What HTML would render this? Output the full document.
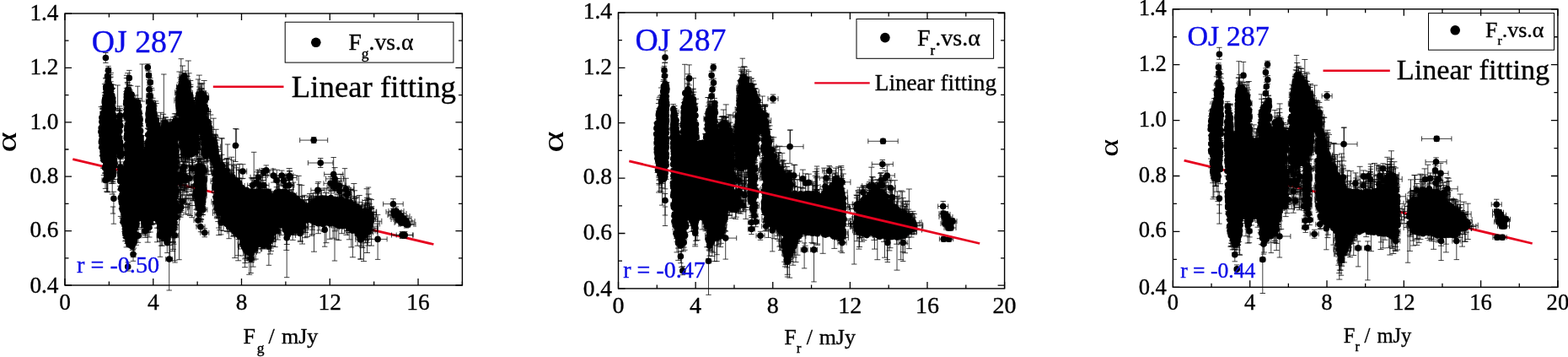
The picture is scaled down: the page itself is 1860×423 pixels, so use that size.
<!DOCTYPE html><html><head><meta charset="utf-8"><title>OJ 287 flux vs spectral index</title><style>html,body{margin:0;padding:0;background:#fff}svg{display:block}text{font-family:"Liberation Serif", "DejaVu Serif", serif;stroke:#000;stroke-width:.35px;paint-order:stroke}</style></head><body>
<svg width="1860" height="423" viewBox="0 0 1860 423">
<rect width="1860" height="423" fill="#fff"/>
<g>
<path d="M86.3 188.6L514.4 289.5" stroke="#e6001e" stroke-width="2.8" fill="none"/>
<path d="M127.5 182.6v44.4m-3.5 0h7m0 -44.4h-7M260.2 187.8v15.1m-3.5 0h7m0 -15.1h-7M345.6 224.6v19.2m-3.5 0h7m0 -19.2h-7M128.8 80.7v35m-3.5 0h7m0 -35h-7M435.4 234.3v39.9m-3.5 0h7m0 -39.9h-7M207.1 235v12m-3.5 0h7m0 -12h-7M154.3 275.8v12.9m-3.5 0h7m0 -12.9h-7M241 155.1v15.7m-3.5 0h7m0 -15.7h-7M437 249.3v16m-3.5 0h7m0 -16h-7M208.5 247.6v18.5m-3.5 0h7m0 -18.5h-7M132.2 117.5v43m-3.5 0h7m0 -43h-7M216.8 152.9v15m-3.5 0h7m0 -15h-7M142.6 201.9v10.3m-3.5 0h7m0 -10.3h-7M436.3 258.4v14.6m-3.5 0h7m0 -14.6h-7M139.4 159.6v12m-3.5 0h7m0 -12h-7M207.9 222.3v11.5m-3.5 0h7m0 -11.5h-7M224.1 86.8v60.2m-3.5 0h7m0 -60.2h-7M234.2 195.1v13.9m-3.5 0h7m0 -13.9h-7M240.8 126.5v13.8m-3.5 0h7m0 -13.8h-7M133.9 185.1v27.6m-3.5 0h7m0 -27.6h-7M237.8 187.4v23.7m-3.5 0h7m0 -23.7h-7M206.1 212v16.5m-3.5 0h7m0 -16.5h-7M221.2 165.4v33.4m-3.5 0h7m0 -33.4h-7M124.2 109.9v19.4m-3.5 0h7m0 -19.4h-7M130.7 91.9v19.1m-3.5 0h7m0 -19.1h-7M340.3 254.2v35.3m-3.5 0h7m0 -35.3h-7M132.2 197.4v11.8m-3.5 0h7m0 -11.8h-7M127.2 192.5v16.3m-3.5 0h7m0 -16.3h-7M161.1 242.5v33.2m-3.5 0h7m0 -33.2h-7M215.3 156v17.6m-3.5 0h7m0 -17.6h-7M153.7 131v26m-3.5 0h7m0 -26h-7M153.4 151.5v40.1m-3.5 0h7m0 -40.1h-7M402.5 224.4v28m-3.5 0h7m0 -28h-7M225.5 110.3v12.7m-3.5 0h7m0 -12.7h-7M164.2 127.5v28.3m-3.5 0h7m0 -28.3h-7M152.5 151.9v9.7m-3.5 0h7m0 -9.7h-7M207.4 189.8v20.7m-3.5 0h7m0 -20.7h-7M206.5 195.7v13.7m-3.5 0h7m0 -13.7h-7M132.8 105.5v14.4m-3.5 0h7m0 -14.4h-7M377.5 253.1v23.6m-3.5 0h7m0 -23.6h-7M439.8 245.5v17.3m-3.5 0h7m0 -17.3h-7M303.2 264.7v42.3m-3.5 0h7m0 -42.3h-7M420.5 225.8v37.3m-3.5 0h7m0 -37.3h-7M263.7 189.4v14m-3.5 0h7m0 -14h-7M165.2 137.4v11.9m-3.5 0h7m0 -11.9h-7M242.1 132.5v38.2m-3.5 0h7m0 -38.2h-7M147.8 259v15.5m-3.5 0h7m0 -15.5h-7M205.5 208.5v37.2m-3.5 0h7m0 -37.2h-7M133 169.9v18.4m-3.5 0h7m0 -18.4h-7M133.2 168.5v61.6m-3.5 0h7m0 -61.6h-7M440.8 244.6v25.1m-3.5 0h7m0 -25.1h-7M262.9 183.3v25.1m-3.5 0h7m0 -25.1h-7M131.4 86.3v36.2m-3.5 0h7m0 -36.2h-7M256.5 184.6v12.6m-3.5 0h7m0 -12.6h-7M134.1 166.4v43.2m-3.5 0h7m0 -43.2h-7M122.1 128v12.3m-3.5 0h7m0 -12.3h-7M124.5 112.8v30.1m-3.5 0h7m0 -30.1h-7M290.6 255.6v61.1m-3.5 0h7m0 -61.1h-7M145 212v17.6m-3.5 0h7m0 -17.6h-7M414.3 256.5v27.3m-3.5 0h7m0 -27.3h-7M282.7 244.4v64.4m-3.5 0h7m0 -64.4h-7M206.5 200.1v43.9m-3.5 0h7m0 -43.9h-7M162.9 148.5v37.9m-3.5 0h7m0 -37.9h-7M162.3 127v13.2m-3.5 0h7m0 -13.2h-7M147.3 220.4v14.3m-3.5 0h7m0 -14.3h-7M237.4 203.6v11.2m-3.5 0h7m0 -11.2h-7M134.9 161v42.5m-3.5 0h7m0 -42.5h-7M260.2 221v32.4m-3.5 0h7m0 -32.4h-7M122 128.8v21m-3.5 0h7m0 -21h-7M225.5 102.5v51.4m-3.5 0h7m0 -51.4h-7M241.6 214.5v31.8m-3.5 0h7m0 -31.8h-7M152.6 105.5v11.1m-3.5 0h7m0 -11.1h-7M162.4 145.1v29m-3.5 0h7m0 -29h-7M165.3 156.9v17.3m-3.5 0h7m0 -17.3h-7M165.2 160v17m-3.5 0h7m0 -17h-7M343.1 199.5v56.6m-3.5 0h7m0 -56.6h-7M150.3 92.5v35.5m-3.5 0h7m0 -35.5h-7M133.1 199.1v16.6m-3.5 0h7m0 -16.6h-7M404.5 229.8v18.2m-3.5 0h7m0 -18.2h-7M146.4 214.3v36.9m-3.5 0h7m0 -36.9h-7M438.8 259.1v16.2m-3.5 0h7m0 -16.2h-7M131.8 119.9v29.5m-3.5 0h7m0 -29.5h-7M142 130.1v15.5m-3.5 0h7m0 -15.5h-7M266.8 197.2v15.7m-3.5 0h7m0 -15.7h-7M124.4 99.6v35.7m-3.5 0h7m0 -35.7h-7M251.5 166.3v13.1m-3.5 0h7m0 -13.1h-7M139.7 154v16.1m-3.5 0h7m0 -16.1h-7M240.7 213.7v17.9m-3.5 0h7m0 -17.9h-7M126.7 188.9v19.5m-3.5 0h7m0 -19.5h-7M171.4 167.3v28.2m-3.5 0h7m0 -28.2h-7M243 118.4v16.4m-3.5 0h7m0 -16.4h-7M209 235.7v16.9m-3.5 0h7m0 -16.9h-7M153.2 165.2v17.9m-3.5 0h7m0 -17.9h-7M207.5 138.3v11.9m-3.5 0h7m0 -11.9h-7M151.3 97.5v20m-3.5 0h7m0 -20h-7M256.9 216.4v12.8m-3.5 0h7m0 -12.8h-7M148.4 254.3v11.3m-3.5 0h7m0 -11.3h-7M259.2 228.5v26.2m-3.5 0h7m0 -26.2h-7M215 94.5v11.4m-3.5 0h7m0 -11.4h-7M145.3 227.5v36m-3.5 0h7m0 -36h-7M295.8 265.3v60m-3.5 0h7m0 -60h-7M157.1 265.6v26.2m-3.5 0h7m0 -26.2h-7M215.7 125.6v16.7m-3.5 0h7m0 -16.7h-7M122.5 125.4v16.9m-3.5 0h7m0 -16.9h-7M125.3 118.4v20.8m-3.5 0h7m0 -20.8h-7M168.1 239.1v37.7m-3.5 0h7m0 -37.7h-7M436 250.3v37m-3.5 0h7m0 -37h-7M178.3 126.4v18.4m-3.5 0h7m0 -18.4h-7M204.8 188.9v53.7m-3.5 0h7m0 -53.7h-7M185.2 122.5v64.9m-3.5 0h7m0 -64.9h-7M123.8 137v17.9m-3.5 0h7m0 -17.9h-7M239.5 112v15.4m-3.5 0h7m0 -15.4h-7M258.9 215.9v31.1m-3.5 0h7m0 -31.1h-7M242.8 150.5v24.8m-3.5 0h7m0 -24.8h-7M124.6 165.3v12.9m-3.5 0h7m0 -12.9h-7M151.7 177.2v19.2m-3.5 0h7m0 -19.2h-7M145.6 241.2v16m-3.5 0h7m0 -16h-7M337.8 258.6v15.2m-3.5 0h7m0 -15.2h-7M207.6 251v11.8m-3.5 0h7m0 -11.8h-7M251.2 153.3v21.8m-3.5 0h7m0 -21.8h-7M215.7 97.2v24.9m-3.5 0h7m0 -24.9h-7M121.8 145.3v15m-3.5 0h7m0 -15h-7M243 138.8v33m-3.5 0h7m0 -33h-7M164.5 152.4v39.1m-3.5 0h7m0 -39.1h-7M173.1 170.9v16.4m-3.5 0h7m0 -16.4h-7M357.8 241.6v36.1m-3.5 0h7m0 -36.1h-7M404.3 232.3v14.2m-3.5 0h7m0 -14.2h-7M174 172.8v13.6m-3.5 0h7m0 -13.6h-7M134 136.8v12.9m-3.5 0h7m0 -12.9h-7M152.8 157.3v30.3m-3.5 0h7m0 -30.3h-7M242.3 168.2v23.8m-3.5 0h7m0 -23.8h-7M306.9 218.2v18.7m-3.5 0h7m0 -18.7h-7M255.1 211.9v21.2m-3.5 0h7m0 -21.2h-7M212.1 107.9v20.7m-3.5 0h7m0 -20.7h-7M128.4 92.9v12m-3.5 0h7m0 -12h-7M120.7 162v12m-3.5 0h7m0 -12h-7M158.6 261.1v13.5m-3.5 0h7m0 -13.5h-7M311.8 279.2v15.3m-3.5 0h7m0 -15.3h-7M362.2 236.7v45m-3.5 0h7m0 -45h-7M253.1 167.5v23m-3.5 0h7m0 -23h-7M438.4 241.8v25.2m-3.5 0h7m0 -25.2h-7M149 177.1v44.7m-3.5 0h7m0 -44.7h-7M301.1 283.5v24.5m-3.5 0h7m0 -24.5h-7M233 213.4v35m-3.5 0h7m0 -35h-7M209.1 161.8v34.3m-3.5 0h7m0 -34.3h-7M321.6 264.1v22.9m-3.5 0h7m0 -22.9h-7M422.1 234.6v26.2m-3.5 0h7m0 -26.2h-7M185.1 144.6v12.3m-3.5 0h7m0 -12.3h-7M243.6 169.4v11.9m-3.5 0h7m0 -11.9h-7M391.1 247.9v35.4m-3.5 0h7m0 -35.4h-7M122.6 143.6v22m-3.5 0h7m0 -22h-7M377.8 229.3v18.6m-3.5 0h7m0 -18.6h-7M152.7 144.7v11.4m-3.5 0h7m0 -11.4h-7M362.1 249.3v20.1m-3.5 0h7m0 -20.1h-7M429.2 243.3v16.5m-3.5 0h7m0 -16.5h-7M429.9 265.2v28.3m-3.5 0h7m0 -28.3h-7M258.7 209.6v16.5m-3.5 0h7m0 -16.5h-7M250.5 151v55.7m-3.5 0h7m0 -55.7h-7M239.2 142.2v28.6m-3.5 0h7m0 -28.6h-7M129.5 105.3v30.5m-3.5 0h7m0 -30.5h-7M413.7 222.6v36.8m-3.5 0h7m0 -36.8h-7M153.5 141.6v22.3m-3.5 0h7m0 -22.3h-7M387 223v31.1m-3.5 0h7m0 -31.1h-7M150.6 128v51.3m-3.5 0h7m0 -51.3h-7M206.1 250.7v38.5m-3.5 0h7m0 -38.5h-7M242.1 95.5v40.1m-3.5 0h7m0 -40.1h-7M240.8 130v15.3m-3.5 0h7m0 -15.3h-7M216.6 78v30.5m-3.5 0h7m0 -30.5h-7M205.4 265v13.9m-3.5 0h7m0 -13.9h-7M132.6 157.9v54.6m-3.5 0h7m0 -54.6h-7M337 217.8v28.9m-3.5 0h7m0 -28.9h-7M239.4 191.7v14.4m-3.5 0h7m0 -14.4h-7M164.4 133.2v18.7m-3.5 0h7m0 -18.7h-7M151.1 160.7v31.2m-3.5 0h7m0 -31.2h-7M151.1 166v35.3m-3.5 0h7m0 -35.3h-7M207.5 195.9v28.3m-3.5 0h7m0 -28.3h-7M421 235.1v23.5m-3.5 0h7m0 -23.5h-7M239.9 98.8v28.5m-3.5 0h7m0 -28.5h-7M212 105.6v27.5m-3.5 0h7m0 -27.5h-7M177.4 114.2v31m-3.5 0h7m0 -31h-7M321.3 259.8v34.2m-3.5 0h7m0 -34.2h-7M243.7 142.9v44m-3.5 0h7m0 -44h-7M150.2 175.1v15.9m-3.5 0h7m0 -15.9h-7M347.2 261.1v23.3m-3.5 0h7m0 -23.3h-7M153.3 274.2v14.1m-3.5 0h7m0 -14.1h-7M186.5 251.7v9.6m-3.5 0h7m0 -9.6h-7M260.8 223.6v49.1m-3.5 0h7m0 -49.1h-7M207.7 231.4v19.2m-3.5 0h7m0 -19.2h-7M149.5 262.1v20.6m-3.5 0h7m0 -20.6h-7M201.1 260v30.6m-3.5 0h7m0 -30.6h-7M258.1 226.6v25.9m-3.5 0h7m0 -25.9h-7M241 204.8v13.7m-3.5 0h7m0 -13.7h-7M141.5 166.5v14.2m-3.5 0h7m0 -14.2h-7M376.5 226.9v24.6m-3.5 0h7m0 -24.6h-7M222.9 104v13.6m-3.5 0h7m0 -13.6h-7M401.8 242.8v41.9m-3.5 0h7m0 -41.9h-7M162.7 251.2v13.7m-3.5 0h7m0 -13.7h-7M131.2 104.3v20m-3.5 0h7m0 -20h-7M126.5 177.2v49.9m-3.5 0h7m0 -49.9h-7M257.3 230.4v28.4m-3.5 0h7m0 -28.4h-7M433.6 240.7v20.3m-3.5 0h7m0 -20.3h-7M150.7 150.6v21.9m-3.5 0h7m0 -21.9h-7M256.8 185.9v17.7m-3.5 0h7m0 -17.7h-7M311 207.2v42.3m-3.5 0h7m0 -42.3h-7M232.5 150.6v16.3m-3.5 0h7m0 -16.3h-7M182.6 129.3v22.2m-3.5 0h7m0 -22.2h-7M236.8 203.9v33.3m-3.5 0h7m0 -33.3h-7M131.7 121.4v19.1m-3.5 0h7m0 -19.1h-7M164.4 118.2v16m-3.5 0h7m0 -16h-7M145 238v20.6m-3.5 0h7m0 -20.6h-7M125.2 163.2v27.5m-3.5 0h7m0 -27.5h-7M193.8 144v19.7m-3.5 0h7m0 -19.7h-7M215.3 93.2v13.6m-3.5 0h7m0 -13.6h-7M282.5 253.8v49m-3.5 0h7m0 -49h-7M231 124.8v14.1m-3.5 0h7m0 -14.1h-7M208.3 232.5v17.6m-3.5 0h7m0 -17.6h-7M234.6 190.9v35.4m-3.5 0h7m0 -35.4h-7M178.2 152.3v28.5m-3.5 0h7m0 -28.5h-7M186.8 137.3v27.9m-3.5 0h7m0 -27.9h-7M350.4 265.9v12.6m-3.5 0h7m0 -12.6h-7M265.1 233.9v39.6m-3.5 0h7m0 -39.6h-7M233 164.4v20.6m-3.5 0h7m0 -20.6h-7M192.6 140.3v32.2m-3.5 0h7m0 -32.2h-7M194.5 143.8v11.6m-3.5 0h7m0 -11.6h-7M150.2 163.8v16.2m-3.5 0h7m0 -16.2h-7M180.1 106.8v40.2m-3.5 0h7m0 -40.2h-7M121.4 153.7v14.3m-3.5 0h7m0 -14.3h-7M201.3 141.7v14.7m-3.5 0h7m0 -14.7h-7M124.5 174.6v25.9m-3.5 0h7m0 -25.9h-7M144.5 205.7v10.4m-3.5 0h7m0 -10.4h-7M125.4 109.6v13.4m-3.5 0h7m0 -13.4h-7M181 116.3v26.4m-3.5 0h7m0 -26.4h-7M140.5 152.9v12m-3.5 0h7m0 -12h-7M142.5 200.6v9.4m-3.5 0h7m0 -9.4h-7M213.2 98v28.7m-3.5 0h7m0 -28.7h-7M133.8 168.2v46.6m-3.5 0h7m0 -46.6h-7M369 231.3v20.6m-3.5 0h7m0 -20.6h-7M233.2 153.9v21.6m-3.5 0h7m0 -21.6h-7M146.4 206.8v10.7m-3.5 0h7m0 -10.7h-7M290.8 268.3v38.6m-3.5 0h7m0 -38.6h-7M161.4 234.5v55.8m-3.5 0h7m0 -55.8h-7M152.8 165.7v27.6m-3.5 0h7m0 -27.6h-7M146.7 209v13.4m-3.5 0h7m0 -13.4h-7M184.6 119.9v46.1m-3.5 0h7m0 -46.1h-7M233 138.5v24m-3.5 0h7m0 -24h-7M178.6 137v27.1m-3.5 0h7m0 -27.1h-7M124.5 170.5v18.4m-3.5 0h7m0 -18.4h-7M164.5 153.9v31.7m-3.5 0h7m0 -31.7h-7M145.3 203.2v11.1m-3.5 0h7m0 -11.1h-7M232.2 124.8v16.5m-3.5 0h7m0 -16.5h-7M158.8 264.7v19.1m-3.5 0h7m0 -19.1h-7M170.5 160.6v40.3m-3.5 0h7m0 -40.3h-7M208.3 156.1v17.8m-3.5 0h7m0 -17.8h-7M154.4 147.8v63.3m-3.5 0h7m0 -63.3h-7M438.9 248.2v24.9m-3.5 0h7m0 -24.9h-7M139.1 153.2v32.1m-3.5 0h7m0 -32.1h-7M257.4 231v26.4m-3.5 0h7m0 -26.4h-7M150.1 266.9v26m-3.5 0h7m0 -26h-7M172.8 252.2v26.9m-3.5 0h7m0 -26.9h-7M303.4 277.8v19.8m-3.5 0h7m0 -19.8h-7M440.5 247.5v24.8m-3.5 0h7m0 -24.8h-7M166 134.7v13.9m-3.5 0h7m0 -13.9h-7M213.3 135.2v16.8m-3.5 0h7m0 -16.8h-7M149.5 126.9v16.1m-3.5 0h7m0 -16.1h-7M165.8 149.7v34.9m-3.5 0h7m0 -34.9h-7M213.8 117.1v15.4m-3.5 0h7m0 -15.4h-7M151.4 127.5v53.7m-3.5 0h7m0 -53.7h-7M241.2 114v22.6m-3.5 0h7m0 -22.6h-7M227.3 118.7v22.1m-3.5 0h7m0 -22.1h-7M214 143.3v31m-3.5 0h7m0 -31h-7M147.9 253.3v18m-3.5 0h7m0 -18h-7M209 208.5v32.7m-3.5 0h7m0 -32.7h-7M120.6 143.9v28.7m-3.5 0h7m0 -28.7h-7M239.8 206.4v10.4m-3.5 0h7m0 -10.4h-7M437.2 230v43.5m-3.5 0h7m0 -43.5h-7M130.2 109.8v15.3m-3.5 0h7m0 -15.3h-7M311.3 206.3v45.5m-3.5 0h7m0 -45.5h-7M328.2 221.7v18.2m-3.5 0h7m0 -18.2h-7M205.8 191v30.1m-3.5 0h7m0 -30.1h-7M184.7 142.8v11.5m-3.5 0h7m0 -11.5h-7M209.1 198.8v16.5m-3.5 0h7m0 -16.5h-7M218.2 146.1v33.9m-3.5 0h7m0 -33.9h-7M418.4 242.8v62m-3.5 0h7m0 -62h-7M134.9 173.8v16.4m-3.5 0h7m0 -16.4h-7M242.4 134.7v12.7m-3.5 0h7m0 -12.7h-7M211.6 109.4v14.5m-3.5 0h7m0 -14.5h-7M239 104.9v10.6m-3.5 0h7m0 -10.6h-7M241 191.3v16.8m-3.5 0h7m0 -16.8h-7M216.1 90.4v12.9m-3.5 0h7m0 -12.9h-7M154.4 158.7v24.4m-3.5 0h7m0 -24.4h-7M121.9 129.1v55.4m-3.5 0h7m0 -55.4h-7M202.3 258.9v22.9m-3.5 0h7m0 -22.9h-7M217.1 86.4v12.5m-3.5 0h7m0 -12.5h-7M162 119.6v22.5m-3.5 0h7m0 -22.5h-7M132.4 165.7v35.7m-3.5 0h7m0 -35.7h-7M243.4 162.7v11.7m-3.5 0h7m0 -11.7h-7M152.6 266.4v24.8m-3.5 0h7m0 -24.8h-7M154.2 126v37.2m-3.5 0h7m0 -37.2h-7M120.4 161.2v12.8m-3.5 0h7m0 -12.8h-7M229.9 121.9v18.4m-3.5 0h7m0 -18.4h-7M137.2 155.5v42.9m-3.5 0h7m0 -42.9h-7M366.8 236.4v16.3m-3.5 0h7m0 -16.3h-7M236.9 216.2v10.8m-3.5 0h7m0 -10.8h-7M151.2 131v14.3m-3.5 0h7m0 -14.3h-7M134.7 129.5v18.6m-3.5 0h7m0 -18.6h-7M440.5 236.6v54.5m-3.5 0h7m0 -54.5h-7M258.8 236.7v25.8m-3.5 0h7m0 -25.8h-7M339.8 249.8v46.6m-3.5 0h7m0 -46.6h-7M298.9 219.8v15.4m-3.5 0h7m0 -15.4h-7M399.2 246.1v37.7m-3.5 0h7m0 -37.7h-7M151.1 156v16.5m-3.5 0h7m0 -16.5h-7M177 255.1v25.9m-3.5 0h7m0 -25.9h-7M205.5 186.2v13.2m-3.5 0h7m0 -13.2h-7M152.4 273v15.5m-3.5 0h7m0 -15.5h-7M245.9 172.5v18.1m-3.5 0h7m0 -18.1h-7M207.3 134.8v26.9m-3.5 0h7m0 -26.9h-7M244.1 167.3v20.4m-3.5 0h7m0 -20.4h-7M255.6 202.6v36.3m-3.5 0h7m0 -36.3h-7M136.7 170v12.4m-3.5 0h7m0 -12.4h-7M202.2 264.5v13.1m-3.5 0h7m0 -13.1h-7M183.2 126v17.6m-3.5 0h7m0 -17.6h-7M152.1 110.3v9.4m-3.5 0h7m0 -9.4h-7M238.4 175.8v51.9m-3.5 0h7m0 -51.9h-7M122.4 143.7v10.6m-3.5 0h7m0 -10.6h-7M257.7 212.5v24.3m-3.5 0h7m0 -24.3h-7M158.3 267.3v37.4m-3.5 0h7m0 -37.4h-7M206.3 179v21.2m-3.5 0h7m0 -21.2h-7M165.1 160.6v15.2m-3.5 0h7m0 -15.2h-7M208.8 249.5v17m-3.5 0h7m0 -17h-7M141.3 152.2v28.7m-3.5 0h7m0 -28.7h-7M407.4 219.6v42.9m-3.5 0h7m0 -42.9h-7M249.8 136v66.8m-3.5 0h7m0 -66.8h-7M207.3 226.9v54.8m-3.5 0h7m0 -54.8h-7M178.5 136.1v14.3m-3.5 0h7m0 -14.3h-7M437.5 247.7v21.4m-3.5 0h7m0 -21.4h-7M236 203.9v16.1m-3.5 0h7m0 -16.1h-7M151.2 152.6v15.7m-3.5 0h7m0 -15.7h-7M177.4 161v15.8m-3.5 0h7m0 -15.8h-7M238.6 207.5v18.6m-3.5 0h7m0 -18.6h-7M419.9 217.5v46.1m-3.5 0h7m0 -46.1h-7M152.8 135.2v25.9m-3.5 0h7m0 -25.9h-7M191.2 254.9v36.2m-3.5 0h7m0 -36.2h-7M205.5 197.4v13.8m-3.5 0h7m0 -13.8h-7M244.8 157.1v34.8m-3.5 0h7m0 -34.8h-7M242 128.3v19.9m-3.5 0h7m0 -19.9h-7M238 98.7v29.6m-3.5 0h7m0 -29.6h-7M268.7 192.8v25.9m-3.5 0h7m0 -25.9h-7M154.6 159.7v10.4m-3.5 0h7m0 -10.4h-7M142.7 200.8v23.5m-3.5 0h7m0 -23.5h-7M151.7 121.1v20.1m-3.5 0h7m0 -20.1h-7M253.6 173.6v28.2m-3.5 0h7m0 -28.2h-7M371.4 229.2v22m-3.5 0h7m0 -22h-7M254.4 167.8v23.8m-3.5 0h7m0 -23.8h-7M158.7 270.9v23.2m-3.5 0h7m0 -23.2h-7M180.8 118.9v17.9m-3.5 0h7m0 -17.9h-7M242.8 152.6v36.2m-3.5 0h7m0 -36.2h-7M433.5 237.5v26.5m-3.5 0h7m0 -26.5h-7M250.6 169v21.3m-3.5 0h7m0 -21.3h-7M212.5 126.1v37.3m-3.5 0h7m0 -37.3h-7M239 105.4v18.8m-3.5 0h7m0 -18.8h-7M323.7 260.9v24.6m-3.5 0h7m0 -24.6h-7M386.4 228.6v11.9m-3.5 0h7m0 -11.9h-7M260.1 231.8v14.5m-3.5 0h7m0 -14.5h-7M153.2 100.7v30m-3.5 0h7m0 -30h-7M320.4 258.4v42.6m-3.5 0h7m0 -42.6h-7M221.3 97.5v19.3m-3.5 0h7m0 -19.3h-7M207.2 225v16.7m-3.5 0h7m0 -16.7h-7M207.5 155.3v27.2m-3.5 0h7m0 -27.2h-7M236.6 188.5v22m-3.5 0h7m0 -22h-7M193.6 135.3v34.8m-3.5 0h7m0 -34.8h-7M150.8 149.7v16.9m-3.5 0h7m0 -16.9h-7M152.1 150.7v13.2m-3.5 0h7m0 -13.2h-7M153.8 114.7v12m-3.5 0h7m0 -12h-7M210.7 155.3v11.9m-3.5 0h7m0 -11.9h-7M369.7 239.3v39.9m-3.5 0h7m0 -39.9h-7M256.5 185.9v50.5m-3.5 0h7m0 -50.5h-7M133.9 115.4v11m-3.5 0h7m0 -11h-7M240.7 230.3v15.9m-3.5 0h7m0 -15.9h-7M387 232.8v54.9m-3.5 0h7m0 -54.9h-7M257.7 213.2v20.7m-3.5 0h7m0 -20.7h-7M180 247.6v18.3m-3.5 0h7m0 -18.3h-7M120.4 160.8v14.6m-3.5 0h7m0 -14.6h-7M287 270v24.9m-3.5 0h7m0 -24.9h-7M306.3 220.6v12.9m-3.5 0h7m0 -12.9h-7M147.3 232.6v16.3m-3.5 0h7m0 -16.3h-7M182 123.3v11.9m-3.5 0h7m0 -11.9h-7M177.2 134.9v17.5m-3.5 0h7m0 -17.5h-7M262.5 241.5v22.1m-3.5 0h7m0 -22.1h-7M132.2 184.9v17.1m-3.5 0h7m0 -17.1h-7M341.1 217.6v24.1m-3.5 0h7m0 -24.1h-7M166.1 157.5v18.5m-3.5 0h7m0 -18.5h-7M301.2 211v42.6m-3.5 0h7m0 -42.6h-7M192.6 256.8v34.3m-3.5 0h7m0 -34.3h-7M242.3 129.3v45.4m-3.5 0h7m0 -45.4h-7M152.9 147.5v37.8m-3.5 0h7m0 -37.8h-7M245 159.2v28m-3.5 0h7m0 -28h-7M151 122.4v19.7m-3.5 0h7m0 -19.7h-7M136.8 128.5v39.6m-3.5 0h7m0 -39.6h-7M237.4 204.1v17.4m-3.5 0h7m0 -17.4h-7M257.3 166.1v48.1m-3.5 0h7m0 -48.1h-7M257.1 190.8v34.2m-3.5 0h7m0 -34.2h-7M122 167.1v23.2m-3.5 0h7m0 -23.2h-7M162.9 126.5v46.5m-3.5 0h7m0 -46.5h-7M126.6 186.6v22.4m-3.5 0h7m0 -22.4h-7M283.3 265.1v18.4m-3.5 0h7m0 -18.4h-7M208.7 134.8v19.9m-3.5 0h7m0 -19.9h-7M235.2 121.4v9.4m-3.5 0h7m0 -9.4h-7M259.2 179.5v58.6m-3.5 0h7m0 -58.6h-7M151.2 174.2v13.4m-3.5 0h7m0 -13.4h-7M178.5 157.5v23.4m-3.5 0h7m0 -23.4h-7M314.5 282.4v12.6m-3.5 0h7m0 -12.6h-7M222.9 174.8v13.9m-3.5 0h7m0 -13.9h-7M199.1 270.2v17.4m-3.5 0h7m0 -17.4h-7M288.7 264.7v38.3m-3.5 0h7m0 -38.3h-7M150.3 155v15.1m-3.5 0h7m0 -15.1h-7M147.7 246.9v16.8m-3.5 0h7m0 -16.8h-7M150.4 89.3v51.5m-3.5 0h7m0 -51.5h-7M291.3 275.7v30.1m-3.5 0h7m0 -30.1h-7M290.7 278.4v13.6m-3.5 0h7m0 -13.6h-7M439 235.8v35.5m-3.5 0h7m0 -35.5h-7M153.2 157.8v22.5m-3.5 0h7m0 -22.5h-7M164 164.8v17.6m-3.5 0h7m0 -17.6h-7M165.1 126.8v15.5m-3.5 0h7m0 -15.5h-7M150.9 260v28.4m-3.5 0h7m0 -28.4h-7M415.8 224.7v33.2m-3.5 0h7m0 -33.2h-7M145.2 224.2v11.6m-3.5 0h7m0 -11.6h-7M146.6 240.7v18.8m-3.5 0h7m0 -18.8h-7M206.5 231.9v39.8m-3.5 0h7m0 -39.8h-7M241.4 210.8v13.1m-3.5 0h7m0 -13.1h-7M392.5 214.9v40.5m-3.5 0h7m0 -40.5h-7M123 179.6v19.6m-3.5 0h7m0 -19.6h-7M161.9 255.2v23.2m-3.5 0h7m0 -23.2h-7M309.5 208.2v36.6m-3.5 0h7m0 -36.6h-7M177.9 124.6v12.3m-3.5 0h7m0 -12.3h-7M246.9 132v35.2m-3.5 0h7m0 -35.2h-7M255.9 194.5v38.3m-3.5 0h7m0 -38.3h-7M211.8 136.1v15.8m-3.5 0h7m0 -15.8h-7M212.1 107.4v16m-3.5 0h7m0 -16h-7M319.5 272.5v13m-3.5 0h7m0 -13h-7M258 186.7v47m-3.5 0h7m0 -47h-7M160.9 112.9v17.4m-3.5 0h7m0 -17.4h-7M212 104.6v13.6m-3.5 0h7m0 -13.6h-7M363.3 237v16.9m-3.5 0h7m0 -16.9h-7M283.4 201.3v31.1m-3.5 0h7m0 -31.1h-7M244.2 149.6v30.5m-3.5 0h7m0 -30.5h-7M238.7 222.3v37.6m-3.5 0h7m0 -37.6h-7M126 153.9v61.8m-3.5 0h7m0 -61.8h-7M340.5 261.7v21.2m-3.5 0h7m0 -21.2h-7M274.1 202.5v15.5m-3.5 0h7m0 -15.5h-7M166.3 157.6v16.1m-3.5 0h7m0 -16.1h-7M405.5 252.5v24.2m-3.5 0h7m0 -24.2h-7M141.3 131.5v31.4m-3.5 0h7m0 -31.4h-7M151 131v12.2m-3.5 0h7m0 -12.2h-7M123.6 158.8v11.4m-3.5 0h7m0 -11.4h-7M436.5 252.1v28.2m-3.5 0h7m0 -28.2h-7M220.2 84v23.9m-3.5 0h7m0 -23.9h-7M132.3 108.6v18.7m-3.5 0h7m0 -18.7h-7M166 169.4v14.9m-3.5 0h7m0 -14.9h-7M236.6 233.4v13.3m-3.5 0h7m0 -13.3h-7M179.5 160.4v19.5m-3.5 0h7m0 -19.5h-7M179.3 157.9v16.4m-3.5 0h7m0 -16.4h-7M275.9 195v27.4m-3.5 0h7m0 -27.4h-7M436.1 240.3v19.7m-3.5 0h7m0 -19.7h-7M247.3 132.3v28.4m-3.5 0h7m0 -28.4h-7M171 257.1v12.2m-3.5 0h7m0 -12.2h-7M436.4 255.4v15.3m-3.5 0h7m0 -15.3h-7M144.1 231.1v16m-3.5 0h7m0 -16h-7M335.9 219.9v17.8m-3.5 0h7m0 -17.8h-7M132 188.1v19.7m-3.5 0h7m0 -19.7h-7M141.9 131.2v11.6m-3.5 0h7m0 -11.6h-7M130.5 127.6v18.2m-3.5 0h7m0 -18.2h-7M271.2 188.5v44.3m-3.5 0h7m0 -44.3h-7M205.6 171.8v13.6m-3.5 0h7m0 -13.6h-7M238.6 100v22.8m-3.5 0h7m0 -22.8h-7M141.7 168.4v17.7m-3.5 0h7m0 -17.7h-7M157.3 267.1v29.3m-3.5 0h7m0 -29.3h-7M440.4 246.8v25.4m-3.5 0h7m0 -25.4h-7M253.8 171.2v24m-3.5 0h7m0 -24h-7M237.4 118.8v16.2m-3.5 0h7m0 -16.2h-7M217.4 88.5v13m-3.5 0h7m0 -13h-7M236.3 103v16.3m-3.5 0h7m0 -16.3h-7M276.6 262.3v17.8m-3.5 0h7m0 -17.8h-7M134.3 122.6v12.3m-3.5 0h7m0 -12.3h-7M436.3 261.2v29.8m-3.5 0h7m0 -29.8h-7M132.6 117.9v12.1m-3.5 0h7m0 -12.1h-7M166.9 160.8v17.4m-3.5 0h7m0 -17.4h-7M237 136.9v22.7m-3.5 0h7m0 -22.7h-7M238.1 230.4v12.1m-3.5 0h7m0 -12.1h-7M142.5 128.4v15.1m-3.5 0h7m0 -15.1h-7M377.3 233.1v12.1m-3.5 0h7m0 -12.1h-7M231.6 126v12.3m-3.5 0h7m0 -12.3h-7M213.8 92v24.2m-3.5 0h7m0 -24.2h-7M313.4 222.5v13.9m-3.5 0h7m0 -13.9h-7M204.8 210.2v11.1m-3.5 0h7m0 -11.1h-7M223.3 72v56.1m-3.5 0h7m0 -56.1h-7M205.3 253.3v33.2m-3.5 0h7m0 -33.2h-7M256.6 162.9v61.4m-3.5 0h7m0 -61.4h-7M151.2 115.8v44m-3.5 0h7m0 -44h-7M240.2 195.5v15.3m-3.5 0h7m0 -15.3h-7M154.3 107v13m-3.5 0h7m0 -13h-7M253.3 178v25.2m-3.5 0h7m0 -25.2h-7M184.8 242v23.5m-3.5 0h7m0 -23.5h-7M152.2 169.8v31.8m-3.5 0h7m0 -31.8h-7M247.6 143.5v14.3m-3.5 0h7m0 -14.3h-7M208.1 222.7v15.8m-3.5 0h7m0 -15.8h-7M164 144.4v31.8m-3.5 0h7m0 -31.8h-7M397.2 253.8v20m-3.5 0h7m0 -20h-7M126.1 108.4v27.5m-3.5 0h7m0 -27.5h-7M212.6 137.5v17.7m-3.5 0h7m0 -17.7h-7M207 255.2v17.2m-3.5 0h7m0 -17.2h-7M141.8 125.9v37.7m-3.5 0h7m0 -37.7h-7M166.9 150v57.6m-3.5 0h7m0 -57.6h-7M123.1 141.9v19.9m-3.5 0h7m0 -19.9h-7M426.2 231.5v31.2m-3.5 0h7m0 -31.2h-7M246.5 134.4v18.5m-3.5 0h7m0 -18.5h-7M140.6 134.8v28.4m-3.5 0h7m0 -28.4h-7M160.7 272.4v10.8m-3.5 0h7m0 -10.8h-7M281.3 262.9v16.1m-3.5 0h7m0 -16.1h-7M122.8 143.8v21.5m-3.5 0h7m0 -21.5h-7M437 235.2v36m-3.5 0h7m0 -36h-7M222.8 101.5v14.2m-3.5 0h7m0 -14.2h-7M405 231.5v11.3m-3.5 0h7m0 -11.3h-7M151.1 152.4v11.1m-3.5 0h7m0 -11.1h-7M134.1 172.1v17.9m-3.5 0h7m0 -17.9h-7M131.5 100.7v30.3m-3.5 0h7m0 -30.3h-7M232.1 143.5v22.1m-3.5 0h7m0 -22.1h-7M234.6 191.4v57.7m-3.5 0h7m0 -57.7h-7M269.2 187.6v31.7m-3.5 0h7m0 -31.7h-7M177.4 141.3v11.9m-3.5 0h7m0 -11.9h-7M181.7 121.3v44.1m-3.5 0h7m0 -44.1h-7M234.5 161.7v24.2m-3.5 0h7m0 -24.2h-7M165.6 137.5v17.1m-3.5 0h7m0 -17.1h-7M280.3 198.8v37.4m-3.5 0h7m0 -37.4h-7M227.6 170.8v25.3m-3.5 0h7m0 -25.3h-7M284.2 194.3v45.3m-3.5 0h7m0 -45.3h-7M235.7 117.9v28.9m-3.5 0h7m0 -28.9h-7M280.5 194.9v40.2m-3.5 0h7m0 -40.2h-7M258.3 177.8v39.6m-3.5 0h7m0 -39.6h-7M196.7 139.1v18.2m-3.5 0h7m0 -18.2h-7M273.9 200.9v24m-3.5 0h7m0 -24h-7M424.1 264.5v26.7m-3.5 0h7m0 -26.7h-7M326.2 251.6v41m-3.5 0h7m0 -41h-7M162.8 246.5v18.7m-3.5 0h7m0 -18.7h-7M208.4 179.7v12.8m-3.5 0h7m0 -12.8h-7M372.5 232.9v65.3m-3.5 0h7m0 -65.3h-7M354.2 208.4v60.7m-3.5 0h7m0 -60.7h-7M380.6 223.1v24.4m-3.5 0h7m0 -24.4h-7M194.3 146.1v14.5m-3.5 0h7m0 -14.5h-7M179 127.9v16.7m-3.5 0h7m0 -16.7h-7M234.6 235.5v11.5m-3.5 0h7m0 -11.5h-7M172 252.3v25.5m-3.5 0h7m0 -25.5h-7M212.7 116.5v15m-3.5 0h7m0 -15h-7M121.8 140.8v23.3m-3.5 0h7m0 -23.3h-7M130.3 100.5v33m-3.5 0h7m0 -33h-7M412.5 234.2v13.8m-3.5 0h7m0 -13.8h-7M166.4 146.4v30.3m-3.5 0h7m0 -30.3h-7M164.3 147.6v15.4m-3.5 0h7m0 -15.4h-7M214.4 154.4v18.9m-3.5 0h7m0 -18.9h-7M179 121.9v17.8m-3.5 0h7m0 -17.8h-7M242.6 155.7v13.7m-3.5 0h7m0 -13.7h-7M222.2 90.4v27.3m-3.5 0h7m0 -27.3h-7M131.9 105.3v29.5m-3.5 0h7m0 -29.5h-7M147.7 247.3v19.7m-3.5 0h7m0 -19.7h-7M237.1 220.4v24.3m-3.5 0h7m0 -24.3h-7M179.3 135.9v15m-3.5 0h7m0 -15h-7M188.1 254.6v15.5m-3.5 0h7m0 -15.5h-7M238.5 227.1v17.6m-3.5 0h7m0 -17.6h-7M375 232.3v13.2m-3.5 0h7m0 -13.2h-7M235.8 131.2v30.5m-3.5 0h7m0 -30.5h-7M370.6 244.8v33m-3.5 0h7m0 -33h-7M180.1 134.1v16.4m-3.5 0h7m0 -16.4h-7M134.5 190.3v13.4m-3.5 0h7m0 -13.4h-7M122.3 143.3v32.2m-3.5 0h7m0 -32.2h-7M208 154.6v13.5m-3.5 0h7m0 -13.5h-7M204.5 245.5v20m-3.5 0h7m0 -20h-7M212.7 102v28m-3.5 0h7m0 -28h-7M257.6 199.8v18.1m-3.5 0h7m0 -18.1h-7M157.2 278v14.3m-3.5 0h7m0 -14.3h-7M141.9 136.1v39m-3.5 0h7m0 -39h-7M149.9 130.4v17.8m-3.5 0h7m0 -17.8h-7M330.6 217.1v20.5m-3.5 0h7m0 -20.5h-7M178.2 115.5v16.2m-3.5 0h7m0 -16.2h-7M416.2 224.1v35.6m-3.5 0h7m0 -35.6h-7M205 212.2v52.7m-3.5 0h7m0 -52.7h-7M143.4 195.6v14.1m-3.5 0h7m0 -14.1h-7M236.3 89.1v53m-3.5 0h7m0 -53h-7M153.5 118.8v20.9m-3.5 0h7m0 -20.9h-7M229.8 144.6v16.1m-3.5 0h7m0 -16.1h-7M181.2 133.9v18.4m-3.5 0h7m0 -18.4h-7M176.9 120v16.1m-3.5 0h7m0 -16.1h-7M257.9 236.7v19.6m-3.5 0h7m0 -19.6h-7M255.2 165.4v31.4m-3.5 0h7m0 -31.4h-7M328.1 215.1v26.2m-3.5 0h7m0 -26.2h-7M134.2 124.5v22.7m-3.5 0h7m0 -22.7h-7M433.3 258.5v29.4m-3.5 0h7m0 -29.4h-7M146.1 196.7v15.4m-3.5 0h7m0 -15.4h-7M213.2 153.2v19.6m-3.5 0h7m0 -19.6h-7M147.4 235.2v17.7m-3.5 0h7m0 -17.7h-7M134 100.3v54m-3.5 0h7m0 -54h-7M219.2 157v28.2m-3.5 0h7m0 -28.2h-7M154.2 151.6v15.4m-3.5 0h7m0 -15.4h-7M140.2 156.8v11.1m-3.5 0h7m0 -11.1h-7M150.7 174.5v12.1m-3.5 0h7m0 -12.1h-7M162.8 155.9v15.1m-3.5 0h7m0 -15.1h-7M242.6 151.3v33.7m-3.5 0h7m0 -33.7h-7M213.3 128.8v11.6m-3.5 0h7m0 -11.6h-7M177.3 255.9v14.6m-3.5 0h7m0 -14.6h-7M433.3 260.9v23.4m-3.5 0h7m0 -23.4h-7M205.3 161.5v24.2m-3.5 0h7m0 -24.2h-7M379.1 253.7v19.1m-3.5 0h7m0 -19.1h-7M205.5 219v20.4m-3.5 0h7m0 -20.4h-7M237 208.8v17.9m-3.5 0h7m0 -17.9h-7M148.7 266.7v19m-3.5 0h7m0 -19h-7M255.6 178.7v68.1m-3.5 0h7m0 -68.1h-7M150.9 107.2v11.6m-3.5 0h7m0 -11.6h-7M186.2 139.1v16.1m-3.5 0h7m0 -16.1h-7M241.1 138.2v27.6m-3.5 0h7m0 -27.6h-7M232.8 201.8v34.3m-3.5 0h7m0 -34.3h-7M239.2 113.8v17.3m-3.5 0h7m0 -17.3h-7M438.7 253.8v29.4m-3.5 0h7m0 -29.4h-7M410.9 252.1v26.2m-3.5 0h7m0 -26.2h-7M236.3 168.3v56.4m-3.5 0h7m0 -56.4h-7M209.1 201.7v11.8m-3.5 0h7m0 -11.8h-7M236 217.7v14.3m-3.5 0h7m0 -14.3h-7M157.8 253v22.8m-3.5 0h7m0 -22.8h-7M367.6 229.5v32.8m-3.5 0h7m0 -32.8h-7M204.8 208.4v51.3m-3.5 0h7m0 -51.3h-7M241.1 109.2v27m-3.5 0h7m0 -27h-7M227.9 116.5v14.2m-3.5 0h7m0 -14.2h-7M358.8 232.4v18.4m-3.5 0h7m0 -18.4h-7M432.2 242.4v15.1m-3.5 0h7m0 -15.1h-7M216.8 134v12.2m-3.5 0h7m0 -12.2h-7M288.1 273.1v15.3m-3.5 0h7m0 -15.3h-7M254.9 159.2v69.5m-3.5 0h7m0 -69.5h-7M149.1 267.8v13.9m-3.5 0h7m0 -13.9h-7M261.2 240.9v12.2m-3.5 0h7m0 -12.2h-7M160.4 260.5v10.8m-3.5 0h7m0 -10.8h-7M218.5 161.6v23.4m-3.5 0h7m0 -23.4h-7M253.2 177.7v20.5m-3.5 0h7m0 -20.5h-7M298.2 291.2v19.2m-3.5 0h7m0 -19.2h-7M408.8 230.6v21.5m-3.5 0h7m0 -21.5h-7M121.4 132.3v17.4m-3.5 0h7m0 -17.4h-7M305.5 281.5v18.1m-3.5 0h7m0 -18.1h-7M435.1 223.7v60.5m-3.5 0h7m0 -60.5h-7M177.8 163.5v20.6m-3.5 0h7m0 -20.6h-7M323.6 262.3v29.2m-3.5 0h7m0 -29.2h-7M121.7 147.4v19.8m-3.5 0h7m0 -19.8h-7M331.3 218.7v23.1m-3.5 0h7m0 -23.1h-7M371 234v20.1m-3.5 0h7m0 -20.1h-7M179.6 146.2v27.6m-3.5 0h7m0 -27.6h-7M238.7 189.4v17.3m-3.5 0h7m0 -17.3h-7M126.7 113.4v15.3m-3.5 0h7m0 -15.3h-7M162.5 143.7v12.9m-3.5 0h7m0 -12.9h-7M212.9 113.9v29.2m-3.5 0h7m0 -29.2h-7M275.1 204.4v20.1m-3.5 0h7m0 -20.1h-7M205.9 255.8v15.4m-3.5 0h7m0 -15.4h-7M368.7 235.6v16.8m-3.5 0h7m0 -16.8h-7M151.4 99v22.9m-3.5 0h7m0 -22.9h-7M274.6 186.2v54.5m-3.5 0h7m0 -54.5h-7M243.3 164.1v21.1m-3.5 0h7m0 -21.1h-7M248.5 144.2v30.5m-3.5 0h7m0 -30.5h-7M234 219.3v28m-3.5 0h7m0 -28h-7M207.5 196.7v23.7m-3.5 0h7m0 -23.7h-7M269.4 254.6v19.8m-3.5 0h7m0 -19.8h-7M149.8 253.3v18.2m-3.5 0h7m0 -18.2h-7M122.5 169v30.1m-3.5 0h7m0 -30.1h-7M186.5 231.5v55.3m-3.5 0h7m0 -55.3h-7M212.6 101.1v51.2m-3.5 0h7m0 -51.2h-7M297.8 283.3v27.6m-3.5 0h7m0 -27.6h-7M226 102.7v27.9m-3.5 0h7m0 -27.9h-7M132.9 123.6v11.5m-3.5 0h7m0 -11.5h-7M191.6 257.5v9.5m-3.5 0h7m0 -9.5h-7M241.9 193.6v19.2m-3.5 0h7m0 -19.2h-7M229.2 115.8v23.4m-3.5 0h7m0 -23.4h-7M237.7 107v17.8m-3.5 0h7m0 -17.8h-7M321.5 265.1v32.3m-3.5 0h7m0 -32.3h-7M236.6 106.1v29m-3.5 0h7m0 -29h-7M377.7 215.6v41m-3.5 0h7m0 -41h-7M243.4 157.4v16.3m-3.5 0h7m0 -16.3h-7M128.8 98.8v11.1m-3.5 0h7m0 -11.1h-7M225.9 100.2v27m-3.5 0h7m0 -27h-7M152.3 167.6v16m-3.5 0h7m0 -16h-7M135.5 160.2v52.2m-3.5 0h7m0 -52.2h-7M154.4 138.3v22.1m-3.5 0h7m0 -22.1h-7M381.6 225.1v21.2m-3.5 0h7m0 -21.2h-7M229.8 122.9v13.9m-3.5 0h7m0 -13.9h-7M254.3 163v23.4m-3.5 0h7m0 -23.4h-7M292.8 272.4v36.4m-3.5 0h7m0 -36.4h-7M374.8 228.6v25m-3.5 0h7m0 -25h-7M264 192.9v19.4m-3.5 0h7m0 -19.4h-7M207.9 175.5v26.8m-3.5 0h7m0 -26.8h-7M124.7 191.4v14.3m-3.5 0h7m0 -14.3h-7M305.2 219.8v18.8m-3.5 0h7m0 -18.8h-7M183 124.9v18m-3.5 0h7m0 -18h-7M286.9 211.7v32m-3.5 0h7m0 -32h-7M256 193.4v26m-3.5 0h7m0 -26h-7M125.5 117.2v11.2m-3.5 0h7m0 -11.2h-7M357.8 219.6v37.8m-3.5 0h7m0 -37.8h-7M404.6 206.4v55m-3.5 0h7m0 -55h-7M154.5 148.1v19.4m-3.5 0h7m0 -19.4h-7M356.3 255.5v30.9m-3.5 0h7m0 -30.9h-7M206 184.8v29.2m-3.5 0h7m0 -29.2h-7M249.6 155.3v20.6m-3.5 0h7m0 -20.6h-7M255.9 161.8v50.2m-3.5 0h7m0 -50.2h-7M191.5 257v20.4m-3.5 0h7m0 -20.4h-7M258.9 201.3v34.1m-3.5 0h7m0 -34.1h-7M153.5 136.1v10.9m-3.5 0h7m0 -10.9h-7M143.3 209.4v47m-3.5 0h7m0 -47h-7M204.8 248.6v49m-3.5 0h7m0 -49h-7M172 257.4v18.8m-3.5 0h7m0 -18.8h-7M207.8 205.2v12.2m-3.5 0h7m0 -12.2h-7M256.4 176.6v36.8m-3.5 0h7m0 -36.8h-7M237.8 209.4v36.4m-3.5 0h7m0 -36.4h-7M298.8 217.7v28.6m-3.5 0h7m0 -28.6h-7M347.8 216.1v29.9m-3.5 0h7m0 -29.9h-7M157.8 270.6v19.1m-3.5 0h7m0 -19.1h-7M207.9 184.3v11.9m-3.5 0h7m0 -11.9h-7M142.4 176.2v18.1m-3.5 0h7m0 -18.1h-7M134.2 198.8v18.4m-3.5 0h7m0 -18.4h-7M355.6 259.3v16.8m-3.5 0h7m0 -16.8h-7M256.1 153.3v61.8m-3.5 0h7m0 -61.8h-7M205 210.6v10m-3.5 0h7m0 -10h-7M358.5 233.4v55.6m-3.5 0h7m0 -55.6h-7M240.4 205.8v12.5m-3.5 0h7m0 -12.5h-7M253.8 159.3v55.4m-3.5 0h7m0 -55.4h-7M178 140.9v31.7m-3.5 0h7m0 -31.7h-7M417.3 234.7v17.2m-3.5 0h7m0 -17.2h-7M235 188v18.6m-3.5 0h7m0 -18.6h-7M324.4 262.1v24.3m-3.5 0h7m0 -24.3h-7M123.9 141.2v16.3m-3.5 0h7m0 -16.3h-7M229.7 146.5v14.1m-3.5 0h7m0 -14.1h-7M175.7 257.4v18m-3.5 0h7m0 -18h-7M237.9 202.1v22.4m-3.5 0h7m0 -22.4h-7M179.8 104.5v45.6m-3.5 0h7m0 -45.6h-7M205.9 224.1v31.8m-3.5 0h7m0 -31.8h-7M225.6 109.8v32.2m-3.5 0h7m0 -32.2h-7M239.7 225.9v28.4m-3.5 0h7m0 -28.4h-7M216 148.9v26.3m-3.5 0h7m0 -26.3h-7M422.6 233.2v24.4m-3.5 0h7m0 -24.4h-7M134.7 138.2v23.2m-3.5 0h7m0 -23.2h-7M205.8 203.2v13.6m-3.5 0h7m0 -13.6h-7M347.5 207.3v53.3m-3.5 0h7m0 -53.3h-7M206.1 222.8v13.2m-3.5 0h7m0 -13.2h-7M244.3 166.6v12.9m-3.5 0h7m0 -12.9h-7M158.5 249.8v34m-3.5 0h7m0 -34h-7M235.7 189.5v35.4m-3.5 0h7m0 -35.4h-7M206.2 222.4v15.1m-3.5 0h7m0 -15.1h-7M242 203.4v22.8m-3.5 0h7m0 -22.8h-7M234.9 202.3v10.2m-3.5 0h7m0 -10.2h-7M309.3 219.9v13.3m-3.5 0h7m0 -13.3h-7M414.2 257.9v17.8m-3.5 0h7m0 -17.8h-7M153.4 143.9v28m-3.5 0h7m0 -28h-7M237 116.2v20.6m-3.5 0h7m0 -20.6h-7M149.8 187.7v24.1m-3.5 0h7m0 -24.1h-7M148.6 245.8v27.4m-3.5 0h7m0 -27.4h-7M194.8 143.1v11.4m-3.5 0h7m0 -11.4h-7M255.5 160.1v30.4m-3.5 0h7m0 -30.4h-7M175.7 152.4v13.9m-3.5 0h7m0 -13.9h-7M237 113.6v9.8m-3.5 0h7m0 -9.8h-7M240.9 114.5v14.9m-3.5 0h7m0 -14.9h-7M238.5 105.1v17.6m-3.5 0h7m0 -17.6h-7M216.6 165.6v17m-3.5 0h7m0 -17h-7M191.2 264.1v19.2m-3.5 0h7m0 -19.2h-7M214.7 96.4v10m-3.5 0h7m0 -10h-7M185.4 136.9v10.9m-3.5 0h7m0 -10.9h-7M241.8 124.3v13.5m-3.5 0h7m0 -13.5h-7M243.6 124.9v38.4m-3.5 0h7m0 -38.4h-7M225.1 103.8v31.9m-3.5 0h7m0 -31.9h-7M209.2 191.7v13.7m-3.5 0h7m0 -13.7h-7M205.6 259.6v18.1m-3.5 0h7m0 -18.1h-7M236 224.9v19.8m-3.5 0h7m0 -19.8h-7M206.9 236.9v16.1m-3.5 0h7m0 -16.1h-7M219.9 90.8v18.5m-3.5 0h7m0 -18.5h-7M181.1 247.1v17.5m-3.5 0h7m0 -17.5h-7M127.9 104.1v25.6m-3.5 0h7m0 -25.6h-7M151.2 160.6v21.8m-3.5 0h7m0 -21.8h-7M177.4 110.7v46.9m-3.5 0h7m0 -46.9h-7M298.3 210.8v33m-3.5 0h7m0 -33h-7M123.7 143.7v12.3m-3.5 0h7m0 -12.3h-7M355.2 218.7v41.3m-3.5 0h7m0 -41.3h-7M320 271v17.5m-3.5 0h7m0 -17.5h-7M258 185.7v50m-3.5 0h7m0 -50h-7M142.6 187v33.5m-3.5 0h7m0 -33.5h-7M205.4 254.6v32.7m-3.5 0h7m0 -32.7h-7M185.7 140.8v17.9m-3.5 0h7m0 -17.9h-7M161.9 251.6v28.4m-3.5 0h7m0 -28.4h-7M220.7 90v12.9m-3.5 0h7m0 -12.9h-7M230 147.2v12.9m-3.5 0h7m0 -12.9h-7M356.4 255.6v29.6m-3.5 0h7m0 -29.6h-7M176.9 136.8v20.6m-3.5 0h7m0 -20.6h-7M234.8 141.4v13.4m-3.5 0h7m0 -13.4h-7M135.4 191.8v10.2m-3.5 0h7m0 -10.2h-7M215.1 110.8v14.1m-3.5 0h7m0 -14.1h-7M127.9 194v33.8m-3.5 0h7m0 -33.8h-7M315.5 207.2v39.3m-3.5 0h7m0 -39.3h-7M134.5 198.2v9.5m-3.5 0h7m0 -9.5h-7M164.5 116.5v17.7m-3.5 0h7m0 -17.7h-7M257.6 184.1v28.3m-3.5 0h7m0 -28.3h-7M245.8 154.8v51.8m-3.5 0h7m0 -51.8h-7M146.7 230.1v24.2m-3.5 0h7m0 -24.2h-7M420.2 232.6v24m-3.5 0h7m0 -24h-7M176.7 105.7v30.5m-3.5 0h7m0 -30.5h-7M217.5 154.4v28.9m-3.5 0h7m0 -28.9h-7M142.3 161.4v37m-3.5 0h7m0 -37h-7M205.8 179.2v18.2m-3.5 0h7m0 -18.2h-7M153.8 137.8v13.5m-3.5 0h7m0 -13.5h-7M370.7 249.3v22.9m-3.5 0h7m0 -22.9h-7M204.8 233.3v18.3m-3.5 0h7m0 -18.3h-7M146.3 221.5v18.2m-3.5 0h7m0 -18.2h-7M149.3 260.7v15.4m-3.5 0h7m0 -15.4h-7M150.6 162.8v21m-3.5 0h7m0 -21h-7M223.7 109.7v11.5m-3.5 0h7m0 -11.5h-7M242.4 141.1v20.7m-3.5 0h7m0 -20.7h-7M124.9 191.7v13m-3.5 0h7m0 -13h-7M121.1 165.7v19m-3.5 0h7m0 -19h-7M232.8 129.2v51.9m-3.5 0h7m0 -51.9h-7M130.9 88.4v55.1m-3.5 0h7m0 -55.1h-7M241.4 107.9v13m-3.5 0h7m0 -13h-7M181.7 119.9v33.1m-3.5 0h7m0 -33.1h-7M217.7 162.3v18.9m-3.5 0h7m0 -18.9h-7M283.3 201.4v34.1m-3.5 0h7m0 -34.1h-7M207.3 186.2v13.5m-3.5 0h7m0 -13.5h-7M208.6 203v18.3m-3.5 0h7m0 -18.3h-7M400.1 230.6v13.8m-3.5 0h7m0 -13.8h-7M290.9 274v37.5m-3.5 0h7m0 -37.5h-7M210.3 139.8v12.7m-3.5 0h7m0 -12.7h-7M259.5 218.7v39.5m-3.5 0h7m0 -39.5h-7M241.2 151.6v16.9m-3.5 0h7m0 -16.9h-7M178.2 251.9v23.1m-3.5 0h7m0 -23.1h-7M142.7 170v55.1m-3.5 0h7m0 -55.1h-7M123.3 171.5v36.2m-3.5 0h7m0 -36.2h-7M145.1 216.8v30.1m-3.5 0h7m0 -30.1h-7M243.1 142.4v34.1m-3.5 0h7m0 -34.1h-7M148.1 249.7v15m-3.5 0h7m0 -15h-7M238.9 200.9v15.9m-3.5 0h7m0 -15.9h-7M212.9 115v17.5m-3.5 0h7m0 -17.5h-7M151.1 146.2v16.1m-3.5 0h7m0 -16.1h-7M205.3 228.2v23.6m-3.5 0h7m0 -23.6h-7M367.1 233.1v28.4m-3.5 0h7m0 -28.4h-7M364.3 242.3v38.3m-3.5 0h7m0 -38.3h-7M262.6 163.8v66m-3.5 0h7m0 -66h-7M163 140.9v19.5m-3.5 0h7m0 -19.5h-7M205.4 244.1v51.3m-3.5 0h7m0 -51.3h-7M416.8 245.4v47.5m-3.5 0h7m0 -47.5h-7M260.6 190.1v17.6m-3.5 0h7m0 -17.6h-7M254.4 166.8v34.3m-3.5 0h7m0 -34.3h-7M149.5 271.1v14m-3.5 0h7m0 -14h-7M177.7 131.8v21.4m-3.5 0h7m0 -21.4h-7M276.5 189.9v48.6m-3.5 0h7m0 -48.6h-7M206.3 188.8v12m-3.5 0h7m0 -12h-7M242.1 168.8v17.4m-3.5 0h7m0 -17.4h-7M150.3 104.4v56.3m-3.5 0h7m0 -56.3h-7M222.8 172.4v15.4m-3.5 0h7m0 -15.4h-7M153.4 179v18m-3.5 0h7m0 -18h-7M141.5 167.2v13.3m-3.5 0h7m0 -13.3h-7M409.1 235.7v14.5m-3.5 0h7m0 -14.5h-7M329.5 244.3v39.7m-3.5 0h7m0 -39.7h-7M121.8 129v20.6m-3.5 0h7m0 -20.6h-7M149 250.8v30.7m-3.5 0h7m0 -30.7h-7M233.5 155.1v32.8m-3.5 0h7m0 -32.8h-7M395.1 245.4v36.8m-3.5 0h7m0 -36.8h-7M208.1 209.5v43m-3.5 0h7m0 -43h-7M227.8 123.2v18.2m-3.5 0h7m0 -18.2h-7M216.2 113.7v39.1m-3.5 0h7m0 -39.1h-7M175.7 168.9v11.3m-3.5 0h7m0 -11.3h-7M300.1 272.2v43.9m-3.5 0h7m0 -43.9h-7M180.1 142.1v27.2m-3.5 0h7m0 -27.2h-7M259.7 208.1v70.5m-3.5 0h7m0 -70.5h-7M143.4 172.9v15.8m-3.5 0h7m0 -15.8h-7M156.8 116.3v9.6m-3.5 0h7m0 -9.6h-7M318.2 278.7v14.1m-3.5 0h7m0 -14.1h-7M258.2 200.5v19.4m-3.5 0h7m0 -19.4h-7M189.6 248.6v36.9m-3.5 0h7m0 -36.9h-7M255.5 160.3v37.9m-3.5 0h7m0 -37.9h-7M201.7 246.6v59.9m-3.5 0h7m0 -59.9h-7M178.7 134.1v16.2m-3.5 0h7m0 -16.2h-7M233.5 127.9v43.1m-3.5 0h7m0 -43.1h-7M136.1 183.7v21.2m-3.5 0h7m0 -21.2h-7M216.5 120.5v25.3m-3.5 0h7m0 -25.3h-7M283.8 211v12.8m-3.5 0h7m0 -12.8h-7M175.2 247.7v39.4m-3.5 0h7m0 -39.4h-7M131.1 91.1v32.8m-3.5 0h7m0 -32.8h-7M244.8 141.7v14.4m-3.5 0h7m0 -14.4h-7M255.4 195.6v21.4m-3.5 0h7m0 -21.4h-7M439.7 246.1v30.5m-3.5 0h7m0 -30.5h-7M151.1 127.6v19.2m-3.5 0h7m0 -19.2h-7M123.9 166.4v12.9m-3.5 0h7m0 -12.9h-7M148.6 263.4v16.1m-3.5 0h7m0 -16.1h-7M361.3 231.4v26.9m-3.5 0h7m0 -26.9h-7M180.5 251.8v14.1m-3.5 0h7m0 -14.1h-7M268.4 188.4v28.7m-3.5 0h7m0 -28.7h-7M241.9 159v24.7m-3.5 0h7m0 -24.7h-7M174.6 169.7v13.4m-3.5 0h7m0 -13.4h-7M362.6 240.5v35m-3.5 0h7m0 -35h-7M208.8 153.2v44m-3.5 0h7m0 -44h-7M238.5 218.9v41.2m-3.5 0h7m0 -41.2h-7M235.4 219.1v13.2m-3.5 0h7m0 -13.2h-7M207.1 247.6v16.8m-3.5 0h7m0 -16.8h-7M167.9 174.5v12.4m-3.5 0h7m0 -12.4h-7M392.6 221.3v27.7m-3.5 0h7m0 -27.7h-7M255.1 180.4v68.1m-3.5 0h7m0 -68.1h-7M216.3 158.1v27.9m-3.5 0h7m0 -27.9h-7M259.7 231.5v26.6m-3.5 0h7m0 -26.6h-7M258.6 214v30.1m-3.5 0h7m0 -30.1h-7M133.3 134.3v23m-3.5 0h7m0 -23h-7M235.1 118.7v14.2m-3.5 0h7m0 -14.2h-7M133 193.2v18.8m-3.5 0h7m0 -18.8h-7M294.2 288.4v17.2m-3.5 0h7m0 -17.2h-7M165.5 131.1v30.3m-3.5 0h7m0 -30.3h-7M232.9 202.2v35.3m-3.5 0h7m0 -35.3h-7M428.8 272v19.9m-3.5 0h7m0 -19.9h-7M190.7 133.3v43.6m-3.5 0h7m0 -43.6h-7M215.6 128.8v11m-3.5 0h7m0 -11h-7M278.7 237.2v68.4m-3.5 0h7m0 -68.4h-7M435.6 243.6v16.5m-3.5 0h7m0 -16.5h-7M153.6 152.2v30.4m-3.5 0h7m0 -30.4h-7M172.3 174.5v16.2m-3.5 0h7m0 -16.2h-7M153.4 120v29.4m-3.5 0h7m0 -29.4h-7M277.6 196.7v40m-3.5 0h7m0 -40h-7M256.9 202.7v29.7m-3.5 0h7m0 -29.7h-7M277.3 263.4v16.1m-3.5 0h7m0 -16.1h-7M238.9 216.6v15.5m-3.5 0h7m0 -15.5h-7M435.5 236.4v63.1m-3.5 0h7m0 -63.1h-7M179.2 142.6v18.9m-3.5 0h7m0 -18.9h-7M236 223.7v14.2m-3.5 0h7m0 -14.2h-7M206 156.2v13.5m-3.5 0h7m0 -13.5h-7M258.9 213.9v29.6m-3.5 0h7m0 -29.6h-7M189.8 258v18.1m-3.5 0h7m0 -18.1h-7M126.2 98v24.3m-3.5 0h7m0 -24.3h-7M252 172.6v25.9m-3.5 0h7m0 -25.9h-7M206.6 237.6v30.6m-3.5 0h7m0 -30.6h-7M208.1 225.4v13.6m-3.5 0h7m0 -13.6h-7M366.7 233.3v25.2m-3.5 0h7m0 -25.2h-7M329 216v25.5m-3.5 0h7m0 -25.5h-7M122.5 126.6v22.4m-3.5 0h7m0 -22.4h-7M127.6 92.7v28.3m-3.5 0h7m0 -28.3h-7M166.6 148.9v11.5m-3.5 0h7m0 -11.5h-7M330.2 253.1v23.5m-3.5 0h7m0 -23.5h-7M125.6 109.4v13.1m-3.5 0h7m0 -13.1h-7M235.8 207.1v13.1m-3.5 0h7m0 -13.1h-7M135.3 168.8v20m-3.5 0h7m0 -20h-7M262.1 235.1v28.6m-3.5 0h7m0 -28.6h-7M216.7 132.9v13.3m-3.5 0h7m0 -13.3h-7M274.3 205.7v14.1m-3.5 0h7m0 -14.1h-7M120.2 126.6v48.8m-3.5 0h7m0 -48.8h-7M256.5 210.5v27.8m-3.5 0h7m0 -27.8h-7M151.8 168.1v30.9m-3.5 0h7m0 -30.9h-7M178.5 136.2v19.6m-3.5 0h7m0 -19.6h-7M134.1 179v15.4m-3.5 0h7m0 -15.4h-7M233.7 216.8v16.8m-3.5 0h7m0 -16.8h-7M133.7 138.1v16.6m-3.5 0h7m0 -16.6h-7M236 141.4v10.8m-3.5 0h7m0 -10.8h-7M175.3 152.1v32.7m-3.5 0h7m0 -32.7h-7M358.9 259v17m-3.5 0h7m0 -17h-7M370.5 253.6v15.1m-3.5 0h7m0 -15.1h-7M133.3 125.7v19m-3.5 0h7m0 -19h-7M151.7 86.7v40.8m-3.5 0h7m0 -40.8h-7M149.8 108.5v21m-3.5 0h7m0 -21h-7M255.6 203.9v37.8m-3.5 0h7m0 -37.8h-7M159 268.8v31.9m-3.5 0h7m0 -31.9h-7M241.3 142.5v28.5m-3.5 0h7m0 -28.5h-7M154.9 101.6v19.7m-3.5 0h7m0 -19.7h-7M165.8 142.7v26.4m-3.5 0h7m0 -26.4h-7M424 266.4v13.2m-3.5 0h7m0 -13.2h-7M253.2 140.2v54.1m-3.5 0h7m0 -54.1h-7M204.8 207.1v31.8m-3.5 0h7m0 -31.8h-7M411 234.2v15.5m-3.5 0h7m0 -15.5h-7M437.5 249.5v27.8m-3.5 0h7m0 -27.8h-7M120.9 138.6v12.1m-3.5 0h7m0 -12.1h-7M207.9 177.6v37m-3.5 0h7m0 -37h-7M170.7 253.3v16.1m-3.5 0h7m0 -16.1h-7M208.2 176.8v18.5m-3.5 0h7m0 -18.5h-7M127.3 91.8v31.4m-3.5 0h7m0 -31.4h-7M141.6 136.5v49.1m-3.5 0h7m0 -49.1h-7M205.6 138.9v15.4m-3.5 0h7m0 -15.4h-7M124.7 112.8v22.9m-3.5 0h7m0 -22.9h-7M125.8 93.1v21.9m-3.5 0h7m0 -21.9h-7M207.9 184.7v52.8m-3.5 0h7m0 -52.8h-7M176.4 128v14.4m-3.5 0h7m0 -14.4h-7M212.9 85v46.5m-3.5 0h7m0 -46.5h-7M132.3 197.4v20.1m-3.5 0h7m0 -20.1h-7M208.2 192.6v10.7m-3.5 0h7m0 -10.7h-7M167.7 240.7v28.9m-3.5 0h7m0 -28.9h-7M248.2 146v29.4m-3.5 0h7m0 -29.4h-7M257.1 211.5v20.6m-3.5 0h7m0 -20.6h-7M149.6 114.9v15.1m-3.5 0h7m0 -15.1h-7M178.5 248.9v14.6m-3.5 0h7m0 -14.6h-7M131.8 99.8v27.6m-3.5 0h7m0 -27.6h-7M225.8 111.9v12.8m-3.5 0h7m0 -12.8h-7M207.6 203.9v22.1m-3.5 0h7m0 -22.1h-7M177.9 149.4v17.3m-3.5 0h7m0 -17.3h-7M230.8 149.2v20.7m-3.5 0h7m0 -20.7h-7M125.7 92.3v20.2m-3.5 0h7m0 -20.2h-7M241 187.7v32m-3.5 0h7m0 -32h-7M143.1 191.9v15.7m-3.5 0h7m0 -15.7h-7M151.5 104.9v13.2m-3.5 0h7m0 -13.2h-7M205.6 178.1v17.5m-3.5 0h7m0 -17.5h-7M229.4 143.5v24.9m-3.5 0h7m0 -24.9h-7M244.5 118v24.1m-3.5 0h7m0 -24.1h-7M216.7 92.6v14.4m-3.5 0h7m0 -14.4h-7M256.5 222v25.3m-3.5 0h7m0 -25.3h-7M131.2 96.8v21.6m-3.5 0h7m0 -21.6h-7M292.1 282.9v12.3m-3.5 0h7m0 -12.3h-7M153.3 169.8v18.4m-3.5 0h7m0 -18.4h-7M148.3 223.6v49.6m-3.5 0h7m0 -49.6h-7M216 132.1v22.3m-3.5 0h7m0 -22.3h-7M191.9 145.8v15.1m-3.5 0h7m0 -15.1h-7M383.8 254.8v19.4m-3.5 0h7m0 -19.4h-7M225.8 95.5v52.5m-3.5 0h7m0 -52.5h-7M239.8 217.7v10.3m-3.5 0h7m0 -10.3h-7M186.5 246.8v23.3m-3.5 0h7m0 -23.3h-7M440.8 246.5v25.3m-3.5 0h7m0 -25.3h-7M177.7 135.4v14.9m-3.5 0h7m0 -14.9h-7M242.6 153.5v13.4m-3.5 0h7m0 -13.4h-7M436.4 258.1v13.7m-3.5 0h7m0 -13.7h-7M241.5 125.1v46m-3.5 0h7m0 -46h-7M133.7 104.5v24.4m-3.5 0h7m0 -24.4h-7M338.3 211v35.9m-3.5 0h7m0 -35.9h-7M242.7 125.4v14.2m-3.5 0h7m0 -14.2h-7M240.8 225.9v18.9m-3.5 0h7m0 -18.9h-7M176.5 119.9v33.2m-3.5 0h7m0 -33.2h-7M205.4 141.9v12.1m-3.5 0h7m0 -12.1h-7M126 174v38.4m-3.5 0h7m0 -38.4h-7M259.6 215.1v54.9m-3.5 0h7m0 -54.9h-7M431.5 245.8v63.8m-3.5 0h7m0 -63.8h-7M218 191.1v14m-3.5 0h7m0 -14h-7M219 199.5v19.3m-3.5 0h7m0 -19.3h-7M215.7 203.9v16.6m-3.5 0h7m0 -16.6h-7M224.7 201.8v18.8m-3.5 0h7m0 -18.8h-7M213.2 211.4v9.4m-3.5 0h7m0 -9.4h-7M220.3 195.9v27.9m-3.5 0h7m0 -27.9h-7M219.6 199.4v27.5m-3.5 0h7m0 -27.5h-7M227.9 188.3v22.8m-3.5 0h7m0 -22.8h-7M214.7 236.2v18.7m-3.5 0h7m0 -18.7h-7M213.5 198.5v17.1m-3.5 0h7m0 -17.1h-7M212.1 242.7v14m-3.5 0h7m0 -14h-7M216.4 226v25.8m-3.5 0h7m0 -25.8h-7M217.4 191.6v16.2m-3.5 0h7m0 -16.2h-7M224 170.4v26.7m-3.5 0h7m0 -26.7h-7M214.4 202v19.2m-3.5 0h7m0 -19.2h-7M308.2 209.8v19.6m-3.5 0h7m0 -19.6h-7M328.4 201.3v24.2m-3.5 0h7m0 -24.2h-7M306.3 201.5v17.5m-3.5 0h7m0 -17.5h-7M304.9 203.8v25.4m-3.5 0h7m0 -25.4h-7M304 207.4v18.5m-3.5 0h7m0 -18.5h-7M339 206.8v26.4m-3.5 0h7m0 -26.4h-7M343.5 203.1v10.3m-3.5 0h7m0 -10.3h-7M288 194.7v16.7m-3.5 0h7m0 -16.7h-7M312.7 199.5v8.8m-3.5 0h7m0 -8.8h-7M343.7 202.4v16.2m-3.5 0h7m0 -16.2h-7M410.3 211.3v26.1m-3.5 0h7m0 -26.1h-7M396.8 215.5v13.4m-3.5 0h7m0 -13.4h-7M397.1 198.6v26.6m-3.5 0h7m0 -26.6h-7M395.4 211.6v12m-3.5 0h7m0 -12h-7M402.6 214.5v11.3m-3.5 0h7m0 -11.3h-7M415.7 225.7v28m-3.5 0h7m0 -28h-7M411.5 220.3v20.7m-3.5 0h7m0 -20.7h-7M412.1 221.4v15.1m-3.5 0h7m0 -15.1h-7M399.9 211.5v15.1m-3.5 0h7m0 -15.1h-7M403 214.3v24.4m-3.5 0h7m0 -24.4h-7M221.1 205.5v22.7m-3.5 0h7m0 -22.7h-7M220.3 173v18.9m-3.5 0h7m0 -18.9h-7M215.5 168.6v23.3m-3.5 0h7m0 -23.3h-7M213.1 199.4v16.3m-3.5 0h7m0 -16.3h-7M223.4 241.2v12.9m-3.5 0h7m0 -12.9h-7M219 185.8v17.9m-3.5 0h7m0 -17.9h-7M215.1 194.7v10.8m-3.5 0h7m0 -10.8h-7M216.8 187v11.8m-3.5 0h7m0 -11.8h-7M226 201.3v12.9m-3.5 0h7m0 -12.9h-7M218.4 197.5v25m-3.5 0h7m0 -25h-7M214.4 215.9v24.3m-3.5 0h7m0 -24.3h-7M224.7 196v25.8m-3.5 0h7m0 -25.8h-7M229.2 219.2v18.1m-3.5 0h7m0 -18.1h-7M225.5 231.3v24.2m-3.5 0h7m0 -24.2h-7M212.5 187.4v10.5m-3.5 0h7m0 -10.5h-7M220.1 178.9v16.7m-3.5 0h7m0 -16.7h-7M228.5 192.5v11.6m-3.5 0h7m0 -11.6h-7M220.6 241v12.7m-3.5 0h7m0 -12.7h-7M213.2 210.5v17.6m-3.5 0h7m0 -17.6h-7M216.8 203.5v21.7m-3.5 0h7m0 -21.7h-7M214.7 198.7v25.7m-3.5 0h7m0 -25.7h-7M221.8 222.7v19.8m-3.5 0h7m0 -19.8h-7M220.3 174.8v13.2m-3.5 0h7m0 -13.2h-7M224.4 184.9v25.5m-3.5 0h7m0 -25.5h-7M217.9 183.7v18.8m-3.5 0h7m0 -18.8h-7M214.4 175.6v14.3m-3.5 0h7m0 -14.3h-7M231 196.4v16.3m-3.5 0h7m0 -16.3h-7M215.6 212.4v13m-3.5 0h7m0 -13h-7M214 232.9v24.3m-3.5 0h7m0 -24.3h-7M213.6 191.4v19.6m-3.5 0h7m0 -19.6h-7M213.3 216.2v25.2m-3.5 0h7m0 -25.2h-7M215.1 239.5v10m-3.5 0h7m0 -10h-7M215.7 198.1v13.5m-3.5 0h7m0 -13.5h-7M227.7 229.8v27.9m-3.5 0h7m0 -27.9h-7M217.4 172.1v16.9m-3.5 0h7m0 -16.9h-7M229 190.2v10.4m-3.5 0h7m0 -10.4h-7M229.5 218.8v18.9m-3.5 0h7m0 -18.9h-7M217 201.3v21.2m-3.5 0h7m0 -21.2h-7M220.2 197.7v18.1m-3.5 0h7m0 -18.1h-7M467 247v8m-3.2 0h6.4m0 -8h-6.4M470 251v6m-3.2 0h6.4m0 -6h-6.4M473 253v8m-3.2 0h6.4m0 -8h-6.4M476 257v6m-3.2 0h6.4m0 -6h-6.4M479 259v8m-3.2 0h6.4m0 -8h-6.4M482 262v8m-3.2 0h6.4m0 -8h-6.4M470 245v10m-3.2 0h6.4m0 -10h-6.4M473 250v6m-3.2 0h6.4m0 -6h-6.4M476 253v6m-3.2 0h6.4m0 -6h-6.4M479 256v6m-3.2 0h6.4m0 -6h-6.4M482 259v6m-3.2 0h6.4m0 -6h-6.4M484 263v6m-3.2 0h6.4m0 -6h-6.4M468 252v6m-3.2 0h6.4m0 -6h-6.4M472 257v6m-3.2 0h6.4m0 -6h-6.4M476 261v6m-3.2 0h6.4m0 -6h-6.4M125.4 62.5v12m-3.2 0h6.4m0 -12h-6.4M128.5 78.4v10m-3.2 0h6.4m0 -10h-6.4M127.5 84v12m-3.2 0h6.4m0 -12h-6.4M134.9 227.2v38m-3.2 0h6.4m0 -38h-6.4M125 205.4v18m-3.2 0h6.4m0 -18h-6.4M153.3 83.4v18m-3.2 0h6.4m0 -18h-6.4M163.3 102.2v27m-3.2 0h6.4m0 -27h-6.4M175.3 75.8v8m-3.2 0h6.4m0 -8h-6.4M176.5 84.3v10m-3.2 0h6.4m0 -10h-6.4M178.2 92.6v10m-3.2 0h6.4m0 -10h-6.4M177.7 107.7v12m-3.2 0h6.4m0 -12h-6.4M177 101v10m-3.2 0h6.4m0 -10h-6.4M209 137.5v10m-3.2 0h6.4m0 -10h-6.4M196 139v12m-3.2 0h6.4m0 -12h-6.4M243.7 110v12m-3.2 0h6.4m0 -12h-6.4M158 295.3v14m-3.2 0h6.4m0 -14h-6.4M151.7 311v10m-3.2 0h6.4m0 -10h-6.4M164 271.3v16m-3.2 0h6.4m0 -16h-6.4M172.3 267.4v14m-3.2 0h6.4m0 -14h-6.4M190 271.3v33m-3.2 0h6.4m0 -33h-6.4M198.3 279.6v20m-3.2 0h6.4m0 -20h-6.4M207.3 270.8v38m-3.2 0h6.4m0 -38h-6.4M200.7 287v57m-3.2 0h6.4m0 -57h-6.4M240.9 242.5v12m-3.2 0h6.4m0 -12h-6.4M236.1 248v12m-3.2 0h6.4m0 -12h-6.4M235 255v12m-3.2 0h6.4m0 -12h-6.4M238 262.7v12m-3.2 0h6.4m0 -12h-6.4M242.8 270.8v10m-3.2 0h6.4m0 -10h-6.4M279.4 152.5v39m-3.2 0h6.4m0 -39h-6.4M372.2 162.6v7m-3.2 0h6.4m0 -7h-6.4M380.2 187.5v11m-3.2 0h6.4m0 -11h-6.4M395.7 186.5v30m-3.2 0h6.4m0 -30h-6.4M392 209.3v16m-3.2 0h6.4m0 -16h-6.4M376.9 217.4v16m-3.2 0h6.4m0 -16h-6.4M315.8 195.9v12m-3.2 0h6.4m0 -12h-6.4M324.3 200.1v16m-3.2 0h6.4m0 -16h-6.4M334.3 202.1v12m-3.2 0h6.4m0 -12h-6.4M336.5 208.3v12m-3.2 0h6.4m0 -12h-6.4M299.7 211.5v16m-3.2 0h6.4m0 -16h-6.4M313 213.5v12m-3.2 0h6.4m0 -12h-6.4M343 213.5v12m-3.2 0h6.4m0 -12h-6.4M466.4 235.7v12m-3.2 0h6.4m0 -12h-6.4M448.1 254.4v53m-3.2 0h6.4m0 -53h-6.4M477 274.5v8m-3.2 0h6.4m0 -8h-6.4M480.2 274.5v8m-3.2 0h6.4m0 -8h-6.4M340.2 271.7v57m-3.2 0h6.4m0 -57h-6.4M318.9 284.3v30m-3.2 0h6.4m0 -30h-6.4M297.6 298.5v25m-3.2 0h6.4m0 -25h-6.4M385.2 264.2v28m-3.2 0h6.4m0 -28h-6.4M427.8 276v31m-3.2 0h6.4m0 -31h-6.4M262.2 257.9v20m-3.2 0h6.4m0 -20h-6.4M271.6 262.7v20m-3.2 0h6.4m0 -20h-6.4M139.6 101v29m-3.2 0h6.4m0 -29h-6.4M168.7 76v44m-3.2 0h6.4m0 -44h-6.4M194.3 88v62m-3.2 0h6.4m0 -62h-6.4M214.8 69.7v25.3m-3.2 0h6.4m0 -25.3h-6.4M235 94v16m-3.2 0h6.4m0 -16h-6.4M301.2 180.3v37.7m-3.2 0h6.4m0 -37.7h-6.4M280.6 153v19m-3.2 0h6.4m0 -19h-6.4M212.5 245v62.7m-3.2 0h6.4m0 -62.7h-6.4M207.5 260v51m-3.2 0h6.4m0 -51h-6.4M397 265v44m-3.2 0h6.4m0 -44h-6.4M134 245v8m-3.2 0h6.4m0 -8h-6.4M409 199.6v25.4m-3.2 0h6.4m0 -25.4h-6.4M263.6 164v33m-3.2 0h6.4m0 -33h-6.4M270 171v24m-3.2 0h6.4m0 -24h-6.4M437 222v20m-3.2 0h6.4m0 -20h-6.4M427.4 270v37m-3.2 0h6.4m0 -37h-6.4M126.5 205.1h2m0 -3.5v7m-2 0v-7M257.6 195.4h5.4m0 -3.5v7m-5.4 0v-7M127.4 98.5h2.9m0 -3.5v7m-2.9 0v-7M371.5 264h8.6m0 -3.5v7m-8.6 0v-7M153.2 281.9h2.2m0 -3.5v7m-2.2 0v-7M235.6 163.5h10.7m0 -3.5v7m-10.7 0v-7M130.2 104.9h3.4m0 -3.5v7m-3.4 0v-7M203.4 257.7h10.2m0 -3.5v7m-10.2 0v-7M130.3 140.5h3.8m0 -3.5v7m-3.8 0v-7M150.8 284.2h3.2m0 -3.5v7m-3.2 0v-7M213.9 160.8h5.8m0 -3.5v7m-5.8 0v-7M269.9 273.9h16.3m0 -3.5v7m-16.3 0v-7M422.3 265.1h28m0 -3.5v7m-28 0v-7M203.2 227.6h9.3m0 -3.5v7m-9.3 0v-7M172.8 142.9h6.6m0 -3.5v7m-6.6 0v-7M273.9 272.4h6.8m0 -3.5v7m-6.8 0v-7M132.3 198.5h3.2m0 -3.5v7m-3.2 0v-7M215.2 181.7h11.9m0 -3.5v7m-11.9 0v-7M150.4 129.2h2.2m0 -3.5v7m-2.2 0v-7M297 286h18.1m0 -3.5v7m-18.1 0v-7M129.9 102.3h1.6m0 -3.5v7m-1.6 0v-7M347.4 243.6h22.4m0 -3.5v7m-22.4 0v-7M158.7 259.3h5m0 -3.5v7m-5 0v-7M209.8 164.7h11m0 -3.5v7m-11 0v-7M202.6 205h5.6m0 -3.5v7m-5.6 0v-7M167.3 255.6h6.1m0 -3.5v7m-6.1 0v-7M299.6 287.7h7.3m0 -3.5v7m-7.3 0v-7M208.8 122.5h6.8m0 -3.5v7m-6.8 0v-7M408.2 244.4h24.6m0 -3.5v7m-24.6 0v-7M256.8 196.6h13.8m0 -3.5v7m-13.8 0v-7M163.4 143.8h3.7m0 -3.5v7m-3.7 0v-7M236.6 150.4h11.2m0 -3.5v7m-11.2 0v-7M399.5 240.8h22.7m0 -3.5v7m-22.7 0v-7M255.7 196.3h14.5m0 -3.5v7m-14.5 0v-7M237.1 182.9h11.6m0 -3.5v7m-11.6 0v-7M123.3 161.6h1.6m0 -3.5v7m-1.6 0v-7M350.8 271.8h8.1m0 -3.5v7m-8.1 0v-7M121.2 134.5h1.8m0 -3.5v7m-1.8 0v-7M143.2 220.3h3.5m0 -3.5v7m-3.5 0v-7M279.2 275.6h7.1m0 -3.5v7m-7.1 0v-7M203.2 220.7h6.5m0 -3.5v7m-6.5 0v-7M124.3 127.8h2.2m0 -3.5v7m-2.2 0v-7M240.8 184.2h6.5m0 -3.5v7m-6.5 0v-7M151.5 111.3h2.2m0 -3.5v7m-2.2 0v-7M365.7 263.4h20.4m0 -3.5v7m-20.4 0v-7M227.2 165.2h12.6m0 -3.5v7m-12.6 0v-7M180.3 147.3h7.7m0 -3.5v7m-7.7 0v-7M145.2 233.3h2.2m0 -3.5v7m-2.2 0v-7M123.4 118.6h2.1m0 -3.5v7m-2.1 0v-7M236.5 222.1h8.4m0 -3.5v7m-8.4 0v-7M144.8 223.1h3.4m0 -3.5v7m-3.4 0v-7M125.9 198.9h1.6m0 -3.5v7m-1.6 0v-7M167.5 181.4h7.9m0 -3.5v7m-7.9 0v-7M240.5 126.2h5.1m0 -3.5v7m-5.1 0v-7M229 180.7h5.6m0 -3.5v7m-5.6 0v-7M404.3 241.5h16.9m0 -3.5v7m-16.9 0v-7M150.6 173.9h5.2m0 -3.5v7m-5.2 0v-7M202.3 143.9h10.6m0 -3.5v7m-10.6 0v-7M278 278.8h10.8m0 -3.5v7m-10.8 0v-7M253.3 222.8h7.1m0 -3.5v7m-7.1 0v-7M225.3 149.8h10.8m0 -3.5v7m-10.8 0v-7M252.5 241.7h13.3m0 -3.5v7m-13.3 0v-7M354.1 261.4h10.5m0 -3.5v7m-10.5 0v-7M145.1 259.7h5.8m0 -3.5v7m-5.8 0v-7M142.7 244.8h5.3m0 -3.5v7m-5.3 0v-7M289.5 296.1h12.6m0 -3.5v7m-12.6 0v-7M211.8 134.3h7.8m0 -3.5v7m-7.8 0v-7M215.6 179h4m0 -3.5v7m-4 0v-7M423.9 270.3h24m0 -3.5v7m-24 0v-7M120 138.5h3.7m0 -3.5v7m-3.7 0v-7M174.6 135.9h7.4m0 -3.5v7m-7.4 0v-7M369.4 240.4h10m0 -3.5v7m-10 0v-7M201.4 215.4h6.9m0 -3.5v7m-6.9 0v-7M345.6 270.5h13m0 -3.5v7m-13 0v-7M125.3 205.8h3.9m0 -3.5v7m-3.9 0v-7M235 119.6h9.1m0 -3.5v7m-9.1 0v-7M237.5 161.8h10.6m0 -3.5v7m-10.6 0v-7M148.7 186.1h5.9m0 -3.5v7m-5.9 0v-7M232.1 216.1h7.3m0 -3.5v7m-7.3 0v-7M245.5 165.1h11.3m0 -3.5v7m-11.3 0v-7M152.6 289.9h2.6m0 -3.5v7m-2.6 0v-7M210.8 169.9h10.3m0 -3.5v7m-10.3 0v-7M308.7 227.1h17.9m0 -3.5v7m-17.9 0v-7M253.6 212.9h6.4m0 -3.5v7m-6.4 0v-7M131.8 143.4h4.4m0 -3.5v7m-4.4 0v-7M151.1 171.3h3.3m0 -3.5v7m-3.3 0v-7M206.9 119h10.6m0 -3.5v7m-10.6 0v-7M127.4 99.5h2m0 -3.5v7m-2 0v-7M142.6 223.8h2m0 -3.5v7m-2 0v-7M323.9 272.8h8.1m0 -3.5v7m-8.1 0v-7M119.2 168.6h3m0 -3.5v7m-3 0v-7M355.4 261h13.4m0 -3.5v7m-13.4 0v-7M250.2 170.5h5.5m0 -3.5v7m-5.5 0v-7M163.2 173.4h7m0 -3.5v7m-7 0v-7M341.1 271.9h17.4m0 -3.5v7m-17.4 0v-7M233.9 156.3h11.6m0 -3.5v7m-11.6 0v-7M237.5 174.9h12.2m0 -3.5v7m-12.2 0v-7M366.3 238.6h22.9m0 -3.5v7m-22.9 0v-7M353.4 259.8h17.4m0 -3.5v7m-17.4 0v-7M415.1 251.1h28.1m0 -3.5v7m-28.1 0v-7M228.2 162.5h5.6m0 -3.5v7m-5.6 0v-7M235 198.9h8.9m0 -3.5v7m-8.9 0v-7M149.7 177.2h2.8m0 -3.5v7m-2.8 0v-7M236.8 112.2h6.2m0 -3.5v7m-6.2 0v-7M421.9 280h9.8m0 -3.5v7m-9.8 0v-7M408.5 273.5h28.9m0 -3.5v7m-28.9 0v-7M311.2 276.7h20.1m0 -3.5v7m-20.1 0v-7M339.3 273.7h16m0 -3.5v7m-16 0v-7M251.8 198h10.9m0 -3.5v7m-10.9 0v-7M289.3 298.2h7.9m0 -3.5v7m-7.9 0v-7M198.2 276.5h5.8m0 -3.5v7m-5.8 0v-7M188.8 276.5h3.5m0 -3.5v7m-3.5 0v-7M236.3 211.2h9.5m0 -3.5v7m-9.5 0v-7M139.8 173.5h3.3m0 -3.5v7m-3.3 0v-7M365.9 238.2h21.2m0 -3.5v7m-21.2 0v-7M404.2 244.4h21.2m0 -3.5v7m-21.2 0v-7M273.1 220.4h17m0 -3.5v7m-17 0v-7M189.7 275.9h3.9m0 -3.5v7m-3.9 0v-7M217.4 110.2h10.9m0 -3.5v7m-10.9 0v-7M160.1 258.6h5.3m0 -3.5v7m-5.3 0v-7M130.4 114.2h1.6m0 -3.5v7m-1.6 0v-7M304.5 227.7h13m0 -3.5v7m-13 0v-7M159.7 165.9h7.2m0 -3.5v7m-7.2 0v-7M231.1 220h11.4m0 -3.5v7m-11.4 0v-7M123.8 198.5h3.4m0 -3.5v7m-3.4 0v-7M123.8 177.9h2.9m0 -3.5v7m-2.9 0v-7M190.4 153.4h6.8m0 -3.5v7m-6.8 0v-7M212.8 100.3h5m0 -3.5v7m-5 0v-7M150.5 106.6h4.4m0 -3.5v7m-4.4 0v-7M299.6 286.1h12.7m0 -3.5v7m-12.7 0v-7M278.7 277.7h7.5m0 -3.5v7m-7.5 0v-7M175.9 166.1h4.7m0 -3.5v7m-4.7 0v-7M213.1 91.5h8.7m0 -3.5v7m-8.7 0v-7M344.2 272.2h12.4m0 -3.5v7m-12.4 0v-7M307.1 227.9h12m0 -3.5v7m-12 0v-7M245.8 154.4h5.2m0 -3.5v7m-5.2 0v-7M261.9 254.7h6.4m0 -3.5v7m-6.4 0v-7M229.9 174.1h6.2m0 -3.5v7m-6.2 0v-7M203.2 198.3h4.4m0 -3.5v7m-4.4 0v-7M161.6 132.3h4.7m0 -3.5v7m-4.7 0v-7M198.5 148.6h5.6m0 -3.5v7m-5.6 0v-7M141.8 211.3h5.5m0 -3.5v7m-5.5 0v-7M237.1 231.6h8.1m0 -3.5v7m-8.1 0v-7M200.9 170.7h9m0 -3.5v7m-9 0v-7M140.4 205.6h4.2m0 -3.5v7m-4.2 0v-7M363.5 242.3h11m0 -3.5v7m-11 0v-7M347.7 271.8h13.4m0 -3.5v7m-13.4 0v-7M228.7 165.2h9m0 -3.5v7m-9 0v-7M144.4 215.4h4.6m0 -3.5v7m-4.6 0v-7M181.6 145.2h5.9m0 -3.5v7m-5.9 0v-7M230.6 149.8h4.8m0 -3.5v7m-4.8 0v-7M144.2 208.8h2.1m0 -3.5v7m-2.1 0v-7M155.4 275.2h6.7m0 -3.5v7m-6.7 0v-7M168.1 181.3h4.9m0 -3.5v7m-4.9 0v-7M430 259.8h17.9m0 -3.5v7m-17.9 0v-7M301.3 229.3h14.6m0 -3.5v7m-14.6 0v-7M296.5 288.3h13.7m0 -3.5v7m-13.7 0v-7M163 141.5h6m0 -3.5v7m-6 0v-7M147.3 135.5h4.4m0 -3.5v7m-4.4 0v-7M162.2 165.6h7.1m0 -3.5v7m-7.1 0v-7M209.6 103.1h8.7m0 -3.5v7m-8.7 0v-7M340.3 271.5h20.8m0 -3.5v7m-20.8 0v-7M263.1 263.6h6.2m0 -3.5v7m-6.2 0v-7M119.4 157.5h2.3m0 -3.5v7m-2.3 0v-7M158.1 135.7h6.5m0 -3.5v7m-6.5 0v-7M304.8 230.6h13.1m0 -3.5v7m-13.1 0v-7M322.2 230.5h12m0 -3.5v7m-12 0v-7M201.6 207.3h8.5m0 -3.5v7m-8.5 0v-7M180.6 148.8h8.2m0 -3.5v7m-8.2 0v-7M213.6 164.4h9.3m0 -3.5v7m-9.3 0v-7M410.4 273.1h16m0 -3.5v7m-16 0v-7M237.8 141h9.4m0 -3.5v7m-9.4 0v-7M217.1 179.9h9.3m0 -3.5v7m-9.3 0v-7M234 110.7h10.1m0 -3.5v7m-10.1 0v-7M235.4 199.3h11.3m0 -3.5v7m-11.3 0v-7M251 181.3h5.7m0 -3.5v7m-5.7 0v-7M402 265.7h9.7m0 -3.5v7m-9.7 0v-7M187.2 273.7h8.3m0 -3.5v7m-8.3 0v-7M160.1 129.9h3.9m0 -3.5v7m-3.9 0v-7M282.2 290.2h12.5m0 -3.5v7m-12.5 0v-7M135.9 176.9h2.6m0 -3.5v7m-2.6 0v-7M232 222.2h9.9m0 -3.5v7m-9.9 0v-7M291 295.1h18.5m0 -3.5v7m-18.5 0v-7M202.9 237.5h6.1m0 -3.5v7m-6.1 0v-7M400.1 269.6h27.5m0 -3.5v7m-27.5 0v-7M148.8 121.9h5.6m0 -3.5v7m-5.6 0v-7M254.3 249h9m0 -3.5v7m-9 0v-7M289.9 227.1h18m0 -3.5v7m-18 0v-7M201 192.6h8.9m0 -3.5v7m-8.9 0v-7M204.8 148.3h5m0 -3.5v7m-5 0v-7M181.2 135.3h4m0 -3.5v7m-4 0v-7M121.3 149.3h2m0 -3.5v7m-2 0v-7M254.3 225.1h6.8m0 -3.5v7m-6.8 0v-7M252.6 214.7h12.5m0 -3.5v7m-12.5 0v-7M202.4 189h7.7m0 -3.5v7m-7.7 0v-7M314.2 275.2h17.1m0 -3.5v7m-17.1 0v-7M397.8 240.7h19.3m0 -3.5v7m-19.3 0v-7M200.3 269.7h8.5m0 -3.5v7m-8.5 0v-7M232.6 216.5h12m0 -3.5v7m-12 0v-7M154 112.4h4.4m0 -3.5v7m-4.4 0v-7M410.3 243h19.1m0 -3.5v7m-19.1 0v-7M150.9 147.8h3.7m0 -3.5v7m-3.7 0v-7M189.9 267.5h4.5m0 -3.5v7m-4.5 0v-7M233.4 114.5h9.2m0 -3.5v7m-9.2 0v-7M240.7 116.1h5m0 -3.5v7m-5 0v-7M229 209.7h8.4m0 -3.5v7m-8.4 0v-7M148.7 130.4h6m0 -3.5v7m-6 0v-7M246.5 188.8h14.2m0 -3.5v7m-14.2 0v-7M175.4 137.6h4.6m0 -3.5v7m-4.6 0v-7M172.2 271.8h2.8m0 -3.5v7m-2.8 0v-7M237.2 169.9h11.2m0 -3.5v7m-11.2 0v-7M144.3 261.6h4.1m0 -3.5v7m-4.1 0v-7M315.1 272.1h17.3m0 -3.5v7m-17.3 0v-7M375.2 235.2h22.5m0 -3.5v7m-22.5 0v-7M218 107.3h6.6m0 -3.5v7m-6.6 0v-7M234.6 138.1h11m0 -3.5v7m-11 0v-7M192.7 282.4h3.4m0 -3.5v7m-3.4 0v-7M189.6 152.1h8m0 -3.5v7m-8 0v-7M132.2 120.5h3.4m0 -3.5v7m-3.4 0v-7M378.3 263.1h17.4m0 -3.5v7m-17.4 0v-7M177.8 257.4h4.3m0 -3.5v7m-4.3 0v-7M119.6 168.8h1.6m0 -3.5v7m-1.6 0v-7M260.2 260.8h9m0 -3.5v7m-9 0v-7M145.2 240.2h4.1m0 -3.5v7m-4.1 0v-7M393.7 267h27.8m0 -3.5v7m-27.8 0v-7M251.8 190.4h9.5m0 -3.5v7m-9.5 0v-7M254.7 251.7h15.6m0 -3.5v7m-15.6 0v-7M336.5 228.7h9.3m0 -3.5v7m-9.3 0v-7M235.9 154.2h12.9m0 -3.5v7m-12.9 0v-7M148.9 132.2h4.1m0 -3.5v7m-4.1 0v-7M135.5 146.5h2.6m0 -3.5v7m-2.6 0v-7M231.8 243h7.1m0 -3.5v7m-7.1 0v-7M125.1 197.4h3.1m0 -3.5v7m-3.1 0v-7M230.6 126.5h9.2m0 -3.5v7m-9.2 0v-7M182.5 145.3h3.5m0 -3.5v7m-3.5 0v-7M174.2 169.3h8.5m0 -3.5v7m-8.5 0v-7M229.1 205.6h12m0 -3.5v7m-12 0v-7M196.8 279.2h4.6m0 -3.5v7m-4.6 0v-7M284.9 283.8h7.6m0 -3.5v7m-7.6 0v-7M149 115.9h2.7m0 -3.5v7m-2.7 0v-7M287.2 285.7h7m0 -3.5v7m-7 0v-7M191.7 278.2h3.6m0 -3.5v7m-3.6 0v-7M431.5 254.4h15m0 -3.5v7m-15 0v-7M143.9 250.2h5.5m0 -3.5v7m-5.5 0v-7M238.1 217.6h6.7m0 -3.5v7m-6.7 0v-7M382 234.5h20.9m0 -3.5v7m-20.9 0v-7M121.9 189.6h2.2m0 -3.5v7m-2.2 0v-7M396.1 264.6h20.9m0 -3.5v7m-20.9 0v-7M250 214.8h11.7m0 -3.5v7m-11.7 0v-7M209.5 144.8h4.7m0 -3.5v7m-4.7 0v-7M209.3 115.4h5.7m0 -3.5v7m-5.7 0v-7M234.3 239.5h8.9m0 -3.5v7m-8.9 0v-7M125.1 183.7h1.8m0 -3.5v7m-1.8 0v-7M241.5 180.5h9.5m0 -3.5v7m-9.5 0v-7M331.2 273h18.5m0 -3.5v7m-18.5 0v-7M314.4 283h12.3m0 -3.5v7m-12.3 0v-7M122.6 164.7h1.9m0 -3.5v7m-1.9 0v-7M251 239.1h15m0 -3.5v7m-15 0v-7M431.1 258.9h14.4m0 -3.5v7m-14.4 0v-7M163.5 177.4h5m0 -3.5v7m-5 0v-7M176.6 166h5.3m0 -3.5v7m-5.3 0v-7M425.5 251.2h21.2m0 -3.5v7m-21.2 0v-7M120.9 184.1h2.4m0 -3.5v7m-2.4 0v-7M329.6 229.3h12.5m0 -3.5v7m-12.5 0v-7M203.1 178h4.9m0 -3.5v7m-4.9 0v-7M283.4 292.2h12.2m0 -3.5v7m-12.2 0v-7M233.4 111.3h10.5m0 -3.5v7m-10.5 0v-7M152.2 138.3h3.7m0 -3.5v7m-3.7 0v-7M155.4 282.8h3.7m0 -3.5v7m-3.7 0v-7M329.4 266.7h7.2m0 -3.5v7m-7.2 0v-7M249.3 183.6h9m0 -3.5v7m-9 0v-7M430.2 275.1h12.2m0 -3.5v7m-12.2 0v-7M230.5 147.2h13.1m0 -3.5v7m-13.1 0v-7M233 236.8h10.2m0 -3.5v7m-10.2 0v-7M229.5 131.9h4.4m0 -3.5v7m-4.4 0v-7M426.7 274.1h20.7m0 -3.5v7m-20.7 0v-7M249.2 191.7h14.8m0 -3.5v7m-14.8 0v-7M215.2 171.1h5.4m0 -3.5v7m-5.4 0v-7M148.1 137.4h6.2m0 -3.5v7m-6.2 0v-7M364.9 262h23.8m0 -3.5v7m-23.8 0v-7M234.9 203.5h10.7m0 -3.5v7m-10.7 0v-7M152 112.9h4.5m0 -3.5v7m-4.5 0v-7M227.6 180.3h9m0 -3.5v7m-9 0v-7M205 231h6.3m0 -3.5v7m-6.3 0v-7M160.8 158.9h6.3m0 -3.5v7m-6.3 0v-7M390.6 264.8h13.2m0 -3.5v7m-13.2 0v-7M205 263.8h4m0 -3.5v7m-4 0v-7M140.7 143.2h2.2m0 -3.5v7m-2.2 0v-7M274.9 276.6h16m0 -3.5v7m-16 0v-7M213.2 108.7h4.3m0 -3.5v7m-4.3 0v-7M157.6 278.1h6.1m0 -3.5v7m-6.1 0v-7M218.6 109.1h8.4m0 -3.5v7m-8.4 0v-7M252.8 188h8.4m0 -3.5v7m-8.4 0v-7M201.2 150.4h9.8m0 -3.5v7m-9.8 0v-7M178.1 145.2h7.2m0 -3.5v7m-7.2 0v-7M225.4 179.8h5.8m0 -3.5v7m-5.8 0v-7M164.1 146.9h3m0 -3.5v7m-3 0v-7M274.1 217h12.4m0 -3.5v7m-12.4 0v-7M219.6 116.1h6.8m0 -3.5v7m-6.8 0v-7M277.1 214h6.9m0 -3.5v7m-6.9 0v-7M270 212.3h7.8m0 -3.5v7m-7.8 0v-7M322.2 270.4h8.1m0 -3.5v7m-8.1 0v-7M200.9 248.1h10.4m0 -3.5v7m-10.4 0v-7M190.7 153.2h7.1m0 -3.5v7m-7.1 0v-7M176.2 136.8h5.7m0 -3.5v7m-5.7 0v-7M252.6 205.6h5m0 -3.5v7m-5 0v-7M235.1 214.5h9.4m0 -3.5v7m-9.4 0v-7M209.7 163.1h9.5m0 -3.5v7m-9.5 0v-7M374.7 236.7h19.6m0 -3.5v7m-19.6 0v-7M177.2 130.6h3.6m0 -3.5v7m-3.6 0v-7M120.6 164.4h1.9m0 -3.5v7m-1.9 0v-7M130.3 119.4h3.1m0 -3.5v7m-3.1 0v-7M331.9 278.4h18.7m0 -3.5v7m-18.7 0v-7M232.7 147.1h6.1m0 -3.5v7m-6.1 0v-7M132.6 197.2h3.8m0 -3.5v7m-3.8 0v-7M120.8 159.9h2.9m0 -3.5v7m-2.9 0v-7M205.4 161.5h5.1m0 -3.5v7m-5.1 0v-7M201.3 255.2h6.4m0 -3.5v7m-6.4 0v-7M320.7 227h19.7m0 -3.5v7m-19.7 0v-7M201.7 238h6.8m0 -3.5v7m-6.8 0v-7M232.3 117.9h7.9m0 -3.5v7m-7.9 0v-7M223.4 152h12.8m0 -3.5v7m-12.8 0v-7M231.9 229.9h8.7m0 -3.5v7m-8.7 0v-7M251.2 180.7h8m0 -3.5v7m-8 0v-7M132.8 136.9h2.8m0 -3.5v7m-2.8 0v-7M272.1 270h12.2m0 -3.5v7m-12.2 0v-7M145.9 244.6h3m0 -3.5v7m-3 0v-7M138.9 162.5h2.7m0 -3.5v7m-2.7 0v-7M236.6 156.1h11.1m0 -3.5v7m-11.1 0v-7M237.7 167.1h9.9m0 -3.5v7m-9.9 0v-7M175.1 263.7h4.4m0 -3.5v7m-4.4 0v-7M421.6 273.1h23.4m0 -3.5v7m-23.4 0v-7M176.2 165.8h6m0 -3.5v7m-6 0v-7M202.9 173.8h4.8m0 -3.5v7m-4.8 0v-7M316.5 282h11.1m0 -3.5v7m-11.1 0v-7M200.3 228.3h10.6m0 -3.5v7m-10.6 0v-7M324.5 230.4h20m0 -3.5v7m-20 0v-7M148.6 113h4.6m0 -3.5v7m-4.6 0v-7M368.1 261.8h16.1m0 -3.5v7m-16.1 0v-7M140.7 214.5h3.9m0 -3.5v7m-3.9 0v-7M205.2 207.6h7.8m0 -3.5v7m-7.8 0v-7M121.3 156.2h1.6m0 -3.5v7m-1.6 0v-7M154.5 265.4h6.6m0 -3.5v7m-6.6 0v-7M363.2 244.5h8.8m0 -3.5v7m-8.8 0v-7M224.5 124.4h6.7m0 -3.5v7m-6.7 0v-7M147.3 274.9h3.6m0 -3.5v7m-3.6 0v-7M428.8 250.2h10.1m0 -3.5v7m-10.1 0v-7M216.5 101.2h5.8m0 -3.5v7m-5.8 0v-7M390.7 266.5h19.1m0 -3.5v7m-19.1 0v-7M302 289.9h7m0 -3.5v7m-7 0v-7M426.4 254.4h17.4m0 -3.5v7m-17.4 0v-7M273.9 268.1h8.8m0 -3.5v7m-8.8 0v-7M392.9 266.7h20.8m0 -3.5v7m-20.8 0v-7M235.3 197.6h6.9m0 -3.5v7m-6.9 0v-7M124.8 121.6h3.8m0 -3.5v7m-3.8 0v-7M356.6 243.8h24.2m0 -3.5v7m-24.2 0v-7M148.4 110.6h6m0 -3.5v7m-6 0v-7M244.4 159.6h8.2m0 -3.5v7m-8.2 0v-7M148.6 159.5h4.3m0 -3.5v7m-4.3 0v-7M228.9 234.2h10m0 -3.5v7m-10 0v-7M148.2 262.3h3m0 -3.5v7m-3 0v-7M182.3 258.2h8.5m0 -3.5v7m-8.5 0v-7M208.9 128.8h7.3m0 -3.5v7m-7.3 0v-7M291.2 298.3h13.3m0 -3.5v7m-13.3 0v-7M220.2 116.4h11.7m0 -3.5v7m-11.7 0v-7M176.8 123.7h7.7m0 -3.5v7m-7.7 0v-7M130.9 129.7h4.1m0 -3.5v7m-4.1 0v-7M188.9 262.6h5.4m0 -3.5v7m-5.4 0v-7M348.3 271.2h13.7m0 -3.5v7m-13.7 0v-7M173 135h6.5m0 -3.5v7m-6.5 0v-7M233.9 119.4h5.4m0 -3.5v7m-5.4 0v-7M239.1 166.1h8.7m0 -3.5v7m-8.7 0v-7M143.7 221.4h4.5m0 -3.5v7m-4.5 0v-7M214.3 167.2h10.3m0 -3.5v7m-10.3 0v-7M369.4 235.4h24.5m0 -3.5v7m-24.5 0v-7M129.5 103.1h2m0 -3.5v7m-2 0v-7M150.8 188.1h3.2m0 -3.5v7m-3.2 0v-7M124 123.2h2.9m0 -3.5v7m-2.9 0v-7M357.1 257.3h13.3m0 -3.5v7m-13.3 0v-7M130.7 189.6h2.4m0 -3.5v7m-2.4 0v-7M202.4 199.6h7.2m0 -3.5v7m-7.2 0v-7M246.5 165h6.3m0 -3.5v7m-6.3 0v-7M248.7 184.7h14.5m0 -3.5v7m-14.5 0v-7M252.7 217.1h12.3m0 -3.5v7m-12.3 0v-7M151 141.9h5m0 -3.5v7m-5 0v-7M132.5 191.2h3.8m0 -3.5v7m-3.8 0v-7M168.3 266.4h7.3m0 -3.5v7m-7.3 0v-7M288.2 295.3h8.4m0 -3.5v7m-8.4 0v-7M412.5 275.6h23.8m0 -3.5v7m-23.8 0v-7M171.7 177.9h5.8m0 -3.5v7m-5.8 0v-7M233.1 218.1h10.8m0 -3.5v7m-10.8 0v-7M350.3 267.7h10.7m0 -3.5v7m-10.7 0v-7M251.7 187.1h8.8m0 -3.5v7m-8.8 0v-7M126.6 211.1h2.4m0 -3.5v7m-2.4 0v-7M235.4 211.6h10m0 -3.5v7m-10 0v-7M151.4 155.6h4.9m0 -3.5v7m-4.9 0v-7M230.8 197.1h8.4m0 -3.5v7m-8.4 0v-7M318.3 274.1h12.2m0 -3.5v7m-12.2 0v-7M226.1 153.4h7.2m0 -3.5v7m-7.2 0v-7M231.2 213.3h13.4m0 -3.5v7m-13.4 0v-7M213.7 162.1h4.4m0 -3.5v7m-4.4 0v-7M354.1 265.9h8.3m0 -3.5v7m-8.3 0v-7M304.7 230.9h14m0 -3.5v7m-14 0v-7M202.3 228.9h7.5m0 -3.5v7m-7.5 0v-7M156.3 266.4h4.3m0 -3.5v7m-4.3 0v-7M204.2 230.2h4m0 -3.5v7m-4 0v-7M204.1 182.2h4.9m0 -3.5v7m-4.9 0v-7M210.1 105.2h11.4m0 -3.5v7m-11.4 0v-7M251.5 225.5h13.2m0 -3.5v7m-13.2 0v-7M311.7 278.1h15.4m0 -3.5v7m-15.4 0v-7M331.1 231.3h20.6m0 -3.5v7m-20.6 0v-7M249.3 174.1h12.4m0 -3.5v7m-12.4 0v-7M231.5 118.7h11.1m0 -3.5v7m-11.1 0v-7M232.5 113.3h12.1m0 -3.5v7m-12.1 0v-7M213.2 174.8h6.8m0 -3.5v7m-6.8 0v-7M247.9 168.1h5.7m0 -3.5v7m-5.7 0v-7M188.4 273.1h5.6m0 -3.5v7m-5.6 0v-7M122.1 176.6h2.1m0 -3.5v7m-2.1 0v-7M200.3 269.3h10.6m0 -3.5v7m-10.6 0v-7M215.8 99.4h8.2m0 -3.5v7m-8.2 0v-7M292.5 227.1h11.7m0 -3.5v7m-11.7 0v-7M122.9 149.5h1.6m0 -3.5v7m-1.6 0v-7M351.3 240.8h8.6m0 -3.5v7m-8.6 0v-7M119 165.5h3.7m0 -3.5v7m-3.7 0v-7M215.7 96.7h10m0 -3.5v7m-10 0v-7M224.7 153.8h10.5m0 -3.5v7m-10.5 0v-7M174 148.1h5.8m0 -3.5v7m-5.8 0v-7M134.1 196.8h2.7m0 -3.5v7m-2.7 0v-7M396 266.8h13.4m0 -3.5v7m-13.4 0v-7M213.1 118.6h4.1m0 -3.5v7m-4.1 0v-7M239.1 114h5.7m0 -3.5v7m-5.7 0v-7M309.4 227h12.2m0 -3.5v7m-12.2 0v-7M431.8 260.7h11m0 -3.5v7m-11 0v-7M162.4 125.3h4.1m0 -3.5v7m-4.1 0v-7M240.4 179.9h10.9m0 -3.5v7m-10.9 0v-7M144.7 242.6h4.1m0 -3.5v7m-4.1 0v-7M173.3 120.5h6.7m0 -3.5v7m-6.7 0v-7M252.5 252.3h14.9m0 -3.5v7m-14.9 0v-7M152.9 112.3h2.8m0 -3.5v7m-2.8 0v-7M219.2 115.5h9m0 -3.5v7m-9 0v-7M235.6 151.3h13.6m0 -3.5v7m-13.6 0v-7M123.4 197.6h3m0 -3.5v7m-3 0v-7M233.5 129.7h5.9m0 -3.5v7m-5.9 0v-7M120.1 175h2.1m0 -3.5v7m-2.1 0v-7M235.5 114.1h11.8m0 -3.5v7m-11.8 0v-7M212.9 171.9h9.7m0 -3.5v7m-9.7 0v-7M204.6 192.4h5.2m0 -3.5v7m-5.2 0v-7M419 251.8h27.1m0 -3.5v7m-27.1 0v-7M424 281.2h10.9m0 -3.5v7m-10.9 0v-7M255.6 240.7h7.7m0 -3.5v7m-7.7 0v-7M387.6 236.9h25.3m0 -3.5v7m-25.3 0v-7M174.6 263.8h7.2m0 -3.5v7m-7.2 0v-7M122 133.7h2.8m0 -3.5v7m-2.8 0v-7M209.9 124.6h6.1m0 -3.5v7m-6.1 0v-7M402 267.2h11.9m0 -3.5v7m-11.9 0v-7M194.9 285.1h6.8m0 -3.5v7m-6.8 0v-7M354.7 260.8h19.1m0 -3.5v7m-19.1 0v-7M345.2 270.2h17.8m0 -3.5v7m-17.8 0v-7M160.3 149.8h5.3m0 -3.5v7m-5.3 0v-7M201.8 271.9h7.1m0 -3.5v7m-7.1 0v-7M403 268.8h27.5m0 -3.5v7m-27.5 0v-7M207.6 109.9h8.9m0 -3.5v7m-8.9 0v-7M149 195.9h2.4m0 -3.5v7m-2.4 0v-7M236.8 177.5h10.7m0 -3.5v7m-10.7 0v-7M219.3 180.8h7m0 -3.5v7m-7 0v-7M322.2 264.9h14.5m0 -3.5v7m-14.5 0v-7M273.8 271.6h10.1m0 -3.5v7m-10.1 0v-7M147 266.2h3.9m0 -3.5v7m-3.9 0v-7M227.6 170.2h11.8m0 -3.5v7m-11.8 0v-7M345.6 270h20.1m0 -3.5v7m-20.1 0v-7M225.5 131.7h4.7m0 -3.5v7m-4.7 0v-7M251.5 220.6h13.3m0 -3.5v7m-13.3 0v-7M198.4 276.4h8.7m0 -3.5v7m-8.7 0v-7M172.6 174.1h6.3m0 -3.5v7m-6.3 0v-7M225.7 133h10.7m0 -3.5v7m-10.7 0v-7M140.4 207.3h5.5m0 -3.5v7m-5.5 0v-7M314 285.4h8.4m0 -3.5v7m-8.4 0v-7M219.9 180.1h5m0 -3.5v7m-5 0v-7M182.9 144.4h3.8m0 -3.5v7m-3.8 0v-7M150.2 146.8h3.6m0 -3.5v7m-3.6 0v-7M415 271.5h11.5m0 -3.5v7m-11.5 0v-7M171.3 266.4h7.7m0 -3.5v7m-7.7 0v-7M127.7 117.1h3.9m0 -3.5v7m-3.9 0v-7M251.4 205.6h8.1m0 -3.5v7m-8.1 0v-7M426.7 262.2h26.1m0 -3.5v7m-26.1 0v-7M149.5 136.8h3.2m0 -3.5v7m-3.2 0v-7M146.3 270.8h4.6m0 -3.5v7m-4.6 0v-7M353.8 245.6h14.9m0 -3.5v7m-14.9 0v-7M206.6 173.3h4.3m0 -3.5v7m-4.3 0v-7M234.4 240.6h8.2m0 -3.5v7m-8.2 0v-7M192.6 277.3h3.5m0 -3.5v7m-3.5 0v-7M317.1 275.1h16.1m0 -3.5v7m-16.1 0v-7M232.1 226.1h6.7m0 -3.5v7m-6.7 0v-7M379.7 234.7h25.8m0 -3.5v7m-25.8 0v-7M253.2 230.5h10.7m0 -3.5v7m-10.7 0v-7M132.1 145.4h2.3m0 -3.5v7m-2.3 0v-7M227 218.8h12m0 -3.5v7m-12 0v-7M186.5 156.5h8.4m0 -3.5v7m-8.4 0v-7M190.1 276.1h7m0 -3.5v7m-7 0v-7M168.4 182.2h7.9m0 -3.5v7m-7.9 0v-7M232.8 224.4h12.2m0 -3.5v7m-12.2 0v-7M176.1 151.8h6.2m0 -3.5v7m-6.2 0v-7M228.2 168.6h5.2m0 -3.5v7m-5.2 0v-7M249.2 186.5h5.6m0 -3.5v7m-5.6 0v-7M204.4 251.8h4.5m0 -3.5v7m-4.5 0v-7M120.6 139h3.8m0 -3.5v7m-3.8 0v-7M143.3 235.4h3.8m0 -3.5v7m-3.8 0v-7M164.5 155h4.3m0 -3.5v7m-4.3 0v-7M272.2 271h7.3m0 -3.5v7m-7.3 0v-7M121.4 186.8h2.2m0 -3.5v7m-2.2 0v-7M124.3 115.4h2.6m0 -3.5v7m-2.6 0v-7M240.9 178.2h9.8m0 -3.5v7m-9.8 0v-7M231.5 213.8h8.6m0 -3.5v7m-8.6 0v-7M133 178h4.6m0 -3.5v7m-4.6 0v-7M235 223.9h6.7m0 -3.5v7m-6.7 0v-7M150.6 182.8h2.5m0 -3.5v7m-2.5 0v-7M132.6 186.1h3m0 -3.5v7m-3 0v-7M347.8 240.7h10.4m0 -3.5v7m-10.4 0v-7M209.6 117.2h10.1m0 -3.5v7m-10.1 0v-7M172.8 169.6h5m0 -3.5v7m-5 0v-7M352 268.4h13.8m0 -3.5v7m-13.8 0v-7M361.3 261.1h18.4m0 -3.5v7m-18.4 0v-7M385.5 263.6h10.9m0 -3.5v7m-10.9 0v-7M150.3 106.2h2.7m0 -3.5v7m-2.7 0v-7M424.8 268.1h23.1m0 -3.5v7m-23.1 0v-7M155.6 285.4h6.8m0 -3.5v7m-6.8 0v-7M125.3 123.8h2m0 -3.5v7m-2 0v-7M200.4 222.9h8.7m0 -3.5v7m-8.7 0v-7M119.2 144.3h3.3m0 -3.5v7m-3.3 0v-7M179.2 142.7h4.4m0 -3.5v7m-4.4 0v-7M294.5 294.7h16.2m0 -3.5v7m-16.2 0v-7M343.4 274h8.1m0 -3.5v7m-8.1 0v-7M174.6 134.8h3.6m0 -3.5v7m-3.6 0v-7M205.3 174.1h5.7m0 -3.5v7m-5.7 0v-7M322.7 264.2h14.7m0 -3.5v7m-14.7 0v-7M253.6 222.2h7m0 -3.5v7m-7 0v-7M208.8 124.4h6.5m0 -3.5v7m-6.5 0v-7M235 244.9h8.1m0 -3.5v7m-8.1 0v-7M219.8 118.5h12.1m0 -3.5v7m-12.1 0v-7M235.6 209h8.7m0 -3.5v7m-8.7 0v-7M226.2 162.2h9.3m0 -3.5v7m-9.3 0v-7M151.3 111.5h3.1m0 -3.5v7m-3.1 0v-7M225.9 160.1h9.8m0 -3.5v7m-9.8 0v-7M234.8 203.9h12.3m0 -3.5v7m-12.3 0v-7M148.8 111.9h5.4m0 -3.5v7m-5.4 0v-7M330.6 227.5h9.5m0 -3.5v7m-9.5 0v-7M203.6 186.9h4m0 -3.5v7m-4 0v-7M214.6 178.2h11.2m0 -3.5v7m-11.2 0v-7M170.3 180.1h3.8m0 -3.5v7m-3.8 0v-7M302.2 289.2h9.9m0 -3.5v7m-9.9 0v-7M136.4 175.3h1.8m0 -3.5v7m-1.8 0v-7M184.4 259.5h4.2m0 -3.5v7m-4.2 0v-7M175.1 143.6h5.2m0 -3.5v7m-5.2 0v-7M430.2 265.5h12.4m0 -3.5v7m-12.4 0v-7M239 150.2h5m0 -3.5v7m-5 0v-7M131.7 116.7h4m0 -3.5v7m-4 0v-7M329.5 227.6h17.7m0 -3.5v7m-17.7 0v-7M235.8 132.4h13.8m0 -3.5v7m-13.8 0v-7M238 235.3h5.6m0 -3.5v7m-5.6 0v-7M244.3 185.2h13.7m0 -3.5v7m-13.7 0v-7M201.2 147.5h8.5m0 -3.5v7m-8.5 0v-7M125 192.4h2m0 -3.5v7m-2 0v-7M256.2 241h6.9m0 -3.5v7m-6.9 0v-7M215.2 198.1h5.6m0 -3.5v7m-5.6 0v-7M213.2 209.1h11.8m0 -3.5v7m-11.8 0v-7M212.9 212.3h5.6m0 -3.5v7m-5.6 0v-7M219.1 211.2h11.3m0 -3.5v7m-11.3 0v-7M210.7 216.1h4.9m0 -3.5v7m-4.9 0v-7M218.2 209.8h4.1m0 -3.5v7m-4.1 0v-7M217.3 213.2h4.6m0 -3.5v7m-4.6 0v-7M209.5 207h8m0 -3.5v7m-8 0v-7M210.1 249.7h4.1m0 -3.5v7m-4.1 0v-7M212.3 238.9h8.2m0 -3.5v7m-8.2 0v-7M214.2 199.7h6.4m0 -3.5v7m-6.4 0v-7M301.2 219.6h14.2m0 -3.5v7m-14.2 0v-7M297.1 210.3h18.5m0 -3.5v7m-18.5 0v-7M300 216.5h9.7m0 -3.5v7m-9.7 0v-7M329.9 220h18.1m0 -3.5v7m-18.1 0v-7M339.1 208.3h8.8m0 -3.5v7m-8.8 0v-7M283.2 203h9.5m0 -3.5v7m-9.5 0v-7M305.4 203.9h14.6m0 -3.5v7m-14.6 0v-7M335.4 210.5h16.7m0 -3.5v7m-16.7 0v-7M400.9 224.4h18.9m0 -3.5v7m-18.9 0v-7M388 222.2h17.7m0 -3.5v7m-17.7 0v-7M386.6 211.9h20.9m0 -3.5v7m-20.9 0v-7M394.9 220.1h15.3m0 -3.5v7m-15.3 0v-7M401.5 239.7h28.4m0 -3.5v7m-28.4 0v-7M405.7 230.6h11.5m0 -3.5v7m-11.5 0v-7M393.7 219h12.4m0 -3.5v7m-12.4 0v-7M390.3 226.5h25.4m0 -3.5v7m-25.4 0v-7M217.9 226.6h14.9m0 -3.5v7m-14.9 0v-7M210.8 208.5h9.5m0 -3.5v7m-9.5 0v-7M207.1 212.1h14m0 -3.5v7m-14 0v-7M206.3 186.7h13.5m0 -3.5v7m-13.5 0v-7M207.2 204h11m0 -3.5v7m-11 0v-7M214.6 216.3h6.2m0 -3.5v7m-6.2 0v-7M222.6 189.8h12.7m0 -3.5v7m-12.7 0v-7M208.3 216.1h15m0 -3.5v7m-15 0v-7M224.3 205.1h10.1m0 -3.5v7m-10.1 0v-7M217.8 197.1h7.9m0 -3.5v7m-7.9 0v-7M220.7 209.7h12.8m0 -3.5v7m-12.8 0v-7M206.8 235.4h13.6m0 -3.5v7m-13.6 0v-7M219.3 192.1h9m0 -3.5v7m-9 0v-7M214.2 235.2h15.8m0 -3.5v7m-15.8 0v-7M211.9 235.3h11.8m0 -3.5v7m-11.8 0v-7M212.5 186.8h9.7m0 -3.5v7m-9.7 0v-7M225 243.5h11.7m0 -3.5v7m-11.7 0v-7M214.6 230.6h13.8m0 -3.5v7m-13.8 0v-7M212.8 224.7h14m0 -3.5v7m-14 0v-7M213.6 245.9h8.8m0 -3.5v7m-8.8 0v-7M219.2 220.7h9.8m0 -3.5v7m-9.8 0v-7M211.4 245.2h12.6m0 -3.5v7m-12.6 0v-7M218.6 222.5h9.4m0 -3.5v7m-9.4 0v-7M214.2 231.4h15.9m0 -3.5v7m-15.9 0v-7M219.3 235.6h14.2m0 -3.5v7m-14.2 0v-7M226.4 209.8h6.6m0 -3.5v7m-6.6 0v-7M217.3 216.1h6.7m0 -3.5v7m-6.7 0v-7M225.6 200h8.9m0 -3.5v7m-8.9 0v-7M207.5 238.5h9.5m0 -3.5v7m-9.5 0v-7M212.2 183.4h15.2m0 -3.5v7m-15.2 0v-7M458 251h18m0 -3v6m-18 0v-6M461 254h18m0 -3v6m-18 0v-6M463 257h20m0 -3v6m-20 0v-6M467 260h18m0 -3v6m-18 0v-6M469 263h20m0 -3v6m-20 0v-6M473 266h18m0 -3v6m-18 0v-6M461 250h18m0 -3v6m-18 0v-6M464 253h18m0 -3v6m-18 0v-6M466 256h20m0 -3v6m-20 0v-6M470 259h18m0 -3v6m-18 0v-6M472 262h20m0 -3v6m-20 0v-6M475 266h18m0 -3v6m-18 0v-6M460 255h16m0 -3v6m-16 0v-6M464 260h16m0 -3v6m-16 0v-6M468 264h16m0 -3v6m-16 0v-6M121 213.4h8m0 -3v6m-8 0v-6M160.3 121.2h6m0 -3v6m-6 0v-6M173.5 89.3h6m0 -3v6m-6 0v-6M175.2 97.6h6m0 -3v6m-6 0v-6M173.7 113.7h8m0 -3v6m-8 0v-6M206 142.5h6m0 -3v6m-6 0v-6M192 145h8m0 -3v6m-8 0v-6M239.7 116h8m0 -3v6m-8 0v-6M160 279.3h8m0 -3v6m-8 0v-6M168.3 273.4h8m0 -3v6m-8 0v-6M186 279.3h8m0 -3v6m-8 0v-6M203.3 278.8h8m0 -3v6m-8 0v-6M196.7 307h8m0 -3v6m-8 0v-6M235.9 248.5h10m0 -3v6m-10 0v-6M231.1 254h10m0 -3v6m-10 0v-6M230 261h10m0 -3v6m-10 0v-6M233 268.7h10m0 -3v6m-10 0v-6M237.8 275.8h10m0 -3v6m-10 0v-6M355.7 166.1h33m0 -3v6m-33 0v-6M365.4 193h29.6m0 -3v6m-29.6 0v-6M384.7 206.5h22m0 -3v6m-22 0v-6M384 217.3h16m0 -3v6m-16 0v-6M368.9 225.4h16m0 -3v6m-16 0v-6M307.8 201.9h16m0 -3v6m-16 0v-6M317.3 208.1h14m0 -3v6m-14 0v-6M327.3 208.1h14m0 -3v6m-14 0v-6M330.5 214.3h12m0 -3v6m-12 0v-6M293.7 219.5h12m0 -3v6m-12 0v-6M307 219.5h12m0 -3v6m-12 0v-6M337 219.5h12m0 -3v6m-12 0v-6M454.6 241.7h23.6m0 -3v6m-23.6 0v-6M437.1 283.4h22m0 -3v6m-22 0v-6M464.5 278.5h25m0 -3v6m-25 0v-6M470.2 278.5h20m0 -3v6m-20 0v-6M293.6 306.5h8m0 -3v6m-8 0v-6M421.8 284h12m0 -3v6m-12 0v-6" stroke="#000" stroke-width=".75" fill="none"/>
<path d="M125.8 114.2L121.8 131.6L120.8 153.9L122.3 175.6L125.7 201L128.9 210.9L131.5 210.2L133 208.2L134.7 199.6L134.8 179.6L136 178L138.3 177L140.3 177.2L142.2 178.6L141.3 145.3L139.3 146.6L137.3 146.7L135.4 145.9L133.9 143.9L132.2 115.4L130.8 104.3L127.2 97.5L126.6 100.5ZM143.7 197.5L144.7 246.7L146.2 249.2L147.3 261.4L151.1 281.7L155.1 290.3L157 290.8L159.7 281.3L160.7 261.4L161.6 259.4L163.7 257.9L167.8 257.8L170.3 259.3L174.7 272.2L175.3 271.9L177.8 261L178.7 259.2L180 258.2L181.6 257.7L185.4 257.7L187.1 258.2L188.4 259.4L189.2 260.9L192 279.4L195.6 281.6L198.3 284.2L202.1 278.2L207.2 261.3L207.7 248.9L207.9 164.7L209 162.9L210.8 161.9L212.9 161.8L214.8 162.7L216.2 164.9L218.7 180.2L229 181.5L233.5 178.7L231.7 153.9L232.8 151.2L235.4 149.7L238.2 150.3L239.5 151.5L240.2 153L244 183.1L245.5 181.5L247.1 180.8L249.1 180.8L250.9 181.8L252 183.5L256.2 194.9L256.3 225.7L259.2 248.8L265.3 261.9L274 266.9L285.3 280.2L291.7 294.6L297.3 300.8L303.3 290.8L304.9 289.3L307 288.7L315.7 289.5L322.5 278.5L330.5 267.5L332.9 265.8L335.5 266L337.5 267.5L342 277.2L351.3 272.8L353.7 273.1L356.6 275.3L360.1 262.1L362.2 260.1L364.7 259.8L373.3 263.9L385.5 265.7L413.1 267.8L422.6 274.6L428.7 279.9L434.6 276.9L437.9 268.7L439.6 261.7L438.9 254.3L432.7 249.7L423.2 244.9L403.8 237.1L394.7 235.3L380.9 236.2L374.2 238.8L368.4 243.6L365.5 244.3L357.6 241.5L351.3 235.3L343.3 230L334.6 228.3L299.5 228.3L291 226.2L289.4 225.4L282.8 217.9L261.8 195.9L256.3 189L253.8 170.8L248.9 153.4L242.8 138.9L243.7 121.5L242.1 116.1L238.4 111.6L237.5 111.2L235.9 127.9L234.8 129.2L232.9 130.2L230.8 130.1L229 129.1L227.8 126.9L222.4 101.2L218.8 91.6L216.1 91L214.7 93.4L212.8 114.1L214.1 141.1L213.6 143.5L212.5 144.7L211 145.5L208 145.3L204.1 148.2L194.3 149L194 151.6L192.4 153.6L190 154.3L187.6 153.6L185.9 151.3L180.4 127.2L178.1 121.3L176.5 174.8L175.2 177.4L170.9 179.8L169.2 179.9L167.6 179.3L166.4 178.1L165.6 176.2L165.2 150.2L163.8 126.5L156.1 115.8L154 107.9L153 106.5L152.2 107.6L150.9 120.2L150.8 130.9L151.8 154.1L151.1 195.1L150.2 197.4L148.1 198.7L145.7 198.7ZM240.7 246.4L240.7 199.2L235.1 197.6L233.8 229.7L236.9 247.3L239 248.5Z" fill="#000" fill-rule="evenodd"/>
<path d="M127.5 205.1h0M260.2 195.4h0M281.9 215.3h0M345.6 233.6h0M128.8 98.5h0M435.4 254.2h0M206 206.6h0M375.9 264h0M207.1 241.6h0M154.3 281.9h0M430.8 276.7h0M241 163.5h0M437 256.8h0M131.9 104.9h0M208.5 257.7h0M132.2 140.5h0M152.4 284.2h0M216.8 160.8h0M142.6 207.2h0M278.1 273.9h0M436.3 265.1h0M139.4 165.2h0M207.9 227.6h0M342.2 271h0M176 142.9h0M164.1 255.3h0M224.1 116.3h0M207.2 214.6h0M277.3 272.4h0M234.2 202.4h0M240.8 132.9h0M133.9 198.5h0M237.8 198.7h0M206.1 219.8h0M221.2 181.7h0M151.5 129.2h0M306.1 286h0M124.2 120.3h0M130.7 102.3h0M340.3 270.3h0M138.9 164.9h0M358.5 243.6h0M132.2 203h0M127.2 201.5h0M161.1 259.3h0M215.3 164.7h0M371.6 239.7h0M153.7 145.3h0M256.2 233.9h0M417.1 270.4h0M209 191.9h0M153.4 171.9h0M205.4 205h0M161.2 131h0M402.5 237.8h0M225.5 116.6h0M164.2 142.9h0M152.5 157.1h0M207.4 199.5h0M206.5 202.7h0M132.8 113h0M377.5 264.7h0M170.4 255.6h0M439.8 254.5h0M303.2 287.7h0M212.2 122.5h0M420.5 244.4h0M263.7 196.6h0M235.2 121.7h0M165.2 143.8h0M242.1 150.4h0M147.8 266.4h0M410.9 240.8h0M205.5 225.9h0M133.7 135.1h0M133 179.7h0M133.2 196.5h0M440.8 258.6h0M262.9 196.3h0M131.4 102.8h0M256.5 190.7h0M143.1 179.2h0M134.1 187.2h0M242.9 182.9h0M124.1 161.6h0M354.8 271.8h0M122.1 134.5h0M124.5 128.8h0M290.6 286.4h0M124.8 116.5h0M145 220.3h0M414.3 270.1h0M282.7 275.6h0M206.5 220.7h0M162.9 168.2h0M162.3 133.8h0M147.3 227.1h0M237.4 208.9h0M125.4 127.8h0M134.9 181.6h0M232.5 174.2h0M260.2 236.5h0M122 139.3h0M225.5 127.9h0M241.6 229.4h0M244 184.2h0M152.6 111.3h0M267 204.4h0M235.7 216.7h0M162.4 160.7h0M165.3 166.4h0M375.9 263.4h0M165.2 168.8h0M343.1 230.7h0M150.3 111.9h0M133.1 208.1h0M233.5 165.2h0M119.9 156.1h0M376.2 236.9h0M404.5 239.4h0M176.5 166h0M184.2 147.3h0M277.6 269.4h0M146.4 233.3h0M321.3 276.9h0M438.8 267.2h0M131.8 135.5h0M142 138.7h0M266.8 204.9h0M124.4 118.6h0M251.5 172.6h0M175.7 264.5h0M139.7 161.6h0M240.7 222.1h0M284.1 279.4h0M146.5 223.1h0M265.1 262.3h0M126.7 198.9h0M206.8 161.4h0M171.4 181.4h0M243 126.2h0M231.8 180.7h0M412.8 241.5h0M130.3 105.3h0M209 243.4h0M153.2 173.9h0M356.1 272.9h0M231.4 175.8h0M207.5 143.9h0M133.4 178.1h0M151.3 107.9h0M283.4 278.8h0M164.6 137h0M256.9 222.8h0M148.4 260.4h0M230.7 149.8h0M259.2 241.7h0M359.4 261.4h0M147.9 259.7h0M215 100.8h0M150.5 123.9h0M235.7 244.4h0M145.3 244.8h0M150.2 163.5h0M205.7 262.7h0M295.8 296.1h0M258.8 208.4h0M157.1 278.6h0M215.7 134.3h0M374 242.3h0M122.5 134.5h0M125.3 128.2h0M217.6 179h0M168.1 256.5h0M436 270.3h0M121.9 138.5h0M178.3 135.9h0M374.4 240.4h0M395.7 236.4h0M204.8 215.4h0M352.1 270.5h0M127.3 205.8h0M185.2 152.4h0M123.8 146.7h0M239.5 119.6h0M258.9 232.4h0M242.8 161.8h0M385.2 264h0M124.6 171.4h0M151.7 186.1h0M235.7 216.1h0M145.6 249.1h0M337.8 266.7h0M162.6 141.4h0M207.6 256.8h0M257.9 235.2h0M251.2 165.1h0M153.9 289.9h0M216 169.9h0M215.7 110.7h0M121.8 152.1h0M359.9 242.7h0M258.3 247h0M317.7 227.1h0M243 154.1h0M337.7 267.3h0M164.5 170.3h0M277.5 267.8h0M173.1 179.5h0M287.8 284.1h0M236.4 199.6h0M357.8 260.4h0M404.3 239.2h0M256.8 212.9h0M174 179.1h0M134 143.4h0M406.3 265.6h0M152.8 171.3h0M242.3 179.9h0M306.9 227h0M255.1 221.8h0M212.1 119h0M128.4 99.5h0M143.6 223.8h0M327.9 272.8h0M120.7 168.6h0M158.6 267.3h0M311.8 287.5h0M362.2 261h0M253.1 179.2h0M315.9 230.4h0M438.4 254.3h0M149 199.6h0M301.1 295.3h0M233 230.9h0M209.1 178.5h0M157.6 280.3h0M241.9 117.6h0M321.6 275.8h0M143.7 215h0M165.7 156.9h0M253 170.5h0M166.7 173.4h0M439.5 261.9h0M422.1 247h0M349.8 271.9h0M185.1 150.3h0M239.7 156.3h0M243.6 174.9h0M241.6 113.2h0M391.1 264.8h0M182.6 149.2h0M122.6 155.1h0M377.8 238.6h0M315.5 227h0M152.7 150.2h0M362.1 259.8h0M429.2 251.1h0M346.7 274.8h0M429.9 278.7h0M198.4 283h0M258.7 218h0M250.5 180.9h0M239.2 155.8h0M129.5 119.4h0M413.7 241.2h0M153.5 153.5h0M387 238.4h0M150.6 153.4h0M206.1 268.6h0M242.1 117.4h0M240.8 137.2h0M216.6 93.5h0M205.4 271.7h0M142.9 175.7h0M231 162.5h0M253.6 171.8h0M132.6 184.9h0M337 231.1h0M239.4 198.9h0M228.5 179.7h0M164.4 142.5h0M151.1 177.2h0M258.2 204.6h0M151.1 183.4h0M207.5 210.4h0M421 246h0M239.9 112.2h0M212 120.4h0M426.9 280h0M234.2 239.1h0M423 273.5h0M177.4 129.4h0M321.3 276.7h0M243.7 165h0M150.2 182.6h0M347.2 273.7h0M153.3 280.8h0M257.2 198h0M186.5 257h0M260.8 246.5h0M207.7 241.3h0M131.4 119.8h0M149.5 272h0M293.2 298.2h0M201.1 276.5h0M281.6 273.5h0M190.6 276.5h0M138.9 174.5h0M121.7 149h0M238.1 233.2h0M258.1 240h0M241 211.2h0M149.8 193.6h0M141.5 173.5h0M376.5 238.2h0M414.9 244.4h0M348.1 273h0M281.6 220.4h0M191.7 275.9h0M222.9 110.2h0M317.2 287.1h0M350.4 273.7h0M312.7 227.5h0M126.7 191.7h0M401.8 266h0M162.7 258.6h0M131.2 114.2h0M126.5 202.9h0M257.3 243.8h0M433.6 250.1h0M150.7 160.7h0M256.8 194.6h0M311 227.7h0M232.5 158.5h0M385.3 235.2h0M163.3 165.9h0M182.6 139.6h0M236.8 220h0M125.5 198.5h0M182.7 136h0M240.7 156.4h0M131.7 131.2h0M164.4 126.1h0M145 247.5h0M125.2 177.9h0M193.8 153.4h0M215.3 100.3h0M152.7 106.6h0M164.1 139.9h0M305.9 286.1h0M282.5 277.7h0M231 131.8h0M208.3 241h0M234.6 208.4h0M178.2 166.1h0M186.8 151.9h0M217.4 91.5h0M350.4 272.2h0M123.3 174.1h0M313.1 227.9h0M248.4 154.4h0M260 252.3h0M265.1 254.7h0M233 174.1h0M192.6 156.2h0M194.5 149.9h0M205.4 198.3h0M164 132.3h0M150.2 172.5h0M180.1 126.3h0M121.4 160.4h0M201.3 148.6h0M124.5 189h0M125.7 127.8h0M144.5 211.3h0M125.4 115.7h0M181 128.8h0M241.2 231.6h0M140.5 158.5h0M205.4 170.7h0M142.5 205.6h0M151.3 182.7h0M213.2 112.2h0M133.8 191.6h0M369 242.3h0M354.4 271.8h0M233.2 165.2h0M146.4 212.4h0M290.8 287.3h0M153.5 184.9h0M319.5 285.2h0M161.4 261.8h0M152.8 179.2h0M146.7 215.4h0M184.6 145.2h0M230 131.3h0M233 149.8h0M178.6 150h0M124.5 180.4h0M164.5 170.2h0M145.3 208.8h0M232.2 133h0M158.8 275.2h0M170.5 181.3h0M269.3 265.4h0M208.3 164.4h0M154.4 177.5h0M438.9 259.8h0M308.6 229.3h0M139.1 167.9h0M137.4 178.4h0M152.9 277.8h0M257.4 245.4h0M180.4 133.8h0M150.1 280.6h0M172.8 264.5h0M303.4 288.3h0M164.8 172.7h0M440.5 259.2h0M166 141.5h0M213.3 143.2h0M149.5 135.5h0M165.8 165.6h0M227.8 130.2h0M365.3 259.2h0M131.8 181.6h0M121.4 165.8h0M213.8 124.4h0M151.4 157.3h0M241.2 125.2h0M218.7 90.1h0M269.8 264.5h0M214 103.1h0M122.3 146.2h0M350.7 271.5h0M227.3 129.5h0M142.5 168h0M214 159.2h0M147.9 263.1h0M209 225.9h0M266.2 263.6h0M208.4 223.7h0M120.6 157.5h0M239.8 211.8h0M161.4 135.7h0M437.2 254.1h0M130.2 117.2h0M274.2 265.8h0M311.3 230.6h0M328.2 230.5h0M205.8 207.3h0M184.7 148.8h0M209.1 207.3h0M218.2 164.4h0M418.4 273.1h0M134.9 182.1h0M242.4 141h0M211.6 116h0M221.7 179.9h0M239 110.7h0M237.2 248.7h0M241 199.3h0M191.7 260.5h0M237.7 151.2h0M253.9 181.3h0M151 150.4h0M216.1 97.5h0M154.4 171.6h0M406.8 265.7h0M121.9 157.4h0M202.3 271.2h0M130.5 130.8h0M157.1 118.4h0M144.4 223h0M243.3 181.4h0M191.3 273.7h0M238.5 244.9h0M217.1 93.2h0M162 129.9h0M132.4 182.9h0M243.4 168.1h0M152.6 278.5h0M154.2 144.3h0M288.5 290.2h0M120.4 167.8h0M287.4 280.3h0M229.9 131.6h0M137.2 176.9h0M366.8 244.8h0M236.9 222.2h0M151.2 138.1h0M153.3 289.7h0M300.3 295.1h0M134.7 138h0M348.6 271.6h0M426.3 274.9h0M205.9 237.5h0M440.5 261.4h0M413.8 269.6h0M260.4 240.7h0M151.6 121.9h0M258.8 249h0M339.8 271.8h0M298.9 227.1h0M399.2 265.8h0M204.7 198h0M254.1 183.7h0M151.1 163.8h0M152.2 156.9h0M177 269.2h0M205.5 192.6h0M152.4 281.2h0M245.9 182.2h0M420 245.8h0M207.3 148.3h0M244.1 177.3h0M255.6 220.4h0M136.7 176.4h0M202.2 270.8h0M200.2 277.9h0M183.2 135.3h0M152.1 115.4h0M238.4 203.5h0M122.4 149.3h0M257.7 225.1h0M180 126.6h0M258.9 214.7h0M158.3 285h0M206.3 189h0M322.8 275.2h0M213.9 114.2h0M252.8 169h0M165.1 168.6h0M208.8 257.3h0M141.3 168h0M335.8 266.9h0M407.4 240.7h0M249.8 166.9h0M204.6 269.7h0M207.3 253.7h0M178.5 143.6h0M437.5 259h0M236 211.4h0M151.2 160.8h0M177.4 168.7h0M238.6 216.5h0M156.2 112.4h0M419.9 243h0M152.8 147.8h0M191.2 274.4h0M166.8 175.8h0M383.2 265.4h0M205.5 204.1h0M244.8 173.5h0M383.1 263.9h0M242 137.8h0M192.2 267.5h0M238 114.5h0M243.2 116.1h0M268.7 204.6h0M287 222.6h0M154.6 165.4h0M256.8 238.8h0M142.7 213h0M233.2 209.7h0M151.7 130.4h0M253.6 188.8h0M177.6 137.6h0M173.6 271.8h0M371.4 240.2h0M254.4 180h0M158.7 282.8h0M180.8 128h0M242.8 169.9h0M154.3 148.8h0M433.5 250.7h0M146.3 261.6h0M250.6 179.3h0M212.5 145.6h0M346.6 273.4h0M239 115.1h0M323.7 272.1h0M386.4 235.2h0M260.1 238.8h0M153.2 116.4h0M320.4 281.6h0M338 270.2h0M221.3 107.3h0M240.1 138.1h0M194.4 282.4h0M207.2 234.2h0M207.5 170.4h0M197.4 150.1h0M151.8 190.2h0M159.5 260.8h0M236.6 200h0M193.6 152.1h0M150.8 158.6h0M152.1 157.9h0M180.2 147.2h0M153.8 121.1h0M210.7 161.6h0M369.7 259.1h0M256.5 212.9h0M354.5 274.1h0M133.9 120.5h0M240.7 238.9h0M189.6 268.7h0M387 263.1h0M257.7 222.7h0M180 257.4h0M120.4 168.8h0M264.7 260.8h0M287 281.5h0M306.3 227.1h0M147.3 240.2h0M182 129h0M407.6 267h0M177.2 143.3h0M256.6 190.4h0M216.2 161.8h0M262.5 251.7h0M132.2 194.1h0M341.1 228.7h0M152 152.2h0M284.4 280.2h0M166.1 167h0M301.2 230.4h0M192.6 273.9h0M242.3 154.2h0M152.9 164.8h0M245 173.5h0M227.4 120.5h0M151 132.2h0M150.3 181.4h0M136.8 146.5h0M272.5 267.6h0M174.4 267.5h0M235.3 243h0M237.4 212.4h0M257.3 189.9h0M234.5 150.9h0M257.1 206.9h0M122 179.8h0M126.3 106.1h0M162.9 150.9h0M246.7 182.5h0M191.4 278.8h0M126.6 197.4h0M283.3 274.5h0M215.4 162.8h0M208.7 144.2h0M235.2 126.5h0M259.2 206.4h0M151.2 180.8h0M184.3 145.3h0M178.5 169.3h0M314.5 288.7h0M235.1 205.6h0M222.9 181.6h0M199.1 279.2h0M288.7 283.8h0M150.3 161.9h0M147.7 254.8h0M150.4 115.9h0M291.3 290.9h0M159.9 263.4h0M290.7 285.7h0M193.5 278.2h0M439 254.4h0M153.2 168.3h0M164 173.3h0M165.1 134h0M150.9 274.6h0M415.8 240.9h0M145.2 230.3h0M135.8 179.5h0M146.6 250.2h0M206.5 251.3h0M241.4 217.6h0M392.5 234.5h0M123 189.6h0M406.5 264.6h0M176.7 130.7h0M161.9 267.1h0M309.5 228.5h0M177.9 131.1h0M241.5 223.9h0M246.9 150.8h0M255.9 214.8h0M211.8 144.8h0M212.1 115.4h0M319.5 279.1h0M258 212h0M160.9 120.9h0M208.2 217.2h0M354 237.9h0M233.3 213.5h0M212 111.3h0M363.3 244.9h0M331.8 228.5h0M219.4 181.7h0M283.4 216.9h0M244.2 166.4h0M238.7 239.5h0M126 183.7h0M287.7 288.7h0M246.3 180.5h0M340.5 273h0M320.6 283h0M274.1 210.2h0M247.8 179.8h0M124.1 159.7h0M166.3 165.5h0M405.5 265.6h0M206.5 199.3h0M141.3 146.5h0M151 136.7h0M123.6 164.7h0M436.5 267.1h0M220.2 95.9h0M258.5 239.1h0M438.3 258.9h0M132.3 117.8h0M166 177.4h0M236.6 240h0M179.5 170.1h0M179.3 166h0M275.9 210.2h0M436.1 251.2h0M357.9 262.6h0M122.1 184.1h0M247.3 147.3h0M171 263.2h0M436.4 263.8h0M134.8 184.9h0M144.1 238.4h0M335.9 229.3h0M132 197.9h0M141.9 137.6h0M325.7 273.5h0M130.5 136.7h0M206.9 218.2h0M271.2 209.4h0M205.6 178h0M289.5 292.2h0M238.6 111.3h0M154.1 138.3h0M231.2 178.6h0M141.7 177.1h0M157.3 282.8h0M375.5 261.8h0M356.8 269.7h0M333 266.7h0M440.4 260.2h0M120.9 139.2h0M253.8 183.6h0M375.8 261.6h0M237.4 127.2h0M163.6 150.6h0M217.4 94.5h0M236.3 111.7h0M276.6 271.7h0M134.3 128.7h0M436.3 275.1h0M132.6 123.5h0M166.9 168.7h0M237 147.2h0M238.1 236.8h0M142.5 136.8h0M174.2 267.2h0M377.3 239.4h0M231.6 131.9h0M213.8 104.9h0M125.5 198.5h0M437 274.1h0M313.4 229.3h0M206.7 207.9h0M204.8 215.9h0M223.3 100.9h0M205.3 269.4h0M256.6 191.7h0M217.9 171.1h0M250.5 178.3h0M151.2 137.4h0M376.8 262h0M240.2 203.5h0M154.3 112.9h0M253.3 190.3h0M184.8 254.9h0M152.2 184.6h0M232.1 180.3h0M247.6 151h0M208.1 231h0M164 158.9h0M173.5 179.4h0M397.2 264.8h0M414.5 268.9h0M320.3 278.6h0M144.6 238.2h0M126.1 120.8h0M212.6 146.3h0M207 263.8h0M141.8 143.2h0M166.9 179.1h0M238.4 233.9h0M213.9 143.6h0M123.1 151.3h0M282.9 276.6h0M426.2 247.1h0M215.4 108.7h0M246.5 144.3h0M140.6 147.7h0M160.7 278.1h0M173.8 271.8h0M281.3 271.2h0M122.8 153.6h0M437 252.2h0M222.9 98.8h0M222.8 109.1h0M405 237.6h0M257 188h0M206 150.4h0M151.1 158.4h0M134.1 181.2h0M249.5 181h0M131.5 114.7h0M232.1 155.2h0M186.6 147.9h0M376.4 239.1h0M126.3 190.8h0M234.6 220.2h0M269.2 202.1h0M198.8 283.4h0M177.4 147.7h0M181.7 145.2h0M228.4 179.8h0M234.5 175h0M165.6 146.9h0M280.3 217h0M227.6 182.4h0M284.2 219.5h0M223 116.1h0M155.8 290h0M235.7 131.9h0M280.5 214h0M258.3 195.9h0M196.7 148.5h0M273.9 212.3h0M208 243h0M424.1 276.8h0M326.2 270.4h0M162.8 255.2h0M208.4 186.6h0M372.5 262.6h0M354.2 239.8h0M380.6 235.5h0M197.6 151.2h0M206.1 248.1h0M194.3 153.2h0M277.6 272h0M179 136.8h0M281.9 219.4h0M234.6 241.2h0M172 265.7h0M212.7 123.4h0M255.1 205.6h0M232.9 162.2h0M121.8 153.1h0M130.3 117h0M412.5 241h0M239.8 214.5h0M166.4 161.7h0M164.3 155.8h0M157 276.6h0M154 184.5h0M205.9 217.3h0M437.5 273.6h0M424 273.9h0M280.7 276.3h0M214.4 163.1h0M189.6 261.8h0M384.5 236.7h0M179 130.6h0M121.5 164.4h0M242.6 162.2h0M242.3 180.9h0M222.2 103.3h0M131.9 119.4h0M159.5 284.8h0M147.7 257.3h0M341.3 278.4h0M237.1 232h0M179.3 143.1h0M188.1 262.1h0M238.5 235.3h0M375 238.7h0M235.8 147.1h0M370.6 259.9h0M180.1 142h0M134.5 197.2h0M307.9 227.7h0M122.3 159.9h0M130.7 107.5h0M208 161.5h0M204.5 255.2h0M212.7 117.1h0M257.6 209.7h0M157.2 284.6h0M141.9 155.5h0M149.9 138.8h0M330.6 227h0M178.2 123.2h0M416.2 241h0M205 238h0M143.4 202.8h0M236.3 117.9h0M153.5 130.3h0M243.5 175.9h0M229.8 152h0M364.1 244.9h0M178.6 129.9h0M181.2 142.7h0M236.2 229.9h0M247.5 157h0M176.9 127.9h0M257.9 245.8h0M255.2 180.7h0M328.1 228.5h0M134.2 136.9h0M290.9 294.7h0M126.6 208.4h0M128.6 205h0M160.4 269.3h0M278.2 270h0M433.3 272.4h0M146.1 205.1h0M213.2 162.6h0M147.4 244.6h0M134 129h0M122.8 171.5h0M219.2 170.8h0M211.6 116.9h0M154.2 159.9h0M140.2 162.5h0M150.7 181.1h0M162.8 163.1h0M242.1 156.1h0M222.1 181.6h0M242.6 167.1h0M213.3 134.6h0M177.3 263.7h0M198.8 283.3h0M433.3 273.1h0M179.1 165.8h0M205.3 173.8h0M379.1 263.3h0M295.7 299.4h0M322.1 282h0M124.2 121.6h0M205.5 228.3h0M237 217.1h0M282.9 218.2h0M148.7 276.4h0M255.6 211.8h0M232.8 227.1h0M248.3 150.8h0M334.5 230.4h0M150.9 113h0M186.2 147.7h0M241.1 152.9h0M232.8 218.9h0M239.2 122.6h0M376.2 261.8h0M438.7 267.8h0M142.7 214.5h0M410.9 265h0M236.3 196.9h0M209.1 207.6h0M236 225.3h0M122.1 156.2h0M157.8 265.4h0M367.6 244.5h0M368.6 258.4h0M152 286.8h0M204.8 232h0M235.9 207.3h0M414.3 243.6h0M241.1 121.5h0M166.4 255.8h0M227.9 124.4h0M358.8 241.2h0M432.2 250.3h0M216.8 139.6h0M288.1 280.8h0M254.9 193.2h0M149.1 274.9h0M302.3 227.4h0M208.5 182.8h0M261.2 247.1h0M433.9 250.2h0M160.4 266h0M122.4 182.2h0M218.5 174.4h0M340.4 276.1h0M253.2 189h0M219.4 101.2h0M298.2 300h0M400.2 266.5h0M408.8 241.2h0M121.4 141.3h0M134.1 182.7h0M305.5 289.9h0M435.1 254.4h0M177.8 174.9h0M323.6 276.3h0M121.7 157.8h0M331.3 229.5h0M238 235.1h0M278.3 268.1h0M371 243.1h0M239.3 200.5h0M298 300.5h0M158.3 288.5h0M403.3 266.7h0M179.6 160.6h0M238.7 197.6h0M126.7 121.6h0M162.5 150.2h0M212.9 128.7h0M275.1 213.8h0M205.9 264.2h0M368.7 243.8h0M151.4 110.6h0M274.6 212.5h0M243.3 174h0M248.5 159.6h0M150.8 159.5h0M234 234.2h0M256.6 240.2h0M124.1 170.9h0M207.5 208.7h0M269.4 265.3h0M149.8 262.3h0M122.5 183.2h0M186.5 258.2h0M212.6 128.8h0M297.8 298.3h0M226 116.4h0M180.6 123.7h0M132.9 129.7h0M191.6 262.6h0M355.1 271.2h0M352.1 235.2h0M241.9 202.5h0M229.2 128h0M237.7 115.3h0M321.5 279.9h0M232.9 168.9h0M176.2 135h0M236.6 119.4h0M377.7 237.8h0M269.3 205.8h0M243.4 166.1h0M145.9 221.4h0M128.8 103.9h0M338.7 272.6h0M225.9 114h0M152.3 176.4h0M135.5 188.9h0M154.4 150.1h0M219.4 167.2h0M381.6 235.4h0M229.8 130.3h0M416.1 266.8h0M254.3 173.9h0M292.8 290.4h0M374.8 240.5h0M130.5 103.1h0M135.4 145.3h0M264 201.8h0M242.3 133.8h0M275.9 209.7h0M207.9 188.6h0M366.5 245.2h0M124.7 199h0M258.4 201.2h0M305.2 228.6h0M152.4 188.1h0M183 134.2h0M286.9 226.8h0M256 206.1h0M125.5 123.2h0M357.8 240.1h0M404.6 236.4h0M363.7 257.3h0M132 189.6h0M154.5 157.2h0M356.3 270.3h0M206 199.6h0M133.9 141.7h0M249.6 165h0M255.9 184.7h0M191.5 267.9h0M258.9 217.1h0M153.5 141.9h0M143.3 234.4h0M204.8 272.7h0M134.4 191.2h0M172 266.4h0M207.8 211.7h0M292.4 295.3h0M227.8 124h0M256.4 194h0M424.4 275.6h0M237.8 227h0M298.8 230.9h0M174.6 177.9h0M347.8 231.8h0M157.8 280h0M207.9 190.9h0M142.4 184.8h0M238.5 218.1h0M134.2 207.4h0M355.6 267.7h0M124 132.5h0M433.9 278h0M256.1 187.1h0M127.8 211.1h0M205 215.7h0M358.5 260.6h0M345.9 272.9h0M240.4 211.6h0M125.8 189.9h0M253.8 188.9h0M178 156.2h0M417.3 242.7h0M153.8 155.6h0M240.6 151h0M235 197.1h0M324.4 274.1h0M246.4 146.2h0M123.9 150.1h0M229.7 153.4h0M175.1 260.7h0M175.7 266.3h0M237.9 213.3h0M179.8 129.2h0M206.6 263.2h0M205.9 240.7h0M254.9 170h0M225.6 125.2h0M279.9 213.7h0M239.7 241h0M235.5 240.2h0M216 162.1h0M358.3 265.9h0M422.6 244.3h0M268.8 260.5h0M134.7 149h0M311.7 230.9h0M205.8 210.5h0M347.5 236.2h0M206.1 228.9h0M244.3 172.6h0M158.5 266.4h0M235.7 206.9h0M206.2 230.2h0M242 214.4h0M129.2 211.3h0M158.7 271.6h0M206.6 182.2h0M234.9 207.6h0M309.3 226.9h0M215.8 105.2h0M414.2 267.8h0M153.4 158.5h0M237 126.3h0M149.8 200.4h0M258.1 225.5h0M302.5 228.9h0M402.4 267.4h0M319.3 278.1h0M148.6 259.3h0M194.8 148.9h0M341.4 231.3h0M381.7 263.1h0M376.9 237.3h0M212.6 111.7h0M255.5 174.1h0M175.7 159.8h0M237 118.7h0M240.9 122.2h0M238.5 113.3h0M237.9 207.2h0M216.6 174.8h0M128.1 96.4h0M250.8 168.1h0M191.2 273.1h0M123.1 176.6h0M146.1 262.9h0M214.7 101.8h0M185.4 142.4h0M241.8 131.1h0M243.6 142.4h0M225.1 119.6h0M209.2 198.3h0M364.9 259.5h0M205.6 269.3h0M236 234h0M206.9 244.6h0M219.9 99.4h0M181.1 255.4h0M127.9 118h0M151.2 170.6h0M129.3 99.4h0M177.4 135.3h0M236.3 240.1h0M298.3 227.1h0M123.7 149.5h0M355.2 239.6h0M123.1 164.8h0M320 280.5h0M212.3 121.4h0M235.9 246.7h0M258 209.1h0M142.6 204.8h0M205.4 270.7h0M185.7 149.2h0M355.6 240.8h0M120.9 165.5h0M161.9 264.5h0M153.7 131.8h0M163.4 259.5h0M220.7 96.7h0M230 153.8h0M356.4 269.8h0M176.9 148.1h0M234.8 148.1h0M135.4 196.8h0M402.7 266.8h0M215.1 118.6h0M242 114h0M127.9 210.6h0M315.5 227h0M437.3 260.7h0M134.5 203.4h0M164.5 125.3h0M257.6 198.1h0M245.8 179.9h0M146.7 242.6h0M420.2 245.3h0M176.7 120.5h0M377.3 263.5h0M225.5 180.1h0M217.5 168.9h0M142.3 181.8h0M205.8 188.2h0M260 252.3h0M153.8 144.4h0M175.3 264h0M370.7 260.8h0M134.6 145.8h0M204.8 242.7h0M154.1 156.9h0M146.3 230.4h0M149.3 268.1h0M154.3 112.3h0M150.6 174h0M223.7 115.5h0M153.5 161.2h0M168.2 258.6h0M242.4 151.3h0M124.9 197.6h0M236.5 129.7h0M121.1 175h0M232.8 155.4h0M130.9 116.2h0M241.4 114.1h0M181.7 135.4h0M217.7 171.9h0M283.3 217.1h0M207.3 192.4h0M432.6 251.8h0M208.6 211.6h0M243.3 118.7h0M400.1 238h0M429.4 281.2h0M290.9 291.2h0M210.3 146.8h0M259.5 240.7h0M400.2 236.9h0M241.2 160.3h0M178.2 263.8h0M287.7 282.2h0M123.4 133.7h0M142.7 198.4h0M179.5 151.6h0M123.3 188.9h0M145.1 232.3h0M381.5 264h0M243.1 159.7h0M148.1 257.3h0M159 286.4h0M238.9 208.3h0M212.9 124.6h0M151.1 153.7h0M410.5 238.9h0M408 267.2h0M205.3 240h0M198.3 285.1h0M367.1 246.7h0M364.3 260.8h0M356.8 274.5h0M170 182.4h0M262.6 195.1h0M354.1 270.2h0M163 149.8h0M292.3 225.2h0M205.4 271.9h0M143.5 184.4h0M416.8 268.8h0M151.3 278.4h0M260.6 198.5h0M254.4 182.7h0M149.5 278h0M212.1 109.9h0M177.7 142.5h0M276.5 212.6h0M206.3 194.7h0M150.2 195.9h0M242.1 177.5h0M150.3 130.1h0M318.5 279.8h0M222.8 180.8h0M165.1 255.7h0M153.4 188.3h0M141.5 173.9h0M171.2 263.7h0M409.1 242.5h0M152.2 147.2h0M329.5 264.9h0M211.9 118h0M121.8 138.8h0M278.9 271.6h0M149 266.2h0M356 276.5h0M233.5 170.2h0M395.1 263.8h0M355.6 270h0M208.1 229.5h0M227.8 131.7h0M258.1 220.6h0M216.2 134.7h0M202.8 276.4h0M175.7 174.1h0M300.1 292.5h0M180.1 155h0M259.7 240.6h0M143.4 180.7h0M231.1 133h0M432.2 278.2h0M143.2 207.3h0M133.7 192.4h0M146.9 226.4h0M156.8 121.6h0M236.8 247.7h0M318.2 285.4h0M258.2 210.1h0M222.4 180.1h0M189.6 265.5h0M184.8 144.4h0M192.3 262.4h0M255.5 177.8h0M212.5 134.7h0M201.7 274.5h0M178.7 142.7h0M144.4 240.4h0M133.1 205.3h0M219.4 100h0M233.5 147.7h0M136.1 193.4h0M152 146.8h0M420.7 271.5h0M431.2 280.1h0M216.5 132.3h0M283.8 217.3h0M175.2 266.4h0M134.8 182.2h0M129.6 117.1h0M131.1 106.8h0M244.8 149.3h0M258 217.1h0M255.4 205.6h0M439.7 262.2h0M151.1 136.8h0M123.9 172.5h0M148.6 270.8h0M185.9 149.9h0M235.2 241.4h0M361.3 245.6h0M180.5 258.7h0M268.4 203.2h0M241.9 171.6h0M174.6 176.6h0M362.6 258.2h0M208.8 173.3h0M238.5 240.6h0M257.8 195h0M194.4 277.3h0M325.2 275.1h0M235.4 226.1h0M207.1 256h0M167.9 180.3h0M128.1 112.3h0M392.6 234.7h0M255.1 212.7h0M216.3 173h0M259.7 244.9h0M258.6 230.5h0M302 228.3h0M133.3 145.4h0M235.1 125.4h0M133 202.6h0M294.2 297.8h0M165.5 146.3h0M232.9 218.8h0M428.8 281.4h0M156.5 291.4h0M242.8 117.6h0M190.7 156.5h0M215.6 134.6h0M134.7 141.4h0M403.3 267h0M278.7 268.3h0M435.6 251.5h0M295.3 226.8h0M153.6 168h0M238.4 119.7h0M193.6 276.1h0M172.3 182.2h0M153.4 133.5h0M277.6 216.9h0M238.8 149.4h0M256.9 216.3h0M277.3 271.2h0M238.9 224.4h0M435.5 266.8h0M179.2 151.8h0M236 230.8h0M206 163.6h0M258.9 227.8h0M189.8 268h0M240.8 218.9h0M230.8 168.6h0M126.2 109.8h0M252 186.5h0M206.6 251.8h0M208.1 231.7h0M366.7 245.9h0M406.5 267.8h0M218.5 181.5h0M329 228.7h0M122.5 139h0M194.8 154.7h0M131.2 128.1h0M127.6 105.6h0M145.2 235.4h0M166.6 155h0M182.8 151.3h0M330.2 264.8h0M231.8 161.6h0M412 267.2h0M275.8 271h0M312.7 290.6h0M152.3 277.5h0M204.6 149.1h0M122.5 186.8h0M125.6 115.4h0M245.8 178.2h0M133.3 193.1h0M437.9 267.9h0M343 273.2h0M235.8 213.8h0M382.9 235h0M135.3 178h0M262.1 251h0M357.5 239.9h0M238.3 223.9h0M216.7 139.2h0M373.9 261h0M274.3 213.1h0M120.2 151.5h0M134.4 137.9h0M256.5 223.3h0M151.8 182.8h0M178.5 146.9h0M134.1 186.1h0M233.7 225.9h0M132.4 179h0M133.7 147.1h0M236 146.7h0M352.9 240.7h0M146.4 260.8h0M214.6 117.2h0M175.3 169.6h0M134.3 207.1h0M267.3 259.6h0M152.8 130.4h0M358.9 268.4h0M370.5 261.1h0M131.4 127.4h0M391 263.6h0M133.3 134.4h0M195.9 281.8h0M152.4 131.9h0M144.4 234.9h0M151.7 106.2h0M436.3 268.1h0M121.2 169.6h0M259 235.6h0M149.8 120.1h0M255.6 222.7h0M159 285.4h0M241.3 156h0M154.9 111.2h0M165.8 154.8h0M424 273.4h0M126.4 123.8h0M253.2 170h0M204.8 222.9h0M411 241.7h0M204.8 255.4h0M437.5 263.6h0M156.5 291.8h0M120.9 144.3h0M181.4 142.7h0M207.9 195.4h0M302.6 294.7h0M170.7 261.5h0M208.2 185.9h0M127.3 107.3h0M347.5 274h0M141.6 163.4h0M205.6 146.7h0M124.7 124.8h0M125.8 104.9h0M212 159.7h0M132.1 190.5h0M207.9 211.3h0M176.4 134.8h0M212.9 109.5h0M208.1 174.1h0M132.3 208h0M208.2 197.9h0M167.7 255h0M330.1 264.2h0M248.2 160.1h0M257.1 222.2h0M149.6 123h0M212.1 124.4h0M178.5 255.7h0M239.1 244.9h0M131.8 112.4h0M163.9 130h0M164.8 138.3h0M225.8 118.5h0M240 209h0M230.8 162.2h0M207.6 214.9h0M161.7 267h0M177.9 157.4h0M152.8 111.5h0M230.8 160.1h0M125.7 102.7h0M241 203.9h0M143.1 200.2h0M153 158.5h0M151.5 111.9h0M250 181.2h0M335.4 227.5h0M205.6 186.9h0M229.4 155.6h0M244.5 129.8h0M216.7 100.3h0M147.4 237.9h0M433 250.3h0M220.2 178.2h0M256.5 234.3h0M131.2 106.9h0M292.1 289.1h0M153.3 178.4h0M193.4 275h0M143.2 172.3h0M172.2 180.1h0M148.3 249.9h0M307.1 289.2h0M137.2 175.3h0M216 143.6h0M191.9 153.6h0M383.8 264.8h0M209.1 191.9h0M225.8 121.4h0M239.8 223h0M186.5 259.5h0M176.8 172.6h0M440.8 259.1h0M177.7 143.6h0M177.7 173.3h0M242.6 160.9h0M436.4 265.5h0M241.5 150.2h0M206.7 200.6h0M133.7 116.7h0M338.3 227.6h0M312.3 290.5h0M242.7 132.4h0M240.8 235.3h0M251.1 185.2h0M176.5 137.8h0M205.4 147.5h0M126 192.4h0M259.6 241h0M375.6 261.3h0M142.8 148.9h0M258.4 239.2h0M431.5 277.5h0M218 198.1h0M219 209.1h0M215.7 212.3h0M224.7 211.2h0M213.2 216.1h0M220.3 209.8h0M219.6 213.2h0M227.9 199.7h0M214.7 245.5h0M213.5 207h0M212.1 249.7h0M216.4 238.9h0M217.4 199.7h0M224 183.8h0M214.4 211.6h0M308.2 219.6h0M328.4 213.4h0M306.3 210.3h0M304.9 216.5h0M304 216.6h0M339 220h0M343.5 208.3h0M288 203h0M312.7 203.9h0M343.7 210.5h0M410.3 224.4h0M396.8 222.2h0M397.1 211.9h0M395.4 217.5h0M402.6 220.1h0M415.7 239.7h0M411.5 230.6h0M412.1 229h0M399.9 219h0M403 226.5h0M467 251h0M470 254h0M473 257h0M476 260h0M479 263h0M482 266h0M470 250h0M473 253h0M476 256h0M479 259h0M482 262h0M484 266h0M468 255h0M472 260h0M476 264h0M125.4 68.5h0M128.5 83.4h0M127.5 90h0M134.9 235.2h0M125 213.4h0M153.3 92.4h0M163.3 121.2h0M175.3 79.8h0M176.5 89.3h0M178.2 97.6h0M177.7 113.7h0M177 106h0M209 142.5h0M196 145h0M243.7 116h0M158 301.3h0M151.7 316h0M164 279.3h0M172.3 273.4h0M190 279.3h0M198.3 287.6h0M207.3 278.8h0M200.7 307h0M240.9 248.5h0M236.1 254h0M235 261h0M238 268.7h0M242.8 275.8h0M279.4 172.5h0M372.2 166.1h0M380.2 193h0M395.7 206.5h0M392 217.3h0M376.9 225.4h0M315.8 201.9h0M324.3 208.1h0M334.3 208.1h0M336.5 214.3h0M299.7 219.5h0M313 219.5h0M343 219.5h0M466.4 241.7h0M448.1 283.4h0M477 278.5h0M480.2 278.5h0M340.2 281.7h0M318.9 292.3h0M297.6 306.5h0M385.2 272.2h0M427.8 284h0M262.2 263.9h0M271.6 268.7h0" stroke="#000" stroke-width="7.6" stroke-linecap="round" fill="none"/>
<rect x="77.00" y="16.00" width="471.40" height="322.00" fill="none" stroke="#000" stroke-width="1.4"/>
<path d="M77.00 338.00v-8M77.00 16.00v8M181.76 338.00v-8M181.76 16.00v8M286.51 338.00v-8M286.51 16.00v8M391.27 338.00v-8M391.27 16.00v8M496.02 338.00v-8M496.02 16.00v8M129.38 338.00v-4.5M129.38 16.00v4.5M234.13 338.00v-4.5M234.13 16.00v4.5M338.89 338.00v-4.5M338.89 16.00v4.5M443.64 338.00v-4.5M443.64 16.00v4.5M548.40 338.00v-4.5M548.40 16.00v4.5M77.00 338.00h8M548.40 338.00h-8M77.00 305.80h4.5M548.40 305.80h-4.5M77.00 273.60h8M548.40 273.60h-8M77.00 241.40h4.5M548.40 241.40h-4.5M77.00 209.20h8M548.40 209.20h-8M77.00 177.00h4.5M548.40 177.00h-4.5M77.00 144.80h8M548.40 144.80h-8M77.00 112.60h4.5M548.40 112.60h-4.5M77.00 80.40h8M548.40 80.40h-8M77.00 48.20h4.5M548.40 48.20h-4.5M77.00 16.00h8M548.40 16.00h-8" stroke="#000" stroke-width="1.3" fill="none"/>
<text x="77.00" y="367.00" font-size="27.3" text-anchor="middle">0</text>
<text x="181.76" y="367.00" font-size="27.3" text-anchor="middle">4</text>
<text x="286.51" y="367.00" font-size="27.3" text-anchor="middle">8</text>
<text x="391.27" y="367.00" font-size="27.3" text-anchor="middle">12</text>
<text x="496.02" y="367.00" font-size="27.3" text-anchor="middle">16</text>
<text x="69.50" y="347.35" font-size="27.3" text-anchor="end">0.4</text>
<text x="69.50" y="281.45" font-size="27.3" text-anchor="end">0.6</text>
<text x="69.50" y="217.05" font-size="27.3" text-anchor="end">0.8</text>
<text x="69.50" y="152.65" font-size="27.3" text-anchor="end">1.0</text>
<text x="69.50" y="88.25" font-size="27.3" text-anchor="end">1.2</text>
<text x="69.50" y="23.85" font-size="27.3" text-anchor="end">1.4</text>
<path d="M878 110.7v18.7m-3.5 0h7m0 -18.7h-7M1060.6 232.8v30.7m-3.5 0h7m0 -30.7h-7M937.1 216.4v31.1m-3.5 0h7m0 -31.1h-7M856.7 261v11.6m-3.5 0h7m0 -11.6h-7M789.2 170.9v15.9m-3.5 0h7m0 -15.9h-7M890.6 178v55.6m-3.5 0h7m0 -55.6h-7M783.1 181.3v15.1m-3.5 0h7m0 -15.1h-7M801.8 246.4v15.6m-3.5 0h7m0 -15.6h-7M1016.7 231.6v33.6m-3.5 0h7m0 -33.6h-7M804.7 258.9v49.5m-3.5 0h7m0 -49.5h-7M802 182.8v15.6m-3.5 0h7m0 -15.6h-7M867.7 212.7v24.2m-3.5 0h7m0 -24.2h-7M841 139.2v11.9m-3.5 0h7m0 -11.9h-7M802 147.2v19.5m-3.5 0h7m0 -19.5h-7M818.7 110.3v11.4m-3.5 0h7m0 -11.4h-7M909.5 157.7v38.8m-3.5 0h7m0 -38.8h-7M790 125.3v15.3m-3.5 0h7m0 -15.3h-7M967.2 203.6v56.2m-3.5 0h7m0 -56.2h-7M874.3 151.5v17m-3.5 0h7m0 -17h-7M824.7 126.7v60.6m-3.5 0h7m0 -60.6h-7M967.2 208.5v41m-3.5 0h7m0 -41h-7M811.1 250.9v20.7m-3.5 0h7m0 -20.7h-7M780.2 172.3v11.7m-3.5 0h7m0 -11.7h-7M909.2 177.7v25.7m-3.5 0h7m0 -25.7h-7M1081.3 253.4v24.3m-3.5 0h7m0 -24.3h-7M787.6 187.4v20.7m-3.5 0h7m0 -20.7h-7M851.3 263.5v27.6m-3.5 0h7m0 -27.6h-7M804 253.5v12.6m-3.5 0h7m0 -12.6h-7M790.3 152.9v23m-3.5 0h7m0 -23h-7M881 103.5v14.8m-3.5 0h7m0 -14.8h-7M846.7 139.6v20.3m-3.5 0h7m0 -20.3h-7M811 134.4v14.6m-3.5 0h7m0 -14.6h-7M810.3 151.1v10.5m-3.5 0h7m0 -10.5h-7M860.6 142.6v13.1m-3.5 0h7m0 -13.1h-7M926.6 252.3v44.3m-3.5 0h7m0 -44.3h-7M838.1 151.4v19.4m-3.5 0h7m0 -19.4h-7M876.7 174.6v12.8m-3.5 0h7m0 -12.8h-7M788.4 144.7v12.8m-3.5 0h7m0 -12.8h-7M942.7 220.5v20.6m-3.5 0h7m0 -20.6h-7M836.6 158.7v26.1m-3.5 0h7m0 -26.1h-7M788.3 107.6v16m-3.5 0h7m0 -16h-7M893.8 208.7v18.5m-3.5 0h7m0 -18.5h-7M856.3 248.8v13.7m-3.5 0h7m0 -13.7h-7M947.6 267.1v15.1m-3.5 0h7m0 -15.1h-7M940.3 212v38.8m-3.5 0h7m0 -38.8h-7M999.5 218.7v34.7m-3.5 0h7m0 -34.7h-7M806.6 274.9v17.7m-3.5 0h7m0 -17.7h-7M928.7 195v30.3m-3.5 0h7m0 -30.3h-7M897 152.3v47.5m-3.5 0h7m0 -47.5h-7M861.3 138.3v18.8m-3.5 0h7m0 -18.8h-7M907.5 171.2v18.5m-3.5 0h7m0 -18.5h-7M855 146v17.5m-3.5 0h7m0 -17.5h-7M848.6 149v15.6m-3.5 0h7m0 -15.6h-7M907.7 193.5v24.4m-3.5 0h7m0 -24.4h-7M1024 221.9v29.3m-3.5 0h7m0 -29.3h-7M782.9 189.2v37.1m-3.5 0h7m0 -37.1h-7M906.9 163.5v30.3m-3.5 0h7m0 -30.3h-7M823.9 251.9v10.7m-3.5 0h7m0 -10.7h-7M800.5 193.7v16.3m-3.5 0h7m0 -16.3h-7M855.8 138.2v20m-3.5 0h7m0 -20h-7M788.1 113.6v13.1m-3.5 0h7m0 -13.1h-7M1074.6 238.2v38.2m-3.5 0h7m0 -38.2h-7M894.8 182.5v35.1m-3.5 0h7m0 -35.1h-7M942.2 262.7v42.2m-3.5 0h7m0 -42.2h-7M1070.6 227v49.7m-3.5 0h7m0 -49.7h-7M940.1 222v24.2m-3.5 0h7m0 -24.2h-7M837.8 250.5v14.4m-3.5 0h7m0 -14.4h-7M1018.2 258.7v19.2m-3.5 0h7m0 -19.2h-7M860 244.2v29.4m-3.5 0h7m0 -29.4h-7M1033.5 213.3v40.6m-3.5 0h7m0 -40.6h-7M823.4 160.7v20m-3.5 0h7m0 -20h-7M839.2 148.1v10.3m-3.5 0h7m0 -10.3h-7M998.1 222.6v13.2m-3.5 0h7m0 -13.2h-7M893 189.5v38m-3.5 0h7m0 -38h-7M782.5 140v19.9m-3.5 0h7m0 -19.9h-7M865.7 153.8v30.7m-3.5 0h7m0 -30.7h-7M1073.9 262.2v26.5m-3.5 0h7m0 -26.5h-7M1017.9 225.9v36.5m-3.5 0h7m0 -36.5h-7M851.2 269.5v16.3m-3.5 0h7m0 -16.3h-7M1015.8 259.2v18.1m-3.5 0h7m0 -18.1h-7M782.9 144.5v19.4m-3.5 0h7m0 -19.4h-7M936.6 283v24.3m-3.5 0h7m0 -24.3h-7M998.9 201v29.7m-3.5 0h7m0 -29.7h-7M810.8 259.5v29.7m-3.5 0h7m0 -29.7h-7M907.4 169.4v20.2m-3.5 0h7m0 -20.2h-7M887.3 187.2v11.5m-3.5 0h7m0 -11.5h-7M842.2 123.7v40.8m-3.5 0h7m0 -40.8h-7M931.4 202.5v29.6m-3.5 0h7m0 -29.6h-7M933.5 283.5v33.4m-3.5 0h7m0 -33.4h-7M815.9 99.1v15.3m-3.5 0h7m0 -15.3h-7M889.9 98.8v10.7m-3.5 0h7m0 -10.7h-7M783.8 180.1v10.9m-3.5 0h7m0 -10.9h-7M1069.5 267.4v21.4m-3.5 0h7m0 -21.4h-7M786.2 121.9v14.1m-3.5 0h7m0 -14.1h-7M941.3 274.4v24.7m-3.5 0h7m0 -24.7h-7M958 216.8v30.3m-3.5 0h7m0 -30.3h-7M1024.1 220.1v39.6m-3.5 0h7m0 -39.6h-7M782.2 177.4v41.6m-3.5 0h7m0 -41.6h-7M877.9 181.3v14.8m-3.5 0h7m0 -14.8h-7M1068.7 249v58.7m-3.5 0h7m0 -58.7h-7M782.3 115.3v49.5m-3.5 0h7m0 -49.5h-7M879.3 96.9v16.1m-3.5 0h7m0 -16.1h-7M852.7 269.8v20.1m-3.5 0h7m0 -20.1h-7M785.5 179.2v63.9m-3.5 0h7m0 -63.9h-7M827.1 231.8v52.7m-3.5 0h7m0 -52.7h-7M799.1 165.3v12.4m-3.5 0h7m0 -12.4h-7M888.7 91.4v25.6m-3.5 0h7m0 -25.6h-7M781.8 144.9v24.7m-3.5 0h7m0 -24.7h-7M932.7 262.8v31.4m-3.5 0h7m0 -31.4h-7M1019.6 222.1v60.8m-3.5 0h7m0 -60.8h-7M916 179.5v26.6m-3.5 0h7m0 -26.6h-7M901.4 121.4v28.3m-3.5 0h7m0 -28.3h-7M974.9 224.2v17.5m-3.5 0h7m0 -17.5h-7M805 271.1v14.1m-3.5 0h7m0 -14.1h-7M881 92.4v29.9m-3.5 0h7m0 -29.9h-7M840.4 160.6v15.6m-3.5 0h7m0 -15.6h-7M879.2 88.4v19.3m-3.5 0h7m0 -19.3h-7M814.1 132.7v11.4m-3.5 0h7m0 -11.4h-7M857.6 240.8v15.2m-3.5 0h7m0 -15.2h-7M821.4 112.1v12.6m-3.5 0h7m0 -12.6h-7M967.2 220.7v20.7m-3.5 0h7m0 -20.7h-7M857.9 137.8v15.2m-3.5 0h7m0 -15.2h-7M848.5 147.5v21.7m-3.5 0h7m0 -21.7h-7M867.1 170.4v16.4m-3.5 0h7m0 -16.4h-7M801.6 134.6v23.6m-3.5 0h7m0 -23.6h-7M1039.1 219.6v19.3m-3.5 0h7m0 -19.3h-7M912.3 153.3v29.6m-3.5 0h7m0 -29.6h-7M799.1 211.9v18m-3.5 0h7m0 -18h-7M841.7 276.6v20.5m-3.5 0h7m0 -20.5h-7M823.1 252.2v13.9m-3.5 0h7m0 -13.9h-7M878.8 117.4v20.5m-3.5 0h7m0 -20.5h-7M809.8 260.3v30.7m-3.5 0h7m0 -30.7h-7M922.4 197.1v12.6m-3.5 0h7m0 -12.6h-7M890.3 216.2v10m-3.5 0h7m0 -10h-7M1024.8 269.8v14.9m-3.5 0h7m0 -14.9h-7M811.3 121.7v28.7m-3.5 0h7m0 -28.7h-7M787.5 149.4v11m-3.5 0h7m0 -11h-7M840 115.6v55.1m-3.5 0h7m0 -55.1h-7M859.5 239.4v9.6m-3.5 0h7m0 -9.6h-7M877.5 144.2v13.1m-3.5 0h7m0 -13.1h-7M999.5 216.4v65.9m-3.5 0h7m0 -65.9h-7M999.3 223.7v24.2m-3.5 0h7m0 -24.2h-7M1082.8 250.4v22.4m-3.5 0h7m0 -22.4h-7M890.4 199.4v39.3m-3.5 0h7m0 -39.3h-7M865.2 208.5v30.3m-3.5 0h7m0 -30.3h-7M801.1 144.1v30.9m-3.5 0h7m0 -30.9h-7M840.5 142v12.8m-3.5 0h7m0 -12.8h-7M782 128.4v19.1m-3.5 0h7m0 -19.1h-7M802.8 155v14.5m-3.5 0h7m0 -14.5h-7M978.9 220.9v23.6m-3.5 0h7m0 -23.6h-7M987.5 206.1v27.7m-3.5 0h7m0 -27.7h-7M841.8 274.7v18.3m-3.5 0h7m0 -18.3h-7M865.5 184.4v14.7m-3.5 0h7m0 -14.7h-7M788.2 108v16.6m-3.5 0h7m0 -16.6h-7M919.9 173.2v39.5m-3.5 0h7m0 -39.5h-7M1078.9 250.7v24.3m-3.5 0h7m0 -24.3h-7M900.8 126.5v14.5m-3.5 0h7m0 -14.5h-7M996.2 268.6v16.9m-3.5 0h7m0 -16.9h-7M879.8 82.8v25.5m-3.5 0h7m0 -25.5h-7M1016.9 231.9v21.8m-3.5 0h7m0 -21.8h-7M817.2 91.2v36.9m-3.5 0h7m0 -36.9h-7M916.7 185.8v15.3m-3.5 0h7m0 -15.3h-7M802.6 226.6v56.1m-3.5 0h7m0 -56.1h-7M840.6 129.3v12.9m-3.5 0h7m0 -12.9h-7M898.8 133.6v42.4m-3.5 0h7m0 -42.4h-7M922.5 187.2v25.2m-3.5 0h7m0 -25.2h-7M894.5 216.6v31.4m-3.5 0h7m0 -31.4h-7M929.3 197.2v32.4m-3.5 0h7m0 -32.4h-7M908 231.8v20.8m-3.5 0h7m0 -20.8h-7M895.5 220.8v10.5m-3.5 0h7m0 -10.5h-7M879.7 84.6v50.3m-3.5 0h7m0 -50.3h-7M786.1 164v30.7m-3.5 0h7m0 -30.7h-7M894.5 166.6v14.1m-3.5 0h7m0 -14.1h-7M896.6 121v16m-3.5 0h7m0 -16h-7M881.5 88.5v9.2m-3.5 0h7m0 -9.2h-7M877.7 95.7v56.6m-3.5 0h7m0 -56.6h-7M838.6 153.3v16.4m-3.5 0h7m0 -16.4h-7M876 181.2v17.7m-3.5 0h7m0 -17.7h-7M1019.6 228.3v29.3m-3.5 0h7m0 -29.3h-7M948.6 272v13.9m-3.5 0h7m0 -13.9h-7M1019.9 224.8v40.3m-3.5 0h7m0 -40.3h-7M841.1 129v26.6m-3.5 0h7m0 -26.6h-7M997.8 198.4v54.5m-3.5 0h7m0 -54.5h-7M910.7 164.7v14m-3.5 0h7m0 -14h-7M892.3 230.5v33.1m-3.5 0h7m0 -33.1h-7M811 250.3v30.8m-3.5 0h7m0 -30.8h-7M909.7 224.8v13.9m-3.5 0h7m0 -13.9h-7M906.5 171.6v13.1m-3.5 0h7m0 -13.1h-7M935.8 217.8v14.1m-3.5 0h7m0 -14.1h-7M812.1 263.4v32.8m-3.5 0h7m0 -32.8h-7M876.5 167.7v10.4m-3.5 0h7m0 -10.4h-7M846.4 144.5v12.2m-3.5 0h7m0 -12.2h-7M906.4 229v21.2m-3.5 0h7m0 -21.2h-7M1019.8 257.6v23.8m-3.5 0h7m0 -23.8h-7M781.6 145.6v22.7m-3.5 0h7m0 -22.7h-7M781 159.1v10.4m-3.5 0h7m0 -10.4h-7M1083.9 257.9v14.2m-3.5 0h7m0 -14.2h-7M923 259.7v16.2m-3.5 0h7m0 -16.2h-7M1081 263.3v17.7m-3.5 0h7m0 -17.7h-7M1078.7 260.9v15.9m-3.5 0h7m0 -15.9h-7M937.2 289.6v12m-3.5 0h7m0 -12h-7M789.1 135.6v17.5m-3.5 0h7m0 -17.5h-7M891.2 195.9v24.3m-3.5 0h7m0 -24.3h-7M936.5 290.5v19.2m-3.5 0h7m0 -19.2h-7M865.4 172.8v11.7m-3.5 0h7m0 -11.7h-7M945.9 212.9v39.1m-3.5 0h7m0 -39.1h-7M881.8 96.6v14.8m-3.5 0h7m0 -14.8h-7M1029.3 227.8v13.7m-3.5 0h7m0 -13.7h-7M878.1 130.9v39.4m-3.5 0h7m0 -39.4h-7M936.7 211.2v43.3m-3.5 0h7m0 -43.3h-7M945.2 272.9v15.6m-3.5 0h7m0 -15.6h-7M840.3 149.8v25.8m-3.5 0h7m0 -25.8h-7M877.3 176.3v32.4m-3.5 0h7m0 -32.4h-7M866.9 136.7v51.6m-3.5 0h7m0 -51.6h-7M879.2 119.3v31.1m-3.5 0h7m0 -31.1h-7M934.2 264.8v60.5m-3.5 0h7m0 -60.5h-7M868.1 207.5v18.5m-3.5 0h7m0 -18.5h-7M801 149.3v39.9m-3.5 0h7m0 -39.9h-7M911.1 145.6v41.1m-3.5 0h7m0 -41.1h-7M800 179.8v20.4m-3.5 0h7m0 -20.4h-7M933.4 245.2v61.2m-3.5 0h7m0 -61.2h-7M997.3 250.1v47.8m-3.5 0h7m0 -47.8h-7M782.2 155.6v21.6m-3.5 0h7m0 -21.6h-7M781.2 162.6v18.3m-3.5 0h7m0 -18.3h-7M788.2 145.6v11.7m-3.5 0h7m0 -11.7h-7M899.6 137.7v28.5m-3.5 0h7m0 -28.5h-7M799.3 234.7v21.3m-3.5 0h7m0 -21.3h-7M802.2 228.4v20.2m-3.5 0h7m0 -20.2h-7M881.4 93v16.4m-3.5 0h7m0 -16.4h-7M800.4 150.1v14.4m-3.5 0h7m0 -14.4h-7M867.8 183.3v24.5m-3.5 0h7m0 -24.5h-7M802.1 134.7v35.3m-3.5 0h7m0 -35.3h-7M890.6 93.5v17m-3.5 0h7m0 -17h-7M925.9 252.7v38.4m-3.5 0h7m0 -38.4h-7M804.5 157.1v14.7m-3.5 0h7m0 -14.7h-7M845.8 268.1v31.1m-3.5 0h7m0 -31.1h-7M822.5 92.7v48.7m-3.5 0h7m0 -48.7h-7M784.8 199.7v10.6m-3.5 0h7m0 -10.6h-7M788.8 108.7v34.8m-3.5 0h7m0 -34.8h-7M891.6 212.1v28.1m-3.5 0h7m0 -28.1h-7M824.1 125.1v23.5m-3.5 0h7m0 -23.5h-7M798.1 140v23m-3.5 0h7m0 -23h-7M910.3 190v25.3m-3.5 0h7m0 -25.3h-7M907.7 125.6v55.7m-3.5 0h7m0 -55.7h-7M866.8 181.9v16.3m-3.5 0h7m0 -16.3h-7M877.8 128.5v12.4m-3.5 0h7m0 -12.4h-7M1017.2 257.8v12.2m-3.5 0h7m0 -12.2h-7M865.5 180v33.2m-3.5 0h7m0 -33.2h-7M896.2 213.1v33.7m-3.5 0h7m0 -33.7h-7M924.5 257.1v20.7m-3.5 0h7m0 -20.7h-7M790.2 143.9v29.5m-3.5 0h7m0 -29.5h-7M790.2 167.3v14.5m-3.5 0h7m0 -14.5h-7M998.7 256.8v21.4m-3.5 0h7m0 -21.4h-7M788 189.4v13.4m-3.5 0h7m0 -13.4h-7M908.7 208.6v20m-3.5 0h7m0 -20h-7M858.5 232.8v42.2m-3.5 0h7m0 -42.2h-7M878.9 174.7v17.3m-3.5 0h7m0 -17.3h-7M937.8 288.2v16.7m-3.5 0h7m0 -16.7h-7M996.8 219.3v51.3m-3.5 0h7m0 -51.3h-7M853.7 149.8v20.5m-3.5 0h7m0 -20.5h-7M962.9 263.9v23.5m-3.5 0h7m0 -23.5h-7M821.8 139.8v18.7m-3.5 0h7m0 -18.7h-7M1022.6 256.1v30.2m-3.5 0h7m0 -30.2h-7M1069 226v49.3m-3.5 0h7m0 -49.3h-7M787.5 198.4v10.2m-3.5 0h7m0 -10.2h-7M955.1 261.4v29.8m-3.5 0h7m0 -29.8h-7M865.9 184.6v9.5m-3.5 0h7m0 -9.5h-7M866.2 195.4v14m-3.5 0h7m0 -14h-7M914.9 165.3v32.1m-3.5 0h7m0 -32.1h-7M997.7 241.2v41.4m-3.5 0h7m0 -41.4h-7M786.6 145.7v11.2m-3.5 0h7m0 -11.2h-7M1050.9 220.7v31.1m-3.5 0h7m0 -31.1h-7M865.5 192.2v19.3m-3.5 0h7m0 -19.3h-7M908.5 183v18.7m-3.5 0h7m0 -18.7h-7M810.2 139.2v19.9m-3.5 0h7m0 -19.9h-7M787.1 112.4v33.2m-3.5 0h7m0 -33.2h-7M1049.1 224.2v15.3m-3.5 0h7m0 -15.3h-7M908.4 195.8v29.6m-3.5 0h7m0 -29.6h-7M861 138.2v17.9m-3.5 0h7m0 -17.9h-7M859.7 245.1v11.6m-3.5 0h7m0 -11.6h-7M996.9 220.8v16.1m-3.5 0h7m0 -16.1h-7M813.9 122v17.1m-3.5 0h7m0 -17.1h-7M868.4 198.7v12.6m-3.5 0h7m0 -12.6h-7M865.1 151.5v16.8m-3.5 0h7m0 -16.8h-7M894.3 99.7v17.5m-3.5 0h7m0 -17.5h-7M839.9 136.3v11.4m-3.5 0h7m0 -11.4h-7M927.4 198.5v17.9m-3.5 0h7m0 -17.9h-7M1077.6 248.1v21.2m-3.5 0h7m0 -21.2h-7M878 108.4v21.5m-3.5 0h7m0 -21.5h-7M811.1 251.9v13.7m-3.5 0h7m0 -13.7h-7M1033.6 216v27.3m-3.5 0h7m0 -27.3h-7M878.6 95.1v26.4m-3.5 0h7m0 -26.4h-7M936.7 290.9v16.8m-3.5 0h7m0 -16.8h-7M857.5 138.2v33.4m-3.5 0h7m0 -33.4h-7M788.2 199.6v10.3m-3.5 0h7m0 -10.3h-7M915.4 181.9v13.7m-3.5 0h7m0 -13.7h-7M798.6 146.3v26.4m-3.5 0h7m0 -26.4h-7M997.9 245.7v37.8m-3.5 0h7m0 -37.8h-7M999.4 234.6v20m-3.5 0h7m0 -20h-7M790.3 121.2v15.1m-3.5 0h7m0 -15.1h-7M909.5 218.7v16.5m-3.5 0h7m0 -16.5h-7M786.4 149.1v22m-3.5 0h7m0 -22h-7M887.2 180.9v28.7m-3.5 0h7m0 -28.7h-7M848.3 144.8v9.5m-3.5 0h7m0 -9.5h-7M884 87.7v18.9m-3.5 0h7m0 -18.9h-7M894.4 202.6v21.1m-3.5 0h7m0 -21.1h-7M871 155.2v24.2m-3.5 0h7m0 -24.2h-7M800 163v33.1m-3.5 0h7m0 -33.1h-7M997.1 260.8v27.2m-3.5 0h7m0 -27.2h-7M837.4 159.4v19.1m-3.5 0h7m0 -19.1h-7M847.8 122.5v18.4m-3.5 0h7m0 -18.4h-7M1000.4 233.6v16.8m-3.5 0h7m0 -16.8h-7M780.5 152.2v11.9m-3.5 0h7m0 -11.9h-7M865.3 204.4v15.2m-3.5 0h7m0 -15.2h-7M801.9 182.1v11.2m-3.5 0h7m0 -11.2h-7M788.3 150.7v19.2m-3.5 0h7m0 -19.2h-7M936.2 215.3v17.6m-3.5 0h7m0 -17.6h-7M840.5 136.6v30.6m-3.5 0h7m0 -30.6h-7M895.3 188.9v20.2m-3.5 0h7m0 -20.2h-7M860.9 139.5v18.9m-3.5 0h7m0 -18.9h-7M802.8 199.8v12.9m-3.5 0h7m0 -12.9h-7M788.5 173.9v26.4m-3.5 0h7m0 -26.4h-7M813.2 152.9v12.7m-3.5 0h7m0 -12.7h-7M1000.3 206v56.6m-3.5 0h7m0 -56.6h-7M1071.2 234.6v34.7m-3.5 0h7m0 -34.7h-7M781.2 170.6v13.9m-3.5 0h7m0 -13.9h-7M883.3 79.4v36.1m-3.5 0h7m0 -36.1h-7M934.9 292.2v16.9m-3.5 0h7m0 -16.9h-7M892.2 176v18.3m-3.5 0h7m0 -18.3h-7M875.4 142.9v15.7m-3.5 0h7m0 -15.7h-7M838.7 233.6v59.2m-3.5 0h7m0 -59.2h-7M878.1 113.3v12.4m-3.5 0h7m0 -12.4h-7M802.6 210.3v25.1m-3.5 0h7m0 -25.1h-7M968 210.7v38.2m-3.5 0h7m0 -38.2h-7M802.4 208.4v15.1m-3.5 0h7m0 -15.1h-7M883.2 90.1v25m-3.5 0h7m0 -25h-7M927.5 189.6v38.2m-3.5 0h7m0 -38.2h-7M813.6 112.4v23.1m-3.5 0h7m0 -23.1h-7M929 200.9v16m-3.5 0h7m0 -16h-7M801.1 260v13.6m-3.5 0h7m0 -13.6h-7M820.9 114.1v52.4m-3.5 0h7m0 -52.4h-7M984.6 198v54.5m-3.5 0h7m0 -54.5h-7M824.9 122.4v30m-3.5 0h7m0 -30h-7M933.3 283.1v30.1m-3.5 0h7m0 -30.1h-7M781.6 165.7v62.3m-3.5 0h7m0 -62.3h-7M1034.4 209.4v37.1m-3.5 0h7m0 -37.1h-7M797.9 154.3v16.7m-3.5 0h7m0 -16.7h-7M786.9 143v17.8m-3.5 0h7m0 -17.8h-7M877.1 113v14.6m-3.5 0h7m0 -14.6h-7M868 183.6v37m-3.5 0h7m0 -37h-7M810.6 258.9v38.9m-3.5 0h7m0 -38.9h-7M799 131.1v22m-3.5 0h7m0 -22h-7M780.8 146.6v13.6m-3.5 0h7m0 -13.6h-7M930.7 202.4v12.7m-3.5 0h7m0 -12.7h-7M907.1 165.6v18.3m-3.5 0h7m0 -18.3h-7M824.7 244.1v29.1m-3.5 0h7m0 -29.1h-7M894.9 196v9.8m-3.5 0h7m0 -9.8h-7M858.2 130v45.7m-3.5 0h7m0 -45.7h-7M1017.9 258.2v19.1m-3.5 0h7m0 -19.1h-7M822.6 124.9v13.1m-3.5 0h7m0 -13.1h-7M997.5 244.3v14.6m-3.5 0h7m0 -14.6h-7M907.1 226.4v27.8m-3.5 0h7m0 -27.8h-7M786.5 172.5v33m-3.5 0h7m0 -33h-7M907.7 168.1v23.2m-3.5 0h7m0 -23.2h-7M932.5 266.3v30.8m-3.5 0h7m0 -30.8h-7M861.1 239.6v12m-3.5 0h7m0 -12h-7M787 183.6v16.1m-3.5 0h7m0 -16.1h-7M800.8 166.8v21.7m-3.5 0h7m0 -21.7h-7M877 166.9v19.3m-3.5 0h7m0 -19.3h-7M892.4 171.9v31.1m-3.5 0h7m0 -31.1h-7M844.2 271.8v26.1m-3.5 0h7m0 -26.1h-7M788.9 89.3v59.2m-3.5 0h7m0 -59.2h-7M878.6 96.6v14.1m-3.5 0h7m0 -14.1h-7M788.6 74.6v52m-3.5 0h7m0 -52h-7M1037.5 256.3v38.8m-3.5 0h7m0 -38.8h-7M999.5 250.8v16.8m-3.5 0h7m0 -16.8h-7M798.5 212v16.3m-3.5 0h7m0 -16.3h-7M882.2 176.9v38.1m-3.5 0h7m0 -38.1h-7M938.4 284.6v21.5m-3.5 0h7m0 -21.5h-7M822.4 119.3v12.4m-3.5 0h7m0 -12.4h-7M888.5 188.8v11.9m-3.5 0h7m0 -11.9h-7M1083 253v23.4m-3.5 0h7m0 -23.4h-7M1067.2 270.9v13m-3.5 0h7m0 -13h-7M1071.1 257.2v41.4m-3.5 0h7m0 -41.4h-7M799.2 155.6v43.9m-3.5 0h7m0 -43.9h-7M847.1 127.9v37.7m-3.5 0h7m0 -37.7h-7M789.7 139.9v52.3m-3.5 0h7m0 -52.3h-7M1019.5 247.2v45.3m-3.5 0h7m0 -45.3h-7M1083.5 261.1v12.5m-3.5 0h7m0 -12.5h-7M864.4 151v13.4m-3.5 0h7m0 -13.4h-7M927.8 181.4v61.1m-3.5 0h7m0 -61.1h-7M997.8 196.6v40.4m-3.5 0h7m0 -40.4h-7M906.3 239v15.6m-3.5 0h7m0 -15.6h-7M882.6 90.8v19.8m-3.5 0h7m0 -19.8h-7M864.9 197.9v9.3m-3.5 0h7m0 -9.3h-7M822.9 109.1v31m-3.5 0h7m0 -31h-7M798.6 223.7v16.5m-3.5 0h7m0 -16.5h-7M799.7 172.2v16m-3.5 0h7m0 -16h-7M1033.8 198.2v63.2m-3.5 0h7m0 -63.2h-7M998.9 237.6v41.1m-3.5 0h7m0 -41.1h-7M802.1 187.4v20.7m-3.5 0h7m0 -20.7h-7M909.6 180.5v19m-3.5 0h7m0 -19h-7M800.4 224.1v14.5m-3.5 0h7m0 -14.5h-7M780.7 172.2v20.6m-3.5 0h7m0 -20.6h-7M803 132.8v58.3m-3.5 0h7m0 -58.3h-7M922.9 184.3v24m-3.5 0h7m0 -24h-7M813 129.1v19.6m-3.5 0h7m0 -19.6h-7M866.4 188.1v15.8m-3.5 0h7m0 -15.8h-7M997.7 248.7v23.3m-3.5 0h7m0 -23.3h-7M1078.5 252.8v19.4m-3.5 0h7m0 -19.4h-7M802.3 196.9v11.9m-3.5 0h7m0 -11.9h-7M908 181.7v58.3m-3.5 0h7m0 -58.3h-7M783.5 113.8v32.1m-3.5 0h7m0 -32.1h-7M930 267.1v20m-3.5 0h7m0 -20h-7M780.9 161.6v10m-3.5 0h7m0 -10h-7M919.7 174.9v37.1m-3.5 0h7m0 -37.1h-7M1042.6 216.7v24.7m-3.5 0h7m0 -24.7h-7M813.8 259.8v15.5m-3.5 0h7m0 -15.5h-7M907.5 220v27m-3.5 0h7m0 -27h-7M823.3 255.7v11.1m-3.5 0h7m0 -11.1h-7M822.5 241.8v31.6m-3.5 0h7m0 -31.6h-7M911 149v52.3m-3.5 0h7m0 -52.3h-7M781.9 161.1v12.5m-3.5 0h7m0 -12.5h-7M854.1 141.7v31.4m-3.5 0h7m0 -31.4h-7M809.4 146.3v31.9m-3.5 0h7m0 -31.9h-7M847.2 121.1v30.6m-3.5 0h7m0 -30.6h-7M907.8 124.1v36.9m-3.5 0h7m0 -36.9h-7M790.4 152.2v24.7m-3.5 0h7m0 -24.7h-7M878.6 109v13.6m-3.5 0h7m0 -13.6h-7M781.9 139.8v31.4m-3.5 0h7m0 -31.4h-7M911.5 240.9v40.5m-3.5 0h7m0 -40.5h-7M891.9 101.2v13.3m-3.5 0h7m0 -13.3h-7M894.6 196.9v26.5m-3.5 0h7m0 -26.5h-7M907.7 168v62.8m-3.5 0h7m0 -62.8h-7M821.3 140.5v18.1m-3.5 0h7m0 -18.1h-7M969.5 257.1v33.2m-3.5 0h7m0 -33.2h-7M824.4 123.6v12m-3.5 0h7m0 -12h-7M801.1 192.8v40.1m-3.5 0h7m0 -40.1h-7M802.6 236.5v20.8m-3.5 0h7m0 -20.8h-7M866.7 188v18.1m-3.5 0h7m0 -18.1h-7M844.8 133.2v17.2m-3.5 0h7m0 -17.2h-7M786.8 129.5v19.8m-3.5 0h7m0 -19.8h-7M855.2 269.2v19.1m-3.5 0h7m0 -19.1h-7M864.9 135.8v39.7m-3.5 0h7m0 -39.7h-7M865.6 233.7v10.5m-3.5 0h7m0 -10.5h-7M997.4 228.6v26.6m-3.5 0h7m0 -26.6h-7M887.1 186.6v11m-3.5 0h7m0 -11h-7M1017.7 255v19m-3.5 0h7m0 -19h-7M840.2 115.5v35m-3.5 0h7m0 -35h-7M896.4 158.5v16.3m-3.5 0h7m0 -16.3h-7M864.4 222.6v25.4m-3.5 0h7m0 -25.4h-7M873.1 133.1v61.2m-3.5 0h7m0 -61.2h-7M841.1 261.5v34.6m-3.5 0h7m0 -34.6h-7M799.4 128.7v17.9m-3.5 0h7m0 -17.9h-7M1084.4 253.6v24.2m-3.5 0h7m0 -24.2h-7M893.7 228.2v16m-3.5 0h7m0 -16h-7M878.9 79.8v47.2m-3.5 0h7m0 -47.2h-7M907.2 236.6v26.8m-3.5 0h7m0 -26.8h-7M1016.5 241.6v29m-3.5 0h7m0 -29h-7M857.8 238.5v16.3m-3.5 0h7m0 -16.3h-7M996.6 230.6v20.1m-3.5 0h7m0 -20.1h-7M825.1 136.8v45.7m-3.5 0h7m0 -45.7h-7M790 145.8v13.7m-3.5 0h7m0 -13.7h-7M838.8 134.7v12.6m-3.5 0h7m0 -12.6h-7M1017.4 256v13.4m-3.5 0h7m0 -13.4h-7M866.4 196.7v13.1m-3.5 0h7m0 -13.1h-7M838.4 250.5v15.2m-3.5 0h7m0 -15.2h-7M1072.2 241.3v21.3m-3.5 0h7m0 -21.3h-7M802.4 231.1v36.3m-3.5 0h7m0 -36.3h-7M857.1 149.6v18.5m-3.5 0h7m0 -18.5h-7M1057.6 224.8v37.6m-3.5 0h7m0 -37.6h-7M1015.9 252.1v19.7m-3.5 0h7m0 -19.7h-7M987.1 213.6v11.6m-3.5 0h7m0 -11.6h-7M1073.5 244.6v55.2m-3.5 0h7m0 -55.2h-7M788.5 138.4v33.5m-3.5 0h7m0 -33.5h-7M787.4 162.5v25.2m-3.5 0h7m0 -25.2h-7M790.6 112.1v18.8m-3.5 0h7m0 -18.8h-7M865.7 217.8v20m-3.5 0h7m0 -20h-7M1041.6 216.7v30.3m-3.5 0h7m0 -30.3h-7M1056 262.3v31.4m-3.5 0h7m0 -31.4h-7M859.9 146.7v12.1m-3.5 0h7m0 -12.1h-7M781.6 187.6v16m-3.5 0h7m0 -16h-7M893.2 171.8v51.7m-3.5 0h7m0 -51.7h-7M812.1 117.9v31m-3.5 0h7m0 -31h-7M936.1 202.6v33.5m-3.5 0h7m0 -33.5h-7M822.1 112v20.1m-3.5 0h7m0 -20.1h-7M868.1 173.7v35.9m-3.5 0h7m0 -35.9h-7M1025.6 224.7v23.1m-3.5 0h7m0 -23.1h-7M965.1 219.2v20.8m-3.5 0h7m0 -20.8h-7M781 153.1v33.7m-3.5 0h7m0 -33.7h-7M918.4 183.4v16.4m-3.5 0h7m0 -16.4h-7M814.4 151.3v19.2m-3.5 0h7m0 -19.2h-7M934.2 202.2v29.2m-3.5 0h7m0 -29.2h-7M780.2 169.9v13.4m-3.5 0h7m0 -13.4h-7M802.7 199.6v60.8m-3.5 0h7m0 -60.8h-7M787.8 91.1v27.7m-3.5 0h7m0 -27.7h-7M904.4 114v73.8m-3.5 0h7m0 -73.8h-7M861.7 237.1v12m-3.5 0h7m0 -12h-7M878.1 173.7v10m-3.5 0h7m0 -10h-7M1068.3 243.9v21.3m-3.5 0h7m0 -21.3h-7M890.8 186.7v27.5m-3.5 0h7m0 -27.5h-7M920.9 177.6v39.2m-3.5 0h7m0 -39.2h-7M789 88.3v20.9m-3.5 0h7m0 -20.9h-7M848.7 144v12.6m-3.5 0h7m0 -12.6h-7M893.6 217.8v19.9m-3.5 0h7m0 -19.9h-7M784.4 104v37.1m-3.5 0h7m0 -37.1h-7M918.1 247.5v35.2m-3.5 0h7m0 -35.2h-7M907.6 201.4v39m-3.5 0h7m0 -39h-7M800.8 215.4v30.3m-3.5 0h7m0 -30.3h-7M914.8 167.3v40.7m-3.5 0h7m0 -40.7h-7M876.9 155.9v13.2m-3.5 0h7m0 -13.2h-7M893.1 95.8v28.3m-3.5 0h7m0 -28.3h-7M902.3 125.3v15.2m-3.5 0h7m0 -15.2h-7M880.4 110.3v12.6m-3.5 0h7m0 -12.6h-7M1020.9 265.9v15.6m-3.5 0h7m0 -15.6h-7M894.9 105.3v17.5m-3.5 0h7m0 -17.5h-7M935.5 221.2v12.6m-3.5 0h7m0 -12.6h-7M811.6 132.7v52.9m-3.5 0h7m0 -52.9h-7M890.8 226.9v21.8m-3.5 0h7m0 -21.8h-7M844.8 251.3v52.3m-3.5 0h7m0 -52.3h-7M846.6 131.8v15.3m-3.5 0h7m0 -15.3h-7M907.7 213v21m-3.5 0h7m0 -21h-7M866.1 145.2v44.7m-3.5 0h7m0 -44.7h-7M866 184.3v15.8m-3.5 0h7m0 -15.8h-7M800 246.6v19.1m-3.5 0h7m0 -19.1h-7M846.2 123.1v13.5m-3.5 0h7m0 -13.5h-7M809.5 149v31.7m-3.5 0h7m0 -31.7h-7M977.1 209.8v40.8m-3.5 0h7m0 -40.8h-7M908.8 152.8v34.3m-3.5 0h7m0 -34.3h-7M877 116.2v15.3m-3.5 0h7m0 -15.3h-7M1048.9 208.1v44.9m-3.5 0h7m0 -44.9h-7M847 131.9v12.3m-3.5 0h7m0 -12.3h-7M823.8 254v20.1m-3.5 0h7m0 -20.1h-7M909.9 149.7v39.9m-3.5 0h7m0 -39.9h-7M790 131.1v30.7m-3.5 0h7m0 -30.7h-7M862 149.5v17.4m-3.5 0h7m0 -17.4h-7M799.7 143.4v31.7m-3.5 0h7m0 -31.7h-7M931.3 282.8v20.9m-3.5 0h7m0 -20.9h-7M997.9 208.2v14.9m-3.5 0h7m0 -14.9h-7M800 181v17.8m-3.5 0h7m0 -17.8h-7M816.2 87.8v36.3m-3.5 0h7m0 -36.3h-7M782.3 141v21.7m-3.5 0h7m0 -21.7h-7M788 178.2v31.3m-3.5 0h7m0 -31.3h-7M909.9 190v33.2m-3.5 0h7m0 -33.2h-7M917.8 162.8v60.3m-3.5 0h7m0 -60.3h-7M821.4 118v26.2m-3.5 0h7m0 -26.2h-7M893 200.6v16.7m-3.5 0h7m0 -16.7h-7M977.7 199.1v56.9m-3.5 0h7m0 -56.9h-7M1064 247v73.1m-3.5 0h7m0 -73.1h-7M924.5 252.4v33.1m-3.5 0h7m0 -33.1h-7M1048.6 271.4v15m-3.5 0h7m0 -15h-7M787 96.5v38m-3.5 0h7m0 -38h-7M801.2 144.4v30.8m-3.5 0h7m0 -30.8h-7M909.9 209.4v43.6m-3.5 0h7m0 -43.6h-7M800.3 128.7v16.9m-3.5 0h7m0 -16.9h-7M907.3 136.3v19.9m-3.5 0h7m0 -19.9h-7M878 182.9v19.4m-3.5 0h7m0 -19.4h-7M842.4 133.1v14.2m-3.5 0h7m0 -14.2h-7M847.8 133.4v22.3m-3.5 0h7m0 -22.3h-7M944 259.8v50.7m-3.5 0h7m0 -50.7h-7M877.8 137.1v12.2m-3.5 0h7m0 -12.2h-7M867.7 169.9v11.5m-3.5 0h7m0 -11.5h-7M1049.5 254.3v50.9m-3.5 0h7m0 -50.9h-7M906.7 187.4v20.8m-3.5 0h7m0 -20.8h-7M825.5 235.7v49.6m-3.5 0h7m0 -49.6h-7M880.2 95.1v15.2m-3.5 0h7m0 -15.2h-7M890.3 173.1v32.7m-3.5 0h7m0 -32.7h-7M804.7 146.4v35.1m-3.5 0h7m0 -35.1h-7M1068.9 248.4v13.5m-3.5 0h7m0 -13.5h-7M788.1 166.5v14.2m-3.5 0h7m0 -14.2h-7M790.5 126.8v30.9m-3.5 0h7m0 -30.9h-7M780.1 170.5v34m-3.5 0h7m0 -34h-7M913 148.9v61.5m-3.5 0h7m0 -61.5h-7M781.7 117.9v31.1m-3.5 0h7m0 -31.1h-7M927.6 191.9v32.8m-3.5 0h7m0 -32.8h-7M867.3 175.3v25m-3.5 0h7m0 -25h-7M990.4 204.8v27.7m-3.5 0h7m0 -27.7h-7M878.3 142.7v21.7m-3.5 0h7m0 -21.7h-7M1077 261.9v19.4m-3.5 0h7m0 -19.4h-7M895.8 220v19.9m-3.5 0h7m0 -19.9h-7M1016.3 234.4v16.4m-3.5 0h7m0 -16.4h-7M935.4 211.9v18m-3.5 0h7m0 -18h-7M823 150.3v17.2m-3.5 0h7m0 -17.2h-7M865 179.2v17.3m-3.5 0h7m0 -17.3h-7M782.2 189.8v22.9m-3.5 0h7m0 -22.9h-7M891.9 221.2v19.7m-3.5 0h7m0 -19.7h-7M841.3 142.5v11.5m-3.5 0h7m0 -11.5h-7M847.6 150.1v15.7m-3.5 0h7m0 -15.7h-7M894.1 177v11.2m-3.5 0h7m0 -11.2h-7M811.2 263.1v9.5m-3.5 0h7m0 -9.5h-7M788.3 200.1v12.7m-3.5 0h7m0 -12.7h-7M845.3 120.7v18m-3.5 0h7m0 -18h-7M895.2 152.1v22.7m-3.5 0h7m0 -22.7h-7M861.2 123.9v60.9m-3.5 0h7m0 -60.9h-7M839.5 261.5v10.5m-3.5 0h7m0 -10.5h-7M805.2 276.4v12.6m-3.5 0h7m0 -12.6h-7M856.3 253.9v14m-3.5 0h7m0 -14h-7M789.3 165.2v12.3m-3.5 0h7m0 -12.3h-7M877.2 144.6v17.9m-3.5 0h7m0 -17.9h-7M864.7 149.4v39m-3.5 0h7m0 -39h-7M788.2 183.5v17.8m-3.5 0h7m0 -17.8h-7M842.6 116.1v27.1m-3.5 0h7m0 -27.1h-7M804.6 261.9v20.4m-3.5 0h7m0 -20.4h-7M877.3 125.5v45.6m-3.5 0h7m0 -45.6h-7M802.3 148.6v14.7m-3.5 0h7m0 -14.7h-7M800.7 224v25.2m-3.5 0h7m0 -25.2h-7M878.5 182.7v16.4m-3.5 0h7m0 -16.4h-7M998.7 213.9v45.3m-3.5 0h7m0 -45.3h-7M810.8 128.4v37.4m-3.5 0h7m0 -37.4h-7M784.7 197.2v30.7m-3.5 0h7m0 -30.7h-7M1064.3 226.9v45m-3.5 0h7m0 -45h-7M1043 224.5v11m-3.5 0h7m0 -11h-7M907.2 197.2v24.9m-3.5 0h7m0 -24.9h-7M847.6 248.9v60.7m-3.5 0h7m0 -60.7h-7M787.2 173.7v15.1m-3.5 0h7m0 -15.1h-7M825.4 248.1v31.3m-3.5 0h7m0 -31.3h-7M877.2 143.5v13.9m-3.5 0h7m0 -13.9h-7M789.2 145.9v21.8m-3.5 0h7m0 -21.8h-7M891.3 92.9v34.9m-3.5 0h7m0 -34.9h-7M790.6 100.2v17.1m-3.5 0h7m0 -17.1h-7M901 142.6v18m-3.5 0h7m0 -18h-7M937.9 280.1v29.7m-3.5 0h7m0 -29.7h-7M875.9 185.5v20.9m-3.5 0h7m0 -20.9h-7M1000.1 240.9v35.8m-3.5 0h7m0 -35.8h-7M950.1 222.1v19.7m-3.5 0h7m0 -19.7h-7M892.6 99.6v22.6m-3.5 0h7m0 -22.6h-7M833 240.6v31.3m-3.5 0h7m0 -31.3h-7M846 148.4v16.2m-3.5 0h7m0 -16.2h-7M841.9 120.2v30.6m-3.5 0h7m0 -30.6h-7M786.5 162v17.5m-3.5 0h7m0 -17.5h-7M856.3 138.3v22m-3.5 0h7m0 -22h-7M909 177v49.3m-3.5 0h7m0 -49.3h-7M1000.1 244v19.9m-3.5 0h7m0 -19.9h-7M1076.3 238.4v36.8m-3.5 0h7m0 -36.8h-7M893.9 100.2v19.1m-3.5 0h7m0 -19.1h-7M850.2 252.5v57.1m-3.5 0h7m0 -57.1h-7M912.2 153.4v26.9m-3.5 0h7m0 -26.9h-7M787.5 160.3v52.2m-3.5 0h7m0 -52.2h-7M906.7 166.6v14.7m-3.5 0h7m0 -14.7h-7M782.9 128.1v15.9m-3.5 0h7m0 -15.9h-7M906.3 131.6v48.1m-3.5 0h7m0 -48.1h-7M932.4 293.5v14.5m-3.5 0h7m0 -14.5h-7M800.7 231.8v15.4m-3.5 0h7m0 -15.4h-7M868.1 159.1v47.2m-3.5 0h7m0 -47.2h-7M844.6 130.4v13.7m-3.5 0h7m0 -13.7h-7M909.2 210.6v25.9m-3.5 0h7m0 -25.9h-7M841.2 121.9v24.8m-3.5 0h7m0 -24.8h-7M839.2 263.1v10.3m-3.5 0h7m0 -10.3h-7M789.4 136.8v16.9m-3.5 0h7m0 -16.9h-7M864.4 208.2v16.3m-3.5 0h7m0 -16.3h-7M864.4 189.3v46.3m-3.5 0h7m0 -46.3h-7M932.2 281v32.2m-3.5 0h7m0 -32.2h-7M790.1 99.8v28.7m-3.5 0h7m0 -28.7h-7M821.5 122.3v14m-3.5 0h7m0 -14h-7M906.7 232.8v21.7m-3.5 0h7m0 -21.7h-7M800.9 189.6v12m-3.5 0h7m0 -12h-7M998.9 211.6v32.9m-3.5 0h7m0 -32.9h-7M893.5 172.2v21.1m-3.5 0h7m0 -21.1h-7M908.7 135.4v38.4m-3.5 0h7m0 -38.4h-7M997.5 217.5v44.3m-3.5 0h7m0 -44.3h-7M991.7 199.2v34.3m-3.5 0h7m0 -34.3h-7M893.6 192.4v51.7m-3.5 0h7m0 -51.7h-7M1045.8 222.7v21.3m-3.5 0h7m0 -21.3h-7M844.8 120.2v56.7m-3.5 0h7m0 -56.7h-7M896.4 105v44.8m-3.5 0h7m0 -44.8h-7M782.5 165.2v12.6m-3.5 0h7m0 -12.6h-7M789.9 130.2v51.7m-3.5 0h7m0 -51.7h-7M802.8 185.3v16.1m-3.5 0h7m0 -16.1h-7M864.4 199v16.5m-3.5 0h7m0 -16.5h-7M821.9 106v26.8m-3.5 0h7m0 -26.8h-7M789.2 175.3v63.4m-3.5 0h7m0 -63.4h-7M874.4 153.4v42.7m-3.5 0h7m0 -42.7h-7M967 224.8v12.9m-3.5 0h7m0 -12.9h-7M1017.6 244.5v29.5m-3.5 0h7m0 -29.5h-7M798.9 212v17.7m-3.5 0h7m0 -17.7h-7M781.1 140.9v18.2m-3.5 0h7m0 -18.2h-7M888.1 176v28.5m-3.5 0h7m0 -28.5h-7M799.7 155.1v15m-3.5 0h7m0 -15h-7M860 251.4v11.2m-3.5 0h7m0 -11.2h-7M1052.5 250v57.7m-3.5 0h7m0 -57.7h-7M1016.7 249.1v36.6m-3.5 0h7m0 -36.6h-7M786 111.1v31.6m-3.5 0h7m0 -31.6h-7M840.9 255v16.5m-3.5 0h7m0 -16.5h-7M931.9 193.6v39.4m-3.5 0h7m0 -39.4h-7M895.3 156.7v19.6m-3.5 0h7m0 -19.6h-7M813.7 132.1v11.4m-3.5 0h7m0 -11.4h-7M790.1 97.8v21.1m-3.5 0h7m0 -21.1h-7M789 162.3v36.3m-3.5 0h7m0 -36.3h-7M781.4 122.5v24.8m-3.5 0h7m0 -24.8h-7M787.7 104v15.5m-3.5 0h7m0 -15.5h-7M842.6 134.1v16.8m-3.5 0h7m0 -16.8h-7M1018.9 241.3v53.8m-3.5 0h7m0 -53.8h-7M837.1 257.4v11.1m-3.5 0h7m0 -11.1h-7M932.5 268.4v17m-3.5 0h7m0 -17h-7M864.8 180.3v11.8m-3.5 0h7m0 -11.8h-7M798.5 189.6v11.1m-3.5 0h7m0 -11.1h-7M906.6 124v67m-3.5 0h7m0 -67h-7M934.8 277.5v33.2m-3.5 0h7m0 -33.2h-7M853.6 263.5v13.9m-3.5 0h7m0 -13.9h-7M922.3 247.6v36m-3.5 0h7m0 -36h-7M1054.9 264.7v32.2m-3.5 0h7m0 -32.2h-7M867 153.3v49.6m-3.5 0h7m0 -49.6h-7M820.6 240.8v33.5m-3.5 0h7m0 -33.5h-7M997.7 233.6v19.6m-3.5 0h7m0 -19.6h-7M1046 212.9v27.6m-3.5 0h7m0 -27.6h-7M784 128.9v16.3m-3.5 0h7m0 -16.3h-7M894.4 226.9v28.5m-3.5 0h7m0 -28.5h-7M801.7 248.5v20.8m-3.5 0h7m0 -20.8h-7M946.3 264.3v22.4m-3.5 0h7m0 -22.4h-7M842.2 261.4v33.7m-3.5 0h7m0 -33.7h-7M787.3 80.2v46.1m-3.5 0h7m0 -46.1h-7M896 219v11.1m-3.5 0h7m0 -11.1h-7M865.4 166.8v25.9m-3.5 0h7m0 -25.9h-7M893 202.5v28.2m-3.5 0h7m0 -28.2h-7M909.2 208.9v35.9m-3.5 0h7m0 -35.9h-7M902.4 142.7v14.9m-3.5 0h7m0 -14.9h-7M908.3 193.5v29.7m-3.5 0h7m0 -29.7h-7M930.4 257.1v40.8m-3.5 0h7m0 -40.8h-7M788.8 126.4v31.2m-3.5 0h7m0 -31.2h-7M839.5 255.5v10.2m-3.5 0h7m0 -10.2h-7M837.6 152.8v21.7m-3.5 0h7m0 -21.7h-7M861.7 143.4v11.5m-3.5 0h7m0 -11.5h-7M787.1 138.6v11.1m-3.5 0h7m0 -11.1h-7M1019.2 236.3v39m-3.5 0h7m0 -39h-7M1047.9 218v27.9m-3.5 0h7m0 -27.9h-7M814.7 141.4v21.2m-3.5 0h7m0 -21.2h-7M787.9 181.4v26.8m-3.5 0h7m0 -26.8h-7M780.1 181.5v11.8m-3.5 0h7m0 -11.8h-7M1039.6 218.1v22.2m-3.5 0h7m0 -22.2h-7M906.4 144.1v27.2m-3.5 0h7m0 -27.2h-7M823.1 134.6v13.3m-3.5 0h7m0 -13.3h-7M934.3 268.8v38.5m-3.5 0h7m0 -38.5h-7M866.5 204.7v28.8m-3.5 0h7m0 -28.8h-7M846.3 146.5v16.9m-3.5 0h7m0 -16.9h-7M824.1 136.9v32.3m-3.5 0h7m0 -32.3h-7M865.8 183.3v11.1m-3.5 0h7m0 -11.1h-7M781.8 175.1v42.4m-3.5 0h7m0 -42.4h-7M1053.7 233.4v15.7m-3.5 0h7m0 -15.7h-7M896.2 219.1v20.4m-3.5 0h7m0 -20.4h-7M888.2 91.1v21.9m-3.5 0h7m0 -21.9h-7M894.4 170v16.5m-3.5 0h7m0 -16.5h-7M812.8 138v17.8m-3.5 0h7m0 -17.8h-7M895.3 104.8v15.2m-3.5 0h7m0 -15.2h-7M817 244.6v19.2m-3.5 0h7m0 -19.2h-7M875.3 151.9v19.9m-3.5 0h7m0 -19.9h-7M801.4 158.2v14m-3.5 0h7m0 -14h-7M1030.4 220.8v32.2m-3.5 0h7m0 -32.2h-7M820.5 125.9v12m-3.5 0h7m0 -12h-7M801.9 173.6v23.7m-3.5 0h7m0 -23.7h-7M811.2 280.9v12.2m-3.5 0h7m0 -12.2h-7M847.3 150v14.4m-3.5 0h7m0 -14.4h-7M859.7 241.5v31.7m-3.5 0h7m0 -31.7h-7M908.3 192.1v70.1m-3.5 0h7m0 -70.1h-7M1070.3 239.1v27.8m-3.5 0h7m0 -27.8h-7M997.6 231.7v42.9m-3.5 0h7m0 -42.9h-7M786.7 142.9v13.6m-3.5 0h7m0 -13.6h-7M782.6 146.7v14.9m-3.5 0h7m0 -14.9h-7M811.1 127.2v11.7m-3.5 0h7m0 -11.7h-7M909.4 168.2v17m-3.5 0h7m0 -17h-7M893.1 217.2v16.9m-3.5 0h7m0 -16.9h-7M825 145.7v22.7m-3.5 0h7m0 -22.7h-7M882.1 92.3v29.9m-3.5 0h7m0 -29.9h-7M908.5 227.5v35.5m-3.5 0h7m0 -35.5h-7M808.6 259.8v56.9m-3.5 0h7m0 -56.9h-7M790.9 97.7v16.4m-3.5 0h7m0 -16.4h-7M908.3 213.2v37.5m-3.5 0h7m0 -37.5h-7M799.8 223.1v10.4m-3.5 0h7m0 -10.4h-7M787 152.6v18.2m-3.5 0h7m0 -18.2h-7M1078.3 224v70.6m-3.5 0h7m0 -70.6h-7M931.4 279v36.9m-3.5 0h7m0 -36.9h-7M802.8 184v53.7m-3.5 0h7m0 -53.7h-7M909.7 217.3v21.6m-3.5 0h7m0 -21.6h-7M908.1 183.6v42.8m-3.5 0h7m0 -42.8h-7M969.7 257.9v31.1m-3.5 0h7m0 -31.1h-7M805.8 157.1v12.9m-3.5 0h7m0 -12.9h-7M911.5 144.9v35.3m-3.5 0h7m0 -35.3h-7M853.1 145v24.8m-3.5 0h7m0 -24.8h-7M787.3 130.8v12.1m-3.5 0h7m0 -12.1h-7M799.9 125.5v18.9m-3.5 0h7m0 -18.9h-7M789.2 122.2v16m-3.5 0h7m0 -16h-7M1063.6 238.9v20.8m-3.5 0h7m0 -20.8h-7M866.7 218.2v29.2m-3.5 0h7m0 -29.2h-7M857.3 265.1v10.9m-3.5 0h7m0 -10.9h-7M811.9 271.4v12.5m-3.5 0h7m0 -12.5h-7M787.9 131.9v53.6m-3.5 0h7m0 -53.6h-7M882.4 89.1v21.4m-3.5 0h7m0 -21.4h-7M907.8 181.1v23.9m-3.5 0h7m0 -23.9h-7M779.1 162.1v15.3m-3.5 0h7m0 -15.3h-7M801.4 161.6v14.5m-3.5 0h7m0 -14.5h-7M939.1 220v23.3m-3.5 0h7m0 -23.3h-7M908.9 154.6v13.8m-3.5 0h7m0 -13.8h-7M864.5 225.2v15.3m-3.5 0h7m0 -15.3h-7M997 211.9v28.7m-3.5 0h7m0 -28.7h-7M811.3 126.3v11.3m-3.5 0h7m0 -11.3h-7M909.9 246.5v25.7m-3.5 0h7m0 -25.7h-7M1036.9 269.4v15m-3.5 0h7m0 -15h-7M1019.6 238.6v26.5m-3.5 0h7m0 -26.5h-7M880.1 172v49.6m-3.5 0h7m0 -49.6h-7M909.1 194.8v39m-3.5 0h7m0 -39h-7M889.6 98.3v13.9m-3.5 0h7m0 -13.9h-7M879.7 112.1v21.5m-3.5 0h7m0 -21.5h-7M1049.3 216.8v39.6m-3.5 0h7m0 -39.6h-7M813.9 119.6v29.4m-3.5 0h7m0 -29.4h-7M989.8 262.1v32.3m-3.5 0h7m0 -32.3h-7M872.2 138.5v51m-3.5 0h7m0 -51h-7M942.8 195.5v65.7m-3.5 0h7m0 -65.7h-7M801.5 198.4v13m-3.5 0h7m0 -13h-7M800.7 137.7v10.4m-3.5 0h7m0 -10.4h-7M908.9 202.2v21.8m-3.5 0h7m0 -21.8h-7M815.2 93.6v31.3m-3.5 0h7m0 -31.3h-7M887.9 84.7v32.4m-3.5 0h7m0 -32.4h-7M799.8 179.1v10.4m-3.5 0h7m0 -10.4h-7M788.9 132.6v11.2m-3.5 0h7m0 -11.2h-7M924.9 173.2v67.3m-3.5 0h7m0 -67.3h-7M907.2 219.6v19.8m-3.5 0h7m0 -19.8h-7M879.6 104.6v26.9m-3.5 0h7m0 -26.9h-7M1024.1 226v21.6m-3.5 0h7m0 -21.6h-7M889.1 182.4v15.8m-3.5 0h7m0 -15.8h-7M1064.2 232.7v27.7m-3.5 0h7m0 -27.7h-7M963.7 217.3v27m-3.5 0h7m0 -27h-7M876 142v20.5m-3.5 0h7m0 -20.5h-7M873.9 147.2v36m-3.5 0h7m0 -36h-7M976.1 246.9v53.4m-3.5 0h7m0 -53.4h-7M837 235.5v38.1m-3.5 0h7m0 -38.1h-7M894 174.1v15.4m-3.5 0h7m0 -15.4h-7M781.7 187.5v22.8m-3.5 0h7m0 -22.8h-7M881.4 89.2v12.8m-3.5 0h7m0 -12.8h-7M842.3 269.7v23.3m-3.5 0h7m0 -23.3h-7M782.1 176.6v11.3m-3.5 0h7m0 -11.3h-7M880.3 89.8v14.5m-3.5 0h7m0 -14.5h-7M867.6 178.2v21.4m-3.5 0h7m0 -21.4h-7M896.3 142v29.8m-3.5 0h7m0 -29.8h-7M906 197.3v16m-3.5 0h7m0 -16h-7M804.5 281.7v12.4m-3.5 0h7m0 -12.4h-7M870.5 149.6v36.8m-3.5 0h7m0 -36.8h-7M895.6 192.6v15.5m-3.5 0h7m0 -15.5h-7M866.2 154.1v11.3m-3.5 0h7m0 -11.3h-7M949.8 212.7v34m-3.5 0h7m0 -34h-7M898.2 156.3v18.6m-3.5 0h7m0 -18.6h-7M878.9 183.6v9.9m-3.5 0h7m0 -9.9h-7M956.5 226.8v14.7m-3.5 0h7m0 -14.7h-7M865.1 169v58.6m-3.5 0h7m0 -58.6h-7M813.7 252.7v11.8m-3.5 0h7m0 -11.8h-7M1026.2 222.5v23.1m-3.5 0h7m0 -23.1h-7M952.1 223.2v17.4m-3.5 0h7m0 -17.4h-7M816.3 250.2v9.9m-3.5 0h7m0 -9.9h-7M894.4 199.8v27.6m-3.5 0h7m0 -27.6h-7M779.3 170.5v17.4m-3.5 0h7m0 -17.4h-7M848.4 121.4v26.2m-3.5 0h7m0 -26.2h-7M838.3 260.5v11.4m-3.5 0h7m0 -11.4h-7M865.5 188.2v29m-3.5 0h7m0 -29h-7M876.5 164.8v15.9m-3.5 0h7m0 -15.9h-7M927.3 264.2v12.7m-3.5 0h7m0 -12.7h-7M789.9 108.2v23.7m-3.5 0h7m0 -23.7h-7M882.4 78.8v32.4m-3.5 0h7m0 -32.4h-7M906.7 172.2v47.1m-3.5 0h7m0 -47.1h-7M877.6 169.3v14.1m-3.5 0h7m0 -14.1h-7M798.6 165.8v16.7m-3.5 0h7m0 -16.7h-7M844.4 279.2v11.4m-3.5 0h7m0 -11.4h-7M824.4 142.5v57.6m-3.5 0h7m0 -57.6h-7M1031.4 225.5v14.3m-3.5 0h7m0 -14.3h-7M787.2 139.3v32m-3.5 0h7m0 -32h-7M932 262.6v25.6m-3.5 0h7m0 -25.6h-7M801.1 211.3v30.2m-3.5 0h7m0 -30.2h-7M891.3 203.1v52.5m-3.5 0h7m0 -52.5h-7M820.7 253.2v14.2m-3.5 0h7m0 -14.2h-7M800.6 238.1v33.5m-3.5 0h7m0 -33.5h-7M802.6 130.8v47.8m-3.5 0h7m0 -47.8h-7M840.2 275.1v17.4m-3.5 0h7m0 -17.4h-7M909.4 174.9v47.2m-3.5 0h7m0 -47.2h-7M787.3 94.6v24.4m-3.5 0h7m0 -24.4h-7M892.1 188.2v21.1m-3.5 0h7m0 -21.1h-7M937 289.9v12.8m-3.5 0h7m0 -12.8h-7M1000.3 267.5v14.1m-3.5 0h7m0 -14.1h-7M781.3 131.1v9.6m-3.5 0h7m0 -9.6h-7M811.3 137.5v54.7m-3.5 0h7m0 -54.7h-7M864.9 211.7v43.9m-3.5 0h7m0 -43.9h-7M903.9 128.4v48.2m-3.5 0h7m0 -48.2h-7M878.2 110.5v32.6m-3.5 0h7m0 -32.6h-7M804.2 248.6v17.7m-3.5 0h7m0 -17.7h-7M803.2 264.4v21.9m-3.5 0h7m0 -21.9h-7M875.5 156.4v42.7m-3.5 0h7m0 -42.7h-7M780.6 176.1v25.1m-3.5 0h7m0 -25.1h-7M933 285.3v14.5m-3.5 0h7m0 -14.5h-7M964.2 262.7v26m-3.5 0h7m0 -26h-7M823.1 251.7v22.3m-3.5 0h7m0 -22.3h-7M822.4 115.4v16.8m-3.5 0h7m0 -16.8h-7M837.1 242.5v29m-3.5 0h7m0 -29h-7M999 228.8v58.6m-3.5 0h7m0 -58.6h-7M875.3 127.4v19.2m-3.5 0h7m0 -19.2h-7M787.1 173.7v13.1m-3.5 0h7m0 -13.1h-7M840.3 252.8v13.8m-3.5 0h7m0 -13.8h-7M994.5 197.8v29.5m-3.5 0h7m0 -29.5h-7M782.3 129.3v17.2m-3.5 0h7m0 -17.2h-7M845.8 124.2v15m-3.5 0h7m0 -15h-7M854.7 257v35.6m-3.5 0h7m0 -35.6h-7M847.8 120.3v9.4m-3.5 0h7m0 -9.4h-7M909.8 195.7v12.8m-3.5 0h7m0 -12.8h-7M812.6 248.9v19.3m-3.5 0h7m0 -19.3h-7M802.5 156.3v15.6m-3.5 0h7m0 -15.6h-7M839.5 253.2v30.5m-3.5 0h7m0 -30.5h-7M946.3 221.7v21.9m-3.5 0h7m0 -21.9h-7M872.2 159.1v12.2m-3.5 0h7m0 -12.2h-7M790.2 156.7v55.6m-3.5 0h7m0 -55.6h-7M784.9 112.5v31.7m-3.5 0h7m0 -31.7h-7M1075.5 242.2v29.1m-3.5 0h7m0 -29.1h-7M856.3 247.5v27.9m-3.5 0h7m0 -27.9h-7M910 143.4v24.5m-3.5 0h7m0 -24.5h-7M789.7 152.6v44.4m-3.5 0h7m0 -44.4h-7M782.1 187.7v26m-3.5 0h7m0 -26h-7M845 134.8v16.4m-3.5 0h7m0 -16.4h-7M785.2 193.7v23.8m-3.5 0h7m0 -23.8h-7M930.6 275.1v26.9m-3.5 0h7m0 -26.9h-7M932.1 202.8v31m-3.5 0h7m0 -31h-7M923.7 180.5v37.8m-3.5 0h7m0 -37.8h-7M1070.9 248.8v11.9m-3.5 0h7m0 -11.9h-7M798.9 211.9v10.7m-3.5 0h7m0 -10.7h-7M783.6 134.3v14.4m-3.5 0h7m0 -14.4h-7M822.2 105.1v33.2m-3.5 0h7m0 -33.2h-7M893.4 233.7v14m-3.5 0h7m0 -14h-7M865.7 236.8v18.1m-3.5 0h7m0 -18.1h-7M922.6 191.9v13.2m-3.5 0h7m0 -13.2h-7M915 162.1v55.7m-3.5 0h7m0 -55.7h-7M799.5 134.2v25.7m-3.5 0h7m0 -25.7h-7M891.4 176.3v29m-3.5 0h7m0 -29h-7M968.6 219.4v19m-3.5 0h7m0 -19h-7M806.2 155.7v24.2m-3.5 0h7m0 -24.2h-7M942.4 212.6v36.2m-3.5 0h7m0 -36.2h-7M946 249.9v52.3m-3.5 0h7m0 -52.3h-7M929.6 190.1v40.5m-3.5 0h7m0 -40.5h-7M895.3 175.4v14.9m-3.5 0h7m0 -14.9h-7M813.4 119.1v22.4m-3.5 0h7m0 -22.4h-7M996.5 243.7v14.3m-3.5 0h7m0 -14.3h-7M1040.8 246.9v60.8m-3.5 0h7m0 -60.8h-7M930.7 273.3v36.9m-3.5 0h7m0 -36.9h-7M864.4 189.2v9.3m-3.5 0h7m0 -9.3h-7M923.5 181.3v35m-3.5 0h7m0 -35h-7M837.4 255.7v13.9m-3.5 0h7m0 -13.9h-7M928.4 190.9v29.6m-3.5 0h7m0 -29.6h-7M1065.2 235.2v33.9m-3.5 0h7m0 -33.9h-7M857.1 249.6v11.9m-3.5 0h7m0 -11.9h-7M881.5 85.9v12.9m-3.5 0h7m0 -12.9h-7M907 186.5v18.9m-3.5 0h7m0 -18.9h-7M822.1 135.9v11.9m-3.5 0h7m0 -11.9h-7M813.8 140.5v11.8m-3.5 0h7m0 -11.8h-7M900.1 149v14.8m-3.5 0h7m0 -14.8h-7M1000.1 250.6v29.1m-3.5 0h7m0 -29.1h-7M1055.2 221.2v37m-3.5 0h7m0 -37h-7M847.7 151.4v12.4m-3.5 0h7m0 -12.4h-7M964.7 215.4v26.4m-3.5 0h7m0 -26.4h-7M908.5 222.8v24.9m-3.5 0h7m0 -24.9h-7M788.8 195.9v27.9m-3.5 0h7m0 -27.9h-7M898.9 112.4v13m-3.5 0h7m0 -13h-7M875.3 145.8v12.9m-3.5 0h7m0 -12.9h-7M858.9 145.8v16.3m-3.5 0h7m0 -16.3h-7M908.1 232v41.2m-3.5 0h7m0 -41.2h-7M895.9 219.3v27m-3.5 0h7m0 -27h-7M1017.5 258.8v13.6m-3.5 0h7m0 -13.6h-7M879.6 95.4v23.7m-3.5 0h7m0 -23.7h-7M803.7 263v17m-3.5 0h7m0 -17h-7M934.9 277.4v34.2m-3.5 0h7m0 -34.2h-7M811.7 153.6v21.2m-3.5 0h7m0 -21.2h-7M997.8 248.7v14.6m-3.5 0h7m0 -14.6h-7M864.3 160.4v23.6m-3.5 0h7m0 -23.6h-7M932.2 248.8v55.1m-3.5 0h7m0 -55.1h-7M803 261.6v37.3m-3.5 0h7m0 -37.3h-7M852.7 154.2v11.3m-3.5 0h7m0 -11.3h-7M790.1 153.4v32.7m-3.5 0h7m0 -32.7h-7M1047.1 225.5v12.8m-3.5 0h7m0 -12.8h-7M801.1 206.3v19.1m-3.5 0h7m0 -19.1h-7M820.9 109.1v19.1m-3.5 0h7m0 -19.1h-7M861.5 238.2v16.5m-3.5 0h7m0 -16.5h-7M803.4 251v18.4m-3.5 0h7m0 -18.4h-7M826 157.3v10.7m-3.5 0h7m0 -10.7h-7M814.7 112.6v15.7m-3.5 0h7m0 -15.7h-7M790.3 98.4v15.4m-3.5 0h7m0 -15.4h-7M900.1 126.6v15.2m-3.5 0h7m0 -15.2h-7M782.5 118.1v26.6m-3.5 0h7m0 -26.6h-7M810.7 138v14m-3.5 0h7m0 -14h-7M890.7 180.6v13m-3.5 0h7m0 -13h-7M789.8 144.2v11.6m-3.5 0h7m0 -11.6h-7M933.4 197.5v38.1m-3.5 0h7m0 -38.1h-7M894.3 204v17.9m-3.5 0h7m0 -17.9h-7M1016.8 241.8v35.5m-3.5 0h7m0 -35.5h-7M841.6 250.4v34.6m-3.5 0h7m0 -34.6h-7M922.5 254.2v25.2m-3.5 0h7m0 -25.2h-7M785.4 200.2v11.7m-3.5 0h7m0 -11.7h-7M910.3 177.9v34.3m-3.5 0h7m0 -34.3h-7M920.6 182.7v25.4m-3.5 0h7m0 -25.4h-7M873.3 161.2v14.2m-3.5 0h7m0 -14.2h-7M781.7 168.1v15.7m-3.5 0h7m0 -15.7h-7M864.2 226.1v15.6m-3.5 0h7m0 -15.6h-7M926.9 197.6v19.7m-3.5 0h7m0 -19.7h-7M801.1 232.7v16.1m-3.5 0h7m0 -16.1h-7M787 202.2v11.2m-3.5 0h7m0 -11.2h-7M778.7 145.8v26.2m-3.5 0h7m0 -26.2h-7M877.6 123.4v12m-3.5 0h7m0 -12h-7M880.6 105.3v15.1m-3.5 0h7m0 -15.1h-7M803.6 267v13.9m-3.5 0h7m0 -13.9h-7M781.6 160.8v47.9m-3.5 0h7m0 -47.9h-7M1063.7 264.6v24.6m-3.5 0h7m0 -24.6h-7M825.5 117.2v58.4m-3.5 0h7m0 -58.4h-7M840.2 126v18.4m-3.5 0h7m0 -18.4h-7M821.2 113v40.3m-3.5 0h7m0 -40.3h-7M891.6 213.4v18.3m-3.5 0h7m0 -18.3h-7M940.7 270v44.2m-3.5 0h7m0 -44.2h-7M779.5 165.3v22.6m-3.5 0h7m0 -22.6h-7M908.7 184v20.8m-3.5 0h7m0 -20.8h-7M803.8 249v33.4m-3.5 0h7m0 -33.4h-7M813.4 139.2v18.8m-3.5 0h7m0 -18.8h-7M885.5 82.9v26.2m-3.5 0h7m0 -26.2h-7M786.4 181.8v10.4m-3.5 0h7m0 -10.4h-7M936.6 268.5v60.6m-3.5 0h7m0 -60.6h-7M824.7 240.6v51.3m-3.5 0h7m0 -51.3h-7M899.9 118.5v15.1m-3.5 0h7m0 -15.1h-7M876.6 139.2v31.4m-3.5 0h7m0 -31.4h-7M810.4 260.2v13.1m-3.5 0h7m0 -13.1h-7M907.5 126.5v30.5m-3.5 0h7m0 -30.5h-7M1016 231.1v33.4m-3.5 0h7m0 -33.4h-7M859.5 241.1v25.1m-3.5 0h7m0 -25.1h-7M878.8 94.9v39.9m-3.5 0h7m0 -39.9h-7M999 214.4v55.3m-3.5 0h7m0 -55.3h-7M1061.4 213.7v61.9m-3.5 0h7m0 -61.9h-7M810.8 252.2v33.1m-3.5 0h7m0 -33.1h-7M799 150v18.3m-3.5 0h7m0 -18.3h-7M867.8 174.5v10.7m-3.5 0h7m0 -10.7h-7M908.9 176.6v27.2m-3.5 0h7m0 -27.2h-7M869.5 182.1v26.5m-3.5 0h7m0 -26.5h-7M872.5 237.4v22m-3.5 0h7m0 -22h-7M883.5 186.5v10.9m-3.5 0h7m0 -10.9h-7M872.9 220.1v25.5m-3.5 0h7m0 -25.5h-7M875.8 201.9v23m-3.5 0h7m0 -23h-7M884.8 180.8v16.9m-3.5 0h7m0 -16.9h-7M873.7 228v22.7m-3.5 0h7m0 -22.7h-7M870.7 200.4v19.9m-3.5 0h7m0 -19.9h-7M873.8 227.7v12.9m-3.5 0h7m0 -12.9h-7M870.6 221v14.8m-3.5 0h7m0 -14.8h-7M870.6 225.8v23.1m-3.5 0h7m0 -23.1h-7M878.3 227.2v25.9m-3.5 0h7m0 -25.9h-7M872.9 233.8v9.5m-3.5 0h7m0 -9.5h-7M868.4 200.3v15.1m-3.5 0h7m0 -15.1h-7M882.9 217.5v28m-3.5 0h7m0 -28h-7M878 220.7v15m-3.5 0h7m0 -15h-7M875.7 220.3v14.1m-3.5 0h7m0 -14.1h-7M868.2 236.7v21.7m-3.5 0h7m0 -21.7h-7M881.6 236.6v14.3m-3.5 0h7m0 -14.3h-7M875.7 239.5v8.3m-3.5 0h7m0 -8.3h-7M874.7 168.6v18.9m-3.5 0h7m0 -18.9h-7M959.3 206.2v20.4m-3.5 0h7m0 -20.4h-7M936.5 201.8v10.3m-3.5 0h7m0 -10.3h-7M955.6 205.9v21.9m-3.5 0h7m0 -21.9h-7M938.3 206.1v25.2m-3.5 0h7m0 -25.2h-7M952.3 201.1v21.4m-3.5 0h7m0 -21.4h-7M941.7 195.2v25.6m-3.5 0h7m0 -25.6h-7M1058.4 223.4v20.9m-3.5 0h7m0 -20.9h-7M1051.2 221.3v23m-3.5 0h7m0 -23h-7M1056.5 213.9v17.6m-3.5 0h7m0 -17.6h-7M1036 216.2v16.5m-3.5 0h7m0 -16.5h-7M1031.5 215.7v9.7m-3.5 0h7m0 -9.7h-7M1044.1 227.5v14.6m-3.5 0h7m0 -14.6h-7M1050.1 202.3v17.5m-3.5 0h7m0 -17.5h-7M1035.5 210v20.4m-3.5 0h7m0 -20.4h-7M1044.5 205.4v26.2m-3.5 0h7m0 -26.2h-7M1045.3 204.6v18m-3.5 0h7m0 -18h-7M1040.7 212.7v23.4m-3.5 0h7m0 -23.4h-7M879.3 198.2v20m-3.5 0h7m0 -20h-7M883.5 214.2v14.9m-3.5 0h7m0 -14.9h-7M868 229.8v10.1m-3.5 0h7m0 -10.1h-7M869.9 219v24.1m-3.5 0h7m0 -24.1h-7M873 212.9v23.4m-3.5 0h7m0 -23.4h-7M883.4 238.2v10.4m-3.5 0h7m0 -10.4h-7M884.8 232.5v26.9m-3.5 0h7m0 -26.9h-7M878.2 194.8v23.2m-3.5 0h7m0 -23.2h-7M868.4 241.3v10.2m-3.5 0h7m0 -10.2h-7M870.8 225.3v18.4m-3.5 0h7m0 -18.4h-7M883.7 204.1v18.3m-3.5 0h7m0 -18.3h-7M872.5 189.2v26.4m-3.5 0h7m0 -26.4h-7M873.2 239.5v17.7m-3.5 0h7m0 -17.7h-7M872 205.5v12m-3.5 0h7m0 -12h-7M877.6 224.2v26.5m-3.5 0h7m0 -26.5h-7M875.3 223.4v13.1m-3.5 0h7m0 -13.1h-7M868.7 175.6v19.1m-3.5 0h7m0 -19.1h-7M868.3 171.3v22.8m-3.5 0h7m0 -22.8h-7M870.5 194.2v19.8m-3.5 0h7m0 -19.8h-7M872.5 171.4v15.1m-3.5 0h7m0 -15.1h-7M882.2 237.2v12.9m-3.5 0h7m0 -12.9h-7M884.8 221.2v24.3m-3.5 0h7m0 -24.3h-7M875.1 188.3v27.9m-3.5 0h7m0 -27.9h-7M870.5 217.6v12.1m-3.5 0h7m0 -12.1h-7M876.5 208.5v25.2m-3.5 0h7m0 -25.2h-7M875 227.6v19.6m-3.5 0h7m0 -19.6h-7M876.6 204.3v26.9m-3.5 0h7m0 -26.9h-7M874.4 189.8v21.4m-3.5 0h7m0 -21.4h-7M876.5 234.6v17.8m-3.5 0h7m0 -17.8h-7M872.5 230.9v11.3m-3.5 0h7m0 -11.3h-7M882.7 200.3v16.6m-3.5 0h7m0 -16.6h-7M883.7 171.1v22.2m-3.5 0h7m0 -22.2h-7M884.6 222.7v23.2m-3.5 0h7m0 -23.2h-7M876.2 177.9v20.3m-3.5 0h7m0 -20.3h-7M886.9 195.1v15.4m-3.5 0h7m0 -15.4h-7M876.6 217.1v12.2m-3.5 0h7m0 -12.2h-7M885 178v17.4m-3.5 0h7m0 -17.4h-7M880.5 168.1v26.3m-3.5 0h7m0 -26.3h-7M870.8 226.3v17.7m-3.5 0h7m0 -17.7h-7M873.4 168.2v27.7m-3.5 0h7m0 -27.7h-7M884.5 198v21.1m-3.5 0h7m0 -21.1h-7M875.7 195.9v11.7m-3.5 0h7m0 -11.7h-7M880.3 199.9v23m-3.5 0h7m0 -23h-7M883.3 209.4v24.1m-3.5 0h7m0 -24.1h-7M1119 250v6m-3.2 0h6.4m0 -6h-6.4M1120 254v6m-3.2 0h6.4m0 -6h-6.4M1122 258v6m-3.2 0h6.4m0 -6h-6.4M1124 261v6m-3.2 0h6.4m0 -6h-6.4M1126 264v6m-3.2 0h6.4m0 -6h-6.4M1128 267v6m-3.2 0h6.4m0 -6h-6.4M1124 254v6m-3.2 0h6.4m0 -6h-6.4M1126 258v6m-3.2 0h6.4m0 -6h-6.4M1128 261v6m-3.2 0h6.4m0 -6h-6.4M1130 259v6m-3.2 0h6.4m0 -6h-6.4M1121 262v6m-3.2 0h6.4m0 -6h-6.4M1125 267v6m-3.2 0h6.4m0 -6h-6.4M1122 251v6m-3.2 0h6.4m0 -6h-6.4M789 60v14m-3.2 0h6.4m0 -14h-6.4M788 78.4v10m-3.2 0h6.4m0 -10h-6.4M788.5 85v10m-3.2 0h6.4m0 -10h-6.4M798.7 123.5v12m-3.2 0h6.4m0 -12h-6.4M802 136.5v12m-3.2 0h6.4m0 -12h-6.4M785 204.7v18m-3.2 0h6.4m0 -18h-6.4M789 229.5v38m-3.2 0h6.4m0 -38h-6.4M817.6 76.9v24m-3.2 0h6.4m0 -24h-6.4M846.2 75.8v8m-3.2 0h6.4m0 -8h-6.4M844.1 84.3v10m-3.2 0h6.4m0 -10h-6.4M846.5 93.1v10m-3.2 0h6.4m0 -10h-6.4M844.1 108.1v12m-3.2 0h6.4m0 -12h-6.4M847.6 116.4v12m-3.2 0h6.4m0 -12h-6.4M841.7 124.7v12m-3.2 0h6.4m0 -12h-6.4M845 101v10m-3.2 0h6.4m0 -10h-6.4M859.5 140v12m-3.2 0h6.4m0 -12h-6.4M917 112v10m-3.2 0h6.4m0 -10h-6.4M908 124.6v18m-3.2 0h6.4m0 -18h-6.4M867.7 158.6v16m-3.2 0h6.4m0 -16h-6.4M895 164.5v16m-3.2 0h6.4m0 -16h-6.4M894.2 191.7v16m-3.2 0h6.4m0 -16h-6.4M877.2 221.3v22m-3.2 0h6.4m0 -22h-6.4M937 154.2v39.5m-3.2 0h6.4m0 -39.5h-6.4M936.4 202.7v18m-3.2 0h6.4m0 -18h-6.4M983.7 196.5v12m-3.2 0h6.4m0 -12h-6.4M980.1 205v12m-3.2 0h6.4m0 -12h-6.4M990.8 206v12m-3.2 0h6.4m0 -12h-6.4M979 215v12m-3.2 0h6.4m0 -12h-6.4M1046.8 189.5v10m-3.2 0h6.4m0 -10h-6.4M1052.3 196v20m-3.2 0h6.4m0 -20h-6.4M1046.4 211.3v16m-3.2 0h6.4m0 -16h-6.4M1023.9 220v16m-3.2 0h6.4m0 -16h-6.4M1047.5 164.3v6m-3.2 0h6.4m0 -6h-6.4M1118.7 238.5v12m-3.2 0h6.4m0 -12h-6.4M807.4 297.7v14m-3.2 0h6.4m0 -14h-6.4M809.8 315.7v10m-3.2 0h6.4m0 -10h-6.4M824.7 269.8v20m-3.2 0h6.4m0 -20h-6.4M841.7 283.1v20m-3.2 0h6.4m0 -20h-6.4M850.5 273.7v28m-3.2 0h6.4m0 -28h-6.4M860.7 274.1v33m-3.2 0h6.4m0 -33h-6.4M840.5 269.3v80m-3.2 0h6.4m0 -80h-6.4M893.8 243.7v12m-3.2 0h6.4m0 -12h-6.4M895 249.6v12m-3.2 0h6.4m0 -12h-6.4M891.4 257.5v12m-3.2 0h6.4m0 -12h-6.4M896.6 256.7v12m-3.2 0h6.4m0 -12h-6.4M891.4 265.5v12m-3.2 0h6.4m0 -12h-6.4M902 274.3v10m-3.2 0h6.4m0 -10h-6.4M908.7 262v12m-3.2 0h6.4m0 -12h-6.4M916.2 266.9v31m-3.2 0h6.4m0 -31h-6.4M924.5 266.2v26m-3.2 0h6.4m0 -26h-6.4M934 302v26m-3.2 0h6.4m0 -26h-6.4M954.1 287.9v30m-3.2 0h6.4m0 -30h-6.4M965.5 287.9v46m-3.2 0h6.4m0 -46h-6.4M999 279.6v20m-3.2 0h6.4m0 -20h-6.4M1052.8 279.6v31m-3.2 0h6.4m0 -31h-6.4M1071.2 279.6v30m-3.2 0h6.4m0 -30h-6.4M1119.4 280.2v6m-3.2 0h6.4m0 -6h-6.4M1125.7 280.2v6m-3.2 0h6.4m0 -6h-6.4M812.2 76.3v33.7m-3.2 0h6.4m0 -33.7h-6.4M880.8 69.2v25.8m-3.2 0h6.4m0 -25.8h-6.4M937.5 154v18m-3.2 0h6.4m0 -18h-6.4M1013.2 270v43m-3.2 0h6.4m0 -43h-6.4M969 197v28m-3.2 0h6.4m0 -28h-6.4M969 200v25m-3.2 0h6.4m0 -25h-6.4M969 203v22m-3.2 0h6.4m0 -22h-6.4M969 206v19m-3.2 0h6.4m0 -19h-6.4M969 209v16m-3.2 0h6.4m0 -16h-6.4M789 245v10m-3.2 0h6.4m0 -10h-6.4M1047.7 247.5h25.8m0 -3.5v7m-25.8 0v-7M845.5 280.3h4.5m0 -3.5v7m-4.5 0v-7M851.6 266.9h10.3m0 -3.5v7m-10.3 0v-7M788.1 179.5h2.3m0 -3.5v7m-2.3 0v-7M782 188.7h2.2m0 -3.5v7m-2.2 0v-7M1008.6 247.5h16.3m0 -3.5v7m-16.3 0v-7M802.4 284.6h4.7m0 -3.5v7m-4.7 0v-7M885.6 207.4h10.1m0 -3.5v7m-10.1 0v-7M920.5 207.5h12.4m0 -3.5v7m-12.4 0v-7M884.6 194.2h4.5m0 -3.5v7m-4.5 0v-7M863.2 229h4.8m0 -3.5v7m-4.8 0v-7M837.6 145.4h6.7m0 -3.5v7m-6.7 0v-7M903.9 259.4h12.5m0 -3.5v7m-12.5 0v-7M800.8 157.3h2.5m0 -3.5v7m-2.5 0v-7M903.3 177.2h12.5m0 -3.5v7m-12.5 0v-7M927.9 300.1h13.2m0 -3.5v7m-13.2 0v-7M927.2 285.1h12.3m0 -3.5v7m-12.3 0v-7M801.3 259.4h5.4m0 -3.5v7m-5.4 0v-7M811.7 268.5h3.6m0 -3.5v7m-3.6 0v-7M808.7 141.3h4.6m0 -3.5v7m-4.6 0v-7M857.4 148.7h6.5m0 -3.5v7m-6.5 0v-7M920.8 273.1h11.6m0 -3.5v7m-11.6 0v-7M836.5 161.2h3.2m0 -3.5v7m-3.2 0v-7M953.2 230.6h7.9m0 -3.5v7m-7.9 0v-7M834.8 172.2h3.7m0 -3.5v7m-3.7 0v-7M810.6 154.7h6m0 -3.5v7m-6 0v-7M939.7 275.1h15.8m0 -3.5v7m-15.8 0v-7M921.3 204.3h9.8m0 -3.5v7m-9.8 0v-7M796.5 145.2h4.8m0 -3.5v7m-4.8 0v-7M782.5 198.7h3.8m0 -3.5v7m-3.8 0v-7M852.7 155.6h4.7m0 -3.5v7m-4.7 0v-7M844 156.4h9.3m0 -3.5v7m-9.3 0v-7M904.6 205.6h6.2m0 -3.5v7m-6.2 0v-7M782.1 206.5h1.6m0 -3.5v7m-1.6 0v-7M892.2 182.2h5.8m0 -3.5v7m-5.8 0v-7M785.2 209h2.7m0 -3.5v7m-2.7 0v-7M902.5 177.8h8.9m0 -3.5v7m-8.9 0v-7M891.4 199.4h6.8m0 -3.5v7m-6.8 0v-7M1008.4 268.5h19.6m0 -3.5v7m-19.6 0v-7M857.2 258.9h5.4m0 -3.5v7m-5.4 0v-7M890.8 230.8h4.8m0 -3.5v7m-4.8 0v-7M781.7 150.3h1.6m0 -3.5v7m-1.6 0v-7M1060.9 274.5h26m0 -3.5v7m-26 0v-7M1010.8 267.9h9.9m0 -3.5v7m-9.9 0v-7M781.9 153.7h1.9m0 -3.5v7m-1.9 0v-7M805.1 163.3h5.2m0 -3.5v7m-5.2 0v-7M988.9 215.8h20m0 -3.5v7m-20 0v-7M809 275h3.6m0 -3.5v7m-3.6 0v-7M899.2 138.3h12.8m0 -3.5v7m-12.8 0v-7M814.3 106.8h3.2m0 -3.5v7m-3.2 0v-7M886.1 104.2h7.5m0 -3.5v7m-7.5 0v-7M782.9 185.7h1.8m0 -3.5v7m-1.8 0v-7M949.7 231.8h16.7m0 -3.5v7m-16.7 0v-7M1016.6 238.9h15m0 -3.5v7m-15 0v-7M1011.4 272.9h13.3m0 -3.5v7m-13.3 0v-7M783.7 128.9h2.2m0 -3.5v7m-2.2 0v-7M873.8 104.5h11.1m0 -3.5v7m-11.1 0v-7M850.1 280.7h5.2m0 -3.5v7m-5.2 0v-7M824.8 258.6h4.6m0 -3.5v7m-4.6 0v-7M993.2 245.4h14.1m0 -3.5v7m-14.1 0v-7M788.4 109.4h1.8m0 -3.5v7m-1.8 0v-7M797.6 171.1h3.1m0 -3.5v7m-3.1 0v-7M882.2 104.4h13m0 -3.5v7m-13 0v-7M780.1 157.7h3.3m0 -3.5v7m-3.3 0v-7M910.4 260.3h6.6m0 -3.5v7m-6.6 0v-7M966.7 232.3h16.5m0 -3.5v7m-16.5 0v-7M875.9 108.5h10.2m0 -3.5v7m-10.2 0v-7M954.5 274.3h14.6m0 -3.5v7m-14.6 0v-7M837.4 168.3h5.9m0 -3.5v7m-5.9 0v-7M877.1 98.1h4.3m0 -3.5v7m-4.3 0v-7M854.6 249.2h5.9m0 -3.5v7m-5.9 0v-7M959.3 230.5h15.8m0 -3.5v7m-15.8 0v-7M845.1 158.3h6.8m0 -3.5v7m-6.8 0v-7M861.8 178.3h10.5m0 -3.5v7m-10.5 0v-7M819.6 258.8h7m0 -3.5v7m-7 0v-7M876.4 127.4h4.8m0 -3.5v7m-4.8 0v-7M994.1 277.1h11.8m0 -3.5v7m-11.8 0v-7M852.1 148.5h6.1m0 -3.5v7m-6.1 0v-7M808.6 135.4h5.5m0 -3.5v7m-5.5 0v-7M785.3 154.7h4.5m0 -3.5v7m-4.5 0v-7M837.2 141.8h5.6m0 -3.5v7m-5.6 0v-7M993.2 234.9h12.1m0 -3.5v7m-12.1 0v-7M859.9 222.9h10.6m0 -3.5v7m-10.6 0v-7M798.5 158.8h5.4m0 -3.5v7m-5.4 0v-7M837 149h6.9m0 -3.5v7m-6.9 0v-7M1023.6 277.5h9.4m0 -3.5v7m-9.4 0v-7M971.8 231.8h14.1m0 -3.5v7m-14.1 0v-7M916.9 192.1h6.1m0 -3.5v7m-6.1 0v-7M1064.8 263.8h28.2m0 -3.5v7m-28.2 0v-7M883.4 102.3h7.5m0 -3.5v7m-7.5 0v-7M796.7 147.9h3.5m0 -3.5v7m-3.5 0v-7M805.1 164.6h4.1m0 -3.5v7m-4.1 0v-7M1011.9 242.1h10m0 -3.5v7m-10 0v-7M994.1 234.8h11.5m0 -3.5v7m-11.5 0v-7M905.5 167.5h6m0 -3.5v7m-6 0v-7M890.6 225.9h9.9m0 -3.5v7m-9.9 0v-7M874.8 112.3h9.8m0 -3.5v7m-9.8 0v-7M888.2 173.1h12.5m0 -3.5v7m-12.5 0v-7M872.6 148.6h8.1m0 -3.5v7m-8.1 0v-7M834.9 161h7.4m0 -3.5v7m-7.4 0v-7M870.9 190.7h10.2m0 -3.5v7m-10.2 0v-7M1011.1 242.2h17m0 -3.5v7m-17 0v-7M1013.7 269.1h12.1m0 -3.5v7m-12.1 0v-7M806.7 260.8h6.2m0 -3.5v7m-6.2 0v-7M779.9 156.8h3.4m0 -3.5v7m-3.4 0v-7M808.4 272.5h3m0 -3.5v7m-3 0v-7M860.2 155.3h5.1m0 -3.5v7m-5.1 0v-7M787.7 124.9h3.5m0 -3.5v7m-3.5 0v-7M1068.4 272.1h25.1m0 -3.5v7m-25.1 0v-7M1069.6 268.6h18.4m0 -3.5v7m-18.4 0v-7M799.5 229.9h5.4m0 -3.5v7m-5.4 0v-7M787.5 144.2h3.2m0 -3.5v7m-3.2 0v-7M785.9 132.6h3.2m0 -3.5v7m-3.2 0v-7M930.2 299.4h12.5m0 -3.5v7m-12.5 0v-7M862 179.2h6.7m0 -3.5v7m-6.7 0v-7M879.5 104.7h4.6m0 -3.5v7m-4.6 0v-7M872.7 152.4h10.9m0 -3.5v7m-10.9 0v-7M958.4 272.3h11.1m0 -3.5v7m-11.1 0v-7M872.5 191.3h9.7m0 -3.5v7m-9.7 0v-7M864 164.8h5.7m0 -3.5v7m-5.7 0v-7M864.6 216.9h7m0 -3.5v7m-7 0v-7M905.8 165.5h10.6m0 -3.5v7m-10.6 0v-7M926.7 278h13.3m0 -3.5v7m-13.3 0v-7M988.5 275h17.5m0 -3.5v7m-17.5 0v-7M781 167.5h2.6m0 -3.5v7m-2.6 0v-7M787.3 152h1.8m0 -3.5v7m-1.8 0v-7M799.2 157.4h2.4m0 -3.5v7m-2.4 0v-7M862.6 194.6h10.3m0 -3.5v7m-10.3 0v-7M800.4 152.1h3.6m0 -3.5v7m-3.6 0v-7M887.9 102.2h5.5m0 -3.5v7m-5.5 0v-7M921.9 270.9h8m0 -3.5v7m-8 0v-7M823.4 152.3h2.6m0 -3.5v7m-2.6 0v-7M842.8 282.6h5.9m0 -3.5v7m-5.9 0v-7M1051.8 280.4h13.3m0 -3.5v7m-13.3 0v-7M838.6 276.7h7.2m0 -3.5v7m-7.2 0v-7M1016.7 274.7h18.1m0 -3.5v7m-18.1 0v-7M795.9 152.2h4.5m0 -3.5v7m-4.5 0v-7M906.7 201.7h7.1m0 -3.5v7m-7.1 0v-7M904.4 154.9h6.5m0 -3.5v7m-6.5 0v-7M835.9 264.6h5.1m0 -3.5v7m-5.1 0v-7M1006.5 264.4h21.5m0 -3.5v7m-21.5 0v-7M921.2 267.3h6.7m0 -3.5v7m-6.7 0v-7M788.9 157.5h2.7m0 -3.5v7m-2.7 0v-7M902.7 198.6h9.5m0 -3.5v7m-9.5 0v-7M987.7 268.1h21.9m0 -3.5v7m-21.9 0v-7M786 195.9h4.1m0 -3.5v7m-4.1 0v-7M915.1 264.9h11.8m0 -3.5v7m-11.8 0v-7M855.6 252.6h5.6m0 -3.5v7m-5.6 0v-7M874.3 183.3h9.1m0 -3.5v7m-9.1 0v-7M878.7 95.6h4.9m0 -3.5v7m-4.9 0v-7M903.9 197.3h8.9m0 -3.5v7m-8.9 0v-7M869.4 170.3h10.7m0 -3.5v7m-10.7 0v-7M958.4 275.9h9m0 -3.5v7m-9 0v-7M919.8 200.7h8.2m0 -3.5v7m-8.2 0v-7M862 202.4h8.4m0 -3.5v7m-8.4 0v-7M863.5 202.5h7.2m0 -3.5v7m-7.2 0v-7M1041.9 237.6h18m0 -3.5v7m-18 0v-7M863.4 201.2h4.3m0 -3.5v7m-4.3 0v-7M808.8 148.9h2.8m0 -3.5v7m-2.8 0v-7M785.4 128.4h3.4m0 -3.5v7m-3.4 0v-7M957.5 274.9h16.9m0 -3.5v7m-16.9 0v-7M858.2 147.3h5.5m0 -3.5v7m-5.5 0v-7M855.7 251.5h8m0 -3.5v7m-8 0v-7M811.8 131.4h4.2m0 -3.5v7m-4.2 0v-7M888.3 109.1h11.9m0 -3.5v7m-11.9 0v-7M921.9 207.9h10.9m0 -3.5v7m-10.9 0v-7M1069.5 274.4h14.8m0 -3.5v7m-14.8 0v-7M1070 258.3h15.3m0 -3.5v7m-15.3 0v-7M893 163.7h9.1m0 -3.5v7m-9.1 0v-7M858.6 246.6h7.2m0 -3.5v7m-7.2 0v-7M874.3 108.7h8.5m0 -3.5v7m-8.5 0v-7M786.2 204.7h4m0 -3.5v7m-4 0v-7M797.4 137.6h2.8m0 -3.5v7m-2.8 0v-7M874.7 195.9h10.7m0 -3.5v7m-10.7 0v-7M795.9 160.8h5.4m0 -3.5v7m-5.4 0v-7M836.8 144.6h8.3m0 -3.5v7m-8.3 0v-7M993.6 265h8.5m0 -3.5v7m-8.5 0v-7M991.2 245.3h16.5m0 -3.5v7m-16.5 0v-7M789 129.2h2.7m0 -3.5v7m-2.7 0v-7M785.3 160.6h2.4m0 -3.5v7m-2.4 0v-7M852.1 268h4.6m0 -3.5v7m-4.6 0v-7M873.8 116.3h11.9m0 -3.5v7m-11.9 0v-7M882.3 196.2h9.9m0 -3.5v7m-9.9 0v-7M853.7 275.6h4.9m0 -3.5v7m-4.9 0v-7M890.8 212.5h7.2m0 -3.5v7m-7.2 0v-7M936.4 232.4h7.2m0 -3.5v7m-7.2 0v-7M826.5 169.7h7.6m0 -3.5v7m-7.6 0v-7M801.2 276h4.3m0 -3.5v7m-4.3 0v-7M779 201.5h3.1m0 -3.5v7m-3.1 0v-7M991.4 274h11.4m0 -3.5v7m-11.4 0v-7M995.1 241.6h10.5m0 -3.5v7m-10.5 0v-7M778.9 158h3.4m0 -3.5v7m-3.4 0v-7M1020.6 278.6h15.2m0 -3.5v7m-15.2 0v-7M938 281.8h9.2m0 -3.5v7m-9.2 0v-7M837.5 152.7h6m0 -3.5v7m-6 0v-7M892.2 199.5h6.2m0 -3.5v7m-6.2 0v-7M981.2 216.6h18.1m0 -3.5v7m-18.1 0v-7M930.6 299.9h8.6m0 -3.5v7m-8.6 0v-7M887.5 185h9.4m0 -3.5v7m-9.4 0v-7M871.6 150.3h7.6m0 -3.5v7m-7.6 0v-7M910.2 187h10.6m0 -3.5v7m-10.6 0v-7M835.9 262.8h5.5m0 -3.5v7m-5.5 0v-7M801.6 222.8h2.2m0 -3.5v7m-2.2 0v-7M959.7 231.2h16.6m0 -3.5v7m-16.6 0v-7M920.3 207.5h14.5m0 -3.5v7m-14.5 0v-7M810.9 123.6h5.4m0 -3.5v7m-5.4 0v-7M918.7 207.1h12.8m0 -3.5v7m-12.8 0v-7M873.6 152.8h5.3m0 -3.5v7m-5.3 0v-7M778.9 162h3.3m0 -3.5v7m-3.3 0v-7M796.6 162.8h2.6m0 -3.5v7m-2.6 0v-7M957 275.4h7.4m0 -3.5v7m-7.4 0v-7M778.6 146.2h2.2m0 -3.5v7m-2.2 0v-7M821.8 259.2h5.8m0 -3.5v7m-5.8 0v-7M889 201.1h11.8m0 -3.5v7m-11.8 0v-7M1012.8 267.6h10.2m0 -3.5v7m-10.2 0v-7M821.1 130.9h3m0 -3.5v7m-3 0v-7M785.4 192.3h3.4m0 -3.5v7m-3.4 0v-7M906 211.1h6.6m0 -3.5v7m-6.6 0v-7M841.1 285.9h6.1m0 -3.5v7m-6.1 0v-7M886.1 205.1h13.2m0 -3.5v7m-13.2 0v-7M871.8 196.1h10.5m0 -3.5v7m-10.5 0v-7M795.8 219.9h5.3m0 -3.5v7m-5.3 0v-7M934.3 295.1h8.2m0 -3.5v7m-8.2 0v-7M1075 264.4h15.8m0 -3.5v7m-15.8 0v-7M786 204.1h1.6m0 -3.5v7m-1.6 0v-7M1058.3 278h17.9m0 -3.5v7m-17.9 0v-7M1065 277h12.2m0 -3.5v7m-12.2 0v-7M797.5 179.5h3.5m0 -3.5v7m-3.5 0v-7M788.1 166h3.3m0 -3.5v7m-3.3 0v-7M872.7 137.9h4.6m0 -3.5v7m-4.6 0v-7M1072.1 267.9h22.7m0 -3.5v7m-22.7 0v-7M859.9 157.3h8.9m0 -3.5v7m-8.9 0v-7M920.5 209.4h14.6m0 -3.5v7m-14.6 0v-7M1011.7 263.2h9.4m0 -3.5v7m-9.4 0v-7M862.7 203.1h4.3m0 -3.5v7m-4.3 0v-7M1048.8 276.9h22.4m0 -3.5v7m-22.4 0v-7M809 153.7h5.9m0 -3.5v7m-5.9 0v-7M905.5 189.3h8.2m0 -3.5v7m-8.2 0v-7M918.4 197.2h8.9m0 -3.5v7m-8.9 0v-7M1024 277.1h11.1m0 -3.5v7m-11.1 0v-7M1072.3 262.4h12.4m0 -3.5v7m-12.4 0v-7M903.4 209.7h9.2m0 -3.5v7m-9.2 0v-7M782.3 128.5h2.3m0 -3.5v7m-2.3 0v-7M811.4 267.5h4.7m0 -3.5v7m-4.7 0v-7M825.7 170h7.7m0 -3.5v7m-7.7 0v-7M814.7 116.4h6.5m0 -3.5v7m-6.5 0v-7M879.7 97.7h7.8m0 -3.5v7m-7.8 0v-7M903.4 144.4h8.7m0 -3.5v7m-8.7 0v-7M788.9 165.4h3.2m0 -3.5v7m-3.2 0v-7M875.3 115.8h6.6m0 -3.5v7m-6.6 0v-7M845.5 143.7h4.2m0 -3.5v7m-4.2 0v-7M780.9 155.9h2.2m0 -3.5v7m-2.2 0v-7M887.5 108h8.7m0 -3.5v7m-8.7 0v-7M887.8 211.2h13.5m0 -3.5v7m-13.5 0v-7M777.9 164.7h3.1m0 -3.5v7m-3.1 0v-7M1062.9 273.5h24.7m0 -3.5v7m-24.7 0v-7M822.4 129.5h3.9m0 -3.5v7m-3.9 0v-7M799.3 213.6h3.6m0 -3.5v7m-3.6 0v-7M923.9 286.2h14.1m0 -3.5v7m-14.1 0v-7M785 140.2h3.6m0 -3.5v7m-3.6 0v-7M853.2 279.4h3.9m0 -3.5v7m-3.9 0v-7M861.1 154.2h7.7m0 -3.5v7m-7.7 0v-7M822.2 153.9h6.3m0 -3.5v7m-6.3 0v-7M820.1 268.6h7.1m0 -3.5v7m-7.1 0v-7M1008.7 265.1h18.1m0 -3.5v7m-18.1 0v-7M837.8 133.5h4.7m0 -3.5v7m-4.7 0v-7M836.6 279.4h9m0 -3.5v7m-9 0v-7M1074.4 266.7h19.9m0 -3.5v7m-19.9 0v-7M890.8 235.6h6m0 -3.5v7m-6 0v-7M824.5 255.8h6.2m0 -3.5v7m-6.2 0v-7M1011.5 257.1h10m0 -3.5v7m-10 0v-7M822.2 159h5.7m0 -3.5v7m-5.7 0v-7M787.8 153.1h4.5m0 -3.5v7m-4.5 0v-7M834.9 140.8h7.9m0 -3.5v7m-7.9 0v-7M930.1 303.6h6.4m0 -3.5v7m-6.4 0v-7M1066.8 273.8h13.4m0 -3.5v7m-13.4 0v-7M863.6 227.7h4.1m0 -3.5v7m-4.1 0v-7M780.3 195.4h2.6m0 -3.5v7m-2.6 0v-7M888.2 198h10m0 -3.5v7m-10 0v-7M929.9 220.5h12.2m0 -3.5v7m-12.2 0v-7M818.7 122.2h6.7m0 -3.5v7m-6.7 0v-7M955.5 230h19.3m0 -3.5v7m-19.3 0v-7M1041.9 279.8h20.4m0 -3.5v7m-20.4 0v-7M782.6 187.1h2.2m0 -3.5v7m-2.2 0v-7M778.9 150h2.9m0 -3.5v7m-2.9 0v-7M811.7 161h5.4m0 -3.5v7m-5.4 0v-7M888.7 183h12.9m0 -3.5v7m-12.9 0v-7M887.8 227.4h11.5m0 -3.5v7m-11.5 0v-7M782.4 121.1h3.9m0 -3.5v7m-3.9 0v-7M911.2 266h13.7m0 -3.5v7m-13.7 0v-7M905.7 262h14.1m0 -3.5v7m-14.1 0v-7M890.8 109.4h4.5m0 -3.5v7m-4.5 0v-7M897.4 132.5h9.8m0 -3.5v7m-9.8 0v-7M1013.4 273.1h15m0 -3.5v7m-15 0v-7M889.1 114.9h11.5m0 -3.5v7m-11.5 0v-7M988.8 228.1h16.4m0 -3.5v7m-16.4 0v-7M797.7 161.8h2.9m0 -3.5v7m-2.9 0v-7M783.1 211h2.6m0 -3.5v7m-2.6 0v-7M904.4 222.6h6.6m0 -3.5v7m-6.6 0v-7M860.8 169h10.6m0 -3.5v7m-10.6 0v-7M862.6 192.1h6.9m0 -3.5v7m-6.9 0v-7M901.6 194.7h9.1m0 -3.5v7m-9.1 0v-7M968.3 231h17.6m0 -3.5v7m-17.6 0v-7M819.9 144.8h2.7m0 -3.5v7m-2.7 0v-7M834.1 258.7h4.3m0 -3.5v7m-4.3 0v-7M785.5 166.5h4.3m0 -3.5v7m-4.3 0v-7M845.2 137.9h3.6m0 -3.5v7m-3.6 0v-7M905.9 168.2h8.1m0 -3.5v7m-8.1 0v-7M789.2 146.8h1.6m0 -3.5v7m-1.6 0v-7M860 157.6h4m0 -3.5v7m-4 0v-7M925.3 293.2h12.1m0 -3.5v7m-12.1 0v-7M781.4 151.8h1.8m0 -3.5v7m-1.8 0v-7M906.6 206.6h6.6m0 -3.5v7m-6.6 0v-7M972.3 229.5h10.9m0 -3.5v7m-10.9 0v-7M1035.5 278.4h26.2m0 -3.5v7m-26.2 0v-7M786.1 114.5h1.8m0 -3.5v7m-1.8 0v-7M903.3 146.6h8m0 -3.5v7m-8 0v-7M871.9 191.9h12.1m0 -3.5v7m-12.1 0v-7M839.2 140.9h6.3m0 -3.5v7m-6.3 0v-7M873.7 143.8h8.1m0 -3.5v7m-8.1 0v-7M823.1 259.4h4.9m0 -3.5v7m-4.9 0v-7M874.7 102.9h11m0 -3.5v7m-11 0v-7M885.5 188.1h9.7m0 -3.5v7m-9.7 0v-7M786.4 173.9h3.5m0 -3.5v7m-3.5 0v-7M778.9 186.9h2.3m0 -3.5v7m-2.3 0v-7M805.5 289h3.7m0 -3.5v7m-3.7 0v-7M780.2 133.8h3.1m0 -3.5v7m-3.1 0v-7M960.8 273.6h10.7m0 -3.5v7m-10.7 0v-7M873.2 152.7h10.2m0 -3.5v7m-10.2 0v-7M1028.3 229.9h13.6m0 -3.5v7m-13.6 0v-7M852.3 256h9m0 -3.5v7m-9 0v-7M1005.8 242.3h21.1m0 -3.5v7m-21.1 0v-7M863.3 241.5h8.4m0 -3.5v7m-8.4 0v-7M861 188.1h7.9m0 -3.5v7m-7.9 0v-7M838.7 148.8h5.2m0 -3.5v7m-5.2 0v-7M889.5 208.2h8.1m0 -3.5v7m-8.1 0v-7M852 261.6h8.7m0 -3.5v7m-8.7 0v-7M788 170.8h2.6m0 -3.5v7m-2.6 0v-7M839.5 131.4h7.3m0 -3.5v7m-7.3 0v-7M786 192.8h4.5m0 -3.5v7m-4.5 0v-7M800.7 155.8h3.1m0 -3.5v7m-3.1 0v-7M875.4 191.6h6m0 -3.5v7m-6 0v-7M783.5 213.6h2.3m0 -3.5v7m-2.3 0v-7M901.6 209.2h11.3m0 -3.5v7m-11.3 0v-7M886.9 109h8.8m0 -3.5v7m-8.8 0v-7M789.1 108h3m0 -3.5v7m-3 0v-7M938.4 279.7h17.4m0 -3.5v7m-17.4 0v-7M930.5 305.8h7.1m0 -3.5v7m-7.1 0v-7M942.5 232.3h15.2m0 -3.5v7m-15.2 0v-7M797.5 152.1h5.5m0 -3.5v7m-5.5 0v-7M785.7 171.5h1.6m0 -3.5v7m-1.6 0v-7M902.5 175.3h10m0 -3.5v7m-10 0v-7M785.8 212.1h2.6m0 -3.5v7m-2.6 0v-7M872.2 129.8h9.1m0 -3.5v7m-9.1 0v-7M846.6 280h7.3m0 -3.5v7m-7.3 0v-7M786.5 184.7h2m0 -3.5v7m-2 0v-7M781 135.9h3.8m0 -3.5v7m-3.8 0v-7M900.7 154.3h11.2m0 -3.5v7m-11.2 0v-7M797 192.7h4.9m0 -3.5v7m-4.9 0v-7M994.9 247.3h11m0 -3.5v7m-11 0v-7M823.2 270.3h3.6m0 -3.5v7m-3.6 0v-7M1013.6 244.7h10.7m0 -3.5v7m-10.7 0v-7M819.1 163.3h6m0 -3.5v7m-6 0v-7M839 134.5h4.4m0 -3.5v7m-4.4 0v-7M869.9 150.2h10.4m0 -3.5v7m-10.4 0v-7M862.1 216h4.6m0 -3.5v7m-4.6 0v-7M893.8 115.8h4.9m0 -3.5v7m-4.9 0v-7M890.9 243.8h9.5m0 -3.5v7m-9.5 0v-7M928.7 296.3h7.1m0 -3.5v7m-7.1 0v-7M819.4 129.7h4m0 -3.5v7m-4 0v-7M788.7 102.2h3.6m0 -3.5v7m-3.6 0v-7M903.2 244.2h7m0 -3.5v7m-7 0v-7M799.8 196h2.1m0 -3.5v7m-2.1 0v-7M951.1 274.6h17.4m0 -3.5v7m-17.4 0v-7M800.7 227.4h3m0 -3.5v7m-3 0v-7M817.6 119h3.6m0 -3.5v7m-3.6 0v-7M805.4 166.1h3.2m0 -3.5v7m-3.2 0v-7M890.1 220.3h7.1m0 -3.5v7m-7.1 0v-7M1034.6 232.6h22.3m0 -3.5v7m-22.3 0v-7M912.4 185.2h11.3m0 -3.5v7m-11.3 0v-7M867.2 162.4h5m0 -3.5v7m-5 0v-7M781.7 155.3h1.8m0 -3.5v7m-1.8 0v-7M902.8 197h13.7m0 -3.5v7m-13.7 0v-7M890.6 126.8h11.5m0 -3.5v7m-11.5 0v-7M781.5 171.1h2.2m0 -3.5v7m-2.2 0v-7M788.6 153.9h2.5m0 -3.5v7m-2.5 0v-7M799.9 192.7h5.7m0 -3.5v7m-5.7 0v-7M975.6 229.6h10.3m0 -3.5v7m-10.3 0v-7M788.3 205h1.9m0 -3.5v7m-1.9 0v-7M1040.3 239.1h19m0 -3.5v7m-19 0v-7M1013.1 275.2h11.9m0 -3.5v7m-11.9 0v-7M963.4 231.8h7.3m0 -3.5v7m-7.3 0v-7M796.4 221.8h5.1m0 -3.5v7m-5.1 0v-7M991.4 259.6h19m0 -3.5v7m-19 0v-7M779.9 150.2h2.5m0 -3.5v7m-2.5 0v-7M1009.3 266.1h19.8m0 -3.5v7m-19.8 0v-7M833.7 168.4h7.2m0 -3.5v7m-7.2 0v-7M985.5 279h13.8m0 -3.5v7m-13.8 0v-7M784.6 127.5h2.8m0 -3.5v7m-2.8 0v-7M837 263.5h7.8m0 -3.5v7m-7.8 0v-7M924.8 213.5h14.1m0 -3.5v7m-14.1 0v-7M848.5 275.4h9.5m0 -3.5v7m-9.5 0v-7M785.9 111.5h3.6m0 -3.5v7m-3.6 0v-7M840.7 143.1h3.8m0 -3.5v7m-3.8 0v-7M980 276.5h10.5m0 -3.5v7m-10.5 0v-7M1040 278h12.6m0 -3.5v7m-12.6 0v-7M929.9 295.7h9.8m0 -3.5v7m-9.8 0v-7M905.4 193.8h7m0 -3.5v7m-7 0v-7M1033.3 227.7h25.3m0 -3.5v7m-25.3 0v-7M839.9 277h4.5m0 -3.5v7m-4.5 0v-7M887.3 240.1h8.8m0 -3.5v7m-8.8 0v-7M865.1 245.5h6.6m0 -3.5v7m-6.6 0v-7M923.5 275.1h7.4m0 -3.5v7m-7.4 0v-7M869.2 155.8h10.5m0 -3.5v7m-10.5 0v-7M836.2 141.5h8.4m0 -3.5v7m-8.4 0v-7M1028.2 228.8h22.8m0 -3.5v7m-22.8 0v-7M903.8 158.9h5.2m0 -3.5v7m-5.2 0v-7M858.1 148.1h8.6m0 -3.5v7m-8.6 0v-7M864.6 220.4h3.9m0 -3.5v7m-3.9 0v-7M1044.3 280.6h23.9m0 -3.5v7m-23.9 0v-7M813.5 254.8h6.9m0 -3.5v7m-6.9 0v-7M1026.1 236.2h8.7m0 -3.5v7m-8.7 0v-7M817.1 132.2h6.8m0 -3.5v7m-6.8 0v-7M809.4 287.3h3.5m0 -3.5v7m-3.5 0v-7M885.6 213.7h10.2m0 -3.5v7m-10.2 0v-7M844.8 156.9h5.1m0 -3.5v7m-5.1 0v-7M902.3 224.2h12.1m0 -3.5v7m-12.1 0v-7M1062.6 253.9h15.5m0 -3.5v7m-15.5 0v-7M871.2 162h7.5m0 -3.5v7m-7.5 0v-7M797 133.7h4.8m0 -3.5v7m-4.8 0v-7M781.4 154.4h2.3m0 -3.5v7m-2.3 0v-7M841.5 281.3h7.8m0 -3.5v7m-7.8 0v-7M890.1 226.2h6.1m0 -3.5v7m-6.1 0v-7M876.4 106.9h11.4m0 -3.5v7m-11.4 0v-7M806.2 286h4.8m0 -3.5v7m-4.8 0v-7M790 105.4h1.7m0 -3.5v7m-1.7 0v-7M797.4 228.3h4.7m0 -3.5v7m-4.7 0v-7M785.9 162.1h2.2m0 -3.5v7m-2.2 0v-7M902 203.9h12.2m0 -3.5v7m-12.2 0v-7M862.2 232.3h9m0 -3.5v7m-9 0v-7M853 270.7h8.6m0 -3.5v7m-8.6 0v-7M818.3 117.2h5.9m0 -3.5v7m-5.9 0v-7M990.5 235.1h12.1m0 -3.5v7m-12.1 0v-7M778.1 169.1h1.9m0 -3.5v7m-1.9 0v-7M882.2 194.2h10.7m0 -3.5v7m-10.7 0v-7M860.8 233h7.4m0 -3.5v7m-7.4 0v-7M993.2 225.4h7.6m0 -3.5v7m-7.6 0v-7M1027.4 277.2h18.9m0 -3.5v7m-18.9 0v-7M905.3 214.5h7.6m0 -3.5v7m-7.6 0v-7M987.4 280.2h10.5m0 -3.5v7m-10.5 0v-7M861.6 241.4h5.9m0 -3.5v7m-5.9 0v-7M900.8 201.5h12.1m0 -3.5v7m-12.1 0v-7M1043.4 236.3h11.9m0 -3.5v7m-11.9 0v-7M885.2 102.5h5.3m0 -3.5v7m-5.3 0v-7M787 138.1h3.9m0 -3.5v7m-3.9 0v-7M886.7 189.8h4.6m0 -3.5v7m-4.6 0v-7M872.6 151.7h6.8m0 -3.5v7m-6.8 0v-7M973.8 275.9h12.5m0 -3.5v7m-12.5 0v-7M835.4 255.5h3.2m0 -3.5v7m-3.2 0v-7M887.4 181.8h13.2m0 -3.5v7m-13.2 0v-7M878.7 95.7h5.4m0 -3.5v7m-5.4 0v-7M890.7 156.2h11.2m0 -3.5v7m-11.2 0v-7M798.8 225.2h3.5m0 -3.5v7m-3.5 0v-7M782.2 190.2h3.2m0 -3.5v7m-3.2 0v-7M907.5 264.2h11.3m0 -3.5v7m-11.3 0v-7M813.4 255.4h5.8m0 -3.5v7m-5.8 0v-7M777.7 180.2h3.2m0 -3.5v7m-3.2 0v-7M846.7 133.6h3.4m0 -3.5v7m-3.4 0v-7M901 196.6h11.5m0 -3.5v7m-11.5 0v-7M873.1 198.4h11.1m0 -3.5v7m-11.1 0v-7M796.5 174.7h4.1m0 -3.5v7m-4.1 0v-7M785.1 155.6h4.2m0 -3.5v7m-4.2 0v-7M822.8 153.3h4.2m0 -3.5v7m-4.2 0v-7M819.3 260.8h2.8m0 -3.5v7m-2.8 0v-7M797.9 254.2h5.4m0 -3.5v7m-5.4 0v-7M801.1 156.6h3m0 -3.5v7m-3 0v-7M787.5 177h3.9m0 -3.5v7m-3.9 0v-7M956.4 276.3h15.6m0 -3.5v7m-15.6 0v-7M819.5 124.5h5.9m0 -3.5v7m-5.9 0v-7M843.9 147.8h5.1m0 -3.5v7m-5.1 0v-7M989.6 261.2h18.9m0 -3.5v7m-18.9 0v-7M869.6 136.9h11.4m0 -3.5v7m-11.4 0v-7M837.6 259.3h5.4m0 -3.5v7m-5.4 0v-7M845.6 125.4h4.3m0 -3.5v7m-4.3 0v-7M1014 272.9h19.9m0 -3.5v7m-19.9 0v-7M835.3 267.7h8.3m0 -3.5v7m-8.3 0v-7M788.9 186.6h2.6m0 -3.5v7m-2.6 0v-7M783.7 126.9h2.5m0 -3.5v7m-2.5 0v-7M797.1 156.9h3.9m0 -3.5v7m-3.9 0v-7M950.5 271.9h15.2m0 -3.5v7m-15.2 0v-7M971.1 277h16.9m0 -3.5v7m-16.9 0v-7M990.4 281.5h15.9m0 -3.5v7m-15.9 0v-7M860 157h8.4m0 -3.5v7m-8.4 0v-7M781.3 199.6h1.6m0 -3.5v7m-1.6 0v-7M841.1 142.2h7.9m0 -3.5v7m-7.9 0v-7M906.8 257.8h8m0 -3.5v7m-8 0v-7M926.2 217.2h11.7m0 -3.5v7m-11.7 0v-7M1059 255.2h23.8m0 -3.5v7m-23.8 0v-7M990 280.7h12.8m0 -3.5v7m-12.8 0v-7M819.5 122.2h5.5m0 -3.5v7m-5.5 0v-7M890.6 241h5.6m0 -3.5v7m-5.6 0v-7M903.1 211h13.4m0 -3.5v7m-13.4 0v-7M917.2 198h10.7m0 -3.5v7m-10.7 0v-7M991.5 280h11.7m0 -3.5v7m-11.7 0v-7M799 143h3.1m0 -3.5v7m-3.1 0v-7M891.5 182.3h7.5m0 -3.5v7m-7.5 0v-7M906.7 260.8h8.7m0 -3.5v7m-8.7 0v-7M991.5 250.6h9.9m0 -3.5v7m-9.9 0v-7M924.7 292.6h12m0 -3.5v7m-12 0v-7M861.6 194.2h5.7m0 -3.5v7m-5.7 0v-7M919.9 200.2h7.2m0 -3.5v7m-7.2 0v-7M833.3 262.8h8.2m0 -3.5v7m-8.2 0v-7M878.4 91.8h6.2m0 -3.5v7m-6.2 0v-7M820.1 142h4m0 -3.5v7m-4 0v-7M991 265.5h18.1m0 -3.5v7m-18.1 0v-7M786.5 209.2h4.5m0 -3.5v7m-4.5 0v-7M892.4 231.8h7m0 -3.5v7m-7 0v-7M1008.5 265.2h18.2m0 -3.5v7m-18.2 0v-7M874.1 107.3h11m0 -3.5v7m-11 0v-7M787.5 159.2h3m0 -3.5v7m-3 0v-7M874.6 159.6h4.3m0 -3.5v7m-4.3 0v-7M800.3 279.1h5.5m0 -3.5v7m-5.5 0v-7M800 216h2.3m0 -3.5v7m-2.3 0v-7M801.5 260.1h3.9m0 -3.5v7m-3.9 0v-7M822.7 162.8h6.6m0 -3.5v7m-6.6 0v-7M788.3 106.2h4m0 -3.5v7m-4 0v-7M872.4 176.3h8.4m0 -3.5v7m-8.4 0v-7M895 134.5h10.1m0 -3.5v7m-10.1 0v-7M780.6 152.5h4m0 -3.5v7m-4 0v-7M887 187.6h7.4m0 -3.5v7m-7.4 0v-7M919 267.9h7m0 -3.5v7m-7 0v-7M784.3 206.4h2.3m0 -3.5v7m-2.3 0v-7M850.1 273.2h9.6m0 -3.5v7m-9.6 0v-7M780.9 176.7h1.6m0 -3.5v7m-1.6 0v-7M840.4 150.3h8.6m0 -3.5v7m-8.6 0v-7M1022.6 275.9h15.9m0 -3.5v7m-15.9 0v-7M784.9 207.4h4.2m0 -3.5v7m-4.2 0v-7M777.6 158.8h2.3m0 -3.5v7m-2.3 0v-7M992.5 281.4h7.9m0 -3.5v7m-7.9 0v-7M877.6 112.4h6m0 -3.5v7m-6 0v-7M802.6 273.5h2.1m0 -3.5v7m-2.1 0v-7M862.5 241.3h7.7m0 -3.5v7m-7.7 0v-7M780.8 185h1.6m0 -3.5v7m-1.6 0v-7M823.7 147.2h3.6m0 -3.5v7m-3.6 0v-7M937 290.1h7.3m0 -3.5v7m-7.3 0v-7M802 265.4h3.6m0 -3.5v7m-3.6 0v-7M812.1 148.1h2.6m0 -3.5v7m-2.6 0v-7M810 127h2.8m0 -3.5v7m-2.8 0v-7M930.4 296.8h12.4m0 -3.5v7m-12.4 0v-7M863.8 190.3h8.2m0 -3.5v7m-8.2 0v-7M873.8 154.5h5.6m0 -3.5v7m-5.6 0v-7M846.7 156.5h7.7m0 -3.5v7m-7.7 0v-7M808.4 266.6h4.1m0 -3.5v7m-4.1 0v-7M900.4 142.9h14.2m0 -3.5v7m-14.2 0v-7M810.3 146.6h2.7m0 -3.5v7m-2.7 0v-7M1008.4 247h15.2m0 -3.5v7m-15.2 0v-7M1040.3 281.2h26.6m0 -3.5v7m-26.6 0v-7M808.5 267.3h4.6m0 -3.5v7m-4.6 0v-7M789.7 124.6h2.3m0 -3.5v7m-2.3 0v-7M797.2 187.8h3m0 -3.5v7m-3 0v-7M903 190.6h11.8m0 -3.5v7m-11.8 0v-7M865.1 195.4h8.8m0 -3.5v7m-8.8 0v-7M869.9 248.4h5.1m0 -3.5v7m-5.1 0v-7M878.7 192h9.6m0 -3.5v7m-9.6 0v-7M869.9 232.9h5.9m0 -3.5v7m-5.9 0v-7M873.5 213.4h4.7m0 -3.5v7m-4.7 0v-7M881.2 189.2h7.2m0 -3.5v7m-7.2 0v-7M867.9 210.3h5.6m0 -3.5v7m-5.6 0v-7M871.5 234.1h4.6m0 -3.5v7m-4.6 0v-7M867.9 228.4h5.3m0 -3.5v7m-5.3 0v-7M867.5 237.3h6.2m0 -3.5v7m-6.2 0v-7M867.4 238.6h10.9m0 -3.5v7m-10.9 0v-7M864.5 207.8h7.8m0 -3.5v7m-7.8 0v-7M872.1 228.2h11.7m0 -3.5v7m-11.7 0v-7M871.9 227.3h7.7m0 -3.5v7m-7.7 0v-7M863.3 247.5h9.8m0 -3.5v7m-9.8 0v-7M870.5 243.7h10.2m0 -3.5v7m-10.2 0v-7M870.6 178.1h8.1m0 -3.5v7m-8.1 0v-7M955.4 216.4h7.7m0 -3.5v7m-7.7 0v-7M931.9 206.9h9.2m0 -3.5v7m-9.2 0v-7M932.9 218.7h10.7m0 -3.5v7m-10.7 0v-7M948.7 211.8h7.2m0 -3.5v7m-7.2 0v-7M935.1 208h13.3m0 -3.5v7m-13.3 0v-7M1050.3 233.9h16.2m0 -3.5v7m-16.2 0v-7M1050.7 222.7h11.5m0 -3.5v7m-11.5 0v-7M1022.7 220.6h17.5m0 -3.5v7m-17.5 0v-7M1035.4 234.8h17.5m0 -3.5v7m-17.5 0v-7M1045.1 211.1h10.2m0 -3.5v7m-10.2 0v-7M1027.8 220.3h15.3m0 -3.5v7m-15.3 0v-7M1040 218.5h9.1m0 -3.5v7m-9.1 0v-7M1033.6 213.6h23.5m0 -3.5v7m-23.5 0v-7M873.5 224.4h14.6m0 -3.5v7m-14.6 0v-7M879.1 200h9.3m0 -3.5v7m-9.3 0v-7M874.8 227.8h14.8m0 -3.5v7m-14.8 0v-7M878.9 207.2h8.6m0 -3.5v7m-8.6 0v-7M882.2 218.9h7.4m0 -3.5v7m-7.4 0v-7M876.7 199.7h12.2m0 -3.5v7m-12.2 0v-7M869.8 228.2h16m0 -3.5v7m-16 0v-7M881.7 185.8h9.2m0 -3.5v7m-9.2 0v-7M873.9 185.4h7.4m0 -3.5v7m-7.4 0v-7M871.8 177.4h7.4m0 -3.5v7m-7.4 0v-7M861.9 181.8h12.5m0 -3.5v7m-12.5 0v-7M867 213.7h16m0 -3.5v7m-16 0v-7M863.9 196.7h10.7m0 -3.5v7m-10.7 0v-7M871.8 214.8h8.6m0 -3.5v7m-8.6 0v-7M867.1 200.1h14.8m0 -3.5v7m-14.8 0v-7M863.7 248.7h12.7m0 -3.5v7m-12.7 0v-7M861.9 233.6h12.7m0 -3.5v7m-12.7 0v-7M874 229.4h9.9m0 -3.5v7m-9.9 0v-7M877.9 231.3h12.6m0 -3.5v7m-12.6 0v-7M880.1 184.5h12.3m0 -3.5v7m-12.3 0v-7M865.3 218.2h15.3m0 -3.5v7m-15.3 0v-7M873.8 198.3h8m0 -3.5v7m-8 0v-7M865 239h7.3m0 -3.5v7m-7.3 0v-7M869.5 195.4h10.2m0 -3.5v7m-10.2 0v-7M879.1 189.3h6.5m0 -3.5v7m-6.5 0v-7M877.8 220.1h10.8m0 -3.5v7m-10.8 0v-7M1114 253h10m0 -3v6m-10 0v-6M1114 257h12m0 -3v6m-12 0v-6M1117 261h10m0 -3v6m-10 0v-6M1118 264h12m0 -3v6m-12 0v-6M1121 267h10m0 -3v6m-10 0v-6M1122 270h12m0 -3v6m-12 0v-6M1118 257h12m0 -3v6m-12 0v-6M1121 261h10m0 -3v6m-10 0v-6M1122 264h12m0 -3v6m-12 0v-6M1125 262h10m0 -3v6m-10 0v-6M1116 265h10m0 -3v6m-10 0v-6M1120 270h10m0 -3v6m-10 0v-6M1117 254h10m0 -3v6m-10 0v-6M800 142.5h4m0 -3v6m-4 0v-6M783 212.7h4m0 -3v6m-4 0v-6M842.1 89.3h4m0 -3v6m-4 0v-6M844.5 98.1h4m0 -3v6m-4 0v-6M841.1 114.1h6m0 -3v6m-6 0v-6M844.6 122.4h6m0 -3v6m-6 0v-6M838.7 130.7h6m0 -3v6m-6 0v-6M856.5 146h6m0 -3v6m-6 0v-6M911 117h12m0 -3v6m-12 0v-6M904 136.6h8m0 -3v6m-8 0v-6M863.7 166.6h8m0 -3v6m-8 0v-6M891 172.5h8m0 -3v6m-8 0v-6M890.2 199.7h8m0 -3v6m-8 0v-6M872.2 229.3h10m0 -3v6m-10 0v-6M921 173.7h32m0 -3v6m-32 0v-6M931.4 212.7h10m0 -3v6m-10 0v-6M975.7 202.5h16m0 -3v6m-16 0v-6M972.1 211h16m0 -3v6m-16 0v-6M982.8 212h16m0 -3v6m-16 0v-6M973 221h12m0 -3v6m-12 0v-6M1034.3 194.5h25m0 -3v6m-25 0v-6M1043.3 208h18m0 -3v6m-18 0v-6M1038.4 219.3h16m0 -3v6m-16 0v-6M1015.9 228h16m0 -3v6m-16 0v-6M1029.8 167.3h35.4m0 -3v6m-35.4 0v-6M1112.7 244.5h12m0 -3v6m-12 0v-6M821.7 275.8h6m0 -3v6m-6 0v-6M847.5 281.7h6m0 -3v6m-6 0v-6M847.7 282.1h26m0 -3v6m-26 0v-6M837.5 309.3h6m0 -3v6m-6 0v-6M889.8 249.7h8m0 -3v6m-8 0v-6M891 255.6h8m0 -3v6m-8 0v-6M887.4 263.5h8m0 -3v6m-8 0v-6M892.6 262.7h8m0 -3v6m-8 0v-6M887.4 271.5h8m0 -3v6m-8 0v-6M897 279.3h10m0 -3v6m-10 0v-6M903.7 268h10m0 -3v6m-10 0v-6M930 310h8m0 -3v6m-8 0v-6M950.1 295.9h8m0 -3v6m-8 0v-6M961.5 295.9h8m0 -3v6m-8 0v-6M994 287.6h10m0 -3v6m-10 0v-6M1066.2 287.6h10m0 -3v6m-10 0v-6M1114.4 283.2h10m0 -3v6m-10 0v-6M1120.7 283.2h10m0 -3v6m-10 0v-6" stroke="#000" stroke-width=".75" fill="none"/>
<path d="M1053 279.7L1070.3 279.7L1077.8 272.8L1083.4 268.9L1082.9 263.8L1077.1 257.3L1065.2 249.3L1053 239.1L1045.5 228.9L1038.7 227.5L1033.3 230.6L1017.2 242.3L1016.3 261.8L1017.9 273.3L1030.3 277.8ZM799.8 141L799.3 154.1L799.9 200L799.9 247L801.1 249.5L801.3 261.7L803.2 279.1L806.5 289.7L808.5 290.5L811.7 282.1L812.7 261.4L814 258.9L816.2 257.8L819.2 257.9L821.5 259.5L823.8 267.7L824.9 260.6L826.7 258.4L828.6 257.7L834.4 257.7L837 258.9L838.3 261.5L840.2 279.1L842.5 286.3L847.9 280.2L854.5 279.1L856.8 269.2L860.4 248.4L861.4 247L862.8 246L867 245.7L867 171.4L867.3 169.8L868.9 167.8L871.2 167.1L874 168L875.4 170.1L876.2 195.8L880.1 198.7L885.4 195.4L888.3 195.2L888.9 192.8L895.8 180.6L899 155.8L900.4 153.7L902.7 152.8L904.4 153L905.9 153.8L906.9 155.1L907.4 157.1L907.5 249.4L909.9 258.1L914.8 264.6L922.7 268.7L930.8 277L931.3 278.7L932.7 301L934.2 304.3L938.1 297.1L943.3 284.9L947.5 277.5L949.7 275.9L959.9 274.7L972.5 275.8L991.1 278.8L996.9 281.9L999.7 275.2L999.2 224.3L997.9 215.6L995.5 211.9L992.9 211.5L990.5 212.9L987.4 220.6L977.9 229.2L976.1 230.2L959.8 231.3L940.4 230.3L937.8 228.9L937 227.5L935.4 221.5L928.3 207.5L919.4 194.1L909.9 161.1L905.9 139.5L899 127.5L896.9 115.5L884.1 93.6L882.2 92.9L881.1 94L880.2 102.8L878 114.6L876.8 126.3L875.3 160.1L874.7 161.6L873.3 163.1L870.5 163.7L868.9 163.2L867.7 162.2L862 151.6L860.7 146.9L856.3 147.1L856.2 154.8L854.8 157.3L853.3 158.1L851.6 158.3L849.7 157.6L848.5 156.5L847.7 154.1L846.9 127.2L841.9 130.5L840.3 140.6L837.9 167.8L836.3 169.6L834.4 170.3L828.4 170.3L825.8 169.1L824.9 167.7L824.6 166.1L823.2 126.6L820.9 117.3L816.5 106.7L814.9 106.9L812.8 111.1L811.7 126.2L811.6 160.5L810.9 162.4L808.9 164L804.8 164.1L803.3 163.3L802.1 161.7L801.7 154.3ZM891.3 199L891.3 245.7L893 246.8L894.7 245.7L894.7 199.6ZM786.8 114.5L781.2 140.7L779.8 154.2L780.3 179.8L782.3 204.4L784.5 214.7L786.2 214.7L787.8 210.9L788.9 199.8L789.2 153.9L790.2 114L789.7 104.1L788.4 101.4Z" fill="#000" fill-rule="evenodd"/>
<path d="M910.4 176.2h0M878 120.7h0M1060.6 247.5h0M937.1 231.9h0M847.8 280.3h0M856.7 266.9h0M881.7 97.9h0M789.2 179.5h0M890.6 203.4h0M783.1 188.7h0M801.8 254.3h0M815.7 108.6h0M1016.7 247.5h0M804.7 284.6h0M1049.2 231.6h0M786.7 108.4h0M890.7 207.4h0M926.7 207.5h0M802 190h0M867.7 225.7h0M886.9 194.2h0M865.6 229h0M841 145.4h0M910.1 259.4h0M802 157.3h0M818.7 116.4h0M969.3 276.7h0M909.5 177.2h0M790 133.5h0M967.2 233.5h0M874.3 160.1h0M824.7 155.9h0M967.2 230.8h0M811.1 260.6h0M934.5 300.1h0M780.2 178.7h0M909.2 190.5h0M908 149.4h0M933.3 285.1h0M1081.3 265.7h0M878.2 108.6h0M787.6 197.8h0M851.3 277.6h0M804 259.4h0M790.3 164.1h0M814.8 113.6h0M999 277.2h0M813.5 268.5h0M881 110.7h0M846.7 149.2h0M811 141.3h0M810.3 156.1h0M860.6 148.7h0M926.6 273.1h0M838.1 161.2h0M876.7 181.5h0M787.1 146.3h0M904.5 142.3h0M788.4 151h0M957.1 230.6h0M942.7 230.8h0M836.6 172.2h0M813.6 154.7h0M788.3 115.4h0M893.8 218h0M996 280.2h0M856.3 256.3h0M947.6 275.1h0M926.2 204.3h0M940.3 231.6h0M798.9 145.2h0M999.5 238h0M909 223.5h0M806.6 284.5h0M928.7 210.1h0M897 176.5h0M784.4 198.7h0M861.3 148.4h0M814.6 158.2h0M907.5 180.4h0M855 155.6h0M801.5 199.4h0M848.6 156.4h0M907.7 205.6h0M1024 237.4h0M782.9 206.5h0M895.1 182.2h0M786.6 209h0M906.9 177.8h0M823.9 257.6h0M895.8 225.3h0M800.5 202.1h0M855.8 148.4h0M788.1 120.8h0M1074.6 256.3h0M894.8 199.4h0M907.1 210h0M942.2 282.9h0M1070.6 253.4h0M940.1 233.2h0M1056.3 240.3h0M956.4 230.4h0M837.8 257.5h0M1018.2 268.5h0M866.3 180.2h0M860 258.9h0M1033.5 233.1h0M893.2 230.8h0M823.4 169.9h0M839.2 153.3h0M788.6 174.9h0M998.1 228.6h0M893 206.8h0M782.5 150.3h0M865.7 170.3h0M1073.9 274.5h0M889.2 188h0M1017.9 246h0M851.2 277.4h0M1015.8 267.9h0M782.9 153.7h0M874.8 164.7h0M936.6 295.7h0M807.7 163.3h0M998.9 215.8h0M813.1 110h0M810.8 275h0M907.4 180.1h0M887.3 192.6h0M842.2 145.9h0M931.4 217h0M905.5 138.3h0M807.4 290.9h0M999.2 256h0M933.5 299.7h0M815.9 106.8h0M889.9 104.2h0M786.8 188.4h0M783.8 185.7h0M786.1 195.6h0M865.4 206.4h0M1069.5 277.8h0M786.2 129.3h0M941.3 286.9h0M958 231.8h0M910.1 190.2h0M1024.1 238.9h0M895.3 209.2h0M782.2 199.8h0M877.9 188.6h0M1068.7 279.5h0M1018.1 272.9h0M992.6 211.1h0M782.3 139.7h0M784.9 128.9h0M961.2 275.1h0M879.3 104.5h0M801.1 153.6h0M852.7 280.7h0M785.5 208.3h0M827.1 258.6h0M1000.2 245.4h0M789.3 109.4h0M799.1 171.1h0M888.7 104.4h0M781.8 157.7h0M812.1 268.6h0M913.7 260.3h0M883.1 193.4h0M932.7 277.9h0M1019.6 252.1h0M916 191.9h0M882 97h0M901.4 135.5h0M974.9 232.3h0M805 278h0M922.3 196.9h0M881 108.5h0M961.8 274.3h0M840.4 168.3h0M879.2 98.1h0M814.1 138.5h0M857.6 249.2h0M821.4 119.1h0M967.2 230.5h0M857.9 145.9h0M848.5 158.3h0M867.1 178.3h0M917 265.3h0M801.6 146.6h0M1039.1 228.9h0M912.3 167.5h0M799.1 221.5h0M841.7 286.1h0M823.1 258.8h0M876.3 148h0M878.8 127.4h0M1000 277.1h0M855.2 148.5h0M809.8 277.1h0M922.4 203.9h0M890.3 221.4h0M1024.8 276.6h0M811.3 135.4h0M787.5 154.7h0M840 141.8h0M895.1 171.6h0M859.5 244.6h0M877.5 150.4h0M800.6 143.3h0M999.5 247.5h0M999.3 234.9h0M1082.8 262.8h0M890.4 219h0M865.2 222.9h0M801.1 158.8h0M840.5 149h0M782 138.6h0M1020.9 271.9h0M802.8 162.7h0M848.7 153.7h0M874.4 175.9h0M1028.3 277.5h0M810.3 155.7h0M906.8 210.2h0M978.9 231.8h0M987.5 219.9h0M839.5 148.5h0M841.8 284.4h0M865.5 192.2h0M788.2 115.6h0M881.5 96.3h0M919.9 192.1h0M1078.9 263.8h0M802.1 157.2h0M998.4 280.2h0M1083 270.1h0M887.1 102.3h0M900.8 134.5h0M1081.3 271.6h0M798.5 147.9h0M807.1 164.6h0M996.2 277h0M879.8 95.5h0M1016.9 242.1h0M817.2 108.5h0M916.7 192.8h0M802.6 253.9h0M840.6 135.7h0M898.8 155.4h0M922.5 199.1h0M894.5 233.8h0M974 233.1h0M999.8 234.8h0M929.3 213.8h0M908 241.8h0M908.5 167.5h0M895.5 225.9h0M879.7 112.3h0M786.1 180.7h0M895 242.2h0M894.5 173.1h0M896.6 129.3h0M881.5 93.5h0M798.5 156.8h0M876.7 148.6h0M877.7 124.4h0M838.6 161h0M897.3 175.6h0M876 190.7h0M1019.6 242.2h0M948.6 278.4h0M1019.9 245h0M841.1 143.2h0M997.8 227.2h0M910.7 171.2h0M892.3 246.6h0M811 265h0M909.7 231.3h0M906.5 177.6h0M935.8 225.6h0M812.1 279.7h0M876.5 172.9h0M846.4 150.7h0M906.4 239.4h0M1019.8 269.1h0M779.1 151.5h0M809.8 260.8h0M781.6 156.8h0M845.2 281.2h0M781 164.1h0M1083.9 264.9h0M809.9 272.5h0M923 267.2h0M862.8 155.3h0M789.5 124.9h0M1081 272.1h0M1078.7 268.6h0M937.2 295.8h0M802.2 229.9h0M906.2 166.1h0M789.1 144.2h0M787.5 132.6h0M891.2 207.1h0M936.5 299.4h0M865.4 179.2h0M945.9 233.1h0M881.8 104.7h0M1029.3 234.8h0M878.1 152.4h0M936.7 231.4h0M945.2 280.2h0M840.3 163.3h0M963.9 272.3h0M921 268.5h0M787.8 186.4h0M877.3 191.3h0M866.9 164.8h0M879.2 136.1h0M934.2 293.6h0M868.1 216.9h0M801 169h0M911.1 165.5h0M908 237.3h0M921.3 199.1h0M800 189.3h0M808.5 288.7h0M933.4 278h0M997.3 275h0M782.2 167.5h0M781.2 172.6h0M788.2 152h0M899.6 151.4h0M799.3 245.6h0M802.2 237.7h0M881.4 101.2h0M798.9 208.2h0M800.4 157.4h0M867.8 194.6h0M802.1 152.1h0M890.1 235.5h0M890.6 102.2h0M925.9 270.9h0M824.7 152.3h0M804.5 164.5h0M881.2 196.1h0M845.8 282.6h0M822.5 118.2h0M784.8 205.3h0M1058.4 280.4h0M788.8 127.8h0M891.6 225.8h0M842.2 276.7h0M1025.7 274.7h0M824.1 136.7h0M788.5 128h0M798.1 152.2h0M981.7 224.2h0M910.3 201.7h0M907.7 154.9h0M866.8 189.7h0M877.8 134.3h0M838.5 264.6h0M1017.2 264.4h0M865.5 196.3h0M896.2 229.4h0M924.5 267.3h0M790.2 157.5h0M790.2 173.8h0M907.4 198.6h0M998.7 268.1h0M788 195.9h0M801.9 173h0M908.7 219.5h0M1019.1 254.7h0M921 264.9h0M858.5 252.6h0M909.6 193.5h0M878.9 183.3h0M881.1 95.6h0M937.8 297.4h0M996.8 245h0M908.3 197.3h0M874.7 170.3h0M853.7 159.4h0M931.9 274.2h0M962.9 275.9h0M821.8 149.1h0M1022.6 272.5h0M1069 253.3h0M799.5 188.2h0M787.5 204h0M1047.4 229.9h0M955.1 274.9h0M865.9 189.7h0M923.9 200.7h0M866.2 202.4h0M866.8 229.1h0M867.1 202.5h0M914.9 181.5h0M997.7 262.5h0M801.4 205.2h0M786.6 151.1h0M1050.9 237.6h0M865.5 201.2h0M908.5 193.1h0M934.9 297.9h0M810.2 148.9h0M784.3 211.3h0M787.1 128.4h0M1049.1 232h0M908.4 210h0M865.4 230.9h0M908.1 191.7h0M965.9 274.9h0M861 147.3h0M859.7 251.5h0M996.9 229.5h0M927 207.4h0M813.9 131.4h0M1044.1 280h0M868.4 205.4h0M865.1 159.3h0M894.3 109.1h0M839.9 141.7h0M927.4 207.9h0M1076.9 274.4h0M994.4 279.5h0M1077.6 258.3h0M878 118.3h0M996.8 262.6h0M897.6 163.7h0M862.2 246.6h0M811.1 259.3h0M1033.6 230.2h0M890 186.7h0M878.6 108.7h0M936.7 299.5h0M857.5 153.9h0M788.2 204.7h0M915.4 189.5h0M798.8 137.6h0M880 195.9h0M907.1 237h0M1072.4 277.4h0M788.7 145.5h0M798.6 160.8h0M840.9 144.6h0M997.9 265h0M999.4 245.3h0M790.3 129.2h0M909.5 226.3h0M979.1 278.1h0M786.4 160.6h0M854.4 268h0M879.8 116.3h0M876.4 167.9h0M887.2 196.2h0M856.1 275.6h0M997.2 281.4h0M848.3 150h0M884 97.2h0M894.4 212.5h0M785 120.3h0M871 166.9h0M801.2 166.2h0M940 232.4h0M790.1 195.5h0M830.3 169.7h0M800 179h0M803.4 276h0M780.5 201.5h0M790.1 195.7h0M997.1 274h0M837.4 168.9h0M847.8 131.1h0M1000.4 241.6h0M780.5 158h0M1028.2 278.6h0M856 148.5h0M942.6 281.8h0M865.3 212.7h0M801.9 188h0M788.3 159.9h0M936.2 223.3h0M840.5 152.7h0M799.3 227.5h0M895.3 199.5h0M860.9 148.3h0M868 247.2h0M802.8 206.9h0M788.5 187.4h0M813.2 159.5h0M961 272.4h0M1000.3 234.9h0M1071.2 253.1h0M990.2 216.6h0M781.2 177.4h0M898.1 154.1h0M1043.4 280.3h0M883.3 95.8h0M934.9 299.9h0M892.2 185h0M875.4 150.3h0M915.5 187h0M838.7 262.8h0M878.1 119.4h0M855.9 275.8h0M822.2 264.4h0M802.6 222.8h0M968 231.2h0M802.4 215.8h0M1036.4 230.1h0M883.2 102h0M979.5 226.1h0M927.5 207.5h0M813.6 123.6h0M929 208.3h0M930.9 287.6h0M925.1 207.1h0M980.7 277.4h0M801.1 267.2h0M894.1 185.7h0M800.7 179.8h0M820.9 141.1h0M984.6 223.1h0M876.3 152.8h0M824.9 136.9h0M933.3 297.1h0M781.6 195.1h0M876.4 142.1h0M1034.4 228.4h0M780.6 162h0M797.9 162.8h0M786.9 152.6h0M877.1 120.1h0M868 201.1h0M800 142.3h0M810.6 277.2h0M960.7 275.4h0M779.7 146.2h0M1022.8 276.1h0M799 142h0M780.8 153.2h0M930.7 209.1h0M907.1 175.6h0M824.7 259.2h0M894.9 201.1h0M1076.2 256.3h0M927 273.1h0M858.2 150.9h0M1017.9 267.6h0M907.7 231.2h0M822.6 130.9h0M997.5 251.7h0M907.1 240.4h0M786.5 189.3h0M907.7 180.9h0M999 277.6h0M907 138.7h0M932.5 281.2h0M861.1 245.9h0M787 192.3h0M909.3 211.1h0M983.3 274.7h0M927.6 271.5h0M800.8 178.3h0M1065 280.2h0M877 176.3h0M892.4 188.1h0M859.5 149h0M844.2 285.9h0M788.9 116.4h0M878.6 103.2h0M892.7 205.1h0M1061.9 250.3h0M788.6 100.7h0M1037.5 276h0M999.5 258.7h0M877 196.1h0M798.5 219.9h0M874.7 193.9h0M813.4 146.6h0M971.9 232.7h0M882.2 194.3h0M938.4 295.1h0M822.4 125.5h0M812.6 264.6h0M888.5 194.4h0M1083 264.4h0M786.9 204.1h0M1067.2 278h0M1071.1 277h0M799.2 179.5h0M847.1 145.6h0M789.7 166h0M1019.5 268.9h0M875 137.9h0M787.7 182.9h0M1083.5 267.9h0M864.4 157.3h0M868.4 230.5h0M998.5 241.5h0M927.8 209.4h0M1016.4 263.2h0M997.8 215h0M906.3 247.3h0M882.6 100.1h0M864.9 203.1h0M822.9 123.5h0M1060 276.9h0M798.6 231.9h0M799.7 179.6h0M1033.8 228.7h0M1016.5 271.3h0M812 153.7h0M998.9 256.4h0M790.5 143.8h0M802.1 196.8h0M909.6 189.3h0M812.8 110.4h0M800.4 231.2h0M780.7 182.1h0M803 160.8h0M922.9 197.2h0M813 139.3h0M1029.5 277.1h0M866.4 195.8h0M997.7 259.7h0M1078.5 262.4h0M802.3 202.6h0M908 209.7h0M1016.6 269.8h0M783.5 128.5h0M930 276.4h0M780.9 166.9h0M919.7 193.6h0M1042.6 229h0M813.8 267.5h0M907.5 234.3h0M829.5 170h0M823.3 261.1h0M822.5 258.5h0M784.8 211h0M911 174.5h0M790.3 166.4h0M778.9 152h0M781.9 167.1h0M858.5 262.6h0M854.1 156h0M809.4 163.2h0M847.2 137.9h0M818 116.4h0M883.6 97.7h0M907.8 144.4h0M790.4 165.4h0M878.6 115.8h0M847.6 143.7h0M781.9 155.9h0M911.5 261.7h0M923.1 266.6h0M786.3 166.3h0M891.9 108h0M894.6 211.2h0M779.5 164.7h0M907.7 200.2h0M1075.2 273.5h0M821.3 149.5h0M969.5 274h0M1071.7 279.2h0M787.1 139h0M824.4 129.5h0M801.1 213.6h0M839.4 257.4h0M931 286.2h0M802.6 246.1h0M798.4 216.8h0M866.7 196.8h0M844.8 142.1h0M786.8 140.2h0M855.1 269.8h0M855.2 279.4h0M789.8 192.3h0M864.9 154.2h0M825.4 153.9h0M865.6 239.2h0M997.4 242.5h0M823.7 268.6h0M887.1 192.5h0M1017.7 265.1h0M840.2 133.5h0M801.9 276.5h0M812 265.9h0M896.4 167.2h0M901.8 153.6h0M864.4 236.4h0M873.1 161.8h0M841.1 279.4h0M799.4 137.8h0M843.6 286.4h0M1084.4 266.7h0M893.7 235.6h0M878.9 102.4h0M907.2 250.7h0M827.6 255.8h0M1016.5 257.1h0M857.8 247.5h0M959.4 230.1h0M996.6 240.3h0M825.1 159h0M790 153.1h0M783.3 181.4h0M838.8 140.8h0M915.2 265.4h0M1017.4 263.4h0M866.4 203h0M838.4 257.7h0M1072.2 252.4h0M802.4 248.2h0M941.3 286h0M857.1 158.6h0M994.1 213.3h0M1057.6 245.5h0M1015.9 262.5h0M1056.5 243.9h0M933.3 303.6h0M987.1 219.9h0M1073.5 273.8h0M788.5 155.3h0M787.4 175.7h0M1023.3 275.8h0M790.6 121.6h0M865.7 227.7h0M1041.6 230.6h0M1056 277.6h0M859.9 153.3h0M781.6 195.4h0M798.5 169.2h0M893.2 198h0M891.3 218.6h0M812.1 133.6h0M936.1 220.5h0M822.1 122.2h0M851.3 277.2h0M1084.2 267.9h0M868.1 190.9h0M1025.6 235.3h0M1059.2 278.7h0M910.1 163.5h0M907.9 188.9h0M965.1 230h0M781 170.7h0M1052.1 279.8h0M918.4 191.6h0M783.7 187.1h0M865.7 158.6h0M1018.7 241.2h0M801.5 224h0M780.3 150h0M814.4 161h0M987.7 277.3h0M934.2 217.4h0M813.8 129.9h0M780.2 176.7h0M802.7 228.6h0M787.8 105.6h0M904.4 147.7h0M861.7 243.7h0M878.1 178.9h0M895.2 183h0M1068.3 254.2h0M890.8 199.6h0M920.9 195.4h0M877.3 194.7h0M789 99.4h0M848.7 150.9h0M893.6 227.4h0M800.1 170.8h0M784.4 121.1h0M918.1 266h0M915.6 177.6h0M907.6 219.7h0M800.8 229.5h0M806.4 286.2h0M914.8 188.2h0M875.8 167.5h0M876.9 163.2h0M912.8 262h0M893.1 109.4h0M902.3 132.5h0M880.4 117.1h0M996.6 282.3h0M1020.9 273.1h0M894.9 114.9h0M938.5 289.3h0M935.5 227.2h0M811.6 161.2h0M997 228.1h0M890.8 237.8h0M895.5 245.1h0M799.1 161.8h0M784.4 211h0M1071.1 256.5h0M844.8 279.2h0M846.6 139.3h0M907.7 222.6h0M866.1 169h0M866 192.1h0M845.2 149.9h0M998.7 269.5h0M800 255.8h0M856.1 278.4h0M906.2 194.7h0M846.2 129.7h0M809.5 163.5h0M1053.8 277.6h0M977.1 231h0M821.3 144.8h0M836.3 258.7h0M908.8 169.9h0M877 123.8h0M990.4 277.3h0M1048.9 232.9h0M1046.5 276.1h0M996 278.1h0M977.7 277.6h0M787.7 166.5h0M847 137.9h0M823.8 264.6h0M909.9 168.2h0M790 146.8h0M876.4 195h0M862 157.6h0M799.7 158h0M915.7 266.3h0M802.4 228h0M931.3 293.2h0M997.9 215.2h0M800 189.8h0M816.2 105.8h0M782.3 151.8h0M788 193.3h0M909.9 206.6h0M917.8 191.2h0M821.4 132.3h0M893 209.5h0M977.7 229.5h0M1064 280.9h0M924.5 270.1h0M908.6 222.1h0M1048.6 278.4h0M787 114.5h0M959 274.8h0M801.2 158.7h0M843.6 287.2h0M816.5 109.2h0M909.9 230.1h0M800.3 138h0M907.3 146.6h0M878 191.9h0M842.4 140.9h0M847.8 143.8h0M944 282.9h0M882.5 195.9h0M876.1 190.1h0M902.8 138.1h0M933 301.3h0M877.8 143.8h0M867.7 176.1h0M1049.5 279.6h0M786.8 187.8h0M802.8 235.5h0M906.7 198.5h0M825.5 259.4h0M880.2 102.9h0M890.3 188.1h0M804.7 163.2h0M1024.6 274h0M862.2 156.5h0M1068.9 255.3h0M788.1 173.9h0M790.5 142h0M908.7 189.5h0M780.1 186.9h0M913 178h0M807.3 289h0M781.7 133.8h0M927.6 208.1h0M867.3 186.9h0M990.4 219.1h0M966.1 273.6h0M878.3 152.7h0M788.1 186.2h0M1077 271h0M895.8 229.7h0M1035.1 229.9h0M856.9 256h0M1016.3 242.3h0M935.4 220.1h0M823 158.9h0M867.5 241.5h0M865 188.1h0M782.2 201.8h0M891.9 230.6h0M841.3 148.8h0M847.6 158.4h0M894.1 182.1h0M811.2 268.3h0M788.3 206.8h0M913.3 259.4h0M840.8 285.2h0M845.3 130.3h0M814.6 117.9h0M892.9 110.9h0M895.2 163.7h0M963.2 274.3h0M861.2 152h0M893.6 208.2h0M839.5 267h0M805.2 282.7h0M1019.2 269.4h0M1064.4 279.5h0M856.3 261.6h0M789.3 170.8h0M877.9 177.6h0M843.1 131.4h0M934.8 304.1h0M876 145.5h0M877.2 154.4h0M864.7 170h0M788.2 192.8h0M842.6 128.9h0M804.6 271.2h0M937.4 301.2h0M877.3 148.9h0M999.8 235.4h0M802.3 155.8h0M800.7 236.2h0M878.5 191.6h0M848.9 159.5h0M998.7 237.2h0M810.8 145.9h0M784.7 213.6h0M1064.3 250.8h0M1043 230.5h0M907.2 209.2h0M847.6 278h0M787.2 181.2h0M825.4 262.4h0M877.2 151.1h0M789.2 156.4h0M868 160.5h0M891.3 109h0M790.6 108h0M901 152.4h0M937.9 295.7h0M947.1 279.7h0M875.9 195.2h0M934 305.8h0M1000.1 257.7h0M800.2 254.1h0M950.1 232.3h0M805.5 164.8h0M800.2 152.1h0M892.6 111.2h0M833 257.6h0M865 230.1h0M846 156.8h0M841.9 137h0M786.5 171.5h0M856.3 149.5h0M787.5 212h0M909 199.7h0M779.9 182.6h0M907.5 175.3h0M1075.5 275.8h0M1000.1 253.4h0M1076.3 258.2h0M893.9 109.4h0M787.1 212.1h0M876.8 129.8h0M850.2 280h0M894.8 227h0M912.2 168.3h0M787.5 184.7h0M906.7 173.3h0M905.4 146.8h0M782.9 135.9h0M906.3 154.3h0M932.4 301h0M877.7 196.5h0M799.4 192.7h0M800.7 239.3h0M908 189.3h0M814.6 110.1h0M987.3 277h0M782.8 150h0M868.1 184.5h0M844.6 137.6h0M784.2 210.6h0M909.2 223h0M1000.4 247.3h0M875.2 183h0M825 270.3h0M1019 244.7h0M937.1 296h0M891.7 203h0M822 163.3h0M841.2 134.5h0M875.1 150.2h0M839.2 268.4h0M789.4 146.1h0M905.9 144.1h0M864.4 216h0M996.1 280.1h0M864.4 211h0M896.3 115.8h0M895.6 243.8h0M947.3 279.1h0M932.2 296.3h0M790.1 114.5h0M821.5 129.7h0M790.4 102.2h0M906.7 244.2h0M800.9 196h0M1055.1 240.9h0M998.9 229.4h0M1018.9 254.6h0M893.5 183h0M959.8 274.6h0M877.1 192h0M802.2 227.4h0M908.7 154h0M930.4 285.5h0M997.5 239.7h0M991.7 216.1h0M819.3 119h0M807 166.1h0M996.6 280.6h0M893.6 220.3h0M1045.8 232.6h0M918.1 185.2h0M869.7 162.4h0M782.6 155.3h0M844.8 147.1h0M909.6 197h0M789.9 114.3h0M896.4 126.8h0M906.5 240.7h0M782.5 171.1h0M789.9 153.9h0M802.8 192.7h0M864.4 206.5h0M821.9 119.4h0M980.7 229.6h0M789.2 205h0M781.9 163.5h0M1049.8 239.1h0M874.4 174h0M1019 275.2h0M967 231.8h0M1017.6 258.8h0M798.9 221.8h0M1001 259.6h0M781.1 150.2h0M888.1 190.3h0M1019.2 266.1h0M799.7 162.6h0M837.4 168.4h0M860 257.4h0M992.4 279h0M867.3 174.8h0M1052.5 280.9h0M1016.7 268.2h0M786 127.5h0M840.9 263.5h0M876.1 183h0M779.3 175.9h0M885.2 94.3h0M931.9 213.5h0M895.3 166.1h0M813.7 137.8h0M1053.2 239.3h0M790.1 107.6h0M789 179.2h0M781.4 135.2h0M853.2 275.4h0M996.6 261.9h0M787.7 111.5h0M855.7 269.1h0M998.1 226.3h0M803.1 266.4h0M812.5 122.2h0M842.6 143.1h0M985.3 276.5h0M1018.9 266.4h0M837.1 262.7h0M932.5 276.5h0M1046.3 278h0M1015.6 263.2h0M864.8 186.1h0M799.7 174.1h0M798.5 194.8h0M906.6 157.2h0M934.8 295.7h0M782.1 143.4h0M790.4 136.7h0M853.6 270.8h0M922.3 266.4h0M978.9 274.6h0M824.7 258.6h0M908.9 193.8h0M1051.3 278.3h0M1054.9 280.8h0M905.5 144.7h0M867 178.9h0M820.6 258.3h0M997.7 242.9h0M864.2 190.3h0M799.7 164.5h0M1046 227.7h0M784 136.5h0M894.4 241.7h0M801.7 258.9h0M787 179.5h0M946.3 276h0M911.9 256.1h0M842.2 277h0M787.3 102.3h0M896 225.1h0M891.6 240.1h0M865.4 178.9h0M868.4 245.5h0M893 217.2h0M909.2 228.7h0M902.4 150h0M786.5 155.6h0M859.9 256.4h0M908.3 207.5h0M930.4 276.2h0M788.8 142.4h0M927.2 275.1h0M839.5 260.9h0M837.6 162.7h0M874.5 155.8h0M861.7 149.3h0M787.1 144.2h0M867.1 208.5h0M1019.2 256.9h0M1047.9 232.2h0M814.7 152.4h0M799.8 191.9h0M787.9 194.5h0M780.1 187.8h0M884.9 196h0M840.5 141.5h0M1039.6 228.8h0M906.4 158.9h0M862.4 148.1h0M823.1 141.8h0M934.3 289h0M866.5 220.4h0M909.9 158.5h0M846.3 154.7h0M824.1 154.1h0M865.8 188.6h0M781.8 194.6h0M1053.7 241.3h0M896.2 229.1h0M888.2 103.2h0M894.4 178.8h0M845.7 281.2h0M846.9 143.7h0M812.8 147.6h0M799.7 182.5h0M895.3 112.9h0M1056.2 280.6h0M931.7 298.3h0M817 254.8h0M790.2 182.4h0M875.3 161.6h0M857.9 147.6h0M801.4 165.8h0M1030.4 236.2h0M936.8 298.2h0M820.5 132.2h0M801.9 184.8h0M811.2 287.3h0M890.7 213.7h0M847.3 156.9h0M859.7 258.1h0M908.3 224.2h0M1070.3 253.9h0M997.6 253.6h0M946.6 276.5h0M875 162h0M799.4 133.7h0M786.7 150.1h0M782.6 154.4h0M845.4 281.3h0M866.3 207.4h0M811.1 133.1h0M909.4 176.9h0M893.1 226.2h0M825 158.1h0M882.1 106.9h0M910 213.1h0M864.2 243.1h0M908.5 245.8h0M808.6 286h0M790.9 105.4h0M786.7 179.1h0M908.3 230.5h0M799.8 228.3h0M787 162.1h0M1078.3 256.6h0M931.4 295.8h0M997.7 264.7h0M802.8 211.9h0M909.7 229.2h0M908.1 203.9h0M969.7 273h0M805.8 164.2h0M911.5 163.3h0M853.1 158.2h0M787.3 137.2h0M799.9 135.7h0M789.2 130.2h0M1063.6 249.2h0M866.7 232.3h0M857.3 270.7h0M788.9 107.2h0M811.9 277.6h0M821.2 117.2h0M787.9 156.5h0M882.4 100.4h0M812.8 152.1h0M907.8 193.6h0M996.6 235.1h0M779.1 169.1h0M865.2 207.7h0M801.4 169.6h0M887.5 194.2h0M939.1 231.6h0M908.9 162h0M864.5 233h0M855.8 274.5h0M997 225.4h0M986.4 277.5h0M811.3 131.6h0M875.5 144.5h0M909.9 260h0M1036.9 277.2h0M1019.6 251.5h0M790.4 124.9h0M880.1 197.2h0M909.1 214.5h0M992.7 280.2h0M864.5 241.4h0M889.6 105h0M906.9 201.5h0M879.7 123.2h0M1049.3 236.3h0M799.1 202.8h0M813.9 135.2h0M875.6 147h0M989.8 279.4h0M872.2 165.3h0M942.8 229.4h0M801.5 205h0M800.7 143h0M908.9 212.2h0M874.5 149.3h0M857.2 251.8h0M815.2 110.8h0M887.9 102.5h0M799.8 184.3h0M788.9 138.1h0M812.6 278.9h0M924.9 206.6h0M998.6 279h0M816.7 113.7h0M865.8 196.5h0M864.7 227.6h0M907.2 228.8h0M879.6 118.3h0M1024.1 237.8h0M811.3 140.7h0M889.1 189.8h0M1064.2 248h0M963.7 231.5h0M876 151.7h0M873.9 163.7h0M976.1 274.5h0M980 275.9h0M837 255.5h0M895.8 211.1h0M894 181.8h0M781.7 199.8h0M881.4 95.7h0M842.3 282.6h0M782.1 181.9h0M880.3 97.1h0M867.6 189.2h0M896.3 156.2h0M800.5 225.2h0M906 205.2h0M821.9 167.7h0M804.5 288.1h0M870.5 166.7h0M895.6 200.2h0M931.4 218.5h0M880.1 199.3h0M783.8 190.2h0M782.1 181.8h0M880.2 94.2h0M897.2 180.8h0M866.2 160.2h0M949.8 229.8h0M943.7 285.9h0M898.2 165.1h0M894.6 112.4h0M878.9 188.8h0M956.5 233.6h0M865.1 196.9h0M813.7 258.4h0M1026.2 234.2h0M952.1 231.5h0M823.6 160.1h0M913.1 264.2h0M816.3 255.4h0M894.4 214h0M779.3 180.2h0M848.4 133.6h0M879.5 108.2h0M838.3 266.8h0M865.5 202h0M876.5 172.7h0M933.2 289.3h0M875.2 148.7h0M927.3 270.5h0M789.9 119.1h0M882.4 93.9h0M906.7 196.6h0M877.6 176.9h0M980.7 230h0M878.6 198.4h0M798.6 174.7h0M844.4 284.6h0M824.4 169.7h0M844.3 132.9h0M1031.4 232.1h0M787.2 155.6h0M824.9 153.3h0M932 276.7h0M801.1 225.7h0M891.3 227.1h0M942.3 289.5h0M820.7 260.8h0M800.6 254.2h0M802.6 156.6h0M840.2 283.5h0M909.4 200h0M787.3 106.2h0M890.5 231.3h0M892.1 199.8h0M937 296.8h0M857.3 150.5h0M955.9 272.7h0M1000.3 273.9h0M1078.7 273h0M781.3 136.3h0M892.1 215.8h0M1072.7 279.1h0M811.3 163.5h0M864.9 232.9h0M903.9 150.9h0M878.2 125.8h0M804.2 257.4h0M1058.1 244.3h0M803.2 274.7h0M875.5 175.9h0M780.6 189.9h0M941.8 291.7h0M906.4 226.7h0M933 292.6h0M789.5 177h0M964.2 276.3h0M801.9 241.6h0M823.1 262.5h0M822.4 124.5h0M989.2 279.9h0M846.5 147.8h0M908.5 169.4h0M837.1 257.9h0M999 261.2h0M875.3 136.9h0M990.5 275.7h0M787.1 180.3h0M840.3 259.3h0M994.5 213.8h0M782.3 138.4h0M845.8 132.5h0M854.7 273.6h0M847.8 125.4h0M909.8 202.6h0M812.6 259.2h0M802.5 163.7h0M1024 272.9h0M1017.1 247h0M839.5 267.7h0M946.3 231.7h0M821.8 141.5h0M872.2 165.5h0M790.2 186.6h0M864.4 245.2h0M784.9 126.9h0M799.9 262.3h0M1075.5 255.8h0M856.3 260.3h0M910 156.9h0M789.7 175.6h0M799 156.9h0M958.1 271.9h0M979.6 277h0M998.3 281.5h0M864.2 157h0M782.1 199.6h0M845 142.2h0M785.2 206.8h0M930.6 289.7h0M910.7 257.8h0M932.1 217.2h0M923.7 201.2h0M1070.9 255.2h0M996.3 280.7h0M798.9 217.5h0M783.6 142.2h0M842.2 150.8h0M822.2 122.2h0M893.4 241h0M909.8 211h0M865.7 245.6h0M922.6 198h0M915 187.7h0M997.4 280h0M865.4 213.7h0M799.5 146.6h0M891.4 191.1h0M968.6 229.6h0M806.2 167.2h0M786.3 175.3h0M800.5 143h0M942.4 230.8h0M889.9 227.8h0M1016.7 260.5h0M946 278.9h0M929.6 210.3h0M932.7 218.4h0M895.3 182.3h0M911.1 260.8h0M813.4 130.6h0M996.5 250.6h0M1040.8 278.4h0M893 240.9h0M930.7 292.6h0M864.4 194.2h0M923.5 200.2h0M837.4 262.8h0M786.5 114.9h0M928.4 205h0M1065.2 250.9h0M857.1 255.8h0M881.5 91.8h0M907 195.8h0M822.1 142h0M813.8 146.4h0M900.1 156.2h0M1000.1 265.5h0M1022 275.3h0M1055.2 240.4h0M847.7 158.2h0M964.7 229.9h0M800.2 220.4h0M908.5 235.5h0M854.7 264.2h0M788.8 209.2h0M898.9 119.2h0M875.3 152.8h0M924.9 268.2h0M858.9 154.2h0M908.1 252.2h0M895.9 231.8h0M1017.5 265.2h0M879.6 107.3h0M789 159.2h0M803.7 271.6h0M934.9 294.7h0M811.7 163.4h0M788.2 144.5h0M997.8 255.9h0M874.8 172h0M906.7 196.4h0M798.9 242.9h0M1045.2 278.2h0M864.3 172.1h0M906.1 197h0M876.8 159.6h0M815 117.9h0M932.2 277.6h0M803 279.1h0M852.7 159.9h0M790.1 169.8h0M1071 277.2h0M805.4 167.1h0M879.2 135.8h0M1047.1 232.3h0M801.1 216h0M820.9 118.6h0M861.5 246.6h0M803.4 260.1h0M826 162.8h0M806.9 283.8h0M814.7 120h0M904.8 141.8h0M790.3 106.2h0M894.9 242.3h0M876.6 176.3h0M958.1 275.3h0M900.1 134.5h0M782.6 152.5h0M782.5 132.2h0M810.7 145.2h0M890.7 187.6h0M789.8 149.9h0M933.4 215.6h0M894.3 213.2h0M1016.8 258.7h0M841.6 267h0M922.5 267.9h0M785.4 206.4h0M910.3 193.9h0M854.9 273.2h0M920.6 195.6h0M873.3 168.4h0M781.7 176.7h0M933.4 280.6h0M864.2 233.5h0M844.7 150.3h0M1030.6 275.9h0M926.9 207.4h0M801.1 240.2h0M787 207.4h0M778.7 158.8h0M877.6 129.2h0M996.5 281.4h0M880.6 112.4h0M896.5 117.7h0M803.6 273.5h0M866.4 241.3h0M781.6 185h0M1063.7 277.1h0M800.6 224.3h0M825.5 147.2h0M840.2 134.8h0M909.7 226.1h0M821.2 132.3h0M891.6 222.4h0M940.7 290.1h0M987 277.7h0M868 207.1h0M779.5 177.1h0M908.7 194.4h0M803.8 265.4h0M813.4 148.1h0M885.5 95.2h0M786.4 187.6h0M811.3 127h0M832.3 169.5h0M936.6 296.8h0M867.9 190.3h0M824.7 265.4h0M899.9 126.5h0M876.6 154.5h0M850.6 156.5h0M810.4 266.6h0M907.5 142.9h0M811.6 146.6h0M808.1 289.5h0M1016 247h0M1053.6 281.2h0M859.5 254.9h0M878.8 115.1h0M999 240.3h0M1061.4 245.2h0M810.8 267.3h0M799 159.3h0M790.9 124.6h0M798.7 187.8h0M867.8 179.5h0M814.4 122h0M812.8 136.3h0M908.9 190.6h0M814 117.2h0M869.5 195.4h0M872.5 248.4h0M883.5 192h0M872.9 232.9h0M875.8 213.4h0M884.8 189.2h0M873.7 239.3h0M870.7 210.3h0M873.8 234.1h0M870.6 228.4h0M870.6 237.3h0M878.3 240.1h0M872.9 238.6h0M868.4 207.8h0M882.9 231.5h0M878 228.2h0M875.7 227.3h0M868.2 247.5h0M881.6 243.8h0M875.7 243.7h0M874.7 178.1h0M959.3 216.4h0M936.5 206.9h0M955.6 216.9h0M938.3 218.7h0M952.3 211.8h0M941.7 208h0M1058.4 233.9h0M1051.2 232.8h0M1056.5 222.7h0M1036 224.4h0M1031.5 220.6h0M1044.1 234.8h0M1050.1 211.1h0M1035.5 220.3h0M1044.5 218.5h0M1045.3 213.6h0M1040.7 224.4h0M1119 253h0M1120 257h0M1122 261h0M1124 264h0M1126 267h0M1128 270h0M1124 257h0M1126 261h0M1128 264h0M1130 262h0M1121 265h0M1125 270h0M1122 254h0M789 68h0M788 83.4h0M788.5 90h0M798.7 129.5h0M802 142.5h0M785 212.7h0M789 237.5h0M817.6 92.9h0M846.2 79.8h0M844.1 89.3h0M846.5 98.1h0M844.1 114.1h0M847.6 122.4h0M841.7 130.7h0M845 106h0M859.5 146h0M917 117h0M908 136.6h0M867.7 166.6h0M895 172.5h0M894.2 199.7h0M877.2 229.3h0M937 173.7h0M936.4 212.7h0M983.7 202.5h0M980.1 211h0M990.8 212h0M979 221h0M1046.8 194.5h0M1052.3 208h0M1046.4 219.3h0M1023.9 228h0M1047.5 167.3h0M1118.7 244.5h0M807.4 303.7h0M809.8 320.7h0M824.7 275.8h0M841.7 291.1h0M850.5 281.7h0M860.7 282.1h0M840.5 309.3h0M893.8 249.7h0M895 255.6h0M891.4 263.5h0M896.6 262.7h0M891.4 271.5h0M902 279.3h0M908.7 268h0M916.2 272.9h0M924.5 272.2h0M934 310h0M954.1 295.9h0M965.5 295.9h0M999 287.6h0M1052.8 287.6h0M1071.2 287.6h0M1119.4 283.2h0M1125.7 283.2h0" stroke="#000" stroke-width="7.6" stroke-linecap="round" fill="none"/>
<path d="M746.3 190.9L1162.2 288.5" stroke="#e6001e" stroke-width="2.8" fill="none"/>
<rect x="733.50" y="14.90" width="458.10" height="327.00" fill="none" stroke="#000" stroke-width="1.4"/>
<path d="M733.50 341.90v-8M733.50 14.90v8M825.12 341.90v-8M825.12 14.90v8M916.74 341.90v-8M916.74 14.90v8M1008.36 341.90v-8M1008.36 14.90v8M1099.98 341.90v-8M1099.98 14.90v8M1191.60 341.90v-8M1191.60 14.90v8M779.31 341.90v-4.5M779.31 14.90v4.5M870.93 341.90v-4.5M870.93 14.90v4.5M962.55 341.90v-4.5M962.55 14.90v4.5M1054.17 341.90v-4.5M1054.17 14.90v4.5M1145.79 341.90v-4.5M1145.79 14.90v4.5M733.50 341.90h8M1191.60 338.20h-8M733.50 309.20h4.5M1191.60 305.94h-4.5M733.50 276.50h8M1191.60 273.68h-8M733.50 243.80h4.5M1191.60 241.42h-4.5M733.50 211.10h8M1191.60 209.16h-8M733.50 178.40h4.5M1191.60 176.90h-4.5M733.50 145.70h8M1191.60 144.64h-8M733.50 113.00h4.5M1191.60 112.38h-4.5M733.50 80.30h8M1191.60 80.12h-8M733.50 47.60h4.5M1191.60 47.86h-4.5M733.50 14.90h8M1191.60 15.60h-8" stroke="#000" stroke-width="1.3" fill="none"/>
<text x="733.50" y="371.40" font-size="28" text-anchor="middle">0</text>
<text x="825.12" y="371.40" font-size="28" text-anchor="middle">4</text>
<text x="916.74" y="371.40" font-size="28" text-anchor="middle">8</text>
<text x="1008.36" y="371.40" font-size="28" text-anchor="middle">12</text>
<text x="1099.98" y="371.40" font-size="28" text-anchor="middle">16</text>
<text x="1191.60" y="371.40" font-size="28" text-anchor="middle">20</text>
<text x="726.00" y="350.71" font-size="27.5" text-anchor="end">0.4</text>
<text x="726.00" y="283.81" font-size="27.5" text-anchor="end">0.6</text>
<text x="726.00" y="218.41" font-size="27.5" text-anchor="end">0.8</text>
<text x="726.00" y="153.01" font-size="27.5" text-anchor="end">1.0</text>
<text x="726.00" y="87.61" font-size="27.5" text-anchor="end">1.2</text>
<text x="726.00" y="22.21" font-size="27.5" text-anchor="end">1.4</text>
<path d="M1404.6 190.2L1817.7 288.5" stroke="#e6001e" stroke-width="2.8" fill="none"/>
<path d="M1548.9 208.6v22.5m-3.5 0h7m0 -22.5h-7M1563.3 166.6v22.4m-3.5 0h7m0 -22.4h-7M1524.2 156.6v10.2m-3.5 0h7m0 -10.2h-7M1518.8 139v15m-3.5 0h7m0 -15h-7M1532 149.4v27.6m-3.5 0h7m0 -27.6h-7M1490.4 152.7v34.5m-3.5 0h7m0 -34.5h-7M1567.8 150.1v38.7m-3.5 0h7m0 -38.7h-7M1565.7 147.2v71.6m-3.5 0h7m0 -71.6h-7M1532.1 120.6v36.7m-3.5 0h7m0 -36.7h-7M1437.9 153.1v15.1m-3.5 0h7m0 -15.1h-7M1479 145.1v30.4m-3.5 0h7m0 -30.4h-7M1557.6 122v14.9m-3.5 0h7m0 -14.9h-7M1448.8 98.8v12.1m-3.5 0h7m0 -12.1h-7M1549.2 191.1v22.2m-3.5 0h7m0 -22.2h-7M1469.4 119v10.5m-3.5 0h7m0 -10.5h-7M1512.2 130.5v27.6m-3.5 0h7m0 -27.6h-7M1447 82.2v37.7m-3.5 0h7m0 -37.7h-7M1562.6 120.8v31.5m-3.5 0h7m0 -31.5h-7M1693.8 195.2v69.8m-3.5 0h7m0 -69.8h-7M1457.8 155.3v35.5m-3.5 0h7m0 -35.5h-7M1624 207.4v40.8m-3.5 0h7m0 -40.8h-7M1469.7 253v33.3m-3.5 0h7m0 -33.3h-7M1594.7 215.6v22.1m-3.5 0h7m0 -22.1h-7M1523 160.8v52.5m-3.5 0h7m0 -52.5h-7M1446.5 120.8v13m-3.5 0h7m0 -13h-7M1563.7 135.3v18.6m-3.5 0h7m0 -18.6h-7M1574.9 241.8v39.8m-3.5 0h7m0 -39.8h-7M1549.3 170.2v55.4m-3.5 0h7m0 -55.4h-7M1457 139.6v11.5m-3.5 0h7m0 -11.5h-7M1552.7 101v18.4m-3.5 0h7m0 -18.4h-7M1730.5 262.7v14.3m-3.5 0h7m0 -14.3h-7M1581.9 169.5v66.9m-3.5 0h7m0 -66.9h-7M1457 164.1v34.7m-3.5 0h7m0 -34.7h-7M1549.7 214.9v27.7m-3.5 0h7m0 -27.7h-7M1500.6 120.8v16m-3.5 0h7m0 -16h-7M1554.8 120v12.2m-3.5 0h7m0 -12.2h-7M1738.1 254.3v31.8m-3.5 0h7m0 -31.8h-7M1590.2 264.7v55.4m-3.5 0h7m0 -55.4h-7M1436.4 137.6v22.8m-3.5 0h7m0 -22.8h-7M1535.7 127.6v17m-3.5 0h7m0 -17h-7M1487.2 147.9v38.8m-3.5 0h7m0 -38.8h-7M1497.8 154.8v12.7m-3.5 0h7m0 -12.7h-7M1502.9 129.3v16.8m-3.5 0h7m0 -16.8h-7M1478 237.3v42.4m-3.5 0h7m0 -42.4h-7M1480.2 121.2v26.4m-3.5 0h7m0 -26.4h-7M1468.4 276.5v13.7m-3.5 0h7m0 -13.7h-7M1470.6 149.6v13.5m-3.5 0h7m0 -13.5h-7M1552.7 186.9v25.3m-3.5 0h7m0 -25.3h-7M1680.4 267.1v16.5m-3.5 0h7m0 -16.5h-7M1586 257.1v24.6m-3.5 0h7m0 -24.6h-7M1497.7 137v14.1m-3.5 0h7m0 -14.1h-7M1533.3 136.9v31.5m-3.5 0h7m0 -31.5h-7M1551.5 201.5v15.7m-3.5 0h7m0 -15.7h-7M1650.9 198v23.4m-3.5 0h7m0 -23.4h-7M1443.2 99.9v16m-3.5 0h7m0 -16h-7M1470.6 130v18.9m-3.5 0h7m0 -18.9h-7M1489.8 156.1v27.9m-3.5 0h7m0 -27.9h-7M1461 255.1v19m-3.5 0h7m0 -19h-7M1537.6 96.2v25.3m-3.5 0h7m0 -25.3h-7M1530.7 138.8v40.6m-3.5 0h7m0 -40.6h-7M1731.4 246.1v15.8m-3.5 0h7m0 -15.8h-7M1570.3 159.2v21.1m-3.5 0h7m0 -21.1h-7M1495.5 254v18.2m-3.5 0h7m0 -18.2h-7M1567 165.6v34.2m-3.5 0h7m0 -34.2h-7M1445.4 132.4v23.4m-3.5 0h7m0 -23.4h-7M1516.4 248.7v17.8m-3.5 0h7m0 -17.8h-7M1559.5 101.1v54m-3.5 0h7m0 -54h-7M1589.2 294.3v13.6m-3.5 0h7m0 -13.6h-7M1457.9 218.9v13.8m-3.5 0h7m0 -13.8h-7M1593.3 196.7v59.8m-3.5 0h7m0 -59.8h-7M1580.2 185.4v23m-3.5 0h7m0 -23h-7M1570.1 158v20.4m-3.5 0h7m0 -20.4h-7M1564.4 189.7v35.3m-3.5 0h7m0 -35.3h-7M1515.1 133.9v29.3m-3.5 0h7m0 -29.3h-7M1510.5 147.8v11.9m-3.5 0h7m0 -11.9h-7M1440.6 131.9v19.3m-3.5 0h7m0 -19.3h-7M1441.6 185.7v18m-3.5 0h7m0 -18h-7M1655 230.7v26.2m-3.5 0h7m0 -26.2h-7M1548.6 187.2v18.5m-3.5 0h7m0 -18.5h-7M1513.6 245.7v28m-3.5 0h7m0 -28h-7M1447 128.6v38.2m-3.5 0h7m0 -38.2h-7M1467.4 234.2v48.1m-3.5 0h7m0 -48.1h-7M1437.4 148v30.1m-3.5 0h7m0 -30.1h-7M1439.3 168.8v18.8m-3.5 0h7m0 -18.8h-7M1567.2 166.7v28.7m-3.5 0h7m0 -28.7h-7M1445.2 96.6v17.1m-3.5 0h7m0 -17.1h-7M1534.5 178.2v23.5m-3.5 0h7m0 -23.5h-7M1553.3 141.4v30.9m-3.5 0h7m0 -30.9h-7M1523.7 174.4v29.9m-3.5 0h7m0 -29.9h-7M1479.5 104.2v18.8m-3.5 0h7m0 -18.8h-7M1601.2 274.3v15.1m-3.5 0h7m0 -15.1h-7M1537.2 82.8v37.1m-3.5 0h7m0 -37.1h-7M1525.6 161.7v26.2m-3.5 0h7m0 -26.2h-7M1563.7 212.6v17.3m-3.5 0h7m0 -17.3h-7M1492.1 243.9v25.3m-3.5 0h7m0 -25.3h-7M1533.8 142.5v14.4m-3.5 0h7m0 -14.4h-7M1705.4 217.2v21.9m-3.5 0h7m0 -21.9h-7M1536.7 110.9v15m-3.5 0h7m0 -15h-7M1503.1 135.9v13.2m-3.5 0h7m0 -13.2h-7M1455.8 160.6v14.1m-3.5 0h7m0 -14.1h-7M1441.6 180.4v40.1m-3.5 0h7m0 -40.1h-7M1571.3 159.4v27.6m-3.5 0h7m0 -27.6h-7M1540.4 80.2v15.2m-3.5 0h7m0 -15.2h-7M1442 201.4v11.2m-3.5 0h7m0 -11.2h-7M1583.7 199v13.9m-3.5 0h7m0 -13.9h-7M1441.2 107v45.8m-3.5 0h7m0 -45.8h-7M1477.3 247.6v16.9m-3.5 0h7m0 -16.9h-7M1468.1 274.3v21.8m-3.5 0h7m0 -21.8h-7M1461.7 258.6v33.5m-3.5 0h7m0 -33.5h-7M1496.3 111.8v51.3m-3.5 0h7m0 -51.3h-7M1706.6 220.8v24.2m-3.5 0h7m0 -24.2h-7M1548.3 205v12.3m-3.5 0h7m0 -12.3h-7M1456.9 221.2v19.5m-3.5 0h7m0 -19.5h-7M1591.5 278.7v32.5m-3.5 0h7m0 -32.5h-7M1565.2 160v35.7m-3.5 0h7m0 -35.7h-7M1565 222.4v14.9m-3.5 0h7m0 -14.9h-7M1722 237.6v14.7m-3.5 0h7m0 -14.7h-7M1469.5 127v61.2m-3.5 0h7m0 -61.2h-7M1516.1 243.9v21.4m-3.5 0h7m0 -21.4h-7M1512.9 266.9v12.6m-3.5 0h7m0 -12.6h-7M1683.1 265.8v21.8m-3.5 0h7m0 -21.8h-7M1459.7 166v34.6m-3.5 0h7m0 -34.6h-7M1532.2 145.9v19.3m-3.5 0h7m0 -19.3h-7M1684.8 206.2v47.6m-3.5 0h7m0 -47.6h-7M1495 135.6v34.2m-3.5 0h7m0 -34.2h-7M1532.7 105.6v40.9m-3.5 0h7m0 -40.9h-7M1469.1 248.3v23m-3.5 0h7m0 -23h-7M1564.9 165.1v31.5m-3.5 0h7m0 -31.5h-7M1535.8 138.9v21.8m-3.5 0h7m0 -21.8h-7M1591.7 279.9v31.2m-3.5 0h7m0 -31.2h-7M1514.5 139.6v18.4m-3.5 0h7m0 -18.4h-7M1484.3 241.3v25.6m-3.5 0h7m0 -25.6h-7M1551.2 151.4v44.2m-3.5 0h7m0 -44.2h-7M1588.7 258v65.6m-3.5 0h7m0 -65.6h-7M1605.6 264.7v19.6m-3.5 0h7m0 -19.6h-7M1558.9 121.5v16.1m-3.5 0h7m0 -16.1h-7M1588.8 272.9v21.1m-3.5 0h7m0 -21.1h-7M1458 151.7v14.7m-3.5 0h7m0 -14.7h-7M1552.5 153v17.2m-3.5 0h7m0 -17.2h-7M1552.2 163.5v12.8m-3.5 0h7m0 -12.8h-7M1469 152.7v15.2m-3.5 0h7m0 -15.2h-7M1655.8 206.8v59.7m-3.5 0h7m0 -59.7h-7M1456.7 229v17.1m-3.5 0h7m0 -17.1h-7M1480 112v19m-3.5 0h7m0 -19h-7M1496.6 253.1v20.7m-3.5 0h7m0 -20.7h-7M1445.5 163.6v28.7m-3.5 0h7m0 -28.7h-7M1470.5 240.4v36.7m-3.5 0h7m0 -36.7h-7M1536.3 90.8v11.2m-3.5 0h7m0 -11.2h-7M1459.7 191.4v14.8m-3.5 0h7m0 -14.8h-7M1676 258.3v26.9m-3.5 0h7m0 -26.9h-7M1536.6 106.9v9.5m-3.5 0h7m0 -9.5h-7M1574.3 173.5v39.3m-3.5 0h7m0 -39.3h-7M1457.5 163.5v20.9m-3.5 0h7m0 -20.9h-7M1455.9 195v13.5m-3.5 0h7m0 -13.5h-7M1455.6 169.3v15.4m-3.5 0h7m0 -15.4h-7M1499 128.9v15.3m-3.5 0h7m0 -15.3h-7M1655.4 222.2v62.9m-3.5 0h7m0 -62.9h-7M1678.2 207.6v55.6m-3.5 0h7m0 -55.6h-7M1596.7 218.2v21.3m-3.5 0h7m0 -21.3h-7M1448.1 140.6v28.1m-3.5 0h7m0 -28.1h-7M1548.9 174.6v14.4m-3.5 0h7m0 -14.4h-7M1482 133.1v11m-3.5 0h7m0 -11h-7M1548.6 172.1v29.3m-3.5 0h7m0 -29.3h-7M1478.2 101v25.2m-3.5 0h7m0 -25.2h-7M1675.7 248.4v29m-3.5 0h7m0 -29h-7M1478.9 120.4v22.4m-3.5 0h7m0 -22.4h-7M1605.8 217.6v22m-3.5 0h7m0 -22h-7M1551 228.2v19.2m-3.5 0h7m0 -19.2h-7M1445.3 99.6v40.9m-3.5 0h7m0 -40.9h-7M1535.3 171.1v17.9m-3.5 0h7m0 -17.9h-7M1481.2 151.8v27.3m-3.5 0h7m0 -27.3h-7M1446 77v53.8m-3.5 0h7m0 -53.8h-7M1587.8 251.9v62.3m-3.5 0h7m0 -62.3h-7M1459.2 208.9v14.9m-3.5 0h7m0 -14.9h-7M1628.5 214.8v29.6m-3.5 0h7m0 -29.6h-7M1566.7 156v25.3m-3.5 0h7m0 -25.3h-7M1458.9 123.2v52.9m-3.5 0h7m0 -52.9h-7M1441.8 127.2v9.8m-3.5 0h7m0 -9.8h-7M1550.7 87.3v37.6m-3.5 0h7m0 -37.6h-7M1467.5 235.2v50m-3.5 0h7m0 -50h-7M1470.5 138.1v26.1m-3.5 0h7m0 -26.1h-7M1457.3 123.8v30.8m-3.5 0h7m0 -30.8h-7M1605.7 241.5v61.1m-3.5 0h7m0 -61.1h-7M1534.7 101.3v13.6m-3.5 0h7m0 -13.6h-7M1468.9 146.7v16.1m-3.5 0h7m0 -16.1h-7M1722.6 235.6v20.4m-3.5 0h7m0 -20.4h-7M1570.7 156v32.1m-3.5 0h7m0 -32.1h-7M1549.4 189.6v34m-3.5 0h7m0 -34h-7M1461.4 264.5v21m-3.5 0h7m0 -21h-7M1439 164.9v20.7m-3.5 0h7m0 -20.7h-7M1553.2 189.2v41.2m-3.5 0h7m0 -41.2h-7M1546.4 92.1v14.2m-3.5 0h7m0 -14.2h-7M1550.7 202.7v15.8m-3.5 0h7m0 -15.8h-7M1499.4 260.1v30.2m-3.5 0h7m0 -30.2h-7M1533.1 154.6v20.8m-3.5 0h7m0 -20.8h-7M1496.7 254.1v14.5m-3.5 0h7m0 -14.5h-7M1445.3 141.7v37.2m-3.5 0h7m0 -37.2h-7M1503.1 119.6v19.6m-3.5 0h7m0 -19.6h-7M1633.2 215.6v25.3m-3.5 0h7m0 -25.3h-7M1455.5 147.8v11.5m-3.5 0h7m0 -11.5h-7M1586.8 191.4v34.8m-3.5 0h7m0 -34.8h-7M1524.6 198.1v22.4m-3.5 0h7m0 -22.4h-7M1634.4 206.9v37.3m-3.5 0h7m0 -37.3h-7M1563.6 178v46.6m-3.5 0h7m0 -46.6h-7M1656.6 225.7v29.1m-3.5 0h7m0 -29.1h-7M1440.2 144.4v26m-3.5 0h7m0 -26h-7M1442.1 116.5v25.7m-3.5 0h7m0 -25.7h-7M1732.1 230v51.4m-3.5 0h7m0 -51.4h-7M1438.7 121v20.3m-3.5 0h7m0 -20.3h-7M1587.9 273.7v30.5m-3.5 0h7m0 -30.5h-7M1530.5 143v29.2m-3.5 0h7m0 -29.2h-7M1518.1 122.9v50m-3.5 0h7m0 -50h-7M1470.2 253.5v47.9m-3.5 0h7m0 -47.9h-7M1620.5 211.5v30.6m-3.5 0h7m0 -30.6h-7M1529.9 152.1v19m-3.5 0h7m0 -19h-7M1439.3 128.4v20.7m-3.5 0h7m0 -20.7h-7M1456.7 201.7v34.9m-3.5 0h7m0 -34.9h-7M1622.4 214.4v30.7m-3.5 0h7m0 -30.7h-7M1550.9 197.6v24m-3.5 0h7m0 -24h-7M1522.7 145.5v55.8m-3.5 0h7m0 -55.8h-7M1588.9 281.5v30.5m-3.5 0h7m0 -30.5h-7M1459.1 134.5v14.3m-3.5 0h7m0 -14.3h-7M1480.8 153.6v10.1m-3.5 0h7m0 -10.1h-7M1704.2 218.9v19.2m-3.5 0h7m0 -19.2h-7M1482.1 129.5v56.9m-3.5 0h7m0 -56.9h-7M1446.5 168.1v23.2m-3.5 0h7m0 -23.2h-7M1469.4 121.2v26.6m-3.5 0h7m0 -26.6h-7M1739.2 251.1v24.2m-3.5 0h7m0 -24.2h-7M1554.2 131.3v40.7m-3.5 0h7m0 -40.7h-7M1567.4 222.8v27.6m-3.5 0h7m0 -27.6h-7M1566.9 141v30.5m-3.5 0h7m0 -30.5h-7M1589.4 286.4v13.6m-3.5 0h7m0 -13.6h-7M1439.1 145.1v13.6m-3.5 0h7m0 -13.6h-7M1533.2 161.3v58.6m-3.5 0h7m0 -58.6h-7M1535.9 107.8v13.7m-3.5 0h7m0 -13.7h-7M1456.3 147.9v30.7m-3.5 0h7m0 -30.7h-7M1531.2 139.3v31.2m-3.5 0h7m0 -31.2h-7M1443.9 136.1v58.2m-3.5 0h7m0 -58.2h-7M1704 225.2v12.2m-3.5 0h7m0 -12.2h-7M1534.8 117v16.6m-3.5 0h7m0 -16.6h-7M1497.1 133v16.8m-3.5 0h7m0 -16.8h-7M1619.8 220.4v17.3m-3.5 0h7m0 -17.3h-7M1608.6 213.7v29.4m-3.5 0h7m0 -29.4h-7M1504.8 130.1v20.7m-3.5 0h7m0 -20.7h-7M1673.5 212.9v55.1m-3.5 0h7m0 -55.1h-7M1439.6 162.3v27m-3.5 0h7m0 -27h-7M1540.3 78.7v18.9m-3.5 0h7m0 -18.9h-7M1447.6 137.1v11.8m-3.5 0h7m0 -11.8h-7M1600.3 214.6v25.8m-3.5 0h7m0 -25.8h-7M1575.2 244.2v33.9m-3.5 0h7m0 -33.9h-7M1588.6 269v40.1m-3.5 0h7m0 -40.1h-7M1574.9 154.2v62.8m-3.5 0h7m0 -62.8h-7M1591.1 275.6v26.3m-3.5 0h7m0 -26.3h-7M1437.9 129.5v12.4m-3.5 0h7m0 -12.4h-7M1548.9 165.8v32.9m-3.5 0h7m0 -32.9h-7M1512.2 145v19.1m-3.5 0h7m0 -19.1h-7M1459.7 164v37.5m-3.5 0h7m0 -37.5h-7M1499.6 132v16.2m-3.5 0h7m0 -16.2h-7M1593.5 214.3v23m-3.5 0h7m0 -23h-7M1565.1 199v14.2m-3.5 0h7m0 -14.2h-7M1517.9 133.4v22.8m-3.5 0h7m0 -22.8h-7M1463.8 275.5v20.2m-3.5 0h7m0 -20.2h-7M1480.2 242.6v45.4m-3.5 0h7m0 -45.4h-7M1554.3 166.8v14.8m-3.5 0h7m0 -14.8h-7M1671.8 243.9v24.3m-3.5 0h7m0 -24.3h-7M1601.3 270.8v12.5m-3.5 0h7m0 -12.5h-7M1566.1 166v19.4m-3.5 0h7m0 -19.4h-7M1438.8 151.1v30.5m-3.5 0h7m0 -30.5h-7M1437.8 146.8v44.9m-3.5 0h7m0 -44.9h-7M1456 169v49.2m-3.5 0h7m0 -49.2h-7M1458.5 150.8v17.7m-3.5 0h7m0 -17.7h-7M1535.2 136.6v9.8m-3.5 0h7m0 -9.8h-7M1468.3 135.2v13.7m-3.5 0h7m0 -13.7h-7M1445.4 124.9v47.4m-3.5 0h7m0 -47.4h-7M1555 160.2v12.7m-3.5 0h7m0 -12.7h-7M1681.2 263.8v18.6m-3.5 0h7m0 -18.6h-7M1693.8 265v17.3m-3.5 0h7m0 -17.3h-7M1447 127.8v32.5m-3.5 0h7m0 -32.5h-7M1706.5 221.1v19.6m-3.5 0h7m0 -19.6h-7M1503.9 263.1v23.9m-3.5 0h7m0 -23.9h-7M1654.8 211.6v23.3m-3.5 0h7m0 -23.3h-7M1656.5 236.2v31.1m-3.5 0h7m0 -31.1h-7M1439 154.6v18.3m-3.5 0h7m0 -18.3h-7M1552.2 210.3v20.9m-3.5 0h7m0 -20.9h-7M1439.1 144.7v28m-3.5 0h7m0 -28h-7M1447.9 106.2v32.3m-3.5 0h7m0 -32.3h-7M1498.2 254.8v15.2m-3.5 0h7m0 -15.2h-7M1468 138.5v19.2m-3.5 0h7m0 -19.2h-7M1522.7 222.6v11.4m-3.5 0h7m0 -11.4h-7M1547.8 70.5v58.4m-3.5 0h7m0 -58.4h-7M1566.4 166.7v39.8m-3.5 0h7m0 -39.8h-7M1564.5 160.1v21m-3.5 0h7m0 -21h-7M1549.5 220.8v30.6m-3.5 0h7m0 -30.6h-7M1437.8 140v24.3m-3.5 0h7m0 -24.3h-7M1624.9 217.6v21.7m-3.5 0h7m0 -21.7h-7M1594.5 275.4v35.5m-3.5 0h7m0 -35.5h-7M1517.6 128.9v24.9m-3.5 0h7m0 -24.9h-7M1565.3 197.8v12.3m-3.5 0h7m0 -12.3h-7M1555.3 146v11.8m-3.5 0h7m0 -11.8h-7M1469.3 92.3v30m-3.5 0h7m0 -30h-7M1496.1 144.7v11.9m-3.5 0h7m0 -11.9h-7M1548 194.1v36.3m-3.5 0h7m0 -36.3h-7M1547.4 170v32.4m-3.5 0h7m0 -32.4h-7M1513.8 138v27.3m-3.5 0h7m0 -27.3h-7M1647.9 202.3v21.1m-3.5 0h7m0 -21.1h-7M1524.8 157.3v12.6m-3.5 0h7m0 -12.6h-7M1478.9 112.5v26m-3.5 0h7m0 -26h-7M1444.9 111.3v13.6m-3.5 0h7m0 -13.6h-7M1440 188.3v26m-3.5 0h7m0 -26h-7M1633.7 215.9v27.7m-3.5 0h7m0 -27.7h-7M1548.2 225.6v12.6m-3.5 0h7m0 -12.6h-7M1439 173v62.8m-3.5 0h7m0 -62.8h-7M1497.2 131v12.1m-3.5 0h7m0 -12.1h-7M1439.4 192.1v14.1m-3.5 0h7m0 -14.1h-7M1708.7 214.7v35.3m-3.5 0h7m0 -35.3h-7M1678 207.5v65.7m-3.5 0h7m0 -65.7h-7M1457.9 179.7v10.1m-3.5 0h7m0 -10.1h-7M1457.5 210.7v59.4m-3.5 0h7m0 -59.4h-7M1552.6 159.3v31.7m-3.5 0h7m0 -31.7h-7M1657.1 224.1v20.9m-3.5 0h7m0 -20.9h-7M1547.1 215.5v54.7m-3.5 0h7m0 -54.7h-7M1491.5 157.9v24.8m-3.5 0h7m0 -24.8h-7M1436.8 140.7v58.2m-3.5 0h7m0 -58.2h-7M1648.8 246.9v55.1m-3.5 0h7m0 -55.1h-7M1448.3 127.1v18m-3.5 0h7m0 -18h-7M1446.1 119.7v24.9m-3.5 0h7m0 -24.9h-7M1496.1 158.7v12.3m-3.5 0h7m0 -12.3h-7M1533 100.2v39.3m-3.5 0h7m0 -39.3h-7M1640.5 257.2v36.7m-3.5 0h7m0 -36.7h-7M1614.3 221.1v16.4m-3.5 0h7m0 -16.4h-7M1654.7 261.2v23.1m-3.5 0h7m0 -23.1h-7M1440.6 165.4v25.9m-3.5 0h7m0 -25.9h-7M1531.4 151.4v33.6m-3.5 0h7m0 -33.6h-7M1497 156v14.1m-3.5 0h7m0 -14.1h-7M1598.3 202v47.6m-3.5 0h7m0 -47.6h-7M1587.7 269.9v17.8m-3.5 0h7m0 -17.8h-7M1552.9 164.2v15.8m-3.5 0h7m0 -15.8h-7M1496.1 143.9v12.1m-3.5 0h7m0 -12.1h-7M1602.8 260.7v27.2m-3.5 0h7m0 -27.2h-7M1499.1 258v14.1m-3.5 0h7m0 -14.1h-7M1468.3 111.5v25.9m-3.5 0h7m0 -25.9h-7M1482.1 158.9v14.2m-3.5 0h7m0 -14.2h-7M1653.9 191.7v38.6m-3.5 0h7m0 -38.6h-7M1569.8 160.2v23.9m-3.5 0h7m0 -23.9h-7M1480.4 112.8v48.2m-3.5 0h7m0 -48.2h-7M1457.4 128.7v12.6m-3.5 0h7m0 -12.6h-7M1440 198.3v13.9m-3.5 0h7m0 -13.9h-7M1555.8 143.7v11.4m-3.5 0h7m0 -11.4h-7M1459.7 137.9v21.8m-3.5 0h7m0 -21.8h-7M1514.5 251v18.9m-3.5 0h7m0 -18.9h-7M1718.9 214.5v66.9m-3.5 0h7m0 -66.9h-7M1458.6 259.3v17.6m-3.5 0h7m0 -17.6h-7M1446.8 158.1v28m-3.5 0h7m0 -28h-7M1555.7 111.9v18.4m-3.5 0h7m0 -18.4h-7M1594.1 213v17.9m-3.5 0h7m0 -17.9h-7M1497.4 127.3v35.7m-3.5 0h7m0 -35.7h-7M1456.7 236.4v17.3m-3.5 0h7m0 -17.3h-7M1455.9 123v56.1m-3.5 0h7m0 -56.1h-7M1474.1 100.7v18.2m-3.5 0h7m0 -18.2h-7M1455.7 163.6v16.3m-3.5 0h7m0 -16.3h-7M1704.9 271.5v13.9m-3.5 0h7m0 -13.9h-7M1470 98.6v14.3m-3.5 0h7m0 -14.3h-7M1467.6 265.3v15.7m-3.5 0h7m0 -15.7h-7M1545.8 179.5v15.1m-3.5 0h7m0 -15.1h-7M1438.7 198.4v9.9m-3.5 0h7m0 -9.9h-7M1590.3 275.2v15.7m-3.5 0h7m0 -15.7h-7M1587.7 277.7v18.6m-3.5 0h7m0 -18.6h-7M1540 85.5v23.4m-3.5 0h7m0 -23.4h-7M1599.6 265.8v31.8m-3.5 0h7m0 -31.8h-7M1469.5 92v32.7m-3.5 0h7m0 -32.7h-7M1522.1 209.5v18.3m-3.5 0h7m0 -18.3h-7M1460 259.7v32.7m-3.5 0h7m0 -32.7h-7M1550.4 96.6v13.5m-3.5 0h7m0 -13.5h-7M1695.4 214.1v19.9m-3.5 0h7m0 -19.9h-7M1522.3 196.2v34.8m-3.5 0h7m0 -34.8h-7M1438.2 123v35.6m-3.5 0h7m0 -35.6h-7M1591.8 203.9v48.4m-3.5 0h7m0 -48.4h-7M1551.8 200v35.4m-3.5 0h7m0 -35.4h-7M1498.3 149.7v11m-3.5 0h7m0 -11h-7M1565.5 221.9v42.7m-3.5 0h7m0 -42.7h-7M1617.4 215.8v28.4m-3.5 0h7m0 -28.4h-7M1564.8 134.8v48m-3.5 0h7m0 -48h-7M1705.9 264.7v22.3m-3.5 0h7m0 -22.3h-7M1563.4 133.2v25.1m-3.5 0h7m0 -25.1h-7M1519.7 216.5v54.9m-3.5 0h7m0 -54.9h-7M1567.2 235.2v25.4m-3.5 0h7m0 -25.4h-7M1473.7 98v13.1m-3.5 0h7m0 -13.1h-7M1445.9 179.8v29.2m-3.5 0h7m0 -29.2h-7M1468.9 124v37.8m-3.5 0h7m0 -37.8h-7M1538.7 74.5v35m-3.5 0h7m0 -35h-7M1516.7 240v14.4m-3.5 0h7m0 -14.4h-7M1503.3 141v24.5m-3.5 0h7m0 -24.5h-7M1456.7 190v14m-3.5 0h7m0 -14h-7M1591.6 218.2v12.8m-3.5 0h7m0 -12.8h-7M1499.4 264.4v34.6m-3.5 0h7m0 -34.6h-7M1456.5 122.9v18.6m-3.5 0h7m0 -18.6h-7M1460.3 235.1v33.3m-3.5 0h7m0 -33.3h-7M1445.7 89.6v43.4m-3.5 0h7m0 -43.4h-7M1458.6 163.6v21.3m-3.5 0h7m0 -21.3h-7M1533.7 105v13.2m-3.5 0h7m0 -13.2h-7M1726.6 236.8v26.8m-3.5 0h7m0 -26.8h-7M1471.3 108.3v31.2m-3.5 0h7m0 -31.2h-7M1572.8 178.7v14.2m-3.5 0h7m0 -14.2h-7M1468 122.4v49.4m-3.5 0h7m0 -49.4h-7M1695.9 264.9v19.9m-3.5 0h7m0 -19.9h-7M1458.4 196v12.3m-3.5 0h7m0 -12.3h-7M1459.4 125.1v55.5m-3.5 0h7m0 -55.5h-7M1446.7 179.1v12.8m-3.5 0h7m0 -12.8h-7M1460.8 245.8v19.5m-3.5 0h7m0 -19.5h-7M1532.4 152v29.6m-3.5 0h7m0 -29.6h-7M1565.6 196v53.9m-3.5 0h7m0 -53.9h-7M1445.1 150.2v10.1m-3.5 0h7m0 -10.1h-7M1457.2 153.4v17.7m-3.5 0h7m0 -17.7h-7M1570.2 139.1v50.6m-3.5 0h7m0 -50.6h-7M1461.1 269.8v18.7m-3.5 0h7m0 -18.7h-7M1446.5 138.6v25.9m-3.5 0h7m0 -25.9h-7M1589.3 278.4v41.7m-3.5 0h7m0 -41.7h-7M1446.9 95.7v50.6m-3.5 0h7m0 -50.6h-7M1673.4 227.6v40.6m-3.5 0h7m0 -40.6h-7M1724.7 236.7v28.3m-3.5 0h7m0 -28.3h-7M1523.8 151.3v11m-3.5 0h7m0 -11h-7M1656.1 263.1v23.4m-3.5 0h7m0 -23.4h-7M1645.4 195v43.8m-3.5 0h7m0 -43.8h-7M1563.9 137.2v18.5m-3.5 0h7m0 -18.5h-7M1717.3 228.1v39m-3.5 0h7m0 -39h-7M1526.4 156.6v14.2m-3.5 0h7m0 -14.2h-7M1458.2 212.8v18.8m-3.5 0h7m0 -18.8h-7M1565.2 181.1v33.1m-3.5 0h7m0 -33.1h-7M1672.8 249.5v30.8m-3.5 0h7m0 -30.8h-7M1636.5 197v58.5m-3.5 0h7m0 -58.5h-7M1536.7 93.4v14m-3.5 0h7m0 -14h-7M1521.8 189.9v31.1m-3.5 0h7m0 -31.1h-7M1550.3 232.7v16.7m-3.5 0h7m0 -16.7h-7M1446.5 190.6v12.1m-3.5 0h7m0 -12.1h-7M1561.5 118.8v43m-3.5 0h7m0 -43h-7M1513.2 252.6v21.5m-3.5 0h7m0 -21.5h-7M1590 284.9v21.8m-3.5 0h7m0 -21.8h-7M1531 146.3v26.5m-3.5 0h7m0 -26.5h-7M1469.4 144.9v38m-3.5 0h7m0 -38h-7M1719 236.2v23m-3.5 0h7m0 -23h-7M1470.3 112.2v13.7m-3.5 0h7m0 -13.7h-7M1634.1 195.3v58.3m-3.5 0h7m0 -58.3h-7M1457.2 145v26.9m-3.5 0h7m0 -26.9h-7M1447.4 130.2v17.7m-3.5 0h7m0 -17.7h-7M1697.6 265.6v17.8m-3.5 0h7m0 -17.8h-7M1470.1 108.6v12.4m-3.5 0h7m0 -12.4h-7M1650.4 178.8v64.2m-3.5 0h7m0 -64.2h-7M1443.6 98.2v26.7m-3.5 0h7m0 -26.7h-7M1554.9 160.3v16.2m-3.5 0h7m0 -16.2h-7M1564.2 163.9v56.5m-3.5 0h7m0 -56.5h-7M1560 127.7v9.6m-3.5 0h7m0 -9.6h-7M1566.6 221.5v18.8m-3.5 0h7m0 -18.8h-7M1653.7 197.8v30.6m-3.5 0h7m0 -30.6h-7M1630.5 193.5v62.2m-3.5 0h7m0 -62.2h-7M1518.6 240.5v11.1m-3.5 0h7m0 -11.1h-7M1501.4 126.1v12m-3.5 0h7m0 -12h-7M1590.9 211.7v20.1m-3.5 0h7m0 -20.1h-7M1532.1 155.5v15.4m-3.5 0h7m0 -15.4h-7M1564.3 234.7v16.9m-3.5 0h7m0 -16.9h-7M1734.5 249.5v42.6m-3.5 0h7m0 -42.6h-7M1531.9 146.7v19.4m-3.5 0h7m0 -19.4h-7M1464 149.9v29.3m-3.5 0h7m0 -29.3h-7M1448.1 148.6v21m-3.5 0h7m0 -21h-7M1566.2 159.7v25.9m-3.5 0h7m0 -25.9h-7M1536.3 90.8v17.7m-3.5 0h7m0 -17.7h-7M1552.6 189.9v19.3m-3.5 0h7m0 -19.3h-7M1553.5 150.6v32.1m-3.5 0h7m0 -32.1h-7M1715.3 247.7v51.2m-3.5 0h7m0 -51.2h-7M1553.1 111.2v18.1m-3.5 0h7m0 -18.1h-7M1703 206v43.4m-3.5 0h7m0 -43.4h-7M1502.3 121.6v10.7m-3.5 0h7m0 -10.7h-7M1657.3 221.4v36.9m-3.5 0h7m0 -36.9h-7M1494.9 145.3v14.6m-3.5 0h7m0 -14.6h-7M1515.2 233.6v24.2m-3.5 0h7m0 -24.2h-7M1566.9 202.2v14.8m-3.5 0h7m0 -14.8h-7M1689.3 223.1v15.6m-3.5 0h7m0 -15.6h-7M1457.9 170.9v12.2m-3.5 0h7m0 -12.2h-7M1468.4 118.8v18.9m-3.5 0h7m0 -18.9h-7M1522.2 232.4v10.2m-3.5 0h7m0 -10.2h-7M1639.9 198.2v49m-3.5 0h7m0 -49h-7M1595.8 283.6v12.2m-3.5 0h7m0 -12.2h-7M1613.1 197.3v64.4m-3.5 0h7m0 -64.4h-7M1565.2 161v30.1m-3.5 0h7m0 -30.1h-7M1470.2 127.8v38.7m-3.5 0h7m0 -38.7h-7M1444 143.9v10.7m-3.5 0h7m0 -10.7h-7M1565.4 234.1v16m-3.5 0h7m0 -16h-7M1600.4 265.6v27.3m-3.5 0h7m0 -27.3h-7M1622.9 215.9v25.5m-3.5 0h7m0 -25.5h-7M1534.3 117.7v14.6m-3.5 0h7m0 -14.6h-7M1593.4 199.2v54.2m-3.5 0h7m0 -54.2h-7M1685.8 207.2v52.7m-3.5 0h7m0 -52.7h-7M1584 185.9v39.7m-3.5 0h7m0 -39.7h-7M1455.6 166v15.6m-3.5 0h7m0 -15.6h-7M1564 200.9v34.8m-3.5 0h7m0 -34.8h-7M1459.6 140.2v12.8m-3.5 0h7m0 -12.8h-7M1468.7 145.8v19.6m-3.5 0h7m0 -19.6h-7M1655.2 249.2v16.3m-3.5 0h7m0 -16.3h-7M1522 204v9.7m-3.5 0h7m0 -9.7h-7M1438.5 184.3v17.1m-3.5 0h7m0 -17.1h-7M1565.1 133.8v20m-3.5 0h7m0 -20h-7M1531.9 176.9v19.6m-3.5 0h7m0 -19.6h-7M1470.8 139.1v14.3m-3.5 0h7m0 -14.3h-7M1469.1 107.5v13.9m-3.5 0h7m0 -13.9h-7M1708.3 219.8v39.4m-3.5 0h7m0 -39.4h-7M1459.7 261.4v10.7m-3.5 0h7m0 -10.7h-7M1515.3 247.1v15.9m-3.5 0h7m0 -15.9h-7M1524.5 196.1v11.2m-3.5 0h7m0 -11.2h-7M1684.5 228.1v13.9m-3.5 0h7m0 -13.9h-7M1565 192.6v13.7m-3.5 0h7m0 -13.7h-7M1458.2 193.3v19.5m-3.5 0h7m0 -19.5h-7M1457.5 179.5v17.6m-3.5 0h7m0 -17.6h-7M1655.3 234.6v30.6m-3.5 0h7m0 -30.6h-7M1536.4 99.6v35.6m-3.5 0h7m0 -35.6h-7M1652.7 200.3v33.3m-3.5 0h7m0 -33.3h-7M1552.3 110.7v12.1m-3.5 0h7m0 -12.1h-7M1457.8 216.7v14.9m-3.5 0h7m0 -14.9h-7M1556.5 133.5v34.5m-3.5 0h7m0 -34.5h-7M1700.6 260.1v35.2m-3.5 0h7m0 -35.2h-7M1655.5 199v41m-3.5 0h7m0 -41h-7M1464.5 279v20.5m-3.5 0h7m0 -20.5h-7M1563.5 137.2v43.8m-3.5 0h7m0 -43.8h-7M1583.4 183.3v47.2m-3.5 0h7m0 -47.2h-7M1557.3 113.4v31.7m-3.5 0h7m0 -31.7h-7M1521.2 156.9v25.3m-3.5 0h7m0 -25.3h-7M1656.5 248.2v24.6m-3.5 0h7m0 -24.6h-7M1436.7 131.3v22.8m-3.5 0h7m0 -22.8h-7M1657.5 233.9v62.1m-3.5 0h7m0 -62.1h-7M1715.3 267v22.2m-3.5 0h7m0 -22.2h-7M1440.8 119.7v25.7m-3.5 0h7m0 -25.7h-7M1674.8 246.2v22.9m-3.5 0h7m0 -22.9h-7M1514.2 237.1v59.5m-3.5 0h7m0 -59.5h-7M1496.4 149.7v15.5m-3.5 0h7m0 -15.5h-7M1741.2 241.2v42.3m-3.5 0h7m0 -42.3h-7M1531.9 161.7v16.8m-3.5 0h7m0 -16.8h-7M1608.5 211v36.1m-3.5 0h7m0 -36.1h-7M1585.7 197.6v26.5m-3.5 0h7m0 -26.5h-7M1567.2 195.9v21.6m-3.5 0h7m0 -21.6h-7M1512.5 255.1v32.6m-3.5 0h7m0 -32.6h-7M1521.4 151v34.4m-3.5 0h7m0 -34.4h-7M1446.9 167v21.8m-3.5 0h7m0 -21.8h-7M1502.3 124.9v52.4m-3.5 0h7m0 -52.4h-7M1564.8 197.9v24.1m-3.5 0h7m0 -24.1h-7M1447.4 112.3v12.4m-3.5 0h7m0 -12.4h-7M1471 110.8v24.2m-3.5 0h7m0 -24.2h-7M1550.2 172.4v9.9m-3.5 0h7m0 -9.9h-7M1493.8 157.5v17.2m-3.5 0h7m0 -17.2h-7M1480.5 143.1v17.5m-3.5 0h7m0 -17.5h-7M1456.2 175.3v17.9m-3.5 0h7m0 -17.9h-7M1533.7 162.3v20m-3.5 0h7m0 -20h-7M1468 132.7v14.2m-3.5 0h7m0 -14.2h-7M1657.9 256.4v22.8m-3.5 0h7m0 -22.8h-7M1565.1 126.6v58.5m-3.5 0h7m0 -58.5h-7M1439.7 166.8v24m-3.5 0h7m0 -24h-7M1535.8 172v17.3m-3.5 0h7m0 -17.3h-7M1592 186.1v55.4m-3.5 0h7m0 -55.4h-7M1657.9 249.5v33.8m-3.5 0h7m0 -33.8h-7M1459.1 148.9v29.4m-3.5 0h7m0 -29.4h-7M1503.8 130.5v32m-3.5 0h7m0 -32h-7M1522.8 170.1v12.8m-3.5 0h7m0 -12.8h-7M1552.3 226.4v18.2m-3.5 0h7m0 -18.2h-7M1444.2 197.8v17.2m-3.5 0h7m0 -17.2h-7M1729.6 238v28.1m-3.5 0h7m0 -28.1h-7M1680.8 252.4v38m-3.5 0h7m0 -38h-7M1564.6 159.1v29m-3.5 0h7m0 -29h-7M1443.9 111.1v17.1m-3.5 0h7m0 -17.1h-7M1523.2 225.6v10.4m-3.5 0h7m0 -10.4h-7M1457.5 127.3v13.7m-3.5 0h7m0 -13.7h-7M1567.5 191.3v11.1m-3.5 0h7m0 -11.1h-7M1496 130.9v28.3m-3.5 0h7m0 -28.3h-7M1548.5 174.6v11.9m-3.5 0h7m0 -11.9h-7M1482.6 148v11.8m-3.5 0h7m0 -11.8h-7M1537 106.2v25.1m-3.5 0h7m0 -25.1h-7M1445.2 158.5v19.1m-3.5 0h7m0 -19.1h-7M1675.8 245.3v26.3m-3.5 0h7m0 -26.3h-7M1477.4 250.3v11.3m-3.5 0h7m0 -11.3h-7M1468.6 123.6v9.1m-3.5 0h7m0 -9.1h-7M1496 141.7v32.9m-3.5 0h7m0 -32.9h-7M1597.3 279v22.9m-3.5 0h7m0 -22.9h-7M1516.3 230.3v38.3m-3.5 0h7m0 -38.3h-7M1457.5 190.5v44.1m-3.5 0h7m0 -44.1h-7M1656.7 267.6v14.1m-3.5 0h7m0 -14.1h-7M1590 274.8v13.7m-3.5 0h7m0 -13.7h-7M1457.8 158.3v24.7m-3.5 0h7m0 -24.7h-7M1502.7 276.1v12m-3.5 0h7m0 -12h-7M1566.6 203.4v14.6m-3.5 0h7m0 -14.6h-7M1552 222.9v27.8m-3.5 0h7m0 -27.8h-7M1479.1 135.2v17.7m-3.5 0h7m0 -17.7h-7M1495.1 247.6v28.3m-3.5 0h7m0 -28.3h-7M1470 98.1v17.9m-3.5 0h7m0 -17.9h-7M1514.3 254.2v34.2m-3.5 0h7m0 -34.2h-7M1649.1 188.5v37.7m-3.5 0h7m0 -37.7h-7M1438.5 183.5v17.1m-3.5 0h7m0 -17.1h-7M1446.7 179.9v10.5m-3.5 0h7m0 -10.5h-7M1447.3 140v12.2m-3.5 0h7m0 -12.2h-7M1502 137.5v16.2m-3.5 0h7m0 -16.2h-7M1536.2 97.4v10.2m-3.5 0h7m0 -10.2h-7M1600.5 264.9v24.2m-3.5 0h7m0 -24.2h-7M1565 222.1v25.3m-3.5 0h7m0 -25.3h-7M1645.8 186.3v59.1m-3.5 0h7m0 -59.1h-7M1468.4 230.9v59.6m-3.5 0h7m0 -59.6h-7M1445.9 88.4v27.5m-3.5 0h7m0 -27.5h-7M1572.8 163.8v32.9m-3.5 0h7m0 -32.9h-7M1524.3 209.7v12.4m-3.5 0h7m0 -12.4h-7M1481.7 124v29.5m-3.5 0h7m0 -29.5h-7M1700.5 268.7v14.6m-3.5 0h7m0 -14.6h-7M1554.8 146.3v23.3m-3.5 0h7m0 -23.3h-7M1524.9 214v16.7m-3.5 0h7m0 -16.7h-7M1447.8 161.3v24.2m-3.5 0h7m0 -24.2h-7M1535.3 124.8v19.8m-3.5 0h7m0 -19.8h-7M1470.8 96.3v23m-3.5 0h7m0 -23h-7M1567 175.2v40.5m-3.5 0h7m0 -40.5h-7M1675.1 226.4v46.1m-3.5 0h7m0 -46.1h-7M1443.3 111.7v12.7m-3.5 0h7m0 -12.7h-7M1445 154.6v11.4m-3.5 0h7m0 -11.4h-7M1573.1 157.5v41.4m-3.5 0h7m0 -41.4h-7M1543.7 81.4v24.1m-3.5 0h7m0 -24.1h-7M1469.5 138.4v9.6m-3.5 0h7m0 -9.6h-7M1676.6 225.6v37.4m-3.5 0h7m0 -37.4h-7M1695.9 212.1v34.2m-3.5 0h7m0 -34.2h-7M1456.7 240.4v10.5m-3.5 0h7m0 -10.5h-7M1463.6 272.9v21m-3.5 0h7m0 -21h-7M1550 96.3v28.1m-3.5 0h7m0 -28.1h-7M1549.9 85.8v48.9m-3.5 0h7m0 -48.9h-7M1606.9 221v16.5m-3.5 0h7m0 -16.5h-7M1594.8 287.5v11.8m-3.5 0h7m0 -11.8h-7M1494.4 253.7v13.9m-3.5 0h7m0 -13.9h-7M1674.1 240.1v23.4m-3.5 0h7m0 -23.4h-7M1716.3 230.2v24.6m-3.5 0h7m0 -24.6h-7M1469.1 127.3v10.2m-3.5 0h7m0 -10.2h-7M1591.3 274.7v18.7m-3.5 0h7m0 -18.7h-7M1525.7 196.5v19m-3.5 0h7m0 -19h-7M1554.1 114.7v15.6m-3.5 0h7m0 -15.6h-7M1444.6 185.2v24.5m-3.5 0h7m0 -24.5h-7M1478.7 117.6v10m-3.5 0h7m0 -10h-7M1688.7 214.7v35.9m-3.5 0h7m0 -35.9h-7M1557.9 143.6v12.4m-3.5 0h7m0 -12.4h-7M1466.2 272.1v26.9m-3.5 0h7m0 -26.9h-7M1701.4 216.1v24.7m-3.5 0h7m0 -24.7h-7M1456.1 137.8v43.5m-3.5 0h7m0 -43.5h-7M1563.5 146.7v20.9m-3.5 0h7m0 -20.9h-7M1507.8 152v13.1m-3.5 0h7m0 -13.1h-7M1648.4 202.9v26.4m-3.5 0h7m0 -26.4h-7M1629.9 213v29.6m-3.5 0h7m0 -29.6h-7M1557.4 142.7v14.1m-3.5 0h7m0 -14.1h-7M1457 182.1v18.4m-3.5 0h7m0 -18.4h-7M1446.4 140v16.6m-3.5 0h7m0 -16.6h-7M1726.5 239.2v23.6m-3.5 0h7m0 -23.6h-7M1496.5 264v25.7m-3.5 0h7m0 -25.7h-7M1591.1 280.4v33.6m-3.5 0h7m0 -33.6h-7M1472.1 117.7v10.1m-3.5 0h7m0 -10.1h-7M1459.2 190.4v15.6m-3.5 0h7m0 -15.6h-7M1535.9 131.7v12.3m-3.5 0h7m0 -12.3h-7M1698.5 265.1v20.7m-3.5 0h7m0 -20.7h-7M1555.6 140.6v42.8m-3.5 0h7m0 -42.8h-7M1525.3 167.2v22m-3.5 0h7m0 -22h-7M1466.5 275.6v13.6m-3.5 0h7m0 -13.6h-7M1459.3 209.1v14.4m-3.5 0h7m0 -14.4h-7M1604.6 266v19.7m-3.5 0h7m0 -19.7h-7M1650.3 261.6v30.4m-3.5 0h7m0 -30.4h-7M1445 179.7v58.9m-3.5 0h7m0 -58.9h-7M1495.3 154.5v20.9m-3.5 0h7m0 -20.9h-7M1644.7 202.5v26.4m-3.5 0h7m0 -26.4h-7M1512.5 264.3v21.1m-3.5 0h7m0 -21.1h-7M1534 186.2v12.1m-3.5 0h7m0 -12.1h-7M1448.3 99.9v19.9m-3.5 0h7m0 -19.9h-7M1525 147.3v26.7m-3.5 0h7m0 -26.7h-7M1457.7 220.9v15.6m-3.5 0h7m0 -15.6h-7M1676.7 254.7v36.3m-3.5 0h7m0 -36.3h-7M1461.7 267.3v13.8m-3.5 0h7m0 -13.8h-7M1492.1 249.2v14.2m-3.5 0h7m0 -14.2h-7M1503.6 117v40.4m-3.5 0h7m0 -40.4h-7M1563.6 131.7v35.1m-3.5 0h7m0 -35.1h-7M1564.4 177.9v38.7m-3.5 0h7m0 -38.7h-7M1564.3 213v12.7m-3.5 0h7m0 -12.7h-7M1732.5 242.5v20.3m-3.5 0h7m0 -20.3h-7M1532.9 156.5v27.5m-3.5 0h7m0 -27.5h-7M1462.2 259.3v14.9m-3.5 0h7m0 -14.9h-7M1516 142.1v20.7m-3.5 0h7m0 -20.7h-7M1654.6 237.1v42.3m-3.5 0h7m0 -42.3h-7M1445.4 116.6v31.8m-3.5 0h7m0 -31.8h-7M1440.4 166.6v25.6m-3.5 0h7m0 -25.6h-7M1525.5 151.8v15.4m-3.5 0h7m0 -15.4h-7M1445.4 185.7v11.1m-3.5 0h7m0 -11.1h-7M1489.4 161.3v17.5m-3.5 0h7m0 -17.5h-7M1592.8 213.2v14.1m-3.5 0h7m0 -14.1h-7M1480.7 123.9v15.5m-3.5 0h7m0 -15.5h-7M1718.1 211.2v67.5m-3.5 0h7m0 -67.5h-7M1542.9 80.9v30.9m-3.5 0h7m0 -30.9h-7M1710.4 268.7v18.3m-3.5 0h7m0 -18.3h-7M1444.8 132.1v17.8m-3.5 0h7m0 -17.8h-7M1444.6 157.8v12.7m-3.5 0h7m0 -12.7h-7M1467 268.4v24.9m-3.5 0h7m0 -24.9h-7M1576.5 159.4v57.1m-3.5 0h7m0 -57.1h-7M1601.6 261v43.6m-3.5 0h7m0 -43.6h-7M1551.1 224.8v36.2m-3.5 0h7m0 -36.2h-7M1474.9 99.8v19.1m-3.5 0h7m0 -19.1h-7M1495.5 142.2v20.5m-3.5 0h7m0 -20.5h-7M1675.3 244.2v19.3m-3.5 0h7m0 -19.3h-7M1482.5 146.8v12.1m-3.5 0h7m0 -12.1h-7M1460.3 237.2v19.7m-3.5 0h7m0 -19.7h-7M1478.3 112v32.4m-3.5 0h7m0 -32.4h-7M1445.1 88.7v20m-3.5 0h7m0 -20h-7M1470.5 265.9v12.8m-3.5 0h7m0 -12.8h-7M1440 200.1v9.5m-3.5 0h7m0 -9.5h-7M1456.6 153.7v16m-3.5 0h7m0 -16h-7M1672.4 231.9v65.5m-3.5 0h7m0 -65.5h-7M1456.4 222.7v20.9m-3.5 0h7m0 -20.9h-7M1479.3 130.5v33.1m-3.5 0h7m0 -33.1h-7M1591.5 182v60.7m-3.5 0h7m0 -60.7h-7M1648.5 198.1v26.7m-3.5 0h7m0 -26.7h-7M1524.4 180.6v14.2m-3.5 0h7m0 -14.2h-7M1469.6 117.8v29.2m-3.5 0h7m0 -29.2h-7M1547.9 202.7v46.9m-3.5 0h7m0 -46.9h-7M1538.1 83.7v36.2m-3.5 0h7m0 -36.2h-7M1496.4 151.3v12.9m-3.5 0h7m0 -12.9h-7M1443.5 179.2v13.4m-3.5 0h7m0 -13.4h-7M1459 164.2v12.6m-3.5 0h7m0 -12.6h-7M1610.8 212.9v36m-3.5 0h7m0 -36h-7M1566.8 185.2v41m-3.5 0h7m0 -41h-7M1634.1 207.7v36.1m-3.5 0h7m0 -36.1h-7M1558.5 136.2v20.5m-3.5 0h7m0 -20.5h-7M1438.9 135.1v22.7m-3.5 0h7m0 -22.7h-7M1533.1 164.3v33.6m-3.5 0h7m0 -33.6h-7M1609.9 222.4v13.5m-3.5 0h7m0 -13.5h-7M1512.3 261.3v11.4m-3.5 0h7m0 -11.4h-7M1652.2 197.3v20.4m-3.5 0h7m0 -20.4h-7M1604.1 264.8v23.8m-3.5 0h7m0 -23.8h-7M1502.7 119.1v9.3m-3.5 0h7m0 -9.3h-7M1471.1 100.3v20.4m-3.5 0h7m0 -20.4h-7M1579.5 188.8v12.6m-3.5 0h7m0 -12.6h-7M1532.9 167.4v20.8m-3.5 0h7m0 -20.8h-7M1642.9 269.2v15m-3.5 0h7m0 -15h-7M1456.1 144.4v15.3m-3.5 0h7m0 -15.3h-7M1481.3 96.5v47.3m-3.5 0h7m0 -47.3h-7M1565 133v26.7m-3.5 0h7m0 -26.7h-7M1458.8 138v15.9m-3.5 0h7m0 -15.9h-7M1736.8 262.3v15.1m-3.5 0h7m0 -15.1h-7M1456.2 146.6v15.4m-3.5 0h7m0 -15.4h-7M1446.1 91.3v31.1m-3.5 0h7m0 -31.1h-7M1443.3 90.8v35.4m-3.5 0h7m0 -35.4h-7M1566.2 222.1v15.1m-3.5 0h7m0 -15.1h-7M1576.5 168.6v60.3m-3.5 0h7m0 -60.3h-7M1709.5 264.5v26.7m-3.5 0h7m0 -26.7h-7M1524.8 152.5v23.3m-3.5 0h7m0 -23.3h-7M1445.7 103.8v50.4m-3.5 0h7m0 -50.4h-7M1652.8 249.9v50.6m-3.5 0h7m0 -50.6h-7M1468.7 270.6v19.3m-3.5 0h7m0 -19.3h-7M1552.4 193.6v33.4m-3.5 0h7m0 -33.4h-7M1457.1 129.7v17.7m-3.5 0h7m0 -17.7h-7M1575 157.6v53.8m-3.5 0h7m0 -53.8h-7M1566.1 139.6v13.9m-3.5 0h7m0 -13.9h-7M1650.6 194.8v32.2m-3.5 0h7m0 -32.2h-7M1546.4 181.6v12m-3.5 0h7m0 -12h-7M1563.6 199.5v29.6m-3.5 0h7m0 -29.6h-7M1442.2 196.5v10m-3.5 0h7m0 -10h-7M1515.3 141.7v13.7m-3.5 0h7m0 -13.7h-7M1468.1 138.1v10.9m-3.5 0h7m0 -10.9h-7M1459.8 141.8v13.4m-3.5 0h7m0 -13.4h-7M1512.9 253.8v16.3m-3.5 0h7m0 -16.3h-7M1563.9 146.5v27.5m-3.5 0h7m0 -27.5h-7M1446.9 90.9v21.6m-3.5 0h7m0 -21.6h-7M1525.3 214.5v16.6m-3.5 0h7m0 -16.6h-7M1532.2 115.6v47.9m-3.5 0h7m0 -47.9h-7M1563.3 140.1v17.5m-3.5 0h7m0 -17.5h-7M1543.8 84.8v15.8m-3.5 0h7m0 -15.8h-7M1564.7 152.2v55.7m-3.5 0h7m0 -55.7h-7M1554.2 156.8v31.5m-3.5 0h7m0 -31.5h-7M1439 137.9v51.8m-3.5 0h7m0 -51.8h-7M1498.6 137.7v21.3m-3.5 0h7m0 -21.3h-7M1657.6 219v37.5m-3.5 0h7m0 -37.5h-7M1557.7 129.8v49.4m-3.5 0h7m0 -49.4h-7M1438.7 170.2v28.2m-3.5 0h7m0 -28.2h-7M1445.4 142.7v20.3m-3.5 0h7m0 -20.3h-7M1602.5 202.7v44.7m-3.5 0h7m0 -44.7h-7M1553.1 185.2v56.3m-3.5 0h7m0 -56.3h-7M1566.6 242.6v27.9m-3.5 0h7m0 -27.9h-7M1536.6 115v11m-3.5 0h7m0 -11h-7M1620.2 217.1v28.6m-3.5 0h7m0 -28.6h-7M1677.5 226.3v23m-3.5 0h7m0 -23h-7M1504.2 113.7v50.1m-3.5 0h7m0 -50.1h-7M1714.4 222.1v32.9m-3.5 0h7m0 -32.9h-7M1593.2 287.6v14.7m-3.5 0h7m0 -14.7h-7M1676.7 229.5v16.8m-3.5 0h7m0 -16.8h-7M1448 87.5v35.7m-3.5 0h7m0 -35.7h-7M1480.5 125.8v10.9m-3.5 0h7m0 -10.9h-7M1481.6 143v24.9m-3.5 0h7m0 -24.9h-7M1554.1 103.5v15.6m-3.5 0h7m0 -15.6h-7M1461.1 260.9v15m-3.5 0h7m0 -15h-7M1534.9 146.9v11.1m-3.5 0h7m0 -11.1h-7M1547.9 195.1v39.2m-3.5 0h7m0 -39.2h-7M1585.1 253.7v37.3m-3.5 0h7m0 -37.3h-7M1531.9 124.3v39.3m-3.5 0h7m0 -39.3h-7M1566 127.8v65.2m-3.5 0h7m0 -65.2h-7M1498.8 271.5v10.7m-3.5 0h7m0 -10.7h-7M1447.8 146.7v19.8m-3.5 0h7m0 -19.8h-7M1548.2 179.6v30.5m-3.5 0h7m0 -30.5h-7M1562.4 131.9v22.9m-3.5 0h7m0 -22.9h-7M1521.8 159.4v30.2m-3.5 0h7m0 -30.2h-7M1443.6 98.6v29.1m-3.5 0h7m0 -29.1h-7M1443.7 172.9v11m-3.5 0h7m0 -11h-7M1533.7 131.8v29.8m-3.5 0h7m0 -29.8h-7M1570.1 160.5v18.2m-3.5 0h7m0 -18.2h-7M1471.9 140.7v12.7m-3.5 0h7m0 -12.7h-7M1548.7 220.4v15.7m-3.5 0h7m0 -15.7h-7M1470.6 88.4v54m-3.5 0h7m0 -54h-7M1523.9 186.1v52.2m-3.5 0h7m0 -52.2h-7M1676.4 231v41.7m-3.5 0h7m0 -41.7h-7M1458 184.6v13.4m-3.5 0h7m0 -13.4h-7M1550 193.2v20m-3.5 0h7m0 -20h-7M1525.3 155.4v25m-3.5 0h7m0 -25h-7M1525.1 220v36.6m-3.5 0h7m0 -36.6h-7M1498.2 272.3v18.1m-3.5 0h7m0 -18.1h-7M1537.1 104.1v20.2m-3.5 0h7m0 -20.2h-7M1533.1 170.7v31.2m-3.5 0h7m0 -31.2h-7M1566.1 180.3v21.6m-3.5 0h7m0 -21.6h-7M1690 199.9v63.9m-3.5 0h7m0 -63.9h-7M1470.6 257v18.7m-3.5 0h7m0 -18.7h-7M1656.6 230.5v34.3m-3.5 0h7m0 -34.3h-7M1563.7 188.6v40.9m-3.5 0h7m0 -40.9h-7M1570.8 139.3v61.6m-3.5 0h7m0 -61.6h-7M1457.6 246.8v13.3m-3.5 0h7m0 -13.3h-7M1443 176v51.2m-3.5 0h7m0 -51.2h-7M1591.1 201.6v25.9m-3.5 0h7m0 -25.9h-7M1457.4 136.9v18.7m-3.5 0h7m0 -18.7h-7M1736.3 239.2v38.5m-3.5 0h7m0 -38.5h-7M1447.4 183.5v34.2m-3.5 0h7m0 -34.2h-7M1532.5 171v32.8m-3.5 0h7m0 -32.8h-7M1546.4 89.7v17.4m-3.5 0h7m0 -17.4h-7M1598.5 208.3v38.9m-3.5 0h7m0 -38.9h-7M1679.4 221v33.2m-3.5 0h7m0 -33.2h-7M1468.6 126.1v18.5m-3.5 0h7m0 -18.5h-7M1481.2 127.3v12.4m-3.5 0h7m0 -12.4h-7M1511 251.9v35.5m-3.5 0h7m0 -35.5h-7M1474.2 244.6v17.1m-3.5 0h7m0 -17.1h-7M1574.3 162.4v39.4m-3.5 0h7m0 -39.4h-7M1719.6 225.8v41.5m-3.5 0h7m0 -41.5h-7M1656 211.8v29.4m-3.5 0h7m0 -29.4h-7M1447.4 171.1v19.3m-3.5 0h7m0 -19.3h-7M1438.3 141.7v17.3m-3.5 0h7m0 -17.3h-7M1455.5 150.5v39.6m-3.5 0h7m0 -39.6h-7M1479.3 97.4v45.3m-3.5 0h7m0 -45.3h-7M1565.5 136.9v17.4m-3.5 0h7m0 -17.4h-7M1494.3 239.3v43.3m-3.5 0h7m0 -43.3h-7M1436.6 168.7v19.3m-3.5 0h7m0 -19.3h-7M1562.9 119.6v54.2m-3.5 0h7m0 -54.2h-7M1479.3 131.4v17.2m-3.5 0h7m0 -17.2h-7M1483 152.7v22m-3.5 0h7m0 -22h-7M1513.3 252.6v10m-3.5 0h7m0 -10h-7M1550.7 184.5v37.9m-3.5 0h7m0 -37.9h-7M1656 215v20.5m-3.5 0h7m0 -20.5h-7M1713.1 223v31.8m-3.5 0h7m0 -31.8h-7M1440 160.7v18.1m-3.5 0h7m0 -18.1h-7M1725.1 235.9v29.8m-3.5 0h7m0 -29.8h-7M1468.7 124.3v12.8m-3.5 0h7m0 -12.8h-7M1704.2 219.8v27.2m-3.5 0h7m0 -27.2h-7M1472.1 122.7v24.4m-3.5 0h7m0 -24.4h-7M1445.9 114.5v28.9m-3.5 0h7m0 -28.9h-7M1582.4 188.4v31.1m-3.5 0h7m0 -31.1h-7M1524.1 219.3v22.5m-3.5 0h7m0 -22.5h-7M1481.9 146.8v14.1m-3.5 0h7m0 -14.1h-7M1446.2 109.8v19.2m-3.5 0h7m0 -19.2h-7M1504.7 116.8v12.7m-3.5 0h7m0 -12.7h-7M1458.1 174v24.7m-3.5 0h7m0 -24.7h-7M1551.9 172.4v15.7m-3.5 0h7m0 -15.7h-7M1551.7 205.4v37.3m-3.5 0h7m0 -37.3h-7M1501.1 116.8v16.3m-3.5 0h7m0 -16.3h-7M1496.5 251.6v12.2m-3.5 0h7m0 -12.2h-7M1460.2 266.4v24.9m-3.5 0h7m0 -24.9h-7M1646.2 205.5v14.1m-3.5 0h7m0 -14.1h-7M1561.7 127.7v23.8m-3.5 0h7m0 -23.8h-7M1498.3 139.2v17.7m-3.5 0h7m0 -17.7h-7M1440.7 181.4v26.9m-3.5 0h7m0 -26.9h-7M1469.5 130.1v10.2m-3.5 0h7m0 -10.2h-7M1647.1 197.9v27.7m-3.5 0h7m0 -27.7h-7M1497.3 154.6v16.8m-3.5 0h7m0 -16.8h-7M1535.6 129.5v26.1m-3.5 0h7m0 -26.1h-7M1438.3 164.9v10.2m-3.5 0h7m0 -10.2h-7M1657.6 221.9v22.8m-3.5 0h7m0 -22.8h-7M1647.6 261.2v32.5m-3.5 0h7m0 -32.5h-7M1458.3 130.6v11.1m-3.5 0h7m0 -11.1h-7M1656.7 238.3v27.6m-3.5 0h7m0 -27.6h-7M1499.5 124.6v30.2m-3.5 0h7m0 -30.2h-7M1459.5 239.4v15.7m-3.5 0h7m0 -15.7h-7M1545.3 87.5v23.4m-3.5 0h7m0 -23.4h-7M1685.9 226.4v12.2m-3.5 0h7m0 -12.2h-7M1470.9 106.3v42.8m-3.5 0h7m0 -42.8h-7M1498 145.6v24.3m-3.5 0h7m0 -24.3h-7M1715.1 230.7v21.3m-3.5 0h7m0 -21.3h-7M1488.4 247.4v14.5m-3.5 0h7m0 -14.5h-7M1462.3 268.7v27.1m-3.5 0h7m0 -27.1h-7M1737.8 254.1v32.2m-3.5 0h7m0 -32.2h-7M1554 147.6v16.6m-3.5 0h7m0 -16.6h-7M1594.8 284.9v17.2m-3.5 0h7m0 -17.2h-7M1445.6 180.1v20.5m-3.5 0h7m0 -20.5h-7M1521.8 226.9v16.2m-3.5 0h7m0 -16.2h-7M1514.7 141.4v21.5m-3.5 0h7m0 -21.5h-7M1645.9 200.1v37.3m-3.5 0h7m0 -37.3h-7M1523.4 180.2v19m-3.5 0h7m0 -19h-7M1468.3 105.1v40.9m-3.5 0h7m0 -40.9h-7M1446.1 134.9v30.6m-3.5 0h7m0 -30.6h-7M1589.5 253.6v57.5m-3.5 0h7m0 -57.5h-7M1521.9 190.8v16.1m-3.5 0h7m0 -16.1h-7M1524.2 206.4v20.8m-3.5 0h7m0 -20.8h-7M1532.6 123v12.5m-3.5 0h7m0 -12.5h-7M1496.6 117.3v32.7m-3.5 0h7m0 -32.7h-7M1447.3 148v16.1m-3.5 0h7m0 -16.1h-7M1468.7 110.2v15.3m-3.5 0h7m0 -15.3h-7M1438.2 163.9v16.9m-3.5 0h7m0 -16.9h-7M1554.9 155.6v21.9m-3.5 0h7m0 -21.9h-7M1637.9 251.6v44m-3.5 0h7m0 -44h-7M1460.8 267.9v20.1m-3.5 0h7m0 -20.1h-7M1536.1 101.1v32.6m-3.5 0h7m0 -32.6h-7M1498.6 263.8v25.3m-3.5 0h7m0 -25.3h-7M1521.5 198.9v17.6m-3.5 0h7m0 -17.6h-7M1594.2 216.3v17.4m-3.5 0h7m0 -17.4h-7M1446.6 109.5v12.7m-3.5 0h7m0 -12.7h-7M1596.6 282.5v20.1m-3.5 0h7m0 -20.1h-7M1504.2 122.6v16.3m-3.5 0h7m0 -16.3h-7M1587.5 265.9v18.4m-3.5 0h7m0 -18.4h-7M1491.2 152.7v35.1m-3.5 0h7m0 -35.1h-7M1446.7 178.1v19m-3.5 0h7m0 -19h-7M1655.3 264v28.5m-3.5 0h7m0 -28.5h-7M1657.1 227v39m-3.5 0h7m0 -39h-7M1439.2 200v11m-3.5 0h7m0 -11h-7M1626.4 248.1v49.6m-3.5 0h7m0 -49.6h-7M1482.2 239.1v41.8m-3.5 0h7m0 -41.8h-7M1566.3 186.7v23.2m-3.5 0h7m0 -23.2h-7M1458.9 224.8v30.2m-3.5 0h7m0 -30.2h-7M1480.3 106.5v32.1m-3.5 0h7m0 -32.1h-7M1547.6 227.9v19.5m-3.5 0h7m0 -19.5h-7M1478.5 139v12.1m-3.5 0h7m0 -12.1h-7M1533 145.2v10.5m-3.5 0h7m0 -10.5h-7M1441.3 198.5v15.2m-3.5 0h7m0 -15.2h-7M1461.9 253v23.9m-3.5 0h7m0 -23.9h-7M1671.9 239.4v31.5m-3.5 0h7m0 -31.5h-7M1440.1 158v11.5m-3.5 0h7m0 -11.5h-7M1568.3 161.6v16.3m-3.5 0h7m0 -16.3h-7M1554.5 99.5v29.3m-3.5 0h7m0 -29.3h-7M1566.4 138.9v31m-3.5 0h7m0 -31h-7M1439.9 127.8v29.6m-3.5 0h7m0 -29.6h-7M1505.5 135.3v32.5m-3.5 0h7m0 -32.5h-7M1446.1 147.7v11.9m-3.5 0h7m0 -11.9h-7M1520.1 231.7v17.4m-3.5 0h7m0 -17.4h-7M1461.5 250.8v17.2m-3.5 0h7m0 -17.2h-7M1564 216.5v23.9m-3.5 0h7m0 -23.9h-7M1456.8 141.3v14.9m-3.5 0h7m0 -14.9h-7M1551.3 225.3v27.1m-3.5 0h7m0 -27.1h-7M1563.7 198.8v46.1m-3.5 0h7m0 -46.1h-7M1496.8 135.5v35.5m-3.5 0h7m0 -35.5h-7M1511.9 256v23.6m-3.5 0h7m0 -23.6h-7M1620.3 210.3v38.1m-3.5 0h7m0 -38.1h-7M1582.8 170.1v56.9m-3.5 0h7m0 -56.9h-7M1463 268.9v11.9m-3.5 0h7m0 -11.9h-7M1653.6 227.3v18.9m-3.5 0h7m0 -18.9h-7M1480 255.2v16.6m-3.5 0h7m0 -16.6h-7M1470.6 249v53.3m-3.5 0h7m0 -53.3h-7M1706.8 227.2v19m-3.5 0h7m0 -19h-7M1684.9 264.5v18.9m-3.5 0h7m0 -18.9h-7M1640.5 197.2v52.3m-3.5 0h7m0 -52.3h-7M1518 143v14.2m-3.5 0h7m0 -14.2h-7M1588.8 264.2v66.9m-3.5 0h7m0 -66.9h-7M1500.4 124.1v11.1m-3.5 0h7m0 -11.1h-7M1685.6 222.1v19.6m-3.5 0h7m0 -19.6h-7M1479.3 110.7v12.5m-3.5 0h7m0 -12.5h-7M1518.3 145.3v11m-3.5 0h7m0 -11h-7M1581.3 188.1v19.5m-3.5 0h7m0 -19.5h-7M1518.1 236.6v25.3m-3.5 0h7m0 -25.3h-7M1456.3 151.3v26.8m-3.5 0h7m0 -26.8h-7M1447.2 175.1v14.7m-3.5 0h7m0 -14.7h-7M1638.3 261v25.9m-3.5 0h7m0 -25.9h-7M1456.9 157.2v25.6m-3.5 0h7m0 -25.6h-7M1480.6 141.2v33.5m-3.5 0h7m0 -33.5h-7M1620.7 262v18.6m-3.5 0h7m0 -18.6h-7M1479.4 109.1v36.3m-3.5 0h7m0 -36.3h-7M1455.6 155v15.4m-3.5 0h7m0 -15.4h-7M1538.3 79.8v19.8m-3.5 0h7m0 -19.8h-7M1533.3 139.6v12.2m-3.5 0h7m0 -12.2h-7M1519.7 140.6v11.8m-3.5 0h7m0 -11.8h-7M1731.3 246.2v13.5m-3.5 0h7m0 -13.5h-7M1651.6 268.4v26m-3.5 0h7m0 -26h-7M1650.7 188v35.5m-3.5 0h7m0 -35.5h-7M1548.7 200v15.1m-3.5 0h7m0 -15.1h-7M1551.1 202.3v58m-3.5 0h7m0 -58h-7M1567.6 207.6v34.6m-3.5 0h7m0 -34.6h-7M1478 128v10.5m-3.5 0h7m0 -10.5h-7M1521.9 192.5v37.5m-3.5 0h7m0 -37.5h-7M1548.7 225v14.2m-3.5 0h7m0 -14.2h-7M1566.7 140.3v61.6m-3.5 0h7m0 -61.6h-7M1555.8 136.5v33.3m-3.5 0h7m0 -33.3h-7M1472 150.1v13.5m-3.5 0h7m0 -13.5h-7M1464.1 155.4v10.7m-3.5 0h7m0 -10.7h-7M1646.8 194.7v30.5m-3.5 0h7m0 -30.5h-7M1459.4 123.4v60.6m-3.5 0h7m0 -60.6h-7M1523.5 203v28.3m-3.5 0h7m0 -28.3h-7M1591.6 287.9v27.4m-3.5 0h7m0 -27.4h-7M1539.3 91.2v21.3m-3.5 0h7m0 -21.3h-7M1547.2 91.7v21.2m-3.5 0h7m0 -21.2h-7M1716 215.4v59.8m-3.5 0h7m0 -59.8h-7M1439 151.5v14.6m-3.5 0h7m0 -14.6h-7M1468.1 129.5v15.8m-3.5 0h7m0 -15.8h-7M1468.8 121.7v17.8m-3.5 0h7m0 -17.8h-7M1649.1 191.4v43.6m-3.5 0h7m0 -43.6h-7M1455.9 181v16.8m-3.5 0h7m0 -16.8h-7M1674.4 241.4v16.6m-3.5 0h7m0 -16.6h-7M1441.7 180.2v21.3m-3.5 0h7m0 -21.3h-7M1448.2 128.6v13.3m-3.5 0h7m0 -13.3h-7M1586.4 183.3v50.8m-3.5 0h7m0 -50.8h-7M1457.6 132.4v17m-3.5 0h7m0 -17h-7M1443.6 185.5v11.2m-3.5 0h7m0 -11.2h-7M1497.2 133.8v41.1m-3.5 0h7m0 -41.1h-7M1565.2 196.5v12.6m-3.5 0h7m0 -12.6h-7M1647.9 204v16.9m-3.5 0h7m0 -16.9h-7M1553 166.9v17.4m-3.5 0h7m0 -17.4h-7M1565.1 134.1v20.9m-3.5 0h7m0 -20.9h-7M1565.5 176.5v18.2m-3.5 0h7m0 -18.2h-7M1480.5 160.8v10.9m-3.5 0h7m0 -10.9h-7M1523.1 179.7v11.3m-3.5 0h7m0 -11.3h-7M1654.9 256.5v40.3m-3.5 0h7m0 -40.3h-7M1564.3 220.3v23.4m-3.5 0h7m0 -23.4h-7M1549.8 172.3v17.6m-3.5 0h7m0 -17.6h-7M1439.9 169.3v64.2m-3.5 0h7m0 -64.2h-7M1564.1 218.2v22.3m-3.5 0h7m0 -22.3h-7M1635.6 196.1v64.4m-3.5 0h7m0 -64.4h-7M1494.6 149v11.4m-3.5 0h7m0 -11.4h-7M1712.8 219.6v33.8m-3.5 0h7m0 -33.8h-7M1470.4 100.3v13.4m-3.5 0h7m0 -13.4h-7M1479.1 157.9v11.2m-3.5 0h7m0 -11.2h-7M1550 222.4v14.1m-3.5 0h7m0 -14.1h-7M1440.4 116.8v19.8m-3.5 0h7m0 -19.8h-7M1592 195v48.2m-3.5 0h7m0 -48.2h-7M1563.9 151.6v44m-3.5 0h7m0 -44h-7M1591.2 268.7v31.7m-3.5 0h7m0 -31.7h-7M1445.8 100.8v11.4m-3.5 0h7m0 -11.4h-7M1533.8 130.4v14.7m-3.5 0h7m0 -14.7h-7M1456.1 149v11.8m-3.5 0h7m0 -11.8h-7M1676 231.6v39.6m-3.5 0h7m0 -39.6h-7M1468.5 137.6v28.8m-3.5 0h7m0 -28.8h-7M1458 237.9v10.5m-3.5 0h7m0 -10.5h-7M1458.6 123.9v38.6m-3.5 0h7m0 -38.6h-7M1589.3 190.7v51.7m-3.5 0h7m0 -51.7h-7M1457.4 128.5v11.7m-3.5 0h7m0 -11.7h-7M1497.5 260.2v11.8m-3.5 0h7m0 -11.8h-7M1443.2 101v12.9m-3.5 0h7m0 -12.9h-7M1442.5 186.8v33.8m-3.5 0h7m0 -33.8h-7M1549.8 212.9v46.5m-3.5 0h7m0 -46.5h-7M1513.3 258.6v10m-3.5 0h7m0 -10h-7M1568.8 144.5v33.2m-3.5 0h7m0 -33.2h-7M1438.8 192.1v24.6m-3.5 0h7m0 -24.6h-7M1502.9 123.3v51.6m-3.5 0h7m0 -51.6h-7M1672.4 229v49.7m-3.5 0h7m0 -49.7h-7M1655.4 253.3v17m-3.5 0h7m0 -17h-7M1448.3 92.8v21.6m-3.5 0h7m0 -21.6h-7M1627.5 215.2v23.8m-3.5 0h7m0 -23.8h-7M1567.1 223.7v18.3m-3.5 0h7m0 -18.3h-7M1533.1 175.4v21.5m-3.5 0h7m0 -21.5h-7M1458.9 253.5v13.5m-3.5 0h7m0 -13.5h-7M1525.9 201.1v17.5m-3.5 0h7m0 -17.5h-7M1541.1 177.5v25.6m-3.5 0h7m0 -25.6h-7M1536.5 177.8v27m-3.5 0h7m0 -27h-7M1534.6 193.9v26m-3.5 0h7m0 -26h-7M1538.2 180.1v10.9m-3.5 0h7m0 -10.9h-7M1534.8 176.2v8.1m-3.5 0h7m0 -8.1h-7M1533.4 167.4v19.5m-3.5 0h7m0 -19.5h-7M1537.8 188.7v18m-3.5 0h7m0 -18h-7M1530.8 205.5v18.1m-3.5 0h7m0 -18.1h-7M1536.9 234v8.2m-3.5 0h7m0 -8.2h-7M1534.6 174v11m-3.5 0h7m0 -11h-7M1531.2 212.4v9.3m-3.5 0h7m0 -9.3h-7M1542.6 186.2v8.1m-3.5 0h7m0 -8.1h-7M1539.3 209.2v9m-3.5 0h7m0 -9h-7M1537.6 212.9v11.8m-3.5 0h7m0 -11.8h-7M1538.8 191.4v10.8m-3.5 0h7m0 -10.8h-7M1528.3 230.5v11.9m-3.5 0h7m0 -11.9h-7M1541.8 196v26m-3.5 0h7m0 -26h-7M1535.9 205.7v17.2m-3.5 0h7m0 -17.2h-7M1531.9 177.4v27.2m-3.5 0h7m0 -27.2h-7M1531.3 188.5v25.9m-3.5 0h7m0 -25.9h-7M1640.8 202.1v23.3m-3.5 0h7m0 -23.3h-7M1607.8 204.9v24.6m-3.5 0h7m0 -24.6h-7M1617.4 205.9v27.7m-3.5 0h7m0 -27.7h-7M1617.4 202v14m-3.5 0h7m0 -14h-7M1625.5 204.2v16.7m-3.5 0h7m0 -16.7h-7M1623.4 202.9v11.4m-3.5 0h7m0 -11.4h-7M1690.5 207.1v10.9m-3.5 0h7m0 -10.9h-7M1713.8 226.1v8.8m-3.5 0h7m0 -8.8h-7M1702.5 194.6v14.6m-3.5 0h7m0 -14.6h-7M1712.2 216.6v24.1m-3.5 0h7m0 -24.1h-7M1693.8 220.1v21m-3.5 0h7m0 -21h-7M1716.9 210.5v26.6m-3.5 0h7m0 -26.6h-7M1687.6 212.6v25m-3.5 0h7m0 -25h-7M1706.4 204.7v15.5m-3.5 0h7m0 -15.5h-7M1696.7 205v12.9m-3.5 0h7m0 -12.9h-7M1712 229.4v8.4m-3.5 0h7m0 -8.4h-7M1686.6 214.8v24.8m-3.5 0h7m0 -24.8h-7M1534.2 228.1v24.1m-3.5 0h7m0 -24.1h-7M1536.4 170.1v25.3m-3.5 0h7m0 -25.3h-7M1539.9 168.9v27.3m-3.5 0h7m0 -27.3h-7M1536.5 195.3v15.8m-3.5 0h7m0 -15.8h-7M1536.2 196.4v10.5m-3.5 0h7m0 -10.5h-7M1533.9 205.4v20m-3.5 0h7m0 -20h-7M1525.4 233.6v13.1m-3.5 0h7m0 -13.1h-7M1532 236v11.6m-3.5 0h7m0 -11.6h-7M1537.1 184.6v17.8m-3.5 0h7m0 -17.8h-7M1537.1 211.1v16.2m-3.5 0h7m0 -16.2h-7M1543 220.3v19m-3.5 0h7m0 -19h-7M1540.9 195v26.7m-3.5 0h7m0 -26.7h-7M1532.3 163.3v20.9m-3.5 0h7m0 -20.9h-7M1541.6 172.9v25.6m-3.5 0h7m0 -25.6h-7M1536.5 166.5v23.2m-3.5 0h7m0 -23.2h-7M1533.4 170.1v15.2m-3.5 0h7m0 -15.2h-7M1541.8 220v21.1m-3.5 0h7m0 -21.1h-7M1538.6 194.1v21.5m-3.5 0h7m0 -21.5h-7M1528.6 190.2v19.3m-3.5 0h7m0 -19.3h-7M1540.2 196.4v24.7m-3.5 0h7m0 -24.7h-7M1526.9 204.6v10.1m-3.5 0h7m0 -10.1h-7M1534.3 169.1v22.3m-3.5 0h7m0 -22.3h-7M1526.9 241.8v10.8m-3.5 0h7m0 -10.8h-7M1529.2 196.9v21.8m-3.5 0h7m0 -21.8h-7M1531.3 178.2v12.1m-3.5 0h7m0 -12.1h-7M1531.1 175v25.4m-3.5 0h7m0 -25.4h-7M1539.2 172.9v13.1m-3.5 0h7m0 -13.1h-7M1543 169.6v23.9m-3.5 0h7m0 -23.9h-7M1540 200.3v12.3m-3.5 0h7m0 -12.3h-7M1536 185.5v26.8m-3.5 0h7m0 -26.8h-7M1533.3 194.5v13.1m-3.5 0h7m0 -13.1h-7M1532.1 224.2v14m-3.5 0h7m0 -14h-7M1525.6 174.1v19.7m-3.5 0h7m0 -19.7h-7M1526.6 178.1v22.5m-3.5 0h7m0 -22.5h-7M1541.2 224.6v24.1m-3.5 0h7m0 -24.1h-7M1539.3 203.8v14.4m-3.5 0h7m0 -14.4h-7M1533.7 181.3v18.2m-3.5 0h7m0 -18.2h-7M1543.1 210.3v16.1m-3.5 0h7m0 -16.1h-7M1537.8 211.8v19m-3.5 0h7m0 -19h-7M1535.1 180.2v11m-3.5 0h7m0 -11h-7M1528.4 175.2v23.3m-3.5 0h7m0 -23.3h-7M1775.5 247.7v6m-3.2 0h6.4m0 -6h-6.4M1776.5 251.8v6m-3.2 0h6.4m0 -6h-6.4M1778.5 255.8v6m-3.2 0h6.4m0 -6h-6.4M1780.5 258.8v6m-3.2 0h6.4m0 -6h-6.4M1782.5 261.8v6m-3.2 0h6.4m0 -6h-6.4M1784.5 264.9v6m-3.2 0h6.4m0 -6h-6.4M1780.5 251.8v6m-3.2 0h6.4m0 -6h-6.4M1782.5 255.8v6m-3.2 0h6.4m0 -6h-6.4M1784.5 258.8v6m-3.2 0h6.4m0 -6h-6.4M1786.5 256.8v6m-3.2 0h6.4m0 -6h-6.4M1777.5 259.8v6m-3.2 0h6.4m0 -6h-6.4M1781.5 264.9v6m-3.2 0h6.4m0 -6h-6.4M1778.5 248.7v6m-3.2 0h6.4m0 -6h-6.4M1446.4 56.3v14m-3.2 0h6.4m0 -14h-6.4M1445.4 74.8v10m-3.2 0h6.4m0 -10h-6.4M1445.9 81.5v10m-3.2 0h6.4m0 -10h-6.4M1456.1 120.3v12m-3.2 0h6.4m0 -12h-6.4M1459.4 133.4v12m-3.2 0h6.4m0 -12h-6.4M1442.5 202.1v18m-3.2 0h6.4m0 -18h-6.4M1446.4 227.1v38m-3.2 0h6.4m0 -38h-6.4M1475 73.4v24m-3.2 0h6.4m0 -24h-6.4M1503.5 72.2v8m-3.2 0h6.4m0 -8h-6.4M1501.4 80.8v10m-3.2 0h6.4m0 -10h-6.4M1503.8 89.6v10m-3.2 0h6.4m0 -10h-6.4M1501.4 104.8v12m-3.2 0h6.4m0 -12h-6.4M1504.9 113.1v12m-3.2 0h6.4m0 -12h-6.4M1499 121.5v12m-3.2 0h6.4m0 -12h-6.4M1502.3 97.6v10m-3.2 0h6.4m0 -10h-6.4M1516.7 136.9v12m-3.2 0h6.4m0 -12h-6.4M1574.1 108.7v10m-3.2 0h6.4m0 -10h-6.4M1565.1 121.4v18m-3.2 0h6.4m0 -18h-6.4M1524.9 155.7v16m-3.2 0h6.4m0 -16h-6.4M1552.1 161.6v16m-3.2 0h6.4m0 -16h-6.4M1551.3 189v16m-3.2 0h6.4m0 -16h-6.4M1534.4 218.8v22m-3.2 0h6.4m0 -22h-6.4M1594 151.3v39.5m-3.2 0h6.4m0 -39.5h-6.4M1593.4 200.1v18m-3.2 0h6.4m0 -18h-6.4M1640.6 193.8v12m-3.2 0h6.4m0 -12h-6.4M1637 202.4v12m-3.2 0h6.4m0 -12h-6.4M1647.7 203.4v12m-3.2 0h6.4m0 -12h-6.4M1635.9 212.5v12m-3.2 0h6.4m0 -12h-6.4M1703.5 186.8v10m-3.2 0h6.4m0 -10h-6.4M1709 193.4v20m-3.2 0h6.4m0 -20h-6.4M1703.1 208.8v16m-3.2 0h6.4m0 -16h-6.4M1680.7 217.5v16m-3.2 0h6.4m0 -16h-6.4M1704.2 161.4v6m-3.2 0h6.4m0 -6h-6.4M1775.2 236.2v12m-3.2 0h6.4m0 -12h-6.4M1464.8 295.8v14m-3.2 0h6.4m0 -14h-6.4M1467.2 313.9v10m-3.2 0h6.4m0 -10h-6.4M1482 267.7v20m-3.2 0h6.4m0 -20h-6.4M1499 281.1v20m-3.2 0h6.4m0 -20h-6.4M1507.8 271.6v28m-3.2 0h6.4m0 -28h-6.4M1517.9 272v33m-3.2 0h6.4m0 -33h-6.4M1497.8 267.5v80m-3.2 0h6.4m0 -80h-6.4M1550.9 241.4v12m-3.2 0h6.4m0 -12h-6.4M1552.1 247.3v12m-3.2 0h6.4m0 -12h-6.4M1548.6 255.3v12m-3.2 0h6.4m0 -12h-6.4M1553.7 254.5v12m-3.2 0h6.4m0 -12h-6.4M1548.6 263.4v12m-3.2 0h6.4m0 -12h-6.4M1559.1 272.2v10m-3.2 0h6.4m0 -10h-6.4M1565.8 259.8v12m-3.2 0h6.4m0 -12h-6.4M1573.3 264.8v31m-3.2 0h6.4m0 -31h-6.4M1581.6 264.1v26m-3.2 0h6.4m0 -26h-6.4M1591 300.2v26m-3.2 0h6.4m0 -26h-6.4M1611.1 285.9v30m-3.2 0h6.4m0 -30h-6.4M1622.4 285.9v46m-3.2 0h6.4m0 -46h-6.4M1655.8 277.6v20m-3.2 0h6.4m0 -20h-6.4M1709.5 277.6v31m-3.2 0h6.4m0 -31h-6.4M1727.8 277.6v30m-3.2 0h6.4m0 -30h-6.4M1775.9 278.2v6m-3.2 0h6.4m0 -6h-6.4M1782.2 278.2v6m-3.2 0h6.4m0 -6h-6.4M1469.6 72.7v34m-3.2 0h6.4m0 -34h-6.4M1538 65.5v26m-3.2 0h6.4m0 -26h-6.4M1594.5 151v18.1m-3.2 0h6.4m0 -18.1h-6.4M1670 267.9v43.3m-3.2 0h6.4m0 -43.3h-6.4M1625.9 194.3v28.2m-3.2 0h6.4m0 -28.2h-6.4M1625.9 197.3v25.2m-3.2 0h6.4m0 -25.2h-6.4M1625.9 200.3v22.2m-3.2 0h6.4m0 -22.2h-6.4M1625.9 203.4v19.1m-3.2 0h6.4m0 -19.1h-6.4M1625.9 206.4v16.1m-3.2 0h6.4m0 -16.1h-6.4M1446.4 242.7v10.1m-3.2 0h6.4m0 -10.1h-6.4M1545.7 219.1h6.5m0 -3.5v7m-6.5 0v-7M1544 217.3h9.4m0 -3.5v7m-9.4 0v-7M1516.8 146.1h4m0 -3.5v7m-4 0v-7M1529.5 164.1h4.9m0 -3.5v7m-4.9 0v-7M1561.1 246.4h8.3m0 -3.5v7m-8.3 0v-7M1455.7 174.6h4.3m0 -3.5v7m-4.3 0v-7M1587.6 226.8h14.1m0 -3.5v7m-14.1 0v-7M1552.5 149h6.7m0 -3.5v7m-6.7 0v-7M1454.3 145.9h5.4m0 -3.5v7m-5.4 0v-7M1549.9 111h5.7m0 -3.5v7m-5.7 0v-7M1551.5 126.3h6.6m0 -3.5v7m-6.6 0v-7M1697.3 236.9h26.7m0 -3.5v7m-26.7 0v-7M1549.6 111.5h8.1m0 -3.5v7m-8.1 0v-7M1434.5 149h3.7m0 -3.5v7m-3.7 0v-7M1463.1 289.4h6.3m0 -3.5v7m-6.3 0v-7M1483.4 167.4h7.6m0 -3.5v7m-7.6 0v-7M1645.4 276.8h14.2m0 -3.5v7m-14.2 0v-7M1495.8 161h4.1m0 -3.5v7m-4.1 0v-7M1499 137.4h7.9m0 -3.5v7m-7.9 0v-7M1474.7 256.7h6.6m0 -3.5v7m-6.6 0v-7M1512.9 150.4h8.2m0 -3.5v7m-8.2 0v-7M1467.1 283.2h2.7m0 -3.5v7m-2.7 0v-7M1548 199.9h9.4m0 -3.5v7m-9.4 0v-7M1566.9 190.5h14m0 -3.5v7m-14 0v-7M1580.7 268.6h10.7m0 -3.5v7m-10.7 0v-7M1495.6 144.8h4.2m0 -3.5v7m-4.2 0v-7M1644.7 209.8h12.4m0 -3.5v7m-12.4 0v-7M1467.4 138.7h6.5m0 -3.5v7m-6.5 0v-7M1467.8 280h2.5m0 -3.5v7m-2.5 0v-7M1530.7 184.8h7.8m0 -3.5v7m-7.8 0v-7M1532 109.7h11.2m0 -3.5v7m-11.2 0v-7M1467.2 117.5h3.4m0 -3.5v7m-3.4 0v-7M1724.6 254.4h13.6m0 -3.5v7m-13.6 0v-7M1492.3 263.5h6.4m0 -3.5v7m-6.4 0v-7M1512.3 257.6h8.1m0 -3.5v7m-8.1 0v-7M1543.6 216.6h12.1m0 -3.5v7m-12.1 0v-7M1582.6 300.8h13.4m0 -3.5v7m-13.4 0v-7M1455.2 225.9h5.4m0 -3.5v7m-5.4 0v-7M1576.3 197.5h7.8m0 -3.5v7m-7.8 0v-7M1565.1 168.7h10m0 -3.5v7m-10 0v-7M1546.3 244h9.8m0 -3.5v7m-9.8 0v-7M1560 208.6h8.8m0 -3.5v7m-8.8 0v-7M1439.7 140.7h1.9m0 -3.5v7m-1.9 0v-7M1439.6 194.7h4m0 -3.5v7m-4 0v-7M1456 167.3h4.8m0 -3.5v7m-4.8 0v-7M1511.6 259h4.1m0 -3.5v7m-4.1 0v-7M1438.1 178.7h2.3m0 -3.5v7m-2.3 0v-7M1443.4 104.7h3.7m0 -3.5v7m-3.7 0v-7M1547.6 158.3h11.4m0 -3.5v7m-11.4 0v-7M1600.8 271h18.2m0 -3.5v7m-18.2 0v-7M1595.7 281.7h11m0 -3.5v7m-11 0v-7M1532.9 100.9h8.8m0 -3.5v7m-8.8 0v-7M1522.7 174.7h5.7m0 -3.5v7m-5.7 0v-7M1490.3 255.7h3.5m0 -3.5v7m-3.5 0v-7M1531.4 149.9h4.9m0 -3.5v7m-4.9 0v-7M1531.5 118.9h10.4m0 -3.5v7m-10.4 0v-7M1454.6 167.9h2.4m0 -3.5v7m-2.4 0v-7M1440.1 199.4h3.1m0 -3.5v7m-3.1 0v-7M1511.9 251.8h8.1m0 -3.5v7m-8.1 0v-7M1559.2 176.2h11.6m0 -3.5v7m-11.6 0v-7M1564.5 173.5h13.6m0 -3.5v7m-13.6 0v-7M1538.3 88.4h4.3m0 -3.5v7m-4.3 0v-7M1440.9 206.8h2.3m0 -3.5v7m-2.3 0v-7M1440.4 131.9h1.6m0 -3.5v7m-1.6 0v-7M1475.5 255.8h3.7m0 -3.5v7m-3.7 0v-7M1460.2 276h3m0 -3.5v7m-3 0v-7M1454.5 172.7h4.6m0 -3.5v7m-4.6 0v-7M1542.5 211.2h11.6m0 -3.5v7m-11.6 0v-7M1454.8 230.5h4.2m0 -3.5v7m-4.2 0v-7M1562 178.8h6.4m0 -3.5v7m-6.4 0v-7M1446.3 157.8h3.1m0 -3.5v7m-3.1 0v-7M1715.4 245.3h13.1m0 -3.5v7m-13.1 0v-7M1673.7 275.7h18.8m0 -3.5v7m-18.8 0v-7M1529 155.1h6.4m0 -3.5v7m-6.4 0v-7M1492.6 153.6h4.8m0 -3.5v7m-4.8 0v-7M1629.4 272.2h18m0 -3.5v7m-18 0v-7M1531.7 149.1h8.1m0 -3.5v7m-8.1 0v-7M1574.9 267.2h15.3m0 -3.5v7m-15.3 0v-7M1584.7 297.2h14m0 -3.5v7m-14 0v-7M1510.8 149.2h7.5m0 -3.5v7m-7.5 0v-7M1583.5 291.4h10.4m0 -3.5v7m-10.4 0v-7M1599.4 274.6h12.5m0 -3.5v7m-12.5 0v-7M1554 130h9.9m0 -3.5v7m-9.9 0v-7M1694.1 227.9h12.9m0 -3.5v7m-12.9 0v-7M1548.4 161.8h8.3m0 -3.5v7m-8.3 0v-7M1587.3 303.4h7.4m0 -3.5v7m-7.4 0v-7M1478 121.5h4m0 -3.5v7m-4 0v-7M1493.2 264.4h7m0 -3.5v7m-7 0v-7M1443.6 178.2h4m0 -3.5v7m-4 0v-7M1503.3 278.6h9.6m0 -3.5v7m-9.6 0v-7M1530.6 112h12m0 -3.5v7m-12 0v-7M1559.8 236.6h14.6m0 -3.5v7m-14.6 0v-7M1453.8 144.3h3.8m0 -3.5v7m-3.8 0v-7M1456.2 173.8h2.5m0 -3.5v7m-2.5 0v-7M1454.1 177.2h3m0 -3.5v7m-3 0v-7M1496.7 137h4.6m0 -3.5v7m-4.6 0v-7M1587.8 284.2h7.8m0 -3.5v7m-7.8 0v-7M1669.2 237h18.1m0 -3.5v7m-18.1 0v-7M1588.4 229.1h16.7m0 -3.5v7m-16.7 0v-7M1521.2 205.8h7.7m0 -3.5v7m-7.7 0v-7M1681.2 274.6h10.6m0 -3.5v7m-10.6 0v-7M1478.4 138.2h7m0 -3.5v7m-7 0v-7M1544.5 185.7h8.3m0 -3.5v7m-8.3 0v-7M1546.3 237.9h9.3m0 -3.5v7m-9.3 0v-7M1477.6 164.5h7.3m0 -3.5v7m-7.3 0v-7M1443.9 102.4h4.2m0 -3.5v7m-4.2 0v-7M1623.8 230.9h9.4m0 -3.5v7m-9.4 0v-7M1543.7 98.4h7.3m0 -3.5v7m-7.3 0v-7M1584.2 224.2h16.1m0 -3.5v7m-16.1 0v-7M1585.2 289.6h9.6m0 -3.5v7m-9.6 0v-7M1456.7 150.5h4.3m0 -3.5v7m-4.3 0v-7M1546.7 108.2h8.1m0 -3.5v7m-8.1 0v-7M1495 268.5h7.4m0 -3.5v7m-7.4 0v-7M1598.2 271.1h15m0 -3.5v7m-15 0v-7M1466.1 154.1h5.7m0 -3.5v7m-5.7 0v-7M1519.6 243.7h5m0 -3.5v7m-5 0v-7M1458.6 274.1h5.5m0 -3.5v7m-5.5 0v-7M1550.6 210.9h5.3m0 -3.5v7m-5.3 0v-7M1542 98.6h8.8m0 -3.5v7m-8.8 0v-7M1529.9 164.3h6.6m0 -3.5v7m-6.6 0v-7M1494.4 261.5h4.6m0 -3.5v7m-4.6 0v-7M1468.4 126.6h6.3m0 -3.5v7m-6.3 0v-7M1444 158.7h2.6m0 -3.5v7m-2.6 0v-7M1624.7 227.6h17.1m0 -3.5v7m-17.1 0v-7M1546.6 210.9h9.1m0 -3.5v7m-9.1 0v-7M1630.7 227.3h7.5m0 -3.5v7m-7.5 0v-7M1438.8 157.5h2.7m0 -3.5v7m-2.7 0v-7M1497.2 285h5.4m0 -3.5v7m-5.4 0v-7M1701.1 275.4h14.7m0 -3.5v7m-14.7 0v-7M1520.1 244.8h8.7m0 -3.5v7m-8.7 0v-7M1516.3 147.7h3.7m0 -3.5v7m-3.7 0v-7M1464.6 268.9h6.2m0 -3.5v7m-6.2 0v-7M1526.1 162.3h7.4m0 -3.5v7m-7.4 0v-7M1478.9 255.9h2.8m0 -3.5v7m-2.8 0v-7M1463.8 284h2.3m0 -3.5v7m-2.3 0v-7M1479.9 157.9h4.4m0 -3.5v7m-4.4 0v-7M1648.1 259.8h12.7m0 -3.5v7m-12.7 0v-7M1467.2 135.3h4.4m0 -3.5v7m-4.4 0v-7M1481.3 260.4h3.8m0 -3.5v7m-3.8 0v-7M1528.7 189.3h9m0 -3.5v7m-9 0v-7M1548.2 200.2h8.6m0 -3.5v7m-8.6 0v-7M1531.8 114.6h8.2m0 -3.5v7m-8.2 0v-7M1454.1 163.2h4.4m0 -3.5v7m-4.4 0v-7M1532.5 113h7.6m0 -3.5v7m-7.6 0v-7M1525.4 154.7h11.6m0 -3.5v7m-11.6 0v-7M1693.5 231.4h20.9m0 -3.5v7m-20.9 0v-7M1532.1 125.9h5.4m0 -3.5v7m-5.4 0v-7M1495.3 141h3.6m0 -3.5v7m-3.6 0v-7M1565.4 184.9h15m0 -3.5v7m-15 0v-7M1544.7 181.1h11.1m0 -3.5v7m-11.1 0v-7M1503.1 139.9h3.4m0 -3.5v7m-3.4 0v-7M1568.9 184h12m0 -3.5v7m-12 0v-7M1444.8 125.5h3.1m0 -3.5v7m-3.1 0v-7M1458.5 181.6h2.4m0 -3.5v7m-2.4 0v-7M1587.1 226.4h12.7m0 -3.5v7m-12.7 0v-7M1513.8 144.6h8.2m0 -3.5v7m-8.2 0v-7M1478.4 267.3h3.7m0 -3.5v7m-3.7 0v-7M1662.5 256.7h18.6m0 -3.5v7m-18.6 0v-7M1594 276.9h14.7m0 -3.5v7m-14.7 0v-7M1563.7 175.6h10.6m0 -3.5v7m-10.6 0v-7M1547.7 203.6h8.1m0 -3.5v7m-8.1 0v-7M1456.7 160.4h3.6m0 -3.5v7m-3.6 0v-7M1530.4 141.7h9.5m0 -3.5v7m-9.5 0v-7M1443.6 150.6h3.8m0 -3.5v7m-3.8 0v-7M1701 230.7h11m0 -3.5v7m-11 0v-7M1650.2 222.6h9.1m0 -3.5v7m-9.1 0v-7M1651.8 253.5h9.6m0 -3.5v7m-9.6 0v-7M1437 163.7h4m0 -3.5v7m-4 0v-7M1455.9 142h4.9m0 -3.5v7m-4.9 0v-7M1437.3 157.9h3.7m0 -3.5v7m-3.7 0v-7M1503.2 140.5h4.7m0 -3.5v7m-4.7 0v-7M1562.6 186h7.7m0 -3.5v7m-7.7 0v-7M1519.2 210.3h9.2m0 -3.5v7m-9.2 0v-7M1510.8 144.5h6.9m0 -3.5v7m-6.9 0v-7M1515.2 142.6h4.7m0 -3.5v7m-4.7 0v-7M1562.6 204.3h5.3m0 -3.5v7m-5.3 0v-7M1466.9 108.9h4.7m0 -3.5v7m-4.7 0v-7M1548 240.2h6.1m0 -3.5v7m-6.1 0v-7M1608.3 229.6h14.3m0 -3.5v7m-14.3 0v-7M1443.1 118.6h3.6m0 -3.5v7m-3.6 0v-7M1623.7 229.4h20m0 -3.5v7m-20 0v-7M1670 239.4h15.9m0 -3.5v7m-15.9 0v-7M1541.6 244.3h11m0 -3.5v7m-11 0v-7M1435.4 170.5h2.8m0 -3.5v7m-2.8 0v-7M1467.3 268.5h4.5m0 -3.5v7m-4.5 0v-7M1439.1 179.6h3m0 -3.5v7m-3 0v-7M1495.8 275.6h5.8m0 -3.5v7m-5.8 0v-7M1584 279h7.3m0 -3.5v7m-7.3 0v-7M1509.2 271.6h6.3m0 -3.5v7m-6.3 0v-7M1493.7 150h4.8m0 -3.5v7m-4.8 0v-7M1595.2 281.1h14.2m0 -3.5v7m-14.2 0v-7M1561 235h9.4m0 -3.5v7m-9.4 0v-7M1630.5 226.5h16.9m0 -3.5v7m-16.9 0v-7M1494.9 265.8h8.3m0 -3.5v7m-8.3 0v-7M1566.2 173.2h7.1m0 -3.5v7m-7.1 0v-7M1456.2 134.6h2.4m0 -3.5v7m-2.4 0v-7M1697.4 278.1h21.5m0 -3.5v7m-21.5 0v-7M1497.1 139.5h5.8m0 -3.5v7m-5.8 0v-7M1701.7 278.2h25.9m0 -3.5v7m-25.9 0v-7M1445.7 171.6h2.2m0 -3.5v7m-2.2 0v-7M1544.1 101.4h6m0 -3.5v7m-6 0v-7M1470.8 110.1h6.6m0 -3.5v7m-6.6 0v-7M1700.5 278.7h9m0 -3.5v7m-9 0v-7M1467.4 106.2h5.3m0 -3.5v7m-5.3 0v-7M1591.6 281.1h15.9m0 -3.5v7m-15.9 0v-7M1690.4 224h10.1m0 -3.5v7m-10.1 0v-7M1647.2 277.3h8.5m0 -3.5v7m-8.5 0v-7M1494.5 155.2h7.6m0 -3.5v7m-7.6 0v-7M1694.7 276.5h22.5m0 -3.5v7m-22.5 0v-7M1517.3 242.6h4.8m0 -3.5v7m-4.8 0v-7M1564.1 246.8h6.2m0 -3.5v7m-6.2 0v-7M1472.2 104.2h3m0 -3.5v7m-3 0v-7M1534.1 90.9h9.3m0 -3.5v7m-9.3 0v-7M1513.3 247.4h6.7m0 -3.5v7m-6.7 0v-7M1443.6 110.2h4.2m0 -3.5v7m-4.2 0v-7M1476 256.4h6.1m0 -3.5v7m-6.1 0v-7M1602.5 271h16.1m0 -3.5v7m-16.1 0v-7M1456.6 255h4.1m0 -3.5v7m-4.1 0v-7M1529.3 112.2h8.8m0 -3.5v7m-8.8 0v-7M1468.6 123.2h5.3m0 -3.5v7m-5.3 0v-7M1475.4 114.6h2.8m0 -3.5v7m-2.8 0v-7M1563 167.4h13.1m0 -3.5v7m-13.1 0v-7M1690.3 275.5h11.1m0 -3.5v7m-11.1 0v-7M1445.2 186.1h3.1m0 -3.5v7m-3.1 0v-7M1559.6 225.4h12m0 -3.5v7m-12 0v-7M1454.6 161.8h5.3m0 -3.5v7m-5.3 0v-7M1459.9 278.7h2.4m0 -3.5v7m-2.4 0v-7M1445.4 119.4h2.9m0 -3.5v7m-2.9 0v-7M1460.4 251.6h2.1m0 -3.5v7m-2.1 0v-7M1707 247h20.7m0 -3.5v7m-20.7 0v-7M1560.2 196.3h10.1m0 -3.5v7m-10.1 0v-7M1469.4 103.6h4.4m0 -3.5v7m-4.4 0v-7M1544.9 242h10.8m0 -3.5v7m-10.8 0v-7M1585.9 284.7h6.2m0 -3.5v7m-6.2 0v-7M1554.9 139.1h13.2m0 -3.5v7m-13.2 0v-7M1582.6 295.9h14.9m0 -3.5v7m-14.9 0v-7M1628 226h16.2m0 -3.5v7m-16.2 0v-7M1527.2 159.7h7.6m0 -3.5v7m-7.6 0v-7M1551.6 166.8h5.9m0 -3.5v7m-5.9 0v-7M1548.1 180.3h10.1m0 -3.5v7m-10.1 0v-7M1725.6 268.5h21.7m0 -3.5v7m-21.7 0v-7M1683.6 275.8h24.5m0 -3.5v7m-24.5 0v-7M1454.8 158.3h4.9m0 -3.5v7m-4.9 0v-7M1445.3 139.8h4.3m0 -3.5v7m-4.3 0v-7M1549.9 169h9.8m0 -3.5v7m-9.8 0v-7M1626 226.7h9m0 -3.5v7m-9 0v-7M1514 246.6h9.3m0 -3.5v7m-9.3 0v-7M1498.1 132.2h6.6m0 -3.5v7m-6.6 0v-7M1561.4 243.1h5.8m0 -3.5v7m-5.8 0v-7M1513.1 260h5.5m0 -3.5v7m-5.5 0v-7M1560.9 172.3h10.6m0 -3.5v7m-10.6 0v-7M1546.8 199.7h11.7m0 -3.5v7m-11.7 0v-7M1531.7 139.1h4.8m0 -3.5v7m-4.8 0v-7M1649.7 241.3h15.3m0 -3.5v7m-15.3 0v-7M1468.6 111.3h3.6m0 -3.5v7m-3.6 0v-7M1492.9 152h4m0 -3.5v7m-4 0v-7M1561 210h11.8m0 -3.5v7m-11.8 0v-7M1680.9 230.4h16.8m0 -3.5v7m-16.8 0v-7M1519.5 237.9h5.4m0 -3.5v7m-5.4 0v-7M1635.6 223.9h8.5m0 -3.5v7m-8.5 0v-7M1694.4 230.5h14.6m0 -3.5v7m-14.6 0v-7M1560.3 241.7h10.2m0 -3.5v7m-10.2 0v-7M1615.4 227.5h15.1m0 -3.5v7m-15.1 0v-7M1632.3 273.8h10.6m0 -3.5v7m-10.6 0v-7M1589 224.5h8.8m0 -3.5v7m-8.8 0v-7M1453.1 173.9h5.1m0 -3.5v7m-5.1 0v-7M1559.6 220h8.9m0 -3.5v7m-8.9 0v-7M1458.1 146.5h3.1m0 -3.5v7m-3.1 0v-7M1559.5 144h11.2m0 -3.5v7m-11.2 0v-7M1529.4 186.5h5m0 -3.5v7m-5 0v-7M1456.3 203.9h3.8m0 -3.5v7m-3.8 0v-7M1456.8 224.2h1.9m0 -3.5v7m-1.9 0v-7M1553.9 149.5h5.2m0 -3.5v7m-5.2 0v-7M1463 289.5h3m0 -3.5v7m-3 0v-7M1456.5 151.1h3.9m0 -3.5v7m-3.9 0v-7M1647.6 260.7h17.9m0 -3.5v7m-17.9 0v-7M1435.9 143.6h1.6m0 -3.5v7m-1.6 0v-7M1533.1 115.3h6.7m0 -3.5v7m-6.7 0v-7M1550.9 165.9h9.5m0 -3.5v7m-9.5 0v-7M1665.8 258.5h18m0 -3.5v7m-18 0v-7M1684.5 226h13m0 -3.5v7m-13 0v-7M1439.7 184.5h1.7m0 -3.5v7m-1.7 0v-7M1736.2 264.4h10m0 -3.5v7m-10 0v-7M1509.5 157.1h4.1m0 -3.5v7m-4.1 0v-7M1602.5 228.1h12.1m0 -3.5v7m-12.1 0v-7M1577.6 211.5h16.1m0 -3.5v7m-16.1 0v-7M1624.1 229.5h19.4m0 -3.5v7m-19.4 0v-7M1518.9 167h4.9m0 -3.5v7m-4.9 0v-7M1583.9 300.8h16.4m0 -3.5v7m-16.4 0v-7M1445.3 179h3.2m0 -3.5v7m-3.2 0v-7M1648.7 248.1h11m0 -3.5v7m-11 0v-7M1499.9 149.1h4.8m0 -3.5v7m-4.8 0v-7M1517.1 171h10.3m0 -3.5v7m-10.3 0v-7M1446.4 118.2h1.9m0 -3.5v7m-1.9 0v-7M1490.1 166.6h7.4m0 -3.5v7m-7.4 0v-7M1465.1 139.9h5.7m0 -3.5v7m-5.7 0v-7M1531.5 180.3h8.5m0 -3.5v7m-8.5 0v-7M1646.8 265h22.2m0 -3.5v7m-22.2 0v-7M1445.3 102.8h2.6m0 -3.5v7m-2.6 0v-7M1560.7 197.3h13.5m0 -3.5v7m-13.5 0v-7M1493.7 146.1h4.6m0 -3.5v7m-4.6 0v-7M1674.9 234.2h21.1m0 -3.5v7m-21.1 0v-7M1480.8 154.2h3.6m0 -3.5v7m-3.6 0v-7M1707.3 245.2h24.2m0 -3.5v7m-24.2 0v-7M1443.4 167.5h3.6m0 -3.5v7m-3.6 0v-7M1453.4 227.5h5.4m0 -3.5v7m-5.4 0v-7M1531.7 104.4h9.2m0 -3.5v7m-9.2 0v-7M1665.3 257.5h20.9m0 -3.5v7m-20.9 0v-7M1474.8 255.4h5.3m0 -3.5v7m-5.3 0v-7M1442.7 148h2.9m0 -3.5v7m-2.9 0v-7M1611.5 271.2h19m0 -3.5v7m-19 0v-7M1583.4 281h13.3m0 -3.5v7m-13.3 0v-7M1500.2 282.4h5.1m0 -3.5v7m-5.1 0v-7M1717.5 278.7h13.6m0 -3.5v7m-13.6 0v-7M1712.4 244.8h16.6m0 -3.5v7m-16.6 0v-7M1597.5 284.1h7.2m0 -3.5v7m-7.2 0v-7M1476.8 144.4h4.5m0 -3.5v7m-4.5 0v-7M1467.3 106.8h5.4m0 -3.5v7m-5.4 0v-7M1642.8 209.3h12.5m0 -3.5v7m-12.5 0v-7M1533.3 102.6h5.8m0 -3.5v7m-5.8 0v-7M1592.8 277.8h15.4m0 -3.5v7m-15.4 0v-7M1648.6 210.9h8.9m0 -3.5v7m-8.9 0v-7M1520.1 223h9.6m0 -3.5v7m-9.6 0v-7M1532.6 134.1h5.4m0 -3.5v7m-5.4 0v-7M1560.1 219.2h12.8m0 -3.5v7m-12.8 0v-7M1669.2 247.7h11.8m0 -3.5v7m-11.8 0v-7M1443.2 160.3h3.5m0 -3.5v7m-3.5 0v-7M1540.5 98h7.7m0 -3.5v7m-7.7 0v-7M1538 94.4h11.4m0 -3.5v7m-11.4 0v-7M1670.3 242.9h12.6m0 -3.5v7m-12.6 0v-7M1457 229.7h2.1m0 -3.5v7m-2.1 0v-7M1528.3 123h8.7m0 -3.5v7m-8.7 0v-7M1454.4 245.8h4.6m0 -3.5v7m-4.6 0v-7M1479.4 138.2h3.3m0 -3.5v7m-3.3 0v-7M1625.9 275.1h7.8m0 -3.5v7m-7.8 0v-7M1500.5 129.3h3.4m0 -3.5v7m-3.4 0v-7M1683.5 275.2h16.8m0 -3.5v7m-16.8 0v-7M1669.8 251.7h8.7m0 -3.5v7m-8.7 0v-7M1549.6 122h9m0 -3.5v7m-9 0v-7M1642.3 212.3h20.9m0 -3.5v7m-20.9 0v-7M1476.1 122.6h5.3m0 -3.5v7m-5.3 0v-7M1553.6 150.3h8.6m0 -3.5v7m-8.6 0v-7M1438.4 141.8h3.6m0 -3.5v7m-3.6 0v-7M1639.9 215.3h17.1m0 -3.5v7m-17.1 0v-7M1717.9 251.6h17.2m0 -3.5v7m-17.2 0v-7M1586.4 296.4h9.4m0 -3.5v7m-9.4 0v-7M1469.6 122.7h5m0 -3.5v7m-5 0v-7M1456.8 198.1h4.7m0 -3.5v7m-4.7 0v-7M1437.9 169.2h2.8m0 -3.5v7m-2.8 0v-7M1457 215.9h4.7m0 -3.5v7m-4.7 0v-7M1447.5 110.9h1.7m0 -3.5v7m-1.7 0v-7M1678 273h24.4m0 -3.5v7m-24.4 0v-7M1533.9 139.2h4.2m0 -3.5v7m-4.2 0v-7M1720 253.8h25.1m0 -3.5v7m-25.1 0v-7M1460.4 266.3h3.5m0 -3.5v7m-3.5 0v-7M1608.5 271.9h17.7m0 -3.5v7m-17.7 0v-7M1501.1 149.1h7m0 -3.5v7m-7 0v-7M1461.9 280.9h5m0 -3.5v7m-5 0v-7M1537.5 93h11.8m0 -3.5v7m-11.8 0v-7M1476.1 116.9h3.7m0 -3.5v7m-3.7 0v-7M1479.4 132h2.6m0 -3.5v7m-2.6 0v-7M1465.1 281.4h3.7m0 -3.5v7m-3.7 0v-7M1593.4 281.4h16.5m0 -3.5v7m-16.5 0v-7M1546.4 241.7h9.4m0 -3.5v7m-9.4 0v-7M1439.6 190.8h4m0 -3.5v7m-4 0v-7M1567.3 262.3h6m0 -3.5v7m-6 0v-7M1458.2 246.3h4.1m0 -3.5v7m-4.1 0v-7M1665.1 269.5h21.1m0 -3.5v7m-21.1 0v-7M1443.2 98.1h3.7m0 -3.5v7m-3.7 0v-7M1561.4 220.5h6.7m0 -3.5v7m-6.7 0v-7M1520.8 178.2h4m0 -3.5v7m-4 0v-7M1438.2 205.3h3.6m0 -3.5v7m-3.6 0v-7M1455.2 161.6h2.9m0 -3.5v7m-2.9 0v-7M1661.1 264.7h22.6m0 -3.5v7m-22.6 0v-7M1674.5 272.4h17m0 -3.5v7m-17 0v-7M1644 210.6h9m0 -3.5v7m-9 0v-7M1466.6 132.7h6m0 -3.5v7m-6 0v-7M1543.9 224.6h7.9m0 -3.5v7m-7.9 0v-7M1493.1 157.8h6.4m0 -3.5v7m-6.4 0v-7M1726.9 268.5h24m0 -3.5v7m-24 0v-7M1564.3 204h5m0 -3.5v7m-5 0v-7M1528.3 181.5h9.5m0 -3.5v7m-9.5 0v-7M1598.3 276.2h11.7m0 -3.5v7m-11.7 0v-7M1500.2 124.2h5.1m0 -3.5v7m-5.1 0v-7M1529.5 178.2h6.9m0 -3.5v7m-6.9 0v-7M1474.8 125.6h7m0 -3.5v7m-7 0v-7M1634.4 276.8h16.9m0 -3.5v7m-16.9 0v-7M1560.6 179.3h13.4m0 -3.5v7m-13.4 0v-7M1477.6 122.6h7.5m0 -3.5v7m-7.5 0v-7M1561.6 145.3h6.6m0 -3.5v7m-6.6 0v-7M1456 145.6h5.6m0 -3.5v7m-5.6 0v-7M1551.2 122.1h11.7m0 -3.5v7m-11.7 0v-7M1454.9 154.8h2.6m0 -3.5v7m-2.6 0v-7M1444.3 105.8h3.4m0 -3.5v7m-3.4 0v-7M1442 108.1h2.5m0 -3.5v7m-2.5 0v-7M1482.6 254.5h3.6m0 -3.5v7m-3.6 0v-7M1457.5 255.5h4m0 -3.5v7m-4 0v-7M1644.7 274.4h16.3m0 -3.5v7m-16.3 0v-7M1467.6 280.4h2.2m0 -3.5v7m-2.2 0v-7M1678.8 274.2h9m0 -3.5v7m-9 0v-7M1642.7 210.9h15.8m0 -3.5v7m-15.8 0v-7M1543.3 188h6.1m0 -3.5v7m-6.1 0v-7M1560.3 213.1h6.7m0 -3.5v7m-6.7 0v-7M1440.7 201.8h3.1m0 -3.5v7m-3.1 0v-7M1528.5 140.9h7.6m0 -3.5v7m-7.6 0v-7M1560.8 148.9h5m0 -3.5v7m-5 0v-7M1435.7 180.2h2.5m0 -3.5v7m-2.5 0v-7M1465.4 161.8h5.3m0 -3.5v7m-5.3 0v-7M1508.2 273.6h9.7m0 -3.5v7m-9.7 0v-7M1563.8 186.7h6.4m0 -3.5v7m-6.4 0v-7M1549.8 118.4h11.4m0 -3.5v7m-11.4 0v-7M1719 253.8h21.9m0 -3.5v7m-21.9 0v-7M1545.1 109.5h11.6m0 -3.5v7m-11.6 0v-7M1594.7 227.2h15.5m0 -3.5v7m-15.5 0v-7M1550.4 212.3h5.5m0 -3.5v7m-5.5 0v-7M1610.9 230.8h18.5m0 -3.5v7m-18.5 0v-7M1500.6 140.8h7.1m0 -3.5v7m-7.1 0v-7M1584.8 294.9h16.8m0 -3.5v7m-16.8 0v-7M1480.3 155.9h2.6m0 -3.5v7m-2.6 0v-7M1551.1 111h6m0 -3.5v7m-6 0v-7M1496.4 276.6h4.9m0 -3.5v7m-4.9 0v-7M1570.8 188.5h9.2m0 -3.5v7m-9.2 0v-7M1441.5 111.9h4.1m0 -3.5v7m-4.1 0v-7M1588.5 296.7h13.3m0 -3.5v7m-13.3 0v-7M1530.8 147.3h5.9m0 -3.5v7m-5.9 0v-7M1666.4 244.5h13.5m0 -3.5v7m-13.5 0v-7M1695 228h15.8m0 -3.5v7m-15.8 0v-7M1456.9 190.7h2.2m0 -3.5v7m-2.2 0v-7M1522.2 167.7h6.3m0 -3.5v7m-6.3 0v-7M1522.8 238.7h4.6m0 -3.5v7m-4.6 0v-7M1531.2 114.7h11.7m0 -3.5v7m-11.7 0v-7M1559.1 191.4h14m0 -3.5v7m-14 0v-7M1646.8 247.7h19.7m0 -3.5v7m-19.7 0v-7M1560.7 208.8h5.9m0 -3.5v7m-5.9 0v-7M1456.5 252.9h2.1m0 -3.5v7m-2.1 0v-7M1440.9 201.9h4.2m0 -3.5v7m-4.2 0v-7M1587.7 213.5h6.7m0 -3.5v7m-6.7 0v-7M1456 145.4h2.8m0 -3.5v7m-2.8 0v-7M1528 187.4h8.9m0 -3.5v7m-8.9 0v-7M1592.4 229.1h12.3m0 -3.5v7m-12.3 0v-7M1667.7 238.9h23.5m0 -3.5v7m-23.5 0v-7M1453.1 172.1h4.8m0 -3.5v7m-4.8 0v-7M1456.8 218.5h2.3m0 -3.5v7m-2.3 0v-7M1475.9 122h6.9m0 -3.5v7m-6.9 0v-7M1560.3 146.5h10.4m0 -3.5v7m-10.4 0v-7M1456.4 178.8h5.1m0 -3.5v7m-5.1 0v-7M1511.4 258h3.8m0 -3.5v7m-3.8 0v-7M1582.3 285.1h13.6m0 -3.5v7m-13.6 0v-7M1547.1 202.1h7.2m0 -3.5v7m-7.2 0v-7M1698.8 232.8h10.8m0 -3.5v7m-10.8 0v-7M1522.2 230.4h3.8m0 -3.5v7m-3.8 0v-7M1616.4 228.3h17.6m0 -3.5v7m-17.6 0v-7M1670 273.3h17.5m0 -3.5v7m-17.5 0v-7M1445.3 118.8h1.8m0 -3.5v7m-1.8 0v-7M1501.2 123.2h7.1m0 -3.5v7m-7.1 0v-7M1548.6 223.3h6m0 -3.5v7m-6 0v-7M1495.3 131.8h4.1m0 -3.5v7m-4.1 0v-7M1560.4 238.1h12.5m0 -3.5v7m-12.5 0v-7M1458.4 278.7h3.6m0 -3.5v7m-3.6 0v-7M1635.7 212h21.1m0 -3.5v7m-21.1 0v-7M1554.8 138.9h13.8m0 -3.5v7m-13.8 0v-7M1495.1 147.7h6.5m0 -3.5v7m-6.5 0v-7M1439.7 194.3h2.1m0 -3.5v7m-2.1 0v-7M1466.9 135.7h5.1m0 -3.5v7m-5.1 0v-7M1640.7 212.1h12.8m0 -3.5v7m-12.8 0v-7M1493.9 162.3h7m0 -3.5v7m-7 0v-7M1533.1 142.5h4.9m0 -3.5v7m-4.9 0v-7M1437 170.3h2.6m0 -3.5v7m-2.6 0v-7M1647.8 232.8h19.6m0 -3.5v7m-19.6 0v-7M1647.7 251h18.1m0 -3.5v7m-18.1 0v-7M1456.9 247.1h5.2m0 -3.5v7m-5.2 0v-7M1542.9 100.1h4.9m0 -3.5v7m-4.9 0v-7M1457.2 222.8h4.4m0 -3.5v7m-4.4 0v-7M1439.9 123.4h2.9m0 -3.5v7m-2.9 0v-7M1439.1 139.6h3.5m0 -3.5v7m-3.5 0v-7M1493.7 158.8h8.6m0 -3.5v7m-8.6 0v-7M1702.8 241.3h24.7m0 -3.5v7m-24.7 0v-7M1468.7 141.4h4m0 -3.5v7m-4 0v-7M1730.5 270.1h14.7m0 -3.5v7m-14.7 0v-7M1587.6 293.9h14.5m0 -3.5v7m-14.5 0v-7M1604.6 270.4h17.5m0 -3.5v7m-17.5 0v-7M1484.5 168h2.9m0 -3.5v7m-2.9 0v-7M1457.5 225.9h3.7m0 -3.5v7m-3.7 0v-7M1443 100.2h4.2m0 -3.5v7m-4.2 0v-7M1444.4 151.4h3.4m0 -3.5v7m-3.4 0v-7M1519.1 198.3h5.7m0 -3.5v7m-5.7 0v-7M1493.3 134.9h6.6m0 -3.5v7m-6.6 0v-7M1445.5 156.4h3.5m0 -3.5v7m-3.5 0v-7M1568.2 194.7h14.3m0 -3.5v7m-14.3 0v-7M1495.6 275.4h6m0 -3.5v7m-6 0v-7M1480.4 167.6h6.4m0 -3.5v7m-6.4 0v-7M1590.6 293.4h12.1m0 -3.5v7m-12.1 0v-7M1650.9 247h12.2m0 -3.5v7m-12.2 0v-7M1559.4 198.8h13.9m0 -3.5v7m-13.9 0v-7M1477 121.3h6.7m0 -3.5v7m-6.7 0v-7M1440.4 205.7h1.8m0 -3.5v7m-1.8 0v-7M1665.4 254.5h12.9m0 -3.5v7m-12.9 0v-7M1550.9 115.5h7.2m0 -3.5v7m-7.2 0v-7M1438.3 142.1h3.1m0 -3.5v7m-3.1 0v-7M1651.5 260.5h11.4m0 -3.5v7m-11.4 0v-7M1444.3 154.2h3.7m0 -3.5v7m-3.7 0v-7M1514.9 241.2h10.4m0 -3.5v7m-10.4 0v-7M1526.8 152.4h11.3m0 -3.5v7m-11.3 0v-7M1703.6 278.2h20m0 -3.5v7m-20 0v-7M1697.4 237.7h18.6m0 -3.5v7m-18.6 0v-7M1679.5 274.4h10.8m0 -3.5v7m-10.8 0v-7M1513.4 150.2h9.2m0 -3.5v7m-9.2 0v-7M1581.9 295.1h13.9m0 -3.5v7m-13.9 0v-7M1673.9 270.4h10.6m0 -3.5v7m-10.6 0v-7M1476.4 117.2h5.7m0 -3.5v7m-5.7 0v-7M1557.5 138.8h13.3m0 -3.5v7m-13.3 0v-7M1515.8 150.6h4.9m0 -3.5v7m-4.9 0v-7M1577.7 198.1h7.4m0 -3.5v7m-7.4 0v-7M1522.3 169.1h4.2m0 -3.5v7m-4.2 0v-7M1453.7 163.5h5.2m0 -3.5v7m-5.2 0v-7M1628.2 275.2h20.2m0 -3.5v7m-20.2 0v-7M1454.9 170.7h3.9m0 -3.5v7m-3.9 0v-7M1477.7 127.4h3.5m0 -3.5v7m-3.5 0v-7M1453.6 163.1h4.1m0 -3.5v7m-4.1 0v-7M1530.3 145.8h6m0 -3.5v7m-6 0v-7M1517.7 146.7h4.1m0 -3.5v7m-4.1 0v-7M1641.7 207.6h17.9m0 -3.5v7m-17.9 0v-7M1542.7 208h12.1m0 -3.5v7m-12.1 0v-7M1475 133.3h6m0 -3.5v7m-6 0v-7M1518.7 210.2h6.4m0 -3.5v7m-6.4 0v-7M1563.3 189.1h8.3m0 -3.5v7m-8.3 0v-7M1446.9 114.6h2.5m0 -3.5v7m-2.5 0v-7M1728.2 267.2h25m0 -3.5v7m-25 0v-7M1711.3 244.6h9.5m0 -3.5v7m-9.5 0v-7M1467 132.4h2.6m0 -3.5v7m-2.6 0v-7M1466 136.8h4.2m0 -3.5v7m-4.2 0v-7M1476.9 262.4h6m0 -3.5v7m-6 0v-7M1465.7 131.2h6.4m0 -3.5v7m-6.4 0v-7M1664.5 250.5h19.8m0 -3.5v7m-19.8 0v-7M1439.8 191.4h3.7m0 -3.5v7m-3.7 0v-7M1446.4 135h3.5m0 -3.5v7m-3.5 0v-7M1725.3 270.5h20.3m0 -3.5v7m-20.3 0v-7M1454.9 141.3h5.5m0 -3.5v7m-5.5 0v-7M1545.1 222.3h13m0 -3.5v7m-13 0v-7M1638.3 212.6h19.2m0 -3.5v7m-19.2 0v-7M1546.7 175h12.6m0 -3.5v7m-12.6 0v-7M1539.1 193.2h6.3m0 -3.5v7m-6.3 0v-7M1562.7 185.6h5.5m0 -3.5v7m-5.5 0v-7M1478.3 166.3h4.4m0 -3.5v7m-4.4 0v-7M1543.6 181.2h12.3m0 -3.5v7m-12.3 0v-7M1439.1 198.5h1.6m0 -3.5v7m-1.6 0v-7M1646.2 214.5h13.3m0 -3.5v7m-13.3 0v-7M1467.4 107.5h6.1m0 -3.5v7m-6.1 0v-7M1543.6 229.4h12.8m0 -3.5v7m-12.8 0v-7M1725 260.5h21.1m0 -3.5v7m-21.1 0v-7M1438.8 126.5h3.1m0 -3.5v7m-3.1 0v-7M1557.7 175h12.5m0 -3.5v7m-12.5 0v-7M1527.4 144.8h10m0 -3.5v7m-10 0v-7M1455.1 134.6h4.8m0 -3.5v7m-4.8 0v-7M1543.2 234.9h13.2m0 -3.5v7m-13.2 0v-7M1564.3 160.9h9m0 -3.5v7m-9 0v-7M1436.9 204.1h3.8m0 -3.5v7m-3.8 0v-7M1709.1 276.1h22.5m0 -3.5v7m-22.5 0v-7M1635.6 275.2h18.5m0 -3.5v7m-18.5 0v-7M1560 232h14.1m0 -3.5v7m-14.1 0v-7M1617.6 271.4h8.3m0 -3.5v7m-8.3 0v-7M1582.1 268.2h5.6m0 -3.5v7m-5.6 0v-7M1536 190.3h10.3m0 -3.5v7m-10.3 0v-7M1532 191.3h9m0 -3.5v7m-9 0v-7M1528.8 206.9h11.6m0 -3.5v7m-11.6 0v-7M1530.3 180.3h8.9m0 -3.5v7m-8.9 0v-7M1526.7 214.6h8.2m0 -3.5v7m-8.2 0v-7M1531 179.5h7.2m0 -3.5v7m-7.2 0v-7M1527.5 217.1h7.4m0 -3.5v7m-7.4 0v-7M1536.3 190.3h12.6m0 -3.5v7m-12.6 0v-7M1523.6 236.5h9.5m0 -3.5v7m-9.5 0v-7M1538.4 209h6.9m0 -3.5v7m-6.9 0v-7M1532.3 214.3h7.2m0 -3.5v7m-7.2 0v-7M1529.8 191h4.2m0 -3.5v7m-4.2 0v-7M1525.5 201.4h11.6m0 -3.5v7m-11.6 0v-7M1601.6 217.2h12.4m0 -3.5v7m-12.4 0v-7M1608.9 209h17.1m0 -3.5v7m-17.1 0v-7M1617.9 212.6h15m0 -3.5v7m-15 0v-7M1678.5 212.5h24.1m0 -3.5v7m-24.1 0v-7M1707.3 230.5h13m0 -3.5v7m-13 0v-7M1704.8 223.8h24.3m0 -3.5v7m-24.3 0v-7M1677.2 225.1h20.9m0 -3.5v7m-20.9 0v-7M1701.6 212.4h9.5m0 -3.5v7m-9.5 0v-7M1687 211.4h19.3m0 -3.5v7m-19.3 0v-7M1526.8 204.7h15.1m0 -3.5v7m-15.1 0v-7M1537 235.2h10.9m0 -3.5v7m-10.9 0v-7M1530 199.2h10.6m0 -3.5v7m-10.6 0v-7M1536.6 192.3h8.2m0 -3.5v7m-8.2 0v-7M1530.1 192h14.2m0 -3.5v7m-14.2 0v-7M1525.4 230h9.6m0 -3.5v7m-9.6 0v-7M1536 236.3h10.2m0 -3.5v7m-10.2 0v-7M1534.7 204.6h7.1m0 -3.5v7m-7.1 0v-7M1528.7 228.9h13.8m0 -3.5v7m-13.8 0v-7M1526.8 172.9h6.9m0 -3.5v7m-6.9 0v-7M1524.3 181.2h12.1m0 -3.5v7m-12.1 0v-7M1535.6 243.1h8m0 -3.5v7m-8 0v-7M1535.3 246.1h8.1m0 -3.5v7m-8.1 0v-7M1530.8 227.3h11.7m0 -3.5v7m-11.7 0v-7M1521.6 219.9h9.8m0 -3.5v7m-9.8 0v-7M1519.2 235h14.6m0 -3.5v7m-14.6 0v-7M1536.3 189.9h7.2m0 -3.5v7m-7.2 0v-7M1534.2 203.5h6.1m0 -3.5v7m-6.1 0v-7M1523.3 237.2h11.8m0 -3.5v7m-11.8 0v-7M1534.2 194.1h8.2m0 -3.5v7m-8.2 0v-7M1525.8 196.4h11.9m0 -3.5v7m-11.9 0v-7M1528.4 176.8h14m0 -3.5v7m-14 0v-7M1530.9 175.7h6.5m0 -3.5v7m-6.5 0v-7M1523.2 240.8h11.2m0 -3.5v7m-11.2 0v-7M1535.6 245.4h15.8m0 -3.5v7m-15.8 0v-7M1521.9 201.8h8.1m0 -3.5v7m-8.1 0v-7M1528.6 185.8h6m0 -3.5v7m-6 0v-7M1522.2 238h8.6m0 -3.5v7m-8.6 0v-7M1526.5 196.7h15.1m0 -3.5v7m-15.1 0v-7M1770.5 250.7h10m0 -3v6m-10 0v-6M1770.5 254.8h12m0 -3v6m-12 0v-6M1773.5 258.8h10m0 -3v6m-10 0v-6M1774.5 261.8h12m0 -3v6m-12 0v-6M1777.5 264.8h10m0 -3v6m-10 0v-6M1778.5 267.9h12m0 -3v6m-12 0v-6M1774.5 254.8h12m0 -3v6m-12 0v-6M1777.5 258.8h10m0 -3v6m-10 0v-6M1778.5 261.8h12m0 -3v6m-12 0v-6M1781.5 259.8h10m0 -3v6m-10 0v-6M1772.5 262.8h10m0 -3v6m-10 0v-6M1776.5 267.9h10m0 -3v6m-10 0v-6M1773.5 251.7h10m0 -3v6m-10 0v-6M1457.4 139.4h4m0 -3v6m-4 0v-6M1440.5 210.1h4m0 -3v6m-4 0v-6M1499.4 85.8h4m0 -3v6m-4 0v-6M1501.8 94.6h4m0 -3v6m-4 0v-6M1498.4 110.8h6m0 -3v6m-6 0v-6M1501.9 119.1h6m0 -3v6m-6 0v-6M1496 127.5h6m0 -3v6m-6 0v-6M1513.7 142.9h6m0 -3v6m-6 0v-6M1568.1 113.7h12m0 -3v6m-12 0v-6M1561.1 133.4h8m0 -3v6m-8 0v-6M1520.9 163.7h8m0 -3v6m-8 0v-6M1548.1 169.6h8m0 -3v6m-8 0v-6M1547.3 197h8m0 -3v6m-8 0v-6M1529.4 226.8h10m0 -3v6m-10 0v-6M1578 170.8h32m0 -3v6m-32 0v-6M1588.4 210.1h10m0 -3v6m-10 0v-6M1632.6 199.8h16m0 -3v6m-16 0v-6M1629 208.4h16m0 -3v6m-16 0v-6M1639.7 209.4h16m0 -3v6m-16 0v-6M1629.9 218.5h12m0 -3v6m-12 0v-6M1691 191.8h25m0 -3v6m-25 0v-6M1700 205.4h18m0 -3v6m-18 0v-6M1695.1 216.8h16m0 -3v6m-16 0v-6M1672.7 225.5h16m0 -3v6m-16 0v-6M1686.5 164.4h35.4m0 -3v6m-35.4 0v-6M1769.2 242.2h12m0 -3v6m-12 0v-6M1479 273.7h6m0 -3v6m-6 0v-6M1504.8 279.6h6m0 -3v6m-6 0v-6M1504.9 280h26m0 -3v6m-26 0v-6M1494.8 307.5h6m0 -3v6m-6 0v-6M1546.9 247.4h8m0 -3v6m-8 0v-6M1548.1 253.3h8m0 -3v6m-8 0v-6M1544.6 261.3h8m0 -3v6m-8 0v-6M1549.7 260.5h8m0 -3v6m-8 0v-6M1544.6 269.4h8m0 -3v6m-8 0v-6M1554.1 277.2h10m0 -3v6m-10 0v-6M1560.8 265.8h10m0 -3v6m-10 0v-6M1587 308.2h8m0 -3v6m-8 0v-6M1607.1 293.9h8m0 -3v6m-8 0v-6M1618.4 293.9h8m0 -3v6m-8 0v-6M1650.8 285.6h10m0 -3v6m-10 0v-6M1722.8 285.6h10m0 -3v6m-10 0v-6M1770.9 281.2h10m0 -3v6m-10 0v-6M1777.2 281.2h10m0 -3v6m-10 0v-6" stroke="#000" stroke-width=".75" fill="none"/>
<path d="M1709.7 277.7L1727 277.7L1734.4 270.7L1740 266.8L1739.5 261.6L1733.7 255L1721.9 247L1709.7 236.6L1702.2 226.4L1695.5 225L1690.1 228.1L1674 239.9L1673.1 259.6L1674.7 271.2L1687.1 275.7ZM1457.2 138L1456.7 151L1457.3 197.3L1457.3 244.7L1458.6 247.2L1458.7 259.5L1460.6 277.1L1463.9 287.8L1465.9 288.5L1469.1 280.1L1470.1 259.2L1471.1 257L1473.5 255.6L1476.6 255.7L1478.9 257.3L1481.2 265.4L1482.3 258.4L1484 256.2L1485.9 255.5L1491.7 255.5L1493.3 256L1494.6 257L1495.6 259.3L1497.5 277.1L1499.8 284.3L1505.2 278.2L1511.7 277.1L1514 267L1517.7 246.1L1518.6 244.7L1520 243.7L1524.2 243.4L1524.2 168.5L1524.5 166.9L1526.4 164.7L1528.9 164.2L1531.2 165.1L1532.6 167.2L1533.5 193.1L1537.3 196.1L1542.5 192.7L1545.5 192.6L1546 190.1L1553 177.8L1556.1 152.8L1557.6 150.7L1559.9 149.8L1561.9 150.1L1563.3 151.1L1564.2 152.5L1564.5 154.1L1564.6 247.1L1567 255.9L1571.9 262.5L1579.8 266.5L1587.9 275L1588.3 276.6L1589.8 299.1L1591.2 302.4L1595.1 295.2L1600.3 282.9L1604.5 275.5L1606.7 273.8L1616.9 272.6L1629.4 273.7L1647.9 276.8L1653.7 279.9L1656.5 273.1L1656 221.8L1654.7 213L1652.3 209.3L1649.7 208.9L1647.4 210.3L1644.3 218L1634.8 226.7L1633 227.7L1616.7 228.8L1597.4 227.8L1594.8 226.4L1594 225L1592.4 219L1585.3 204.8L1576.5 191.4L1566.9 158.1L1563 136.3L1556.1 124.2L1554 112.1L1541.3 90L1539.4 89.4L1538.3 90.4L1537.4 99.4L1535.2 111.3L1534 123.1L1532.5 157.1L1531.9 158.6L1530.5 160.1L1527.7 160.8L1526.1 160.2L1524.9 159.2L1519.2 148.5L1518 143.8L1513.6 144L1513.5 151.8L1512 154.3L1510.6 155.1L1508.5 155.2L1506.9 154.6L1505.7 153.4L1505 151.1L1504.2 124L1499.2 127.3L1497.6 137.4L1495.3 164.8L1494 166.4L1491.7 167.3L1485.8 167.3L1483.2 166.1L1482.2 164.7L1481.9 163.1L1480.6 123.4L1478.2 113.9L1473.9 103.3L1472.3 103.5L1470.2 107.8L1469.1 122.9L1469 157.5L1468 159.8L1466.3 161L1462.2 161.1L1460.4 160.1L1459.5 158.7L1459.1 151.3ZM1548.4 196.3L1548.5 243.4L1550.1 244.5L1551.8 243.4L1551.8 196.9ZM1444.2 111.1L1438.7 137.6L1437.3 151.1L1437.8 177L1439.7 201.7L1441.9 212.2L1443.6 212.2L1445.2 208.3L1446.3 197.1L1446.6 150.9L1447.6 110.7L1447.2 100.7L1445.8 98Z" fill="#000" fill-rule="evenodd"/>
<path d="M1548.9 219.1h0M1655.6 279h0M1548.7 217.3h0M1563.3 179h0M1524.2 161.9h0M1518.8 146.1h0M1532 164.1h0M1490.4 168.9h0M1567.8 168.7h0M1565.7 180.4h0M1532.1 138.2h0M1656.2 274.2h0M1506 138.8h0M1565.2 246.4h0M1437.9 160.6h0M1479 159.8h0M1456.8 243.5h0M1470.1 146.6h0M1557.6 129.8h0M1553 208h0M1459.6 205h0M1654.8 248.7h0M1448.8 104.6h0M1564.9 229h0M1549.2 202.9h0M1469.4 124.3h0M1512.2 145.5h0M1447 99.4h0M1562.6 137.6h0M1693.8 227.5h0M1457.8 174.6h0M1624 227.4h0M1469.7 269.5h0M1541.7 193.1h0M1502.4 123.6h0M1594.7 226.8h0M1482.6 253.7h0M1523 188.5h0M1446.5 128h0M1563.7 144.3h0M1574.9 262.5h0M1549.3 199.7h0M1555.8 149h0M1457 145.9h0M1552.7 111h0M1730.5 270.5h0M1533.1 165.7h0M1581.9 203.4h0M1457 180.3h0M1549.7 229.5h0M1500.6 128.3h0M1554.8 126.3h0M1710.6 236.9h0M1738.1 269.6h0M1543 191.9h0M1553.7 111.5h0M1520.3 156.1h0M1496.8 136.2h0M1590.2 295.2h0M1461.1 258.6h0M1436.4 149h0M1535.7 136.6h0M1466.3 289.4h0M1487.2 167.4h0M1652.5 276.8h0M1456.7 234.9h0M1497.8 161h0M1502.9 137.4h0M1478 256.7h0M1480.2 134.6h0M1457.4 142.2h0M1517 150.4h0M1468.4 283.2h0M1470.6 156.6h0M1552.7 199.9h0M1573.9 190.5h0M1551.7 110.9h0M1447.3 198.8h0M1680.4 274.8h0M1586 268.6h0M1497.7 144.8h0M1533.3 151.5h0M1566.9 240.5h0M1567.1 233.6h0M1551.5 209.7h0M1550 215.9h0M1613.1 273.4h0M1513.2 255.5h0M1487.6 254.4h0M1650.9 209.8h0M1469.5 258h0M1443.2 107.2h0M1470.6 138.7h0M1469.1 280h0M1521.8 242.2h0M1489.8 168.9h0M1461 265.7h0M1534.6 184.8h0M1537.6 109.7h0M1459 273.1h0M1697.6 274.6h0M1530.7 157.7h0M1468.9 117.5h0M1731.4 254.4h0M1570.3 169.3h0M1698.6 274h0M1495.5 263.5h0M1567 183.4h0M1445.4 143.4h0M1516.4 257.6h0M1549.7 216.6h0M1559.5 128.1h0M1500.9 281h0M1675 266.7h0M1589.2 300.8h0M1457.9 225.9h0M1593.3 226.8h0M1465.9 280.1h0M1580.2 197.5h0M1444.4 148.9h0M1570.1 168.7h0M1653.2 232.5h0M1551.2 244h0M1503.7 151.2h0M1564.4 208.6h0M1515.1 149.3h0M1510.5 154.2h0M1656.6 256.6h0M1440.6 140.7h0M1441.6 194.7h0M1655 243.4h0M1548.6 195.8h0M1565.7 184.5h0M1458.4 167.3h0M1513.6 259h0M1447 146.4h0M1467.4 259h0M1437.4 164.6h0M1439.3 178.7h0M1567.2 182.3h0M1566.2 256.1h0M1445.2 104.7h0M1534.5 190.2h0M1553.3 158.3h0M1609.9 271h0M1489.6 167h0M1523.7 189.6h0M1479.5 114.2h0M1601.2 281.7h0M1537.2 100.9h0M1525.6 174.7h0M1563.7 220.9h0M1492.1 255.7h0M1521.7 200.6h0M1533.8 149.9h0M1705.4 228.5h0M1536.7 118.9h0M1626.3 272h0M1439 174.3h0M1503.1 143.1h0M1455.8 167.9h0M1441.6 199.4h0M1515.9 251.8h0M1565 176.2h0M1571.3 173.5h0M1540.4 88.4h0M1590.2 289.7h0M1442 206.8h0M1583.7 206.2h0M1634.1 274.9h0M1633.3 273.8h0M1721.9 277.9h0M1441.2 131.9h0M1477.3 255.8h0M1506.2 157.4h0M1688.1 276.8h0M1468.1 284.5h0M1461.7 276h0M1456.8 172.7h0M1496.3 137.5h0M1674.6 242.1h0M1706.6 233.3h0M1548.3 211.2h0M1738.3 262.9h0M1471.7 105.2h0M1456.9 230.5h0M1591.5 295.8h0M1565.2 178.8h0M1447.8 157.8h0M1565 229.2h0M1722 245.3h0M1469.5 155h0M1516.1 254.7h0M1567.9 163.2h0M1512.9 272.9h0M1472.3 116.3h0M1683.1 275.7h0M1459.7 183.4h0M1532.2 155.1h0M1684.8 231.3h0M1495 153.6h0M1638.4 272.2h0M1532.7 124.4h0M1469.1 260.3h0M1564.9 180.9h0M1543.7 188.8h0M1720.2 246h0M1535.8 149.1h0M1582.5 267.2h0M1443.1 201.8h0M1591.7 297.2h0M1514.5 149.2h0M1484.3 253.6h0M1551.2 173.3h0M1588.7 291.4h0M1605.6 274.6h0M1558.9 130h0M1481.7 130.8h0M1700.5 227.9h0M1588.8 282.9h0M1505.2 275.7h0M1437.8 161.2h0M1458 159.4h0M1552.5 161.8h0M1552.2 170.2h0M1469 159.7h0M1655.8 236.9h0M1456.7 237.9h0M1563.3 190.2h0M1591 303.4h0M1480 121.5h0M1496.6 264.4h0M1445.5 178.2h0M1470.5 257.3h0M1508.1 278.6h0M1536.3 96.4h0M1459.7 198.1h0M1676 272.1h0M1536.6 112h0M1574.3 192.8h0M1567.1 236.6h0M1455.7 144.3h0M1730.8 255.3h0M1457.5 173.8h0M1455.9 202.5h0M1455.6 177.2h0M1499 137h0M1655.4 252.8h0M1591.7 284.2h0M1678.2 237h0M1596.7 229.1h0M1448.1 154.6h0M1548.9 181.8h0M1584.8 270h0M1567.3 202.1h0M1525.1 205.8h0M1649.6 211.9h0M1686.5 274.6h0M1482 138.2h0M1548.6 185.7h0M1478.2 113.1h0M1675.7 263.2h0M1478.9 131.5h0M1605.8 227.8h0M1551 237.9h0M1717.4 277.3h0M1445.3 121.5h0M1565.5 165.8h0M1535.3 181h0M1481.2 164.5h0M1446 102.4h0M1587.8 283.3h0M1459.2 215.9h0M1628.5 230.9h0M1566.7 168.9h0M1547.3 98.4h0M1592.2 224.2h0M1590 289.6h0M1505.8 279.6h0M1458.9 150.5h0M1441.8 132.3h0M1550.7 108.2h0M1498.7 268.5h0M1467.5 261.2h0M1470.5 151.1h0M1457.3 140.1h0M1605.7 271.1h0M1468.1 141.4h0M1534.7 108.2h0M1468.9 154.1h0M1522.1 243.7h0M1581.8 267.3h0M1713.5 278.4h0M1722.6 246.8h0M1570.7 172.7h0M1549.4 206.5h0M1461.4 274.1h0M1439 174.5h0M1553.2 210.9h0M1546.4 98.6h0M1550.7 209.9h0M1710.5 276.8h0M1499.4 275.3h0M1533.1 164.3h0M1496.7 261.5h0M1471.5 126.6h0M1445.3 158.7h0M1503.1 129.9h0M1633.2 227.6h0M1455.5 153.5h0M1551.2 210.9h0M1586.8 209h0M1524.6 209.8h0M1634.4 227.3h0M1563.6 202.5h0M1656.6 239.1h0M1457.1 179.9h0M1461.4 267.1h0M1726.9 278.3h0M1440.2 157.5h0M1442.1 129.1h0M1499.9 285h0M1732.1 256.6h0M1708.5 275.4h0M1438.7 131.4h0M1524.5 244.8h0M1587.9 288.9h0M1530.5 158.6h0M1521.3 155.3h0M1518.1 147.7h0M1470.2 278h0M1620.5 227.1h0M1610.4 227.6h0M1467.7 268.9h0M1529.9 162.3h0M1468.1 282.1h0M1439.3 138.2h0M1456.7 219.1h0M1622.4 230.4h0M1550.9 210.5h0M1522.7 173.1h0M1480.3 255.9h0M1588.9 295.9h0M1575.7 194.9h0M1464.9 284h0M1459.1 141.6h0M1480.8 159.1h0M1704.2 227.7h0M1482.1 157.9h0M1446.5 179.6h0M1567.3 224.6h0M1654.4 259.8h0M1469.4 135.3h0M1709 278h0M1483.2 260.4h0M1739.2 262.3h0M1551.3 223.1h0M1554.2 150.9h0M1580.2 267.4h0M1567.4 236.7h0M1566.9 157.2h0M1589.4 293.3h0M1439.1 152.1h0M1533.2 189.3h0M1552.5 200.2h0M1504.7 155h0M1535.9 114.6h0M1456.3 163.2h0M1536.3 113h0M1531.2 154.7h0M1443.9 163.8h0M1704 231.4h0M1732.2 254.7h0M1534.8 125.9h0M1497.1 141h0M1572.9 184.9h0M1550.3 181.1h0M1619.8 229.5h0M1459.5 176.8h0M1608.6 227.4h0M1504.8 139.9h0M1673.5 239.9h0M1439.6 176h0M1535.6 184.9h0M1459.3 157.5h0M1540.3 89h0M1447.6 143.3h0M1460.2 238.9h0M1600.3 227.1h0M1575.2 261.5h0M1563.8 148.7h0M1588.6 287.5h0M1574.9 184h0M1446.3 125.5h0M1591.1 289.1h0M1437.9 135.4h0M1548.9 183.1h0M1502.3 142.4h0M1512.2 154.9h0M1459.7 181.6h0M1499.6 140h0M1548.8 243h0M1593.5 226.4h0M1565.1 206.6h0M1517.9 144.6h0M1463.8 284.9h0M1480.2 267.3h0M1554.3 174.8h0M1447.8 129.8h0M1671.8 256.7h0M1601.3 276.9h0M1481 135.1h0M1598.8 280.3h0M1566.1 175.2h0M1569 175.6h0M1438.8 165.2h0M1444.9 209.2h0M1551.7 203.6h0M1437.8 171.6h0M1456 191.9h0M1458.5 160.4h0M1535.2 141.7h0M1441.5 209.4h0M1468.3 141.9h0M1445.4 150.6h0M1555 167.2h0M1681.2 273.3h0M1532.9 141.1h0M1693.8 273.7h0M1447 144.4h0M1577.8 266.5h0M1706.5 230.7h0M1503.9 275.7h0M1654.8 222.6h0M1656.5 253.5h0M1439 163.7h0M1458.3 142h0M1655.9 246.5h0M1552.2 220.1h0M1634.4 274.3h0M1439.1 157.9h0M1447.9 121.3h0M1505.6 140.5h0M1445.2 102.5h0M1572 172.6h0M1498.2 263h0M1468 147.4h0M1445.7 199.4h0M1522.7 227.9h0M1547.8 99.5h0M1599.2 288.9h0M1736.9 267.1h0M1566.4 186h0M1564.5 170.7h0M1549.5 236.6h0M1523.8 210.3h0M1437.8 152.3h0M1510.6 153.7h0M1624.9 228.5h0M1514.2 144.5h0M1594.5 292.4h0M1590.8 279.8h0M1507 153h0M1654.6 222.8h0M1517.6 142.6h0M1565.3 204.3h0M1555.3 151.9h0M1469.3 108.9h0M1496.1 150.8h0M1551.1 240.2h0M1548 211h0M1547.4 184.9h0M1513.8 152.3h0M1615.4 229.6h0M1647.9 213.3h0M1524.8 164.3h0M1478.9 125.3h0M1444.9 118.6h0M1440 200.2h0M1542 191.5h0M1633.7 229.4h0M1548.2 231.8h0M1460.4 245.3h0M1439 202.3h0M1497.2 137.5h0M1439.4 199.5h0M1650.9 275.2h0M1524.7 157.2h0M1708.7 233.9h0M1678 239.4h0M1457.9 185h0M1457.5 238h0M1552.6 176.7h0M1657.1 234.7h0M1522.7 235.3h0M1547.1 244.3h0M1491.5 169.1h0M1436.8 170.5h0M1648.8 277.2h0M1448.3 137h0M1481.2 142.2h0M1469.6 268.5h0M1446.1 132.4h0M1496.1 164.5h0M1533 118.8h0M1640.5 276.8h0M1614.3 228.7h0M1654.7 273.1h0M1440.6 179.6h0M1498.7 275.6h0M1462.1 266.4h0M1531.4 167.5h0M1539.3 193.4h0M1497 163.5h0M1598.3 226.8h0M1587.7 279h0M1552.9 171.8h0M1512.3 271.6h0M1496.1 150h0M1602.3 281.1h0M1492.4 253.8h0M1565.7 235h0M1602.8 275.3h0M1499.5 268.3h0M1524.1 244.7h0M1638.9 226.5h0M1499.1 265.8h0M1468.3 123.5h0M1482.1 166.3h0M1653.9 211.2h0M1569.8 173.2h0M1480.4 137.3h0M1457.4 134.6h0M1440 205.2h0M1555.8 150h0M1459.7 148.6h0M1708.1 278.1h0M1500 139.5h0M1514.5 260.8h0M1718.9 245.1h0M1458.6 267.7h0M1714.6 278.2h0M1444.6 142.3h0M1446.8 171.6h0M1555.7 121.7h0M1594.1 221.6h0M1497.4 145.1h0M1456.7 244.4h0M1455.9 151.2h0M1547 101.4h0M1549.8 244.7h0M1474.1 110.1h0M1455.7 171.7h0M1704.9 278.7h0M1470 106.2h0M1534.3 193h0M1447.4 171.1h0M1467.6 273h0M1545.8 186.5h0M1439.3 151.7h0M1438.7 203.5h0M1590.3 282.8h0M1587.7 287.5h0M1540 97.5h0M1599.6 281.1h0M1705.3 274.9h0M1469.5 110h0M1522.1 218.7h0M1460 276.8h0M1550.4 104h0M1695.4 224h0M1522.3 213.3h0M1438.2 139.4h0M1591.8 226.4h0M1651.5 277.3h0M1551.8 218.3h0M1498.3 155.2h0M1565.5 241.9h0M1617.4 230.9h0M1564.8 158.8h0M1705.9 276.5h0M1563.4 146.4h0M1519.7 242.6h0M1567.2 246.8h0M1473.7 104.2h0M1681.3 270.8h0M1547.9 195h0M1445.9 195.2h0M1468.9 144.3h0M1594.5 292.2h0M1440.2 162.7h0M1549.4 214.5h0M1538.7 90.9h0M1516.7 247.4h0M1503.3 152.5h0M1456.7 196.7h0M1591.6 224.5h0M1512.1 275.6h0M1499.4 280.7h0M1456.5 132.6h0M1460.3 250.5h0M1445.7 110.2h0M1479 256.4h0M1610.5 271h0M1458.6 173.6h0M1458.7 255h0M1729.2 273.7h0M1533.7 112.2h0M1726.6 250h0M1471.3 123.2h0M1718.7 275h0M1572.8 186.1h0M1476.8 114.6h0M1468 145.7h0M1569.5 167.4h0M1695.9 275.5h0M1458.4 201.8h0M1459.4 154.6h0M1446.7 186.1h0M1460.8 255.3h0M1532.4 167.9h0M1565.6 225.4h0M1445.1 155.6h0M1457.2 161.8h0M1570.2 166.5h0M1468 285.7h0M1461.1 278.7h0M1446.5 150.4h0M1531.8 160.1h0M1589.3 298.1h0M1446.9 119.4h0M1673.4 248.1h0M1724.7 249.7h0M1523.8 156.5h0M1461.5 251.6h0M1656.1 275.1h0M1645.4 215.6h0M1563.9 146.6h0M1717.3 247h0M1526.4 163.2h0M1605.2 271.7h0M1676.8 236.6h0M1458.2 221.8h0M1625.3 272.8h0M1565.2 196.3h0M1672.8 265h0M1471.6 103.6h0M1636.5 227.8h0M1536.7 100.5h0M1536 119.9h0M1521.8 207h0M1550.3 242h0M1446.5 196.6h0M1589 284.7h0M1561.5 139.1h0M1513.2 264.4h0M1590 295.9h0M1636.1 226h0M1531 159.7h0M1554.6 166.8h0M1553.1 180.3h0M1469.4 162.2h0M1719 247h0M1736.5 268.5h0M1504.3 275.6h0M1695.8 275.8h0M1675.4 269.2h0M1470.3 119h0M1634.1 226.8h0M1457.2 158.3h0M1447.4 139.8h0M1697.6 275.4h0M1444 212.7h0M1470.1 115h0M1650.4 209h0M1443.6 111.6h0M1554.9 169h0M1564.2 192.3h0M1560 133.1h0M1440.6 177.8h0M1566.6 231.8h0M1653.7 212h0M1630.5 226.7h0M1518.6 246.6h0M1501.4 132.2h0M1523.6 216.3h0M1628.6 273.4h0M1501.9 279.8h0M1590.9 221.4h0M1532.1 162.8h0M1564.3 243.1h0M1657.5 255.1h0M1515.9 260h0M1734.5 270.7h0M1531.9 156.1h0M1464 163.7h0M1448.1 158.6h0M1566.2 172.3h0M1674.3 247.5h0M1536.3 100.5h0M1689.7 275.7h0M1634.3 273.1h0M1552.6 199.7h0M1534.1 139.1h0M1553.5 167.9h0M1715.3 275.8h0M1553.1 120.5h0M1703 228.8h0M1502.3 127.5h0M1657.3 241.3h0M1470.4 111.3h0M1494.9 152h0M1515.2 245.9h0M1566.9 210h0M1516.7 147.8h0M1521.5 190.5h0M1689.3 230.4h0M1457.9 177.5h0M1448.8 105.1h0M1468.4 129h0M1522.2 237.9h0M1639.9 223.9h0M1595.8 289.9h0M1638.8 273.4h0M1613.1 230.5h0M1565.2 177.2h0M1470.2 145.8h0M1701.7 230.5h0M1444 149.6h0M1565.4 241.7h0M1600.4 280.2h0M1622.9 227.5h0M1534.3 125.6h0M1637.6 273.8h0M1736.5 269.4h0M1593.4 224.5h0M1685.8 231.9h0M1584 205.3h0M1455.6 173.9h0M1564 220h0M1459.6 146.5h0M1576.4 196.2h0M1624 228.1h0M1468.7 155.3h0M1655.2 258.2h0M1522 209.2h0M1533.6 163.4h0M1438.5 193.8h0M1654.7 240.8h0M1565.1 144h0M1531.9 186.5h0M1592.2 290.7h0M1470.8 145.8h0M1469.1 115.1h0M1708.3 238.5h0M1457.5 164.7h0M1459.7 266.6h0M1515.3 254.4h0M1524.5 202.2h0M1684.5 235.6h0M1563.9 171.1h0M1565 200h0M1458.2 203.9h0M1457.5 188.3h0M1655.3 250.6h0M1536.4 117.2h0M1443.9 145h0M1652.7 217.4h0M1594.6 297.6h0M1540.5 88.7h0M1552.3 116.8h0M1457.8 224.2h0M1556.5 149.5h0M1563.8 166h0M1700.6 276.8h0M1655.5 218h0M1525 213.1h0M1464.5 289.5h0M1480.2 149.5h0M1563.5 157.6h0M1583.4 206.2h0M1497.8 135.2h0M1458.4 151.1h0M1557.3 129h0M1521.2 169.4h0M1656.5 260.7h0M1436.7 143.6h0M1657.5 263.4h0M1715.3 278.1h0M1440.8 132.4h0M1684 271.9h0M1536.4 115.3h0M1555.6 165.9h0M1674.8 258.5h0M1549.3 222.4h0M1514.2 265.4h0M1496.4 158h0M1691 226h0M1440.6 184.5h0M1680.2 237.8h0M1741.2 264.4h0M1511.6 157.1h0M1531.9 169.4h0M1608.5 228.1h0M1657.6 250.3h0M1688.3 275.9h0M1585.7 211.5h0M1656.5 262.5h0M1567.2 206.2h0M1633.8 229.5h0M1549 184.9h0M1512.5 271.6h0M1521.4 167h0M1592.1 300.8h0M1441.5 211.6h0M1446.9 179h0M1510.9 273.8h0M1654.2 248.1h0M1502.3 149.1h0M1564.8 211.1h0M1522.3 171h0M1447.4 118.2h0M1471 123.5h0M1550.2 177.6h0M1551.8 239.6h0M1493.8 166.6h0M1480.5 151.6h0M1456.2 183.9h0M1533.7 171.4h0M1468 139.9h0M1657.9 267h0M1565.1 158.5h0M1439.7 178.6h0M1485.8 255.8h0M1535.8 180.3h0M1592 215.9h0M1657.9 265h0M1459.1 163.8h0M1514 251.6h0M1503.8 147.3h0M1522.8 176.8h0M1552.3 235.5h0M1444.2 206.7h0M1729.6 251.8h0M1525.1 225.3h0M1680.8 271.3h0M1564.6 173.5h0M1443.9 119.1h0M1446.7 102.8h0M1523.2 230.6h0M1457.5 133.8h0M1567.5 197.3h0M1496 146.1h0M1685.5 234.2h0M1654.9 217.3h0M1548.5 181.1h0M1482.6 154.2h0M1719.4 245.2h0M1537 119.9h0M1498.6 273.4h0M1445.2 167.5h0M1456.1 227.5h0M1536.3 104.4h0M1675.8 257.5h0M1477.4 255.4h0M1468.6 128.7h0M1496 159.5h0M1444.1 148h0M1620.9 271.2h0M1457.5 184.4h0M1597.3 290.4h0M1516.3 250.6h0M1457.5 210.6h0M1656.7 274.3h0M1590 281h0M1457.8 171.3h0M1524.2 191.1h0M1502.7 282.4h0M1566.6 211.1h0M1724.3 278.7h0M1653.1 280.6h0M1552 237h0M1552.9 123.2h0M1720.7 244.8h0M1581 196.4h0M1601.1 284.1h0M1479.1 144.4h0M1495.1 262.9h0M1470 106.8h0M1514.3 270.7h0M1649.1 209.3h0M1438.5 191.5h0M1456.6 232.6h0M1446.7 185.2h0M1513.6 156.6h0M1447.3 145.9h0M1502 145.7h0M1536.2 102.6h0M1600.5 277.8h0M1653.1 210.9h0M1565 236h0M1645.8 214.6h0M1468.4 258.1h0M1445.9 101.9h0M1572.8 180.7h0M1497.7 282.2h0M1574.2 264.5h0M1524.3 216.6h0M1481.7 138.4h0M1700.5 276.3h0M1739.2 265.9h0M1554.8 158.3h0M1524.9 223h0M1682.4 273h0M1447.8 172.9h0M1535.3 134.1h0M1471.1 266.8h0M1638.9 223.7h0M1738.4 264.9h0M1470.8 107.6h0M1566.5 219.2h0M1734.4 270.4h0M1567 195.8h0M1675.1 247.7h0M1443.3 118.5h0M1445 160.3h0M1544.4 98h0M1573.1 178.3h0M1512.3 267.6h0M1543.7 94.4h0M1469.5 143.5h0M1655.9 247h0M1676.6 242.9h0M1458 229.7h0M1695.9 228.1h0M1532.6 123h0M1456.7 245.8h0M1471.3 134.1h0M1513.1 149.9h0M1463.6 283.2h0M1627.2 272.3h0M1457.2 148.4h0M1550 110.8h0M1481.1 138.2h0M1552.9 224.9h0M1629.9 275.1h0M1563.1 154.9h0M1549.9 110.5h0M1606.9 229.8h0M1594.8 293.9h0M1686.5 274.2h0M1502.2 129.3h0M1494.4 261.3h0M1691.9 275.2h0M1674.1 251.7h0M1716.3 242.2h0M1719.6 277.8h0M1469.1 132.6h0M1459 273.5h0M1591.3 283.2h0M1525.7 206.2h0M1545.7 102h0M1554.1 122h0M1652.8 212.3h0M1444.6 198.7h0M1478.7 122.6h0M1576.1 264h0M1459.4 150h0M1688.7 231.6h0M1557.9 150.3h0M1466.2 285.9h0M1701.4 228.4h0M1456.1 159.9h0M1521.6 220.8h0M1608.7 272.2h0M1440.2 141.8h0M1575.5 192h0M1568.4 252.8h0M1464.5 282.4h0M1563.5 157.3h0M1507.8 158h0M1648.4 215.3h0M1591.8 225.3h0M1629.9 228h0M1557.4 150.1h0M1469.5 135.1h0M1728.6 274.9h0M1457 191.3h0M1567.2 191.3h0M1551.3 206.2h0M1599.9 286.3h0M1446.4 147.8h0M1438.8 145.3h0M1726.5 251.6h0M1496.5 276.3h0M1591.1 296.4h0M1521.4 211h0M1472.1 122.7h0M1459.2 198.1h0M1535.9 138.1h0M1439.2 169.2h0M1698.5 275.6h0M1555.6 161.7h0M1525.3 177.3h0M1466.5 282.9h0M1459.3 215.9h0M1604.6 276.7h0M1650.3 278.2h0M1648.3 210h0M1445 208.6h0M1495.3 165.7h0M1644.7 215.7h0M1512.5 275.8h0M1534 192.7h0M1448.3 110.9h0M1460.2 202h0M1652.6 210.6h0M1690.2 273h0M1525 161.6h0M1457.7 228.3h0M1676.7 273.4h0M1461.7 274.4h0M1566.4 162.4h0M1536 139.2h0M1492.1 256.8h0M1503.6 136.3h0M1563.6 149.6h0M1564.4 196.2h0M1564.3 219.7h0M1732.5 253.8h0M1532.9 170.7h0M1462.2 266.3h0M1617.4 271.9h0M1504.6 149.1h0M1516 152h0M1654.6 256.5h0M1445.4 133.2h0M1560.6 135.2h0M1524.9 230.6h0M1464.5 280.9h0M1440.4 178.8h0M1543.3 93h0M1525.5 160.4h0M1445.4 191.3h0M1489.4 170.3h0M1478 116.9h0M1446.4 151.1h0M1592.8 219.8h0M1441.8 193.4h0M1444.8 142.9h0M1480.7 132h0M1718.1 242.6h0M1542.9 95.3h0M1710.4 278.4h0M1444.8 141.9h0M1444.6 164.3h0M1467 281.4h0M1576.5 188.5h0M1471 123.1h0M1601.6 281.4h0M1551.1 241.7h0M1474.9 109.4h0M1495.5 152.8h0M1441.6 190.8h0M1537.3 111.5h0M1675.3 254.1h0M1570.4 262.3h0M1482.5 152.6h0M1460.3 246.3h0M1675.7 269.5h0M1556.6 129.4h0M1478.3 127.7h0M1475.4 106.9h0M1445.1 98.1h0M1473.9 256.3h0M1564.8 220.5h0M1470.5 272.9h0M1522.8 178.2h0M1440 205.3h0M1456.6 161.6h0M1672.4 264.7h0M1456.4 232.7h0M1479.3 145.5h0M1683 272.4h0M1591.5 214.9h0M1474.5 255.4h0M1648.5 210.6h0M1524.4 187.2h0M1469.6 132.7h0M1547.9 224.6h0M1538.1 102.3h0M1496.4 157.8h0M1738.9 268.5h0M1443.5 186.4h0M1442.9 117.9h0M1459 170h0M1610.8 229.9h0M1566.8 204h0M1634.1 226.1h0M1549.3 105.7h0M1558.5 147.4h0M1438.9 146.3h0M1570 169.9h0M1533.1 181.5h0M1609.9 228.8h0M1512.3 267.1h0M1486.7 256.4h0M1652.2 208h0M1604.1 276.2h0M1502.7 124.2h0M1471.1 110.3h0M1579.5 195.6h0M1532.9 178.2h0M1522.9 224.9h0M1478.3 125.6h0M1642.9 276.8h0M1456.1 152.4h0M1567.3 179.3h0M1481.3 122.6h0M1565 145.3h0M1469.8 127h0M1458.8 145.6h0M1557.1 122.1h0M1736.8 269.1h0M1456.2 154.8h0M1446.1 105.8h0M1443.3 108.1h0M1566.2 229.8h0M1576.5 196.6h0M1446.2 192.2h0M1705.9 274.5h0M1484.3 254.5h0M1570.5 174.3h0M1709.5 277.8h0M1575 263h0M1560.8 136.6h0M1524.8 163.9h0M1445.7 127.1h0M1459.5 255.5h0M1652.8 274.4h0M1539.5 97h0M1468.7 280.4h0M1552.4 211.4h0M1471.8 114.3h0M1457.1 138h0M1575 182.7h0M1608.5 272.7h0M1683.3 274.2h0M1566.1 147.1h0M1650.6 210.9h0M1546.4 188h0M1500.8 284.1h0M1563.6 213.1h0M1519.9 152.6h0M1470.5 259.5h0M1442.2 201.8h0M1515.3 148.1h0M1468.1 144.2h0M1654.3 276.2h0M1461.1 159.1h0M1566.7 225.9h0M1459.8 148.1h0M1512.9 262.5h0M1563.9 159.2h0M1653.5 253.2h0M1446.9 102.5h0M1525.3 223.1h0M1532.2 140.9h0M1563.3 148.9h0M1543.8 92.7h0M1564.7 178.2h0M1436.9 180.2h0M1654.2 262.2h0M1554.2 172.4h0M1439 166.4h0M1498.6 147.5h0M1467.7 139.5h0M1468.1 161.8h0M1657.6 238.1h0M1513.1 273.6h0M1457.8 221.4h0M1557.7 152.9h0M1612.4 274.6h0M1567 186.7h0M1555.5 118.4h0M1438.7 183.8h0M1730 253.8h0M1445.4 153.8h0M1551 109.5h0M1602.5 227.2h0M1553.1 212.3h0M1703.5 274.8h0M1566.6 256.5h0M1536.6 120.9h0M1620.2 230.8h0M1677.5 237.5h0M1504.2 140.8h0M1714.4 239.9h0M1480.9 255.8h0M1532 158.1h0M1593.2 294.9h0M1676.7 237.3h0M1448 107h0M1480.5 131h0M1481.6 155.9h0M1554.1 111h0M1461.1 267.9h0M1534.9 153h0M1547.9 213.9h0M1585.1 273.7h0M1531.9 143.8h0M1566 160.3h0M1482.6 165.1h0M1498.8 276.6h0M1447.8 156.2h0M1497.1 263.5h0M1575.4 188.5h0M1548.2 195.1h0M1537.6 98.3h0M1562.4 143.8h0M1521.8 174.5h0M1443.6 111.9h0M1595.2 296.7h0M1443.7 178.1h0M1533.7 147.3h0M1570.1 170.4h0M1471.9 147.2h0M1548.7 228.9h0M1470.6 113.9h0M1552 117.4h0M1673.2 244.5h0M1523.9 214.2h0M1702.9 228h0M1676.4 250.4h0M1551.2 201.1h0M1458 190.7h0M1550 202.7h0M1525.3 167.7h0M1525.1 238.7h0M1498.2 281h0M1522.3 239.5h0M1574.1 181.4h0M1537.1 114.7h0M1533.1 186.9h0M1566.1 191.4h0M1567 217.3h0M1539 105.9h0M1737.2 261.2h0M1690 230.8h0M1470.6 266.8h0M1497.8 273.2h0M1656.6 247.7h0M1563.7 208.8h0M1570.8 169.8h0M1457.6 252.9h0M1443 201.9h0M1591.1 213.5h0M1457.4 145.4h0M1736.3 258.7h0M1447.4 200.4h0M1532.5 187.4h0M1546.4 97.6h0M1598.5 229.1h0M1679.4 238.9h0M1468.6 135.2h0M1481.2 133.3h0M1511 269.6h0M1474.2 253h0M1553.8 178.9h0M1574.3 181.7h0M1719.6 244.8h0M1656 226h0M1447.4 180.9h0M1438.3 150.8h0M1455.5 172.1h0M1458 218.5h0M1479.3 122h0M1565.5 146.5h0M1458.9 178.8h0M1494.3 260.5h0M1436.6 178.1h0M1562.9 149.4h0M1445 209h0M1479.3 139.8h0M1464.4 282.9h0M1483 163.3h0M1503.9 141.3h0M1513.3 258h0M1468.8 113.6h0M1589.1 285.1h0M1550.7 202.1h0M1656 225.3h0M1713.1 239.9h0M1440 169.8h0M1725.1 251.2h0M1468.7 131h0M1704.2 232.8h0M1472.1 136h0M1472.5 116.7h0M1445.9 129.8h0M1590.2 277.9h0M1582.4 204.9h0M1524.1 230.4h0M1481.9 153.4h0M1625.2 228.3h0M1440.1 164.8h0M1457.4 158.8h0M1479.4 149.9h0M1678.8 273.3h0M1523.3 235h0M1446.2 118.8h0M1504.7 123.2h0M1458.1 186.3h0M1551.9 180.4h0M1551.7 223.3h0M1615.3 272.9h0M1501.1 125.2h0M1497.3 131.8h0M1496.5 257.5h0M1566.6 238.1h0M1460.2 278.7h0M1646.2 212h0M1481.3 265.6h0M1561.7 138.9h0M1498.3 147.7h0M1693.8 274.3h0M1440.7 194.3h0M1469.5 135.7h0M1647.1 212.1h0M1497.3 162.3h0M1535.6 142.5h0M1455.4 159.8h0M1438.3 170.3h0M1479.8 257.1h0M1657.6 232.8h0M1647.6 277.7h0M1458.3 136h0M1656.7 251h0M1499.5 139.9h0M1502.1 149.7h0M1459.5 247.1h0M1545.3 100.1h0M1586 270.1h0M1685.9 232.7h0M1459.4 222.8h0M1441.3 123.4h0M1470.9 126.3h0M1440.8 139.6h0M1498 158.8h0M1715.1 241.3h0M1617.8 230.1h0M1589.2 296.1h0M1647.6 273.7h0M1488.4 254.8h0M1462.3 283.3h0M1470.7 141.4h0M1737.8 270.1h0M1447.7 127.1h0M1554 155.4h0M1594.8 293.9h0M1613.3 270.4h0M1675 249.2h0M1730.2 271.3h0M1729.2 276h0M1445.6 189.5h0M1521.8 234.5h0M1514.7 151.2h0M1645.9 219.1h0M1486 168h0M1436.1 153.3h0M1437.2 160.7h0M1523.4 189.8h0M1459.4 225.9h0M1445.1 100.2h0M1468.3 125.6h0M1446.1 151.4h0M1589.5 285.1h0M1521.9 198.3h0M1524.2 215.9h0M1532.6 129.9h0M1496.6 134.9h0M1446.9 159.2h0M1565.5 242.6h0M1447.3 156.4h0M1547.8 182h0M1468.7 118.2h0M1438.2 172.1h0M1554.9 166.7h0M1637.9 275.2h0M1460.8 277.6h0M1536.1 117.3h0M1575.4 194.7h0M1498.6 275.4h0M1499.2 273.4h0M1485.2 170.2h0M1483.7 167.6h0M1441.3 126h0M1521.5 208.4h0M1594.2 225.6h0M1446.6 116.1h0M1445.8 178.1h0M1596.6 293.4h0M1504.2 131h0M1445.4 186.9h0M1673.6 243.4h0M1587.5 275.7h0M1491.2 170.3h0M1446.7 187.2h0M1655.3 278.5h0M1657.1 247h0M1439.2 205.6h0M1626.4 274.8h0M1482.2 261.3h0M1566.3 198.8h0M1458.9 238.9h0M1480.3 121.3h0M1537.5 194.5h0M1547.6 236.9h0M1478.5 145.5h0M1533 150.9h0M1441.3 205.7h0M1734.4 254.4h0M1461.9 265.9h0M1671.9 254.5h0M1500.1 283.6h0M1444.7 124.5h0M1440.1 163.4h0M1568.3 169.1h0M1533.8 184.3h0M1554.5 115.5h0M1481.4 150.5h0M1566.4 154.4h0M1439.9 142.1h0M1657.2 260.5h0M1505.5 151.9h0M1446.1 154.2h0M1520.1 241.2h0M1461.5 259.8h0M1564 228.5h0M1456.8 149.3h0M1532.5 152.4h0M1713.6 278.2h0M1551.3 238.1h0M1563.7 222.5h0M1496.8 153.1h0M1470.4 261.7h0M1728 249.7h0M1709.6 278.7h0M1511.9 269h0M1620.3 227.9h0M1582.8 199.4h0M1463 275.2h0M1653.6 237.4h0M1480 263.6h0M1470.6 273.5h0M1635.9 276.2h0M1706.8 237.7h0M1684.9 274.4h0M1640.5 221.8h0M1439.9 145.1h0M1518 150.2h0M1588.8 295.1h0M1500.4 130.3h0M1516.1 145.1h0M1679.2 270.4h0M1685.6 232.9h0M1479.3 117.2h0M1564.2 138.8h0M1518.3 150.6h0M1581.3 198.1h0M1524.4 169.1h0M1518.1 250.4h0M1456.3 163.5h0M1447.2 182.3h0M1638.3 275.2h0M1456.9 170.7h0M1480.6 157.1h0M1620.7 271.6h0M1479.4 127.4h0M1470 110.5h0M1455.6 163.1h0M1538.3 89.2h0M1533.3 145.8h0M1519.7 146.7h0M1731.3 253.5h0M1651.6 280.3h0M1650.7 207.6h0M1548.7 208h0M1551.1 229.3h0M1567.6 226.6h0M1497.3 263.7h0M1478 133.3h0M1532.9 183.3h0M1498.5 282.7h0M1521.9 210.2h0M1548.7 232.2h0M1566.7 168.6h0M1567.5 189.1h0M1555.8 152.1h0M1648.1 275.6h0M1472 156.6h0M1648.9 208.6h0M1464.1 161.2h0M1646.8 209.3h0M1459.4 151.3h0M1448.1 114.6h0M1523.5 218.3h0M1591.6 301.3h0M1552.1 205h0M1539.3 101h0M1740.7 267.2h0M1601.1 284.3h0M1547.2 103.2h0M1716 244.6h0M1468.3 132.4h0M1496.1 154.3h0M1439 158.7h0M1550.1 215.1h0M1468.1 136.8h0M1550.9 242.4h0M1479.9 262.4h0M1468.8 131.2h0M1623.2 274.6h0M1534 154.1h0M1649.1 211.8h0M1548.9 230.4h0M1455.9 189.4h0M1674.4 250.5h0M1441.7 191.4h0M1448.2 135h0M1586.4 207.8h0M1735.4 270.5h0M1457.6 141.3h0M1443.6 190.7h0M1497.2 154.1h0M1565.2 203h0M1551.6 222.3h0M1647.9 212.6h0M1553 175h0M1542.2 193.2h0M1497.6 142h0M1467.9 157.2h0M1565.1 144.1h0M1565.5 185.6h0M1480.5 166.3h0M1523.1 184.8h0M1460.1 259.9h0M1480.4 263.2h0M1654.9 276h0M1564.3 232.1h0M1549.8 181.2h0M1633.8 272.5h0M1439.9 198.5h0M1564.1 230h0M1635.6 227.7h0M1526.3 160.7h0M1494.6 154.5h0M1712.8 237.5h0M1652.9 214.5h0M1470.4 107.5h0M1479.1 163.1h0M1557.6 126.1h0M1566.6 243.2h0M1680.3 271.5h0M1550 229.4h0M1735.6 260.5h0M1440.4 126.5h0M1538.3 194.4h0M1592 218.3h0M1563.9 175h0M1440.8 200.9h0M1591.2 283.9h0M1445.8 107h0M1458.7 255.3h0M1533.8 138.3h0M1456.1 154.9h0M1676 252.2h0M1440.2 210.6h0M1468.5 152.1h0M1458 243.7h0M1458.6 143.5h0M1589.3 216.1h0M1532.3 144.8h0M1457.4 134.6h0M1497.5 266.2h0M1443.2 107.5h0M1442.5 202.4h0M1505.5 125.9h0M1549.8 234.9h0M1513.3 263.7h0M1437.5 140.7h0M1568.8 160.9h0M1438.8 204.1h0M1705.6 274.7h0M1502.9 147.7h0M1672.4 255.6h0M1650.4 279h0M1457.1 138.5h0M1720.3 276.1h0M1655.4 262.7h0M1448.3 104.1h0M1644.8 275.2h0M1627.5 228h0M1550 229.4h0M1567.1 232h0M1468.5 114.1h0M1533.1 185.2h0M1498.6 157.3h0M1458.9 260.6h0M1621.7 271.4h0M1584.9 268.2h0M1517.8 249h0M1525.9 209.9h0M1541.1 190.3h0M1536.5 191.3h0M1534.6 206.9h0M1538.2 185.5h0M1534.8 180.3h0M1533.4 177.2h0M1537.8 197.7h0M1530.8 214.6h0M1536.9 238.1h0M1534.6 179.5h0M1531.2 217.1h0M1542.6 190.3h0M1539.3 213.7h0M1537.6 218.8h0M1538.8 196.8h0M1528.3 236.5h0M1541.8 209h0M1535.9 214.3h0M1531.9 191h0M1531.3 201.4h0M1640.8 213.7h0M1607.8 217.2h0M1617.4 219.7h0M1617.4 209h0M1625.5 212.6h0M1623.4 208.6h0M1690.5 212.5h0M1713.8 230.5h0M1702.5 201.9h0M1712.2 228.6h0M1693.8 230.7h0M1716.9 223.8h0M1687.6 225.1h0M1706.4 212.4h0M1696.7 211.4h0M1712 233.6h0M1686.6 227.2h0M1775.5 250.7h0M1776.5 254.8h0M1778.5 258.8h0M1780.5 261.8h0M1782.5 264.8h0M1784.5 267.9h0M1780.5 254.8h0M1782.5 258.8h0M1784.5 261.8h0M1786.5 259.8h0M1777.5 262.8h0M1781.5 267.9h0M1778.5 251.7h0M1446.4 64.3h0M1445.4 79.8h0M1445.9 86.5h0M1456.1 126.3h0M1459.4 139.4h0M1442.5 210.1h0M1446.4 235.1h0M1475 89.4h0M1503.5 76.2h0M1501.4 85.8h0M1503.8 94.6h0M1501.4 110.8h0M1504.9 119.1h0M1499 127.5h0M1502.3 102.6h0M1516.7 142.9h0M1574.1 113.7h0M1565.1 133.4h0M1524.9 163.7h0M1552.1 169.6h0M1551.3 197h0M1534.4 226.8h0M1594 170.8h0M1593.4 210.1h0M1640.6 199.8h0M1637 208.4h0M1647.7 209.4h0M1635.9 218.5h0M1703.5 191.8h0M1709 205.4h0M1703.1 216.8h0M1680.7 225.5h0M1704.2 164.4h0M1775.2 242.2h0M1464.8 301.8h0M1467.2 318.9h0M1482 273.7h0M1499 289.1h0M1507.8 279.6h0M1517.9 280h0M1497.8 307.5h0M1550.9 247.4h0M1552.1 253.3h0M1548.6 261.3h0M1553.7 260.5h0M1548.6 269.4h0M1559.1 277.2h0M1565.8 265.8h0M1573.3 270.8h0M1581.6 270.1h0M1591 308.2h0M1611.1 293.9h0M1622.4 293.9h0M1655.8 285.6h0M1709.5 285.6h0M1727.8 285.6h0M1775.9 281.2h0M1782.2 281.2h0" stroke="#000" stroke-width="7.6" stroke-linecap="round" fill="none"/>
<rect x="1391.40" y="10.80" width="456.50" height="329.50" fill="none" stroke="#000" stroke-width="1.4"/>
<path d="M1391.40 340.30v-8M1391.40 10.80v8M1482.70 340.30v-8M1482.70 10.80v8M1574.00 340.30v-8M1574.00 10.80v8M1665.30 340.30v-8M1665.30 10.80v8M1756.60 340.30v-8M1756.60 10.80v8M1847.90 340.30v-8M1847.90 10.80v8M1437.05 340.30v-4.5M1437.05 10.80v4.5M1528.35 340.30v-4.5M1528.35 10.80v4.5M1619.65 340.30v-4.5M1619.65 10.80v4.5M1710.95 340.30v-4.5M1710.95 10.80v4.5M1802.25 340.30v-4.5M1802.25 10.80v4.5M1391.40 340.30h8M1847.90 340.30h-8M1391.40 307.35h4.5M1847.90 307.35h-4.5M1391.40 274.40h8M1847.90 274.40h-8M1391.40 241.45h4.5M1847.90 241.45h-4.5M1391.40 208.50h8M1847.90 208.50h-8M1391.40 175.55h4.5M1847.90 175.55h-4.5M1391.40 142.60h8M1847.90 142.60h-8M1391.40 109.65h4.5M1847.90 109.65h-4.5M1391.40 76.70h8M1847.90 76.70h-8M1391.40 43.75h4.5M1847.90 43.75h-4.5M1391.40 10.80h8M1847.90 10.80h-8" stroke="#000" stroke-width="1.3" fill="none"/>
<text x="1391.40" y="367.40" font-size="26.6" text-anchor="middle">0</text>
<text x="1482.70" y="367.40" font-size="26.6" text-anchor="middle">4</text>
<text x="1574.00" y="367.40" font-size="26.6" text-anchor="middle">8</text>
<text x="1665.30" y="367.40" font-size="26.6" text-anchor="middle">12</text>
<text x="1756.60" y="367.40" font-size="26.6" text-anchor="middle">16</text>
<text x="1847.90" y="367.40" font-size="26.6" text-anchor="middle">20</text>
<text x="1383.90" y="348.81" font-size="26.6" text-anchor="end">0.4</text>
<text x="1383.90" y="281.41" font-size="26.6" text-anchor="end">0.6</text>
<text x="1383.90" y="215.51" font-size="26.6" text-anchor="end">0.8</text>
<text x="1383.90" y="149.61" font-size="26.6" text-anchor="end">1.0</text>
<text x="1383.90" y="83.71" font-size="26.6" text-anchor="end">1.2</text>
<text x="1383.90" y="17.81" font-size="26.6" text-anchor="end">1.4</text>
<text x="108.7" y="62" font-size="37.8" style="fill:#0c0ce6;stroke:#0c0ce6">OJ 287</text>
<text x="91" y="322.5" font-size="28.2" style="fill:#0c0ce6;stroke:#0c0ce6">r = -0.50</text>
<rect x="338.2" y="26.2" width="199.7" height="47.9" fill="none" stroke="#000" stroke-width="1"/>
<circle cx="374.8" cy="50.3" r="5.8"/>
<text x="413.5" y="58.8" font-size="27.6">F<tspan dy="10.6" font-size="17.5">g</tspan><tspan dy="-10.6">.vs.α</tspan></text>
<path d="M252.8 102.8H336.5" stroke="#e6001e" stroke-width="2.6"/>
<text x="345.8" y="115" font-size="36.8">Linear fitting</text>
<text x="288.6" y="407.4" font-size="26">F<tspan dy="10.8" dx="1.7" font-size="17.5">g</tspan><tspan dy="-10.8" dx="-1.5"> /</tspan><tspan dx="1.7"> mJy</tspan></text>
<text transform="translate(18.6 180.6) rotate(-90) scale(1.4 1)" font-size="33" style="stroke:none">α</text>
<text x="753.5" y="60" font-size="37.7" style="fill:#0c0ce6;stroke:#0c0ce6">OJ 287</text>
<text x="739.3" y="329.4" font-size="28" style="fill:#0c0ce6;stroke:#0c0ce6">r = -0.47</text>
<rect x="1016" y="22.5" width="162.6" height="46.8" fill="none" stroke="#000" stroke-width="1"/>
<circle cx="1049.9" cy="44.6" r="5.8"/>
<text x="1088" y="54.2" font-size="28">F<tspan dy="10.4" font-size="17">r</tspan><tspan dy="-10.4">.vs.α</tspan></text>
<path d="M966.2 98.4H1031.7" stroke="#e6001e" stroke-width="2.4"/>
<text x="1037.8" y="106.7" font-size="27.2">Linear fitting</text>
<text x="930.3" y="407.9" font-size="25.9">F<tspan dy="10.4" font-size="17">r</tspan><tspan dy="-10.4" dx="0"> /</tspan><tspan dx="1.2"> mJy</tspan></text>
<text transform="translate(667.6 180.8) rotate(-90) scale(1.35 1)" font-size="36" style="stroke:none">α</text>
<text x="1408.4" y="54.3" font-size="34.1" style="fill:#0c0ce6;stroke:#0c0ce6">OJ 287</text>
<text x="1400.2" y="328.5" font-size="25.6" style="fill:#0c0ce6;stroke:#0c0ce6">r = -0.44</text>
<rect x="1694.5" y="15.6" width="149" height="43.6" fill="none" stroke="#000" stroke-width="1"/>
<circle cx="1726.2" cy="35.8" r="5.8"/>
<text x="1762" y="44.4" font-size="26">F<tspan dy="8.8" font-size="15.6">r</tspan><tspan dy="-8.8">.vs.α</tspan></text>
<path d="M1569.5 83.8H1648.8" stroke="#e6001e" stroke-width="2.4"/>
<text x="1656.8" y="94.4" font-size="34.2">Linear fitting</text>
<text x="1593.8" y="406.3" font-size="24.5">F<tspan dy="9.4" font-size="16">r</tspan><tspan dy="-9.4" dx="-0.3"> /</tspan><tspan dx="1.9"> mJy</tspan></text>
<text transform="translate(1325.7 185.8) rotate(-90) scale(1.25 1)" font-size="32" style="stroke:none">α</text>
</g></svg></body></html>
